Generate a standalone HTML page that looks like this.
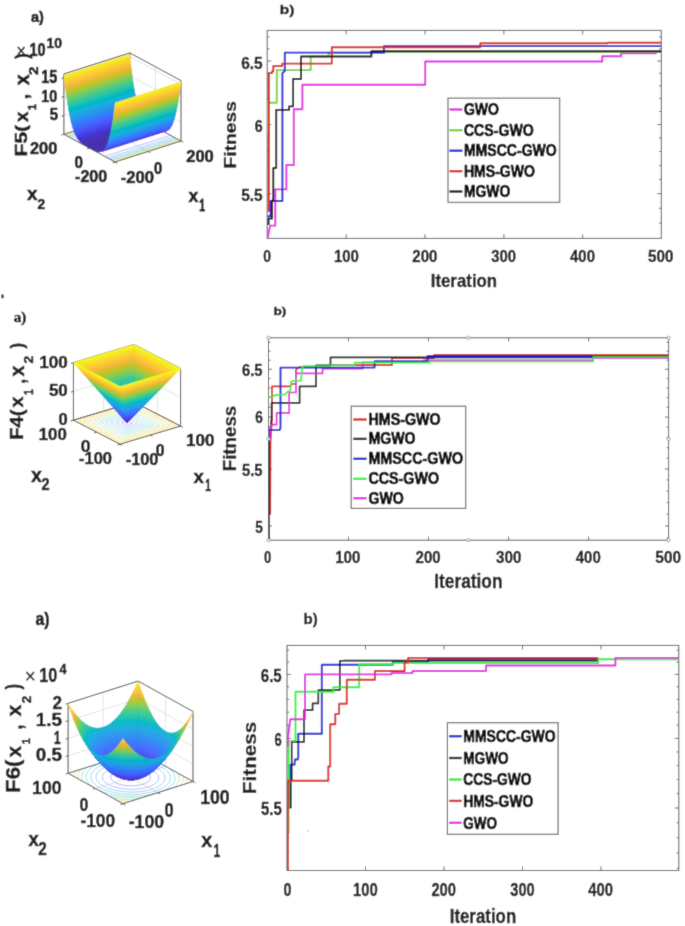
<!DOCTYPE html>
<html><head><meta charset="utf-8"><title>Figure</title>
<style>html,body{margin:0;padding:0;background:#fff}svg{display:block}</style>
</head><body>
<svg width="685" height="926" viewBox="0 0 685 926">
<defs><filter id="soft" filterUnits="userSpaceOnUse" x="0" y="0" width="685" height="926"><feConvolveMatrix order="3" kernelMatrix="0.0169 0.0962 0.0169 0.0962 0.5476 0.0962 0.0169 0.0962 0.0169" edgeMode="duplicate" preserveAlpha="true"/></filter></defs>
<rect width="685" height="926" fill="#fff"/>
<g filter="url(#soft)">
<rect width="685" height="926" fill="#fff"/>
<polygon points="115.1,162.0 181.0,141.0 129.8,113.3 63.9,134.3" fill="#fff"/>
<polygon points="63.9,134.3 129.8,113.3 129.8,52.9 63.9,73.9" fill="#fff"/>
<polygon points="129.8,113.3 181.0,141.0 181.0,80.6 129.8,52.9" fill="#fff"/>
<line x1="148.1" y1="151.5" x2="96.9" y2="123.8" stroke="#dcdcdc" stroke-width="0.8" />
<line x1="96.9" y1="123.8" x2="96.9" y2="63.4" stroke="#dcdcdc" stroke-width="0.8" />
<line x1="89.5" y1="148.2" x2="155.4" y2="127.2" stroke="#dcdcdc" stroke-width="0.8" />
<line x1="155.4" y1="127.2" x2="155.4" y2="66.8" stroke="#dcdcdc" stroke-width="0.8" />
<line x1="63.9" y1="115.4" x2="129.8" y2="94.4" stroke="#dcdcdc" stroke-width="0.8" />
<line x1="129.8" y1="94.4" x2="181.0" y2="122.1" stroke="#dcdcdc" stroke-width="0.8" />
<line x1="63.9" y1="96.6" x2="129.8" y2="75.6" stroke="#dcdcdc" stroke-width="0.8" />
<line x1="129.8" y1="75.6" x2="181.0" y2="103.2" stroke="#dcdcdc" stroke-width="0.8" />
<line x1="63.9" y1="77.7" x2="129.8" y2="56.7" stroke="#dcdcdc" stroke-width="0.8" />
<line x1="129.8" y1="56.7" x2="181.0" y2="84.4" stroke="#dcdcdc" stroke-width="0.8" />
<line x1="63.9" y1="134.3" x2="129.8" y2="113.3" stroke="#4a4a4a" stroke-width="1.0" />
<line x1="129.8" y1="113.3" x2="181.0" y2="141.0" stroke="#4a4a4a" stroke-width="1.0" />
<line x1="129.8" y1="113.3" x2="129.8" y2="52.9" stroke="#4a4a4a" stroke-width="1.0" />
<line x1="63.9" y1="73.9" x2="129.8" y2="52.9" stroke="#4a4a4a" stroke-width="1.0" />
<line x1="129.8" y1="52.9" x2="181.0" y2="80.6" stroke="#4a4a4a" stroke-width="1.0" />
<line x1="181.0" y1="141.0" x2="181.0" y2="80.6" stroke="#4a4a4a" stroke-width="1.0" />
<line x1="63.9" y1="134.3" x2="63.9" y2="73.9" stroke="#4a4a4a" stroke-width="1.0" />
<line x1="104.7" y1="156.4" x2="170.6" y2="135.4" stroke="#484cef" stroke-width="0.7" opacity="0.55"/>
<line x1="74.3" y1="139.9" x2="140.2" y2="118.9" stroke="#484cef" stroke-width="0.7" opacity="0.55"/>
<line x1="107.6" y1="157.9" x2="173.5" y2="136.9" stroke="#347afd" stroke-width="0.7" opacity="0.55"/>
<line x1="71.4" y1="138.4" x2="137.3" y2="117.4" stroke="#347afd" stroke-width="0.7" opacity="0.55"/>
<line x1="109.5" y1="159.0" x2="175.4" y2="138.0" stroke="#21a3e3" stroke-width="0.7" opacity="0.55"/>
<line x1="69.5" y1="137.3" x2="135.4" y2="116.3" stroke="#21a3e3" stroke-width="0.7" opacity="0.55"/>
<line x1="111.0" y1="159.8" x2="176.9" y2="138.8" stroke="#12beb9" stroke-width="0.7" opacity="0.55"/>
<line x1="68.0" y1="136.5" x2="133.9" y2="115.5" stroke="#12beb9" stroke-width="0.7" opacity="0.55"/>
<line x1="112.3" y1="160.5" x2="178.2" y2="139.5" stroke="#5ccc76" stroke-width="0.7" opacity="0.55"/>
<line x1="66.7" y1="135.8" x2="132.6" y2="114.8" stroke="#5ccc76" stroke-width="0.7" opacity="0.55"/>
<line x1="113.3" y1="161.0" x2="179.2" y2="140.0" stroke="#c8c129" stroke-width="0.7" opacity="0.55"/>
<line x1="65.7" y1="135.3" x2="131.6" y2="114.3" stroke="#c8c129" stroke-width="0.7" opacity="0.55"/>
<line x1="114.3" y1="161.5" x2="180.2" y2="140.5" stroke="#feca33" stroke-width="0.7" opacity="0.55"/>
<line x1="64.7" y1="134.8" x2="130.6" y2="113.8" stroke="#feca33" stroke-width="0.7" opacity="0.55"/>
<g stroke-linejoin="round">
<path d="M63.9 75.1L129.8 54.1L130.2 57.6L130.5 61.0L64.6 82.0L64.3 78.6Z" fill="#f5eb23" stroke="#f5eb23" stroke-width="0"/>
<path d="M64.3 78.6L130.2 57.6L130.5 61.0L130.9 64.2L65.0 85.2L64.6 82.0Z" fill="#f9d72c" stroke="#f9d72c" stroke-width="0"/>
<path d="M64.6 82.0L130.5 61.0L130.9 64.2L131.3 67.3L65.4 88.3L65.0 85.2Z" fill="#fec537" stroke="#fec537" stroke-width="0"/>
<path d="M65.0 85.2L130.9 64.2L131.3 67.3L131.6 70.3L65.7 91.3L65.4 88.3Z" fill="#f3ba39" stroke="#f3ba39" stroke-width="0"/>
<path d="M65.4 88.3L131.3 67.3L131.6 70.3L132.0 73.1L66.1 94.1L65.7 91.3Z" fill="#d9be28" stroke="#d9be28" stroke-width="0"/>
<path d="M65.7 91.3L131.6 70.3L132.0 73.1L132.4 75.8L66.5 96.8L66.1 94.1Z" fill="#bac430" stroke="#bac430" stroke-width="0"/>
<path d="M66.1 94.1L132.0 73.1L132.4 75.8L132.7 78.5L66.8 99.5L66.5 96.8Z" fill="#97ca47" stroke="#97ca47" stroke-width="0"/>
<path d="M66.5 96.8L132.4 75.8L132.7 78.5L133.1 80.9L67.2 101.9L66.8 99.5Z" fill="#74cc62" stroke="#74cc62" stroke-width="0"/>
<path d="M66.8 99.5L132.7 78.5L133.1 80.9L133.5 83.3L67.6 104.3L67.2 101.9Z" fill="#55cc7c" stroke="#55cc7c" stroke-width="0"/>
<path d="M67.2 101.9L133.1 80.9L133.5 83.3L133.8 85.6L67.9 106.6L67.6 104.3Z" fill="#3cc992" stroke="#3cc992" stroke-width="0"/>
<path d="M67.6 104.3L133.5 83.3L133.8 85.6L134.2 87.8L68.3 108.8L67.9 106.6Z" fill="#2ec5a3" stroke="#2ec5a3" stroke-width="0"/>
<path d="M67.9 106.6L133.8 85.6L134.2 87.8L134.6 89.8L68.7 110.8L68.3 108.8Z" fill="#1ec0b2" stroke="#1ec0b2" stroke-width="0"/>
<path d="M68.3 108.8L134.2 87.8L134.6 89.8L134.9 91.8L69.0 112.8L68.7 110.8Z" fill="#06bcc0" stroke="#06bcc0" stroke-width="0"/>
<path d="M68.7 110.8L134.6 89.8L134.9 91.8L135.3 93.7L69.4 114.7L69.0 112.8Z" fill="#03b6cc" stroke="#03b6cc" stroke-width="0"/>
<path d="M69.0 112.8L134.9 91.8L135.3 93.7L135.7 95.5L69.8 116.5L69.4 114.7Z" fill="#13b1d7" stroke="#13b1d7" stroke-width="0"/>
<path d="M69.4 114.7L135.3 93.7L135.7 95.5L136.0 97.2L70.1 118.2L69.8 116.5Z" fill="#1caadf" stroke="#1caadf" stroke-width="0"/>
<path d="M69.8 116.5L135.7 95.5L136.0 97.2L136.4 98.8L70.5 119.8L70.1 118.2Z" fill="#21a2e4" stroke="#21a2e4" stroke-width="0"/>
<path d="M70.1 118.2L136.0 97.2L136.4 98.8L136.7 100.4L70.8 121.4L70.5 119.8Z" fill="#259be8" stroke="#259be8" stroke-width="0"/>
<path d="M70.5 119.8L136.4 98.8L136.7 100.4L137.1 101.8L71.2 122.8L70.8 121.4Z" fill="#2994ed" stroke="#2994ed" stroke-width="0"/>
<path d="M70.8 121.4L136.7 100.4L137.1 101.8L137.5 103.2L71.6 124.2L71.2 122.8Z" fill="#2d8df2" stroke="#2d8df2" stroke-width="0"/>
<path d="M71.2 122.8L137.1 101.8L137.5 103.2L137.8 104.6L71.9 125.6L71.6 124.2Z" fill="#2e86f8" stroke="#2e86f8" stroke-width="0"/>
<path d="M71.6 124.2L137.5 103.2L137.8 104.6L138.2 105.8L72.3 126.8L71.9 125.6Z" fill="#307ffb" stroke="#307ffb" stroke-width="0"/>
<path d="M71.9 125.6L137.8 104.6L138.2 105.8L138.6 107.0L72.7 128.0L72.3 126.8Z" fill="#3677fe" stroke="#3677fe" stroke-width="0"/>
<path d="M72.3 126.8L138.2 105.8L138.6 107.0L138.9 108.1L73.0 129.1L72.7 128.0Z" fill="#3d70ff" stroke="#3d70ff" stroke-width="0"/>
<path d="M72.7 128.0L138.6 107.0L138.9 108.1L139.3 109.2L73.4 130.2L73.0 129.1Z" fill="#426afe" stroke="#426afe" stroke-width="0"/>
<path d="M73.0 129.1L138.9 108.1L139.3 109.2L139.7 110.2L73.8 131.2L73.4 130.2Z" fill="#4564fd" stroke="#4564fd" stroke-width="0"/>
<path d="M73.4 130.2L139.3 109.2L139.7 110.2L140.0 111.2L74.1 132.2L73.8 131.2Z" fill="#465efb" stroke="#465efb" stroke-width="0"/>
<path d="M73.8 131.2L139.7 110.2L140.0 111.2L140.4 112.1L74.5 133.1L74.1 132.2Z" fill="#4759f9" stroke="#4759f9" stroke-width="0"/>
<path d="M74.1 132.2L140.0 111.2L140.4 112.1L140.8 112.9L74.9 133.9L74.5 133.1Z" fill="#4755f6" stroke="#4755f6" stroke-width="0"/>
<path d="M74.5 133.1L140.4 112.1L140.8 112.9L141.1 113.7L75.2 134.7L74.9 133.9Z" fill="#4850f3" stroke="#4850f3" stroke-width="0"/>
<path d="M74.9 133.9L140.8 112.9L141.1 113.7L141.5 114.5L75.6 135.5L75.2 134.7Z" fill="#484cf0" stroke="#484cf0" stroke-width="0"/>
<path d="M75.2 134.7L141.1 113.7L141.5 114.5L141.9 115.2L76.0 136.2L75.6 135.5Z" fill="#4848ec" stroke="#4848ec" stroke-width="0"/>
<path d="M75.6 135.5L141.5 114.5L141.9 115.2L142.2 115.9L76.3 136.9L76.0 136.2Z" fill="#4744e8" stroke="#4744e8" stroke-width="0"/>
<path d="M76.0 136.2L141.9 115.2L142.2 115.9L142.6 116.5L76.7 137.5L76.3 136.9Z" fill="#4741e5" stroke="#4741e5" stroke-width="0"/>
<path d="M76.3 136.9L142.2 115.9L142.6 116.5L143.0 117.1L77.1 138.1L76.7 137.5Z" fill="#463ee1" stroke="#463ee1" stroke-width="0"/>
<path d="M76.7 137.5L142.6 116.5L143.0 117.1L143.3 117.7L77.4 138.7L77.1 138.1Z" fill="#463bdd" stroke="#463bdd" stroke-width="0"/>
<path d="M77.1 138.1L143.0 117.1L143.3 117.7L143.7 118.2L77.8 139.2L77.4 138.7Z" fill="#4539d8" stroke="#4539d8" stroke-width="0"/>
<path d="M77.4 138.7L143.3 117.7L143.7 118.2L144.1 118.7L78.2 139.7L77.8 139.2Z" fill="#4536d4" stroke="#4536d4" stroke-width="0"/>
<path d="M77.8 139.2L143.7 118.2L144.1 118.7L144.4 119.2L78.5 140.2L78.2 139.7Z" fill="#4435d0" stroke="#4435d0" stroke-width="0"/>
<path d="M78.2 139.7L144.1 118.7L144.4 119.2L144.8 119.7L78.9 140.7L78.5 140.2Z" fill="#4433cc" stroke="#4433cc" stroke-width="0"/>
<path d="M78.5 140.2L144.4 119.2L144.8 119.7L145.2 120.1L79.3 141.1L78.9 140.7Z" fill="#4331c8" stroke="#4331c8" stroke-width="0"/>
<path d="M78.9 140.7L144.8 119.7L145.2 120.1L145.5 120.5L79.6 141.5L79.3 141.1Z" fill="#4330c4" stroke="#4330c4" stroke-width="0"/>
<path d="M79.3 141.1L145.2 120.1L145.5 120.5L145.9 120.9L80.0 141.9L79.6 141.5Z" fill="#422fc1" stroke="#422fc1" stroke-width="0"/>
<path d="M79.6 141.5L145.5 120.5L145.9 120.9L146.3 121.2L80.4 142.2L80.0 141.9Z" fill="#422ebe" stroke="#422ebe" stroke-width="0"/>
<path d="M80.0 141.9L145.9 120.9L146.3 121.2L146.6 121.6L80.7 142.6L80.4 142.2Z" fill="#412dbb" stroke="#412dbb" stroke-width="0"/>
<path d="M80.4 142.2L146.3 121.2L146.6 121.6L147.0 121.9L81.1 142.9L80.7 142.6Z" fill="#412cb9" stroke="#412cb9" stroke-width="0"/>
<path d="M80.7 142.6L146.6 121.6L147.0 121.9L147.4 122.2L81.5 143.2L81.1 142.9Z" fill="#402bb7" stroke="#402bb7" stroke-width="0"/>
<path d="M81.1 142.9L147.0 121.9L147.4 122.2L147.7 122.5L81.8 143.5L81.5 143.2Z" fill="#402ab5" stroke="#402ab5" stroke-width="0"/>
<path d="M81.5 143.2L147.4 122.2L147.7 122.5L148.1 122.8L82.2 143.8L81.8 143.5Z" fill="#402ab3" stroke="#402ab3" stroke-width="0"/>
<path d="M81.8 143.5L147.7 122.5L148.1 122.8L148.5 123.1L82.6 144.1L82.2 143.8Z" fill="#3f29b1" stroke="#3f29b1" stroke-width="0"/>
<path d="M82.2 143.8L148.1 122.8L148.5 123.1L148.8 123.3L82.9 144.3L82.6 144.1Z" fill="#3f29b0" stroke="#3f29b0" stroke-width="0"/>
<path d="M82.6 144.1L148.5 123.1L148.8 123.3L149.2 123.6L83.3 144.6L82.9 144.3Z" fill="#3f28af" stroke="#3f28af" stroke-width="0"/>
<path d="M82.9 144.3L148.8 123.3L149.2 123.6L149.5 123.8L83.6 144.8L83.3 144.6Z" fill="#3f28ad" stroke="#3f28ad" stroke-width="0"/>
<path d="M83.3 144.6L149.2 123.6L149.5 123.8L149.9 124.1L84.0 145.1L83.6 144.8Z" fill="#3e28ad" stroke="#3e28ad" stroke-width="0"/>
<path d="M83.6 144.8L149.5 123.8L149.9 124.1L150.3 124.3L84.4 145.3L84.0 145.1Z" fill="#3e27ac" stroke="#3e27ac" stroke-width="0"/>
<path d="M84.0 145.1L149.9 124.1L150.3 124.3L150.6 124.5L84.7 145.5L84.4 145.3Z" fill="#3e27ab" stroke="#3e27ab" stroke-width="0"/>
<path d="M84.4 145.3L150.3 124.3L150.6 124.5L151.0 124.7L85.1 145.7L84.7 145.5Z" fill="#3e27aa" stroke="#3e27aa" stroke-width="0"/>
<path d="M84.7 145.5L150.6 124.5L151.0 124.7L151.4 124.9L85.5 145.9L85.1 145.7Z" fill="#3e27aa" stroke="#3e27aa" stroke-width="0"/>
<path d="M85.1 145.7L151.0 124.7L151.4 124.9L151.7 125.1L85.8 146.1L85.5 145.9Z" fill="#3e27aa" stroke="#3e27aa" stroke-width="0"/>
<path d="M85.5 145.9L151.4 124.9L151.7 125.1L152.1 125.4L86.2 146.4L85.8 146.1Z" fill="#3e27a9" stroke="#3e27a9" stroke-width="0"/>
<path d="M85.8 146.1L151.7 125.1L152.1 125.4L152.5 125.6L86.6 146.6L86.2 146.4Z" fill="#3e27a9" stroke="#3e27a9" stroke-width="0"/>
<path d="M86.2 146.4L152.1 125.4L152.5 125.6L152.8 125.8L86.9 146.8L86.6 146.6Z" fill="#3e26a9" stroke="#3e26a9" stroke-width="0"/>
<path d="M86.6 146.6L152.5 125.6L152.8 125.8L153.2 126.0L87.3 147.0L86.9 146.8Z" fill="#3e26a9" stroke="#3e26a9" stroke-width="0"/>
<path d="M86.9 146.8L152.8 125.8L153.2 126.0L153.6 126.2L87.7 147.2L87.3 147.0Z" fill="#3e26a9" stroke="#3e26a9" stroke-width="0"/>
<path d="M87.3 147.0L153.2 126.0L153.6 126.2L153.9 126.4L88.0 147.4L87.7 147.2Z" fill="#3e26a8" stroke="#3e26a8" stroke-width="0"/>
<path d="M87.7 147.2L153.6 126.2L153.9 126.4L154.3 126.6L88.4 147.6L88.0 147.4Z" fill="#3e26a8" stroke="#3e26a8" stroke-width="0"/>
<path d="M88.0 147.4L153.9 126.4L154.3 126.6L154.7 126.8L88.8 147.8L88.4 147.6Z" fill="#3e26a8" stroke="#3e26a8" stroke-width="0"/>
<path d="M88.4 147.6L154.3 126.6L154.7 126.8L155.0 127.0L89.1 148.0L88.8 147.8Z" fill="#3e26a8" stroke="#3e26a8" stroke-width="0"/>
<path d="M88.8 147.8L154.7 126.8L155.0 127.0L155.4 127.2L89.5 148.2L89.1 148.0Z" fill="#3e26a8" stroke="#3e26a8" stroke-width="0"/>
<path d="M89.1 148.0L155.0 127.0L155.4 127.2L155.8 127.3L89.9 148.3L89.5 148.2Z" fill="#3e26a8" stroke="#3e26a8" stroke-width="0"/>
<path d="M89.5 148.2L155.4 127.2L155.8 127.3L156.1 127.5L90.2 148.5L89.9 148.3Z" fill="#3e26a8" stroke="#3e26a8" stroke-width="0"/>
<path d="M89.9 148.3L155.8 127.3L156.1 127.5L156.5 127.7L90.6 148.7L90.2 148.5Z" fill="#3e26a8" stroke="#3e26a8" stroke-width="0"/>
<path d="M90.2 148.5L156.1 127.5L156.5 127.7L156.9 127.9L91.0 148.9L90.6 148.7Z" fill="#3e26a8" stroke="#3e26a8" stroke-width="0"/>
<path d="M90.6 148.7L156.5 127.7L156.9 127.9L157.2 128.1L91.3 149.1L91.0 148.9Z" fill="#3e26a8" stroke="#3e26a8" stroke-width="0"/>
<path d="M91.0 148.9L156.9 127.9L157.2 128.1L157.6 128.3L91.7 149.3L91.3 149.1Z" fill="#3e26a8" stroke="#3e26a8" stroke-width="0"/>
<path d="M91.3 149.1L157.2 128.1L157.6 128.3L158.0 128.5L92.1 149.5L91.7 149.3Z" fill="#3e26a8" stroke="#3e26a8" stroke-width="0"/>
<path d="M91.7 149.3L157.6 128.3L158.0 128.5L158.3 128.7L92.4 149.7L92.1 149.5Z" fill="#3e26a9" stroke="#3e26a9" stroke-width="0"/>
<path d="M92.1 149.5L158.0 128.5L158.3 128.7L158.7 128.9L92.8 149.9L92.4 149.7Z" fill="#3e26a9" stroke="#3e26a9" stroke-width="0"/>
<path d="M92.4 149.7L158.3 128.7L158.7 128.9L159.1 129.1L93.2 150.1L92.8 149.9Z" fill="#3e26a9" stroke="#3e26a9" stroke-width="0"/>
<path d="M92.8 149.9L158.7 128.9L159.1 129.1L159.4 129.3L93.5 150.3L93.2 150.1Z" fill="#3e27a9" stroke="#3e27a9" stroke-width="0"/>
<path d="M93.2 150.1L159.1 129.1L159.4 129.3L159.8 129.5L93.9 150.5L93.5 150.3Z" fill="#3e27a9" stroke="#3e27a9" stroke-width="0"/>
<path d="M93.5 150.3L159.4 129.3L159.8 129.5L160.2 129.7L94.3 150.7L93.9 150.5Z" fill="#3e27aa" stroke="#3e27aa" stroke-width="0"/>
<path d="M93.9 150.5L159.8 129.5L160.2 129.7L160.5 129.8L94.6 150.8L94.3 150.7Z" fill="#3e27aa" stroke="#3e27aa" stroke-width="0"/>
<path d="M94.3 150.7L160.2 129.7L160.5 129.8L160.9 130.0L95.0 151.0L94.6 150.8Z" fill="#3e27aa" stroke="#3e27aa" stroke-width="0"/>
<path d="M94.6 150.8L160.5 129.8L160.9 130.0L161.3 130.2L95.4 151.2L95.0 151.0Z" fill="#3e27ab" stroke="#3e27ab" stroke-width="0"/>
<path d="M95.0 151.0L160.9 130.0L161.3 130.2L161.6 130.3L95.7 151.3L95.4 151.2Z" fill="#3e27ac" stroke="#3e27ac" stroke-width="0"/>
<path d="M95.4 151.2L161.3 130.2L161.6 130.3L162.0 130.5L96.1 151.5L95.7 151.3Z" fill="#3e28ad" stroke="#3e28ad" stroke-width="0"/>
<path d="M95.7 151.3L161.6 130.3L162.0 130.5L162.3 130.6L96.4 151.6L96.1 151.5Z" fill="#3f28ad" stroke="#3f28ad" stroke-width="0"/>
<path d="M96.1 151.5L162.0 130.5L162.3 130.6L162.7 130.7L96.8 151.7L96.4 151.6Z" fill="#3f28af" stroke="#3f28af" stroke-width="0"/>
<path d="M96.4 151.6L162.3 130.6L162.7 130.7L163.1 130.8L97.2 151.8L96.8 151.7Z" fill="#3f29b0" stroke="#3f29b0" stroke-width="0"/>
<path d="M96.8 151.7L162.7 130.7L163.1 130.8L163.4 130.9L97.5 151.9L97.2 151.8Z" fill="#3f29b1" stroke="#3f29b1" stroke-width="0"/>
<path d="M97.2 151.8L163.1 130.8L163.4 130.9L163.8 131.0L97.9 152.0L97.5 151.9Z" fill="#402ab3" stroke="#402ab3" stroke-width="0"/>
<path d="M97.5 151.9L163.4 130.9L163.8 131.0L164.2 131.1L98.3 152.1L97.9 152.0Z" fill="#402ab5" stroke="#402ab5" stroke-width="0"/>
<path d="M97.9 152.0L163.8 131.0L164.2 131.1L164.5 131.1L98.6 152.1L98.3 152.1Z" fill="#402bb7" stroke="#402bb7" stroke-width="0"/>
<path d="M98.3 152.1L164.2 131.1L164.5 131.1L164.9 131.2L99.0 152.2L98.6 152.1Z" fill="#412cb9" stroke="#412cb9" stroke-width="0"/>
<path d="M98.6 152.1L164.5 131.1L164.9 131.2L165.3 131.2L99.4 152.2L99.0 152.2Z" fill="#412dbb" stroke="#412dbb" stroke-width="0"/>
<path d="M99.0 152.2L164.9 131.2L165.3 131.2L165.6 131.2L99.7 152.2L99.4 152.2Z" fill="#422ebe" stroke="#422ebe" stroke-width="0"/>
<path d="M99.4 152.2L165.3 131.2L165.6 131.2L166.0 131.1L100.1 152.1L99.7 152.2Z" fill="#422fc1" stroke="#422fc1" stroke-width="0"/>
<path d="M99.7 152.2L165.6 131.2L166.0 131.1L166.4 131.1L100.5 152.1L100.1 152.1Z" fill="#4330c4" stroke="#4330c4" stroke-width="0"/>
<path d="M100.1 152.1L166.0 131.1L166.4 131.1L166.7 131.0L100.8 152.0L100.5 152.1Z" fill="#4331c8" stroke="#4331c8" stroke-width="0"/>
<path d="M100.5 152.1L166.4 131.1L166.7 131.0L167.1 130.9L101.2 151.9L100.8 152.0Z" fill="#4433cc" stroke="#4433cc" stroke-width="0"/>
<path d="M100.8 152.0L166.7 131.0L167.1 130.9L167.5 130.8L101.6 151.8L101.2 151.9Z" fill="#4435d0" stroke="#4435d0" stroke-width="0"/>
<path d="M101.2 151.9L167.1 130.9L167.5 130.8L167.8 130.6L101.9 151.6L101.6 151.8Z" fill="#4536d4" stroke="#4536d4" stroke-width="0"/>
<path d="M101.6 151.8L167.5 130.8L167.8 130.6L168.2 130.4L102.3 151.4L101.9 151.6Z" fill="#4539d8" stroke="#4539d8" stroke-width="0"/>
<path d="M101.9 151.6L167.8 130.6L168.2 130.4L168.6 130.1L102.7 151.1L102.3 151.4Z" fill="#463bdd" stroke="#463bdd" stroke-width="0"/>
<path d="M102.3 151.4L168.2 130.4L168.6 130.1L168.9 129.9L103.0 150.9L102.7 151.1Z" fill="#463ee1" stroke="#463ee1" stroke-width="0"/>
<path d="M102.7 151.1L168.6 130.1L168.9 129.9L169.3 129.5L103.4 150.5L103.0 150.9Z" fill="#4741e5" stroke="#4741e5" stroke-width="0"/>
<path d="M103.0 150.9L168.9 129.9L169.3 129.5L169.7 129.2L103.8 150.2L103.4 150.5Z" fill="#4744e8" stroke="#4744e8" stroke-width="0"/>
<path d="M103.4 150.5L169.3 129.5L169.7 129.2L170.0 128.8L104.1 149.8L103.8 150.2Z" fill="#4848ec" stroke="#4848ec" stroke-width="0"/>
<path d="M103.8 150.2L169.7 129.2L170.0 128.8L170.4 128.3L104.5 149.3L104.1 149.8Z" fill="#484cf0" stroke="#484cf0" stroke-width="0"/>
<path d="M104.1 149.8L170.0 128.8L170.4 128.3L170.8 127.8L104.9 148.8L104.5 149.3Z" fill="#4850f3" stroke="#4850f3" stroke-width="0"/>
<path d="M104.5 149.3L170.4 128.3L170.8 127.8L171.1 127.2L105.2 148.2L104.9 148.8Z" fill="#4755f6" stroke="#4755f6" stroke-width="0"/>
<path d="M104.9 148.8L170.8 127.8L171.1 127.2L171.5 126.6L105.6 147.6L105.2 148.2Z" fill="#4759f9" stroke="#4759f9" stroke-width="0"/>
<path d="M105.2 148.2L171.1 127.2L171.5 126.6L171.9 125.9L106.0 146.9L105.6 147.6Z" fill="#465efb" stroke="#465efb" stroke-width="0"/>
<path d="M105.6 147.6L171.5 126.6L171.9 125.9L172.2 125.2L106.3 146.2L106.0 146.9Z" fill="#4564fd" stroke="#4564fd" stroke-width="0"/>
<path d="M106.0 146.9L171.9 125.9L172.2 125.2L172.6 124.4L106.7 145.4L106.3 146.2Z" fill="#426afe" stroke="#426afe" stroke-width="0"/>
<path d="M106.3 146.2L172.2 125.2L172.6 124.4L173.0 123.6L107.1 144.6L106.7 145.4Z" fill="#3d70ff" stroke="#3d70ff" stroke-width="0"/>
<path d="M106.7 145.4L172.6 124.4L173.0 123.6L173.3 122.6L107.4 143.6L107.1 144.6Z" fill="#3677fe" stroke="#3677fe" stroke-width="0"/>
<path d="M107.1 144.6L173.0 123.6L173.3 122.6L173.7 121.6L107.8 142.6L107.4 143.6Z" fill="#307ffb" stroke="#307ffb" stroke-width="0"/>
<path d="M107.4 143.6L173.3 122.6L173.7 121.6L174.1 120.6L108.2 141.6L107.8 142.6Z" fill="#2e86f8" stroke="#2e86f8" stroke-width="0"/>
<path d="M107.8 142.6L173.7 121.6L174.1 120.6L174.4 119.4L108.5 140.4L108.2 141.6Z" fill="#2d8df2" stroke="#2d8df2" stroke-width="0"/>
<path d="M108.2 141.6L174.1 120.6L174.4 119.4L174.8 118.2L108.9 139.2L108.5 140.4Z" fill="#2994ed" stroke="#2994ed" stroke-width="0"/>
<path d="M108.5 140.4L174.4 119.4L174.8 118.2L175.1 116.9L109.2 137.9L108.9 139.2Z" fill="#259be8" stroke="#259be8" stroke-width="0"/>
<path d="M108.9 139.2L174.8 118.2L175.1 116.9L175.5 115.5L109.6 136.5L109.2 137.9Z" fill="#21a2e4" stroke="#21a2e4" stroke-width="0"/>
<path d="M109.2 137.9L175.1 116.9L175.5 115.5L175.9 114.0L110.0 135.0L109.6 136.5Z" fill="#1caadf" stroke="#1caadf" stroke-width="0"/>
<path d="M109.6 136.5L175.5 115.5L175.9 114.0L176.2 112.4L110.3 133.4L110.0 135.0Z" fill="#13b1d7" stroke="#13b1d7" stroke-width="0"/>
<path d="M110.0 135.0L175.9 114.0L176.2 112.4L176.6 110.7L110.7 131.7L110.3 133.4Z" fill="#03b6cc" stroke="#03b6cc" stroke-width="0"/>
<path d="M110.3 133.4L176.2 112.4L176.6 110.7L177.0 109.0L111.1 130.0L110.7 131.7Z" fill="#06bcc0" stroke="#06bcc0" stroke-width="0"/>
<path d="M110.7 131.7L176.6 110.7L177.0 109.0L177.3 107.1L111.4 128.1L111.1 130.0Z" fill="#1ec0b2" stroke="#1ec0b2" stroke-width="0"/>
<path d="M111.1 130.0L177.0 109.0L177.3 107.1L177.7 105.1L111.8 126.1L111.4 128.1Z" fill="#2ec5a3" stroke="#2ec5a3" stroke-width="0"/>
<path d="M111.4 128.1L177.3 107.1L177.7 105.1L178.1 103.0L112.2 124.0L111.8 126.1Z" fill="#3cc992" stroke="#3cc992" stroke-width="0"/>
<path d="M111.8 126.1L177.7 105.1L178.1 103.0L178.4 100.8L112.5 121.8L112.2 124.0Z" fill="#55cc7c" stroke="#55cc7c" stroke-width="0"/>
<path d="M112.2 124.0L178.1 103.0L178.4 100.8L178.8 98.5L112.9 119.5L112.5 121.8Z" fill="#74cc62" stroke="#74cc62" stroke-width="0"/>
<path d="M112.5 121.8L178.4 100.8L178.8 98.5L179.2 96.0L113.3 117.0L112.9 119.5Z" fill="#97ca47" stroke="#97ca47" stroke-width="0"/>
<path d="M112.9 119.5L178.8 98.5L179.2 96.0L179.5 93.4L113.6 114.4L113.3 117.0Z" fill="#bac430" stroke="#bac430" stroke-width="0"/>
<path d="M113.3 117.0L179.2 96.0L179.5 93.4L179.9 90.7L114.0 111.7L113.6 114.4Z" fill="#d9be28" stroke="#d9be28" stroke-width="0"/>
<path d="M113.6 114.4L179.5 93.4L179.9 90.7L180.3 87.9L114.4 108.9L114.0 111.7Z" fill="#f3ba39" stroke="#f3ba39" stroke-width="0"/>
<path d="M114.0 111.7L179.9 90.7L180.3 87.9L180.6 84.9L114.7 105.9L114.4 108.9Z" fill="#fec537" stroke="#fec537" stroke-width="0"/>
<path d="M114.4 108.9L180.3 87.9L180.6 84.9L181.0 81.8L115.1 102.8L114.7 105.9Z" fill="#f9d72c" stroke="#f9d72c" stroke-width="0"/>
<path d="M114.7 105.9L180.6 84.9L181.0 81.8L181.0 81.8L115.1 102.8L115.1 102.8Z" fill="#f5eb23" stroke="#f5eb23" stroke-width="0"/>
</g>
<line x1="115.1" y1="162.0" x2="181.0" y2="141.0" stroke="#4a4a4a" stroke-width="1.0" />
<line x1="115.1" y1="162.0" x2="63.9" y2="134.3" stroke="#4a4a4a" stroke-width="1.0" />
<line x1="115.1" y1="162.0" x2="117.4" y2="163.2" stroke="#4a4a4a" stroke-width="0.9" />
<line x1="148.1" y1="151.5" x2="150.3" y2="152.7" stroke="#4a4a4a" stroke-width="0.9" />
<line x1="181.0" y1="141.0" x2="183.3" y2="142.2" stroke="#4a4a4a" stroke-width="0.9" />
<line x1="115.1" y1="162.0" x2="112.6" y2="162.8" stroke="#4a4a4a" stroke-width="0.9" />
<line x1="89.5" y1="148.2" x2="87.0" y2="148.9" stroke="#4a4a4a" stroke-width="0.9" />
<line x1="63.9" y1="134.3" x2="61.4" y2="135.1" stroke="#4a4a4a" stroke-width="0.9" />
<line x1="63.9" y1="115.4" x2="61.4" y2="116.2" stroke="#4a4a4a" stroke-width="0.9" />
<line x1="63.9" y1="96.6" x2="61.4" y2="97.3" stroke="#4a4a4a" stroke-width="0.9" />
<line x1="63.9" y1="77.7" x2="61.4" y2="78.5" stroke="#4a4a4a" stroke-width="0.9" />
<polygon points="120.0,444.2 180.6,426.1 134.0,402.1 73.4,420.2" fill="#fff"/>
<polygon points="73.4,420.2 134.0,402.1 134.0,344.5 73.4,362.6" fill="#fff"/>
<polygon points="134.0,402.1 180.6,426.1 180.6,368.5 134.0,344.5" fill="#fff"/>
<line x1="150.3" y1="435.1" x2="103.7" y2="411.1" stroke="#dcdcdc" stroke-width="0.8" />
<line x1="103.7" y1="411.1" x2="103.7" y2="353.5" stroke="#dcdcdc" stroke-width="0.8" />
<line x1="96.7" y1="432.2" x2="157.3" y2="414.1" stroke="#dcdcdc" stroke-width="0.8" />
<line x1="157.3" y1="414.1" x2="157.3" y2="356.5" stroke="#dcdcdc" stroke-width="0.8" />
<line x1="73.4" y1="391.4" x2="134.0" y2="373.3" stroke="#dcdcdc" stroke-width="0.8" />
<line x1="134.0" y1="373.3" x2="180.6" y2="397.3" stroke="#dcdcdc" stroke-width="0.8" />
<line x1="73.4" y1="420.2" x2="134.0" y2="402.1" stroke="#4a4a4a" stroke-width="1.0" />
<line x1="134.0" y1="402.1" x2="180.6" y2="426.1" stroke="#4a4a4a" stroke-width="1.0" />
<line x1="134.0" y1="402.1" x2="134.0" y2="344.5" stroke="#4a4a4a" stroke-width="1.0" />
<line x1="73.4" y1="362.6" x2="134.0" y2="344.5" stroke="#4a4a4a" stroke-width="1.0" />
<line x1="134.0" y1="344.5" x2="180.6" y2="368.5" stroke="#4a4a4a" stroke-width="1.0" />
<line x1="180.6" y1="426.1" x2="180.6" y2="368.5" stroke="#4a4a4a" stroke-width="1.0" />
<line x1="73.4" y1="420.2" x2="73.4" y2="362.6" stroke="#4a4a4a" stroke-width="1.0" />
<polygon points="120.0,444.2 180.6,426.1 134.0,402.1 73.4,420.2" fill="#fbf9dc"/>
<polygon points="121.1,440.8 172.0,425.6 132.9,405.5 82.0,420.7" fill="#fdfdf4"/>
<polygon points="122.0,438.3 165.6,425.3 132.0,408.0 88.4,421.0" fill="#ffffff"/>
<polygon points="126.3,425.3 132.4,423.4 127.7,421.0 121.6,422.9" fill="none" stroke="#4743e7" stroke-width="0.6" opacity="0.5"/>
<polygon points="125.6,427.4 137.7,423.7 128.4,418.9 116.3,422.6" fill="none" stroke="#4367fd" stroke-width="0.6" opacity="0.5"/>
<polygon points="124.9,429.5 143.1,424.0 129.1,416.8 110.9,422.3" fill="none" stroke="#2d8cf3" stroke-width="0.6" opacity="0.5"/>
<polygon points="124.2,431.6 148.4,424.3 129.8,414.7 105.6,422.0" fill="none" stroke="#1caadf" stroke-width="0.6" opacity="0.5"/>
<polygon points="123.5,433.7 153.8,424.6 130.5,412.6 100.2,421.7" fill="none" stroke="#12beb9" stroke-width="0.6" opacity="0.5"/>
<polygon points="122.8,435.8 159.2,424.9 131.2,410.5 94.8,421.4" fill="none" stroke="#48cb86" stroke-width="0.6" opacity="0.5"/>
<polygon points="122.1,437.9 164.5,425.2 131.9,408.4 89.5,421.1" fill="none" stroke="#9fc942" stroke-width="0.6" opacity="0.5"/>
<polygon points="121.4,440.0 169.9,425.5 132.6,406.3 84.1,420.8" fill="none" stroke="#eaba31" stroke-width="0.6" opacity="0.5"/>
<polygon points="120.7,442.1 175.2,425.8 133.3,404.2 78.8,420.5" fill="none" stroke="#fad42e" stroke-width="0.6" opacity="0.5"/>
<polygon points="120.0,444.2 180.6,426.1 134.0,402.1 73.4,420.2" fill="none" stroke="#f9fb15" stroke-width="0.6" opacity="0.5"/>
<line x1="73.4" y1="420.2" x2="134.0" y2="402.1" stroke="#4a4a4a" stroke-width="1.0" />
<line x1="134.0" y1="402.1" x2="180.6" y2="426.1" stroke="#4a4a4a" stroke-width="1.0" />
<linearGradient id="g2a" gradientUnits="userSpaceOnUse" x1="127.00" y1="423.15" x2="106.01" y2="352.86"><stop offset="0.0000" stop-color="#3e26a8"/><stop offset="0.0312" stop-color="#422ebf"/><stop offset="0.0625" stop-color="#4536d5"/><stop offset="0.0938" stop-color="#4741e5"/><stop offset="0.1250" stop-color="#484cef"/><stop offset="0.1562" stop-color="#4757f7"/><stop offset="0.1875" stop-color="#4562fc"/><stop offset="0.2188" stop-color="#3f6efe"/><stop offset="0.2500" stop-color="#347afd"/><stop offset="0.2812" stop-color="#2e85f8"/><stop offset="0.3125" stop-color="#2c90f0"/><stop offset="0.3438" stop-color="#269ae9"/><stop offset="0.3750" stop-color="#21a3e3"/><stop offset="0.4062" stop-color="#1aacdd"/><stop offset="0.4375" stop-color="#0cb3d3"/><stop offset="0.4688" stop-color="#01b9c6"/><stop offset="0.5000" stop-color="#12beb9"/><stop offset="0.5312" stop-color="#28c2ab"/><stop offset="0.5625" stop-color="#34c79c"/><stop offset="0.5938" stop-color="#44ca8a"/><stop offset="0.6250" stop-color="#5ccc76"/><stop offset="0.6562" stop-color="#77cc60"/><stop offset="0.6875" stop-color="#94ca4a"/><stop offset="0.7188" stop-color="#afc637"/><stop offset="0.7500" stop-color="#c8c129"/><stop offset="0.7812" stop-color="#debc2a"/><stop offset="0.8125" stop-color="#f1ba37"/><stop offset="0.8438" stop-color="#febe3c"/><stop offset="0.8750" stop-color="#feca33"/><stop offset="0.9062" stop-color="#f9d62d"/><stop offset="0.9375" stop-color="#f5e327"/><stop offset="0.9688" stop-color="#f6ef20"/><stop offset="1.0000" stop-color="#f9fb15"/></linearGradient>
<polygon points="127.0,423.1 73.4,362.6 134.0,344.5" fill="url(#g2a)" stroke="url(#g2a)" stroke-width="0.5" stroke-linejoin="round"/>
<linearGradient id="g2b" gradientUnits="userSpaceOnUse" x1="127.00" y1="423.15" x2="160.48" y2="358.14"><stop offset="0.0000" stop-color="#3e26a8"/><stop offset="0.0312" stop-color="#422ebf"/><stop offset="0.0625" stop-color="#4536d5"/><stop offset="0.0938" stop-color="#4741e5"/><stop offset="0.1250" stop-color="#484cef"/><stop offset="0.1562" stop-color="#4757f7"/><stop offset="0.1875" stop-color="#4562fc"/><stop offset="0.2188" stop-color="#3f6efe"/><stop offset="0.2500" stop-color="#347afd"/><stop offset="0.2812" stop-color="#2e85f8"/><stop offset="0.3125" stop-color="#2c90f0"/><stop offset="0.3438" stop-color="#269ae9"/><stop offset="0.3750" stop-color="#21a3e3"/><stop offset="0.4062" stop-color="#1aacdd"/><stop offset="0.4375" stop-color="#0cb3d3"/><stop offset="0.4688" stop-color="#01b9c6"/><stop offset="0.5000" stop-color="#12beb9"/><stop offset="0.5312" stop-color="#28c2ab"/><stop offset="0.5625" stop-color="#34c79c"/><stop offset="0.5938" stop-color="#44ca8a"/><stop offset="0.6250" stop-color="#5ccc76"/><stop offset="0.6562" stop-color="#77cc60"/><stop offset="0.6875" stop-color="#94ca4a"/><stop offset="0.7188" stop-color="#afc637"/><stop offset="0.7500" stop-color="#c8c129"/><stop offset="0.7812" stop-color="#debc2a"/><stop offset="0.8125" stop-color="#f1ba37"/><stop offset="0.8438" stop-color="#febe3c"/><stop offset="0.8750" stop-color="#feca33"/><stop offset="0.9062" stop-color="#f9d62d"/><stop offset="0.9375" stop-color="#f5e327"/><stop offset="0.9688" stop-color="#f6ef20"/><stop offset="1.0000" stop-color="#f9fb15"/></linearGradient>
<polygon points="127.0,423.1 134.0,344.5 180.6,368.5" fill="url(#g2b)" stroke="url(#g2b)" stroke-width="0.5" stroke-linejoin="round"/>
<linearGradient id="g2c" gradientUnits="userSpaceOnUse" x1="127.00" y1="423.15" x2="140.41" y2="397.11"><stop offset="0.0000" stop-color="#3e26a8"/><stop offset="0.0312" stop-color="#422ebf"/><stop offset="0.0625" stop-color="#4536d5"/><stop offset="0.0938" stop-color="#4741e5"/><stop offset="0.1250" stop-color="#484cef"/><stop offset="0.1562" stop-color="#4757f7"/><stop offset="0.1875" stop-color="#4562fc"/><stop offset="0.2188" stop-color="#3f6efe"/><stop offset="0.2500" stop-color="#347afd"/><stop offset="0.2812" stop-color="#2e85f8"/><stop offset="0.3125" stop-color="#2c90f0"/><stop offset="0.3438" stop-color="#269ae9"/><stop offset="0.3750" stop-color="#21a3e3"/><stop offset="0.4062" stop-color="#1aacdd"/><stop offset="0.4375" stop-color="#0cb3d3"/><stop offset="0.4688" stop-color="#01b9c6"/><stop offset="0.5000" stop-color="#12beb9"/><stop offset="0.5312" stop-color="#28c2ab"/><stop offset="0.5625" stop-color="#34c79c"/><stop offset="0.5938" stop-color="#44ca8a"/><stop offset="0.6250" stop-color="#5ccc76"/><stop offset="0.6562" stop-color="#77cc60"/><stop offset="0.6875" stop-color="#94ca4a"/><stop offset="0.7188" stop-color="#afc637"/><stop offset="0.7500" stop-color="#c8c129"/><stop offset="0.7812" stop-color="#debc2a"/><stop offset="0.8125" stop-color="#f1ba37"/><stop offset="0.8438" stop-color="#febe3c"/><stop offset="0.8750" stop-color="#feca33"/><stop offset="0.9062" stop-color="#f9d62d"/><stop offset="0.9375" stop-color="#f5e327"/><stop offset="0.9688" stop-color="#f6ef20"/><stop offset="1.0000" stop-color="#f9fb15"/></linearGradient>
<polygon points="127.0,423.1 73.4,362.6 120.0,386.6" fill="url(#g2c)" stroke="url(#g2c)" stroke-width="0.5" stroke-linejoin="round"/>
<linearGradient id="g2d" gradientUnits="userSpaceOnUse" x1="127.00" y1="423.15" x2="116.40" y2="387.67"><stop offset="0.0000" stop-color="#3e26a8"/><stop offset="0.0312" stop-color="#422ebf"/><stop offset="0.0625" stop-color="#4536d5"/><stop offset="0.0938" stop-color="#4741e5"/><stop offset="0.1250" stop-color="#484cef"/><stop offset="0.1562" stop-color="#4757f7"/><stop offset="0.1875" stop-color="#4562fc"/><stop offset="0.2188" stop-color="#3f6efe"/><stop offset="0.2500" stop-color="#347afd"/><stop offset="0.2812" stop-color="#2e85f8"/><stop offset="0.3125" stop-color="#2c90f0"/><stop offset="0.3438" stop-color="#269ae9"/><stop offset="0.3750" stop-color="#21a3e3"/><stop offset="0.4062" stop-color="#1aacdd"/><stop offset="0.4375" stop-color="#0cb3d3"/><stop offset="0.4688" stop-color="#01b9c6"/><stop offset="0.5000" stop-color="#12beb9"/><stop offset="0.5312" stop-color="#28c2ab"/><stop offset="0.5625" stop-color="#34c79c"/><stop offset="0.5938" stop-color="#44ca8a"/><stop offset="0.6250" stop-color="#5ccc76"/><stop offset="0.6562" stop-color="#77cc60"/><stop offset="0.6875" stop-color="#94ca4a"/><stop offset="0.7188" stop-color="#afc637"/><stop offset="0.7500" stop-color="#c8c129"/><stop offset="0.7812" stop-color="#debc2a"/><stop offset="0.8125" stop-color="#f1ba37"/><stop offset="0.8438" stop-color="#febe3c"/><stop offset="0.8750" stop-color="#feca33"/><stop offset="0.9062" stop-color="#f9d62d"/><stop offset="0.9375" stop-color="#f5e327"/><stop offset="0.9688" stop-color="#f6ef20"/><stop offset="1.0000" stop-color="#f9fb15"/></linearGradient>
<polygon points="127.0,423.1 120.0,386.6 180.6,368.5" fill="url(#g2d)" stroke="url(#g2d)" stroke-width="0.5" stroke-linejoin="round"/>
<line x1="120.0" y1="444.2" x2="180.6" y2="426.1" stroke="#4a4a4a" stroke-width="1.0" />
<line x1="120.0" y1="444.2" x2="73.4" y2="420.2" stroke="#4a4a4a" stroke-width="1.0" />
<line x1="120.0" y1="444.2" x2="122.3" y2="445.4" stroke="#4a4a4a" stroke-width="0.9" />
<line x1="150.3" y1="435.1" x2="152.6" y2="436.3" stroke="#4a4a4a" stroke-width="0.9" />
<line x1="180.6" y1="426.1" x2="182.9" y2="427.3" stroke="#4a4a4a" stroke-width="0.9" />
<line x1="120.0" y1="444.2" x2="117.5" y2="444.9" stroke="#4a4a4a" stroke-width="0.9" />
<line x1="96.7" y1="432.2" x2="94.2" y2="432.9" stroke="#4a4a4a" stroke-width="0.9" />
<line x1="73.4" y1="420.2" x2="70.9" y2="420.9" stroke="#4a4a4a" stroke-width="0.9" />
<line x1="73.4" y1="420.2" x2="70.9" y2="420.9" stroke="#4a4a4a" stroke-width="0.9" />
<line x1="73.4" y1="391.4" x2="70.9" y2="392.1" stroke="#4a4a4a" stroke-width="0.9" />
<line x1="73.4" y1="362.6" x2="70.9" y2="363.3" stroke="#4a4a4a" stroke-width="0.9" />
<polygon points="122.9,803.7 193.0,781.5 138.2,751.1 68.1,773.3" fill="#fff"/>
<polygon points="68.1,773.3 138.2,751.1 138.2,681.1 68.1,703.3" fill="#fff"/>
<polygon points="138.2,751.1 193.0,781.5 193.0,711.5 138.2,681.1" fill="#fff"/>
<line x1="157.9" y1="792.6" x2="103.1" y2="762.2" stroke="#dcdcdc" stroke-width="0.8" />
<line x1="103.1" y1="762.2" x2="103.1" y2="692.2" stroke="#dcdcdc" stroke-width="0.8" />
<line x1="95.5" y1="788.5" x2="165.6" y2="766.3" stroke="#dcdcdc" stroke-width="0.8" />
<line x1="165.6" y1="766.3" x2="165.6" y2="696.3" stroke="#dcdcdc" stroke-width="0.8" />
<line x1="68.1" y1="755.8" x2="138.2" y2="733.6" stroke="#dcdcdc" stroke-width="0.8" />
<line x1="138.2" y1="733.6" x2="193.0" y2="764.0" stroke="#dcdcdc" stroke-width="0.8" />
<line x1="68.1" y1="738.3" x2="138.2" y2="716.1" stroke="#dcdcdc" stroke-width="0.8" />
<line x1="138.2" y1="716.1" x2="193.0" y2="746.5" stroke="#dcdcdc" stroke-width="0.8" />
<line x1="68.1" y1="720.8" x2="138.2" y2="698.6" stroke="#dcdcdc" stroke-width="0.8" />
<line x1="138.2" y1="698.6" x2="193.0" y2="729.0" stroke="#dcdcdc" stroke-width="0.8" />
<line x1="68.1" y1="773.3" x2="138.2" y2="751.1" stroke="#4a4a4a" stroke-width="1.0" />
<line x1="138.2" y1="751.1" x2="193.0" y2="781.5" stroke="#4a4a4a" stroke-width="1.0" />
<line x1="138.2" y1="751.1" x2="138.2" y2="681.1" stroke="#4a4a4a" stroke-width="1.0" />
<line x1="68.1" y1="703.3" x2="138.2" y2="681.1" stroke="#4a4a4a" stroke-width="1.0" />
<line x1="138.2" y1="681.1" x2="193.0" y2="711.5" stroke="#4a4a4a" stroke-width="1.0" />
<line x1="193.0" y1="781.5" x2="193.0" y2="711.5" stroke="#4a4a4a" stroke-width="1.0" />
<line x1="68.1" y1="773.3" x2="68.1" y2="703.3" stroke="#4a4a4a" stroke-width="1.0" />
<polyline points="146.2,772.4 145.6,772.1 144.9,771.8 144.1,771.4 143.3,771.1 142.5,770.8 141.7,770.6 140.8,770.3 139.9,770.1 139.0,769.9 138.0,769.7 137.0,769.5 136.0,769.4 135.0,769.3 134.0,769.2 133.0,769.1 131.9,769.0 130.9,769.0 129.9,769.0 128.8,769.0 127.8,769.0 126.7,769.1 125.7,769.2 124.7,769.3 123.7,769.4 122.8,769.5 121.8,769.7 120.9,769.9 120.0,770.1 119.1,770.4 118.3,770.6 117.5,770.9 116.7,771.2 116.0,771.5 115.3,771.8 114.7,772.1 114.1,772.5 113.5,772.8 113.0,773.2 112.5,773.6 112.1,774.0 111.7,774.4 111.4,774.8 111.2,775.2 111.0,775.7 110.8,776.1 110.7,776.5 110.7,777.0 110.7,777.4 110.7,777.9 110.8,778.3 111.0,778.7 111.2,779.2 111.5,779.6 111.9,780.0 112.2,780.4 112.7,780.8 113.2,781.2 113.7,781.6 114.3,782.0 114.9,782.4 115.5,782.7 116.2,783.0 117.0,783.4 117.8,783.7 118.6,784.0 119.4,784.2 120.3,784.5 121.2,784.7 122.1,784.9 123.1,785.1 124.1,785.3 125.1,785.4 126.1,785.5 127.1,785.6 128.1,785.7 129.2,785.8 130.2,785.8 131.2,785.8 132.3,785.8 133.3,785.8 134.4,785.7 135.4,785.6 136.4,785.5 137.4,785.4 138.3,785.3 139.3,785.1 140.2,784.9 141.1,784.7 142.0,784.4 142.8,784.2 143.6,783.9 144.4,783.6 145.1,783.3 145.8,783.0 146.4,782.7 147.0,782.3 147.6,782.0 148.1,781.6 148.6,781.2 149.0,780.8 149.4,780.4 149.7,780.0 149.9,779.6 150.1,779.1 150.3,778.7 150.4,778.3 150.4,777.8 150.4,777.4 150.4,776.9 150.3,776.5 150.1,776.1 149.9,775.6 149.6,775.2 149.2,774.8 148.9,774.4 148.4,774.0 147.9,773.6 147.4,773.2 146.8,772.8 146.2,772.4" fill="none" stroke="#4743e7" stroke-width="0.6" opacity="0.7"/>
<polyline points="152.7,770.4 151.8,769.9 150.8,769.4 149.7,769.0 148.6,768.5 147.5,768.1 146.3,767.8 145.0,767.4 143.8,767.1 142.4,766.8 141.1,766.5 139.7,766.3 138.3,766.1 136.9,765.9 135.4,765.8 134.0,765.6 132.5,765.6 131.0,765.5 129.6,765.5 128.1,765.5 126.6,765.6 125.2,765.6 123.7,765.8 122.3,765.9 120.9,766.1 119.5,766.3 118.2,766.5 116.9,766.8 115.6,767.1 114.4,767.4 113.2,767.8 112.1,768.2 111.0,768.6 110.0,769.0 109.0,769.5 108.1,769.9 107.2,770.4 106.4,770.9 105.7,771.5 105.0,772.0 104.5,772.6 103.9,773.2 103.5,773.7 103.1,774.3 102.8,775.0 102.6,775.6 102.5,776.2 102.4,776.8 102.4,777.4 102.5,778.1 102.7,778.7 102.9,779.3 103.3,779.9 103.6,780.5 104.1,781.1 104.7,781.7 105.3,782.3 105.9,782.8 106.7,783.4 107.5,783.9 108.4,784.4 109.3,784.9 110.3,785.4 111.4,785.8 112.5,786.3 113.6,786.7 114.8,787.0 116.1,787.4 117.3,787.7 118.7,788.0 120.0,788.3 121.4,788.5 122.8,788.7 124.2,788.9 125.7,789.0 127.1,789.2 128.6,789.2 130.1,789.3 131.5,789.3 133.0,789.3 134.5,789.2 135.9,789.2 137.4,789.0 138.8,788.9 140.2,788.7 141.6,788.5 142.9,788.3 144.2,788.0 145.5,787.7 146.7,787.4 147.9,787.0 149.0,786.6 150.1,786.2 151.1,785.8 152.1,785.3 153.0,784.9 153.9,784.4 154.7,783.9 155.4,783.3 156.1,782.8 156.6,782.2 157.2,781.6 157.6,781.1 158.0,780.5 158.3,779.8 158.5,779.2 158.6,778.6 158.7,778.0 158.7,777.4 158.6,776.7 158.4,776.1 158.2,775.5 157.8,774.9 157.5,774.3 157.0,773.7 156.4,773.1 155.8,772.5 155.2,772.0 154.4,771.4 153.6,770.9 152.7,770.4" fill="none" stroke="#4367fd" stroke-width="0.6" opacity="0.7"/>
<polyline points="157.7,768.8 156.6,768.2 155.3,767.6 154.0,767.1 152.7,766.5 151.3,766.0 149.8,765.6 148.3,765.2 146.7,764.8 145.1,764.4 143.5,764.1 141.8,763.8 140.0,763.5 138.3,763.3 136.5,763.1 134.7,763.0 132.9,762.9 131.1,762.8 129.3,762.8 127.5,762.8 125.7,762.9 124.0,763.0 122.2,763.1 120.5,763.3 118.8,763.5 117.1,763.8 115.4,764.1 113.8,764.4 112.3,764.8 110.8,765.2 109.3,765.6 107.9,766.1 106.6,766.6 105.3,767.1 104.1,767.7 103.0,768.3 102.0,768.9 101.0,769.5 100.1,770.1 99.3,770.8 98.6,771.5 98.0,772.2 97.4,772.9 97.0,773.7 96.6,774.4 96.3,775.2 96.2,775.9 96.1,776.7 96.1,777.4 96.2,778.2 96.4,779.0 96.7,779.7 97.1,780.5 97.6,781.2 98.2,781.9 98.8,782.7 99.6,783.4 100.4,784.1 101.3,784.7 102.3,785.4 103.4,786.0 104.5,786.6 105.8,787.2 107.1,787.7 108.4,788.3 109.8,788.8 111.3,789.2 112.8,789.6 114.4,790.0 116.0,790.4 117.6,790.7 119.3,791.0 121.1,791.3 122.8,791.5 124.6,791.7 126.4,791.8 128.2,791.9 130.0,792.0 131.8,792.0 133.6,792.0 135.4,791.9 137.1,791.8 138.9,791.7 140.6,791.5 142.3,791.3 144.0,791.0 145.7,790.7 147.3,790.4 148.8,790.0 150.3,789.6 151.8,789.2 153.2,788.7 154.5,788.2 155.8,787.7 157.0,787.1 158.1,786.5 159.1,785.9 160.1,785.3 161.0,784.7 161.8,784.0 162.5,783.3 163.1,782.6 163.7,781.9 164.1,781.1 164.5,780.4 164.8,779.6 164.9,778.9 165.0,778.1 165.0,777.4 164.9,776.6 164.7,775.8 164.4,775.1 164.0,774.3 163.5,773.6 162.9,772.9 162.3,772.1 161.5,771.4 160.7,770.7 159.8,770.1 158.8,769.4 157.7,768.8" fill="none" stroke="#2d8cf3" stroke-width="0.6" opacity="0.7"/>
<polyline points="161.9,767.5 160.6,766.8 159.2,766.1 157.7,765.5 156.1,764.9 154.5,764.3 152.8,763.8 151.0,763.3 149.2,762.8 147.4,762.4 145.4,762.0 143.5,761.7 141.5,761.4 139.5,761.1 137.4,760.9 135.4,760.8 133.3,760.7 131.2,760.6 129.2,760.6 127.1,760.6 125.0,760.7 122.9,760.8 120.9,760.9 118.9,761.1 116.9,761.4 115.0,761.7 113.1,762.0 111.2,762.4 109.5,762.8 107.7,763.3 106.0,763.8 104.4,764.3 102.9,764.9 101.4,765.5 100.1,766.2 98.8,766.8 97.6,767.5 96.4,768.3 95.4,769.0 94.5,769.8 93.7,770.6 92.9,771.4 92.3,772.2 91.8,773.1 91.4,773.9 91.1,774.8 90.9,775.7 90.8,776.6 90.8,777.4 90.9,778.3 91.1,779.2 91.5,780.1 91.9,780.9 92.5,781.8 93.2,782.6 93.9,783.5 94.8,784.3 95.8,785.1 96.8,785.9 98.0,786.6 99.2,787.3 100.5,788.0 101.9,788.7 103.4,789.3 105.0,789.9 106.6,790.5 108.3,791.0 110.1,791.5 111.9,792.0 113.7,792.4 115.7,792.8 117.6,793.1 119.6,793.4 121.6,793.7 123.7,793.9 125.7,794.0 127.8,794.1 129.9,794.2 131.9,794.2 134.0,794.2 136.1,794.1 138.2,794.0 140.2,793.9 142.2,793.7 144.2,793.4 146.1,793.1 148.0,792.8 149.9,792.4 151.6,792.0 153.4,791.5 155.1,791.0 156.7,790.5 158.2,789.9 159.7,789.3 161.0,788.6 162.3,788.0 163.5,787.3 164.7,786.5 165.7,785.8 166.6,785.0 167.4,784.2 168.2,783.4 168.8,782.6 169.3,781.7 169.7,780.9 170.0,780.0 170.2,779.1 170.3,778.2 170.3,777.4 170.2,776.5 170.0,775.6 169.6,774.7 169.2,773.9 168.6,773.0 167.9,772.2 167.2,771.3 166.3,770.5 165.3,769.7 164.3,768.9 163.1,768.2 161.9,767.5" fill="none" stroke="#1caadf" stroke-width="0.6" opacity="0.7"/>
<polyline points="165.6,766.3 164.1,765.5 162.5,764.8 160.9,764.1 159.1,763.4 157.3,762.7 155.4,762.1 153.5,761.6 151.4,761.1 149.3,760.6 147.2,760.2 145.0,759.8 142.8,759.5 140.5,759.2 138.3,759.0 136.0,758.8 133.6,758.7 131.3,758.6 129.0,758.6 126.7,758.6 124.3,758.7 122.0,758.8 119.8,759.0 117.5,759.2 115.3,759.5 113.2,759.8 111.0,760.2 109.0,760.7 107.0,761.1 105.0,761.6 103.1,762.2 101.4,762.8 99.6,763.4 98.0,764.1 96.5,764.8 95.0,765.6 93.7,766.4 92.4,767.2 91.3,768.0 90.2,768.9 89.3,769.8 88.5,770.7 87.8,771.6 87.2,772.6 86.7,773.5 86.4,774.5 86.2,775.5 86.1,776.5 86.1,777.4 86.2,778.4 86.5,779.4 86.9,780.4 87.4,781.4 88.0,782.3 88.7,783.3 89.6,784.2 90.6,785.1 91.6,786.0 92.8,786.9 94.1,787.7 95.5,788.5 97.0,789.3 98.6,790.0 100.2,790.7 102.0,791.4 103.8,792.1 105.7,792.7 107.6,793.2 109.7,793.7 111.8,794.2 113.9,794.6 116.1,795.0 118.3,795.3 120.6,795.6 122.8,795.8 125.1,796.0 127.5,796.1 129.8,796.2 132.1,796.2 134.4,796.2 136.8,796.1 139.1,796.0 141.3,795.8 143.6,795.6 145.8,795.3 147.9,795.0 150.1,794.6 152.1,794.1 154.1,793.7 156.1,793.2 157.9,792.6 159.7,792.0 161.5,791.4 163.1,790.7 164.6,790.0 166.1,789.2 167.4,788.4 168.7,787.6 169.8,786.8 170.9,785.9 171.8,785.0 172.6,784.1 173.3,783.2 173.9,782.2 174.4,781.3 174.7,780.3 174.9,779.3 175.0,778.3 175.0,777.4 174.9,776.4 174.6,775.4 174.2,774.4 173.7,773.4 173.1,772.5 172.4,771.5 171.5,770.6 170.5,769.7 169.5,768.8 168.3,767.9 167.0,767.1 165.6,766.3" fill="none" stroke="#12beb9" stroke-width="0.6" opacity="0.7"/>
<polyline points="151.1,759.0 148.8,758.5 146.4,758.1 144.0,757.8 141.5,757.5 139.0,757.2 136.5,757.0 133.9,756.9 131.4,756.8 128.8,756.8 126.3,756.8 123.8,756.9 121.2,757.0" fill="none" stroke="#48cb86" stroke-width="0.6" opacity="0.7"/>
<polyline points="86.4,768.1 85.4,769.1 84.5,770.1 83.7,771.1 83.1,772.1 82.6,773.2 82.2,774.2 81.9,775.3 81.8,776.4 81.8,777.5 82.0,778.5 82.3,779.6 82.7,780.7" fill="none" stroke="#48cb86" stroke-width="0.6" opacity="0.7"/>
<polyline points="110.0,795.8 112.3,796.3 114.7,796.7 117.1,797.0 119.6,797.3 122.1,797.6 124.6,797.8 127.2,797.9 129.7,798.0 132.3,798.0 134.8,798.0 137.3,797.9 139.9,797.8" fill="none" stroke="#48cb86" stroke-width="0.6" opacity="0.7"/>
<polyline points="174.7,786.7 175.7,785.7 176.6,784.7 177.4,783.7 178.0,782.7 178.5,781.6 178.9,780.6 179.2,779.5 179.3,778.4 179.3,777.3 179.1,776.3 178.8,775.2 178.4,774.1" fill="none" stroke="#48cb86" stroke-width="0.6" opacity="0.7"/>
<polyline points="147.7,756.6 145.0,756.2 142.4,755.9 139.7,755.6 137.0,755.4 134.2,755.2 131.5,755.2 128.7,755.1 125.9,755.2" fill="none" stroke="#9fc942" stroke-width="0.6" opacity="0.7"/>
<polyline points="80.8,769.5 79.9,770.6 79.3,771.7 78.7,772.8 78.3,774.0 78.0,775.1 77.9,776.3 77.9,777.5 78.1,778.6" fill="none" stroke="#9fc942" stroke-width="0.6" opacity="0.7"/>
<polyline points="113.4,798.2 116.1,798.6 118.7,798.9 121.4,799.2 124.1,799.4 126.9,799.6 129.6,799.6 132.4,799.7 135.2,799.6" fill="none" stroke="#9fc942" stroke-width="0.6" opacity="0.7"/>
<polyline points="180.3,785.3 181.2,784.2 181.8,783.1 182.4,782.0 182.8,780.8 183.1,779.7 183.2,778.5 183.2,777.3 183.0,776.2" fill="none" stroke="#9fc942" stroke-width="0.6" opacity="0.7"/>
<polyline points="143.2,754.4 140.3,754.1 137.4,753.9 134.5,753.7 131.5,753.6" fill="none" stroke="#eaba31" stroke-width="0.6" opacity="0.7"/>
<polyline points="75.7,771.3 75.1,772.5 74.7,773.7 74.4,775.0 74.3,776.2" fill="none" stroke="#eaba31" stroke-width="0.6" opacity="0.7"/>
<polyline points="117.9,800.4 120.8,800.7 123.7,800.9 126.6,801.1 129.6,801.2" fill="none" stroke="#eaba31" stroke-width="0.6" opacity="0.7"/>
<polyline points="185.4,783.5 186.0,782.3 186.4,781.1 186.7,779.8 186.8,778.6" fill="none" stroke="#eaba31" stroke-width="0.6" opacity="0.7"/>
<polyline points="140.9,752.7 137.8,752.4 134.7,752.3" fill="none" stroke="#fad42e" stroke-width="0.6" opacity="0.7"/>
<polyline points="71.8,772.2 71.3,773.5 71.0,774.8" fill="none" stroke="#fad42e" stroke-width="0.6" opacity="0.7"/>
<polyline points="120.2,802.1 123.3,802.4 126.4,802.5" fill="none" stroke="#fad42e" stroke-width="0.6" opacity="0.7"/>
<polyline points="189.3,782.6 189.8,781.3 190.1,780.0" fill="none" stroke="#fad42e" stroke-width="0.6" opacity="0.7"/>
<g stroke-linejoin="round">
<path d="M137.9 688.5L139.4 684.9L138.2 681.1L136.6 684.7Z" fill="#f5e825" stroke="#f5e825" stroke-width="0.5"/>
<path d="M136.3 692.0L137.9 688.5L136.6 684.7L135.0 688.2Z" fill="#fad42e" stroke="#fad42e" stroke-width="0.5"/>
<path d="M139.1 692.2L140.7 688.6L139.4 684.9L137.9 688.5Z" fill="#fad42e" stroke="#fad42e" stroke-width="0.5"/>
<path d="M134.7 695.3L136.3 692.0L135.0 688.2L133.4 691.5Z" fill="#fec239" stroke="#fec239" stroke-width="0.5"/>
<path d="M137.5 695.6L139.1 692.2L137.9 688.5L136.3 692.0Z" fill="#fec13a" stroke="#fec13a" stroke-width="0.5"/>
<path d="M140.3 695.7L141.9 692.1L140.7 688.6L139.1 692.2Z" fill="#fec239" stroke="#fec239" stroke-width="0.5"/>
<path d="M133.1 698.5L134.7 695.3L133.4 691.5L131.8 694.7Z" fill="#efba35" stroke="#efba35" stroke-width="0.5"/>
<path d="M135.9 699.0L137.5 695.6L136.3 692.0L134.7 695.3Z" fill="#edba33" stroke="#edba33" stroke-width="0.5"/>
<path d="M138.8 699.2L140.3 695.7L139.1 692.2L137.5 695.6Z" fill="#edba33" stroke="#edba33" stroke-width="0.5"/>
<path d="M141.6 699.0L143.2 695.4L141.9 692.1L140.3 695.7Z" fill="#efba35" stroke="#efba35" stroke-width="0.5"/>
<path d="M131.5 701.5L133.1 698.5L131.8 694.7L130.2 697.7Z" fill="#d5be28" stroke="#d5be28" stroke-width="0.5"/>
<path d="M134.3 702.1L135.9 699.0L134.7 695.3L133.1 698.5Z" fill="#d0bf27" stroke="#d0bf27" stroke-width="0.5"/>
<path d="M137.2 702.5L138.8 699.2L137.5 695.6L135.9 699.0Z" fill="#cec028" stroke="#cec028" stroke-width="0.5"/>
<path d="M140.0 702.5L141.6 699.0L140.3 695.7L138.8 699.2Z" fill="#d0bf27" stroke="#d0bf27" stroke-width="0.5"/>
<path d="M142.8 702.3L144.4 698.7L143.2 695.4L141.6 699.0Z" fill="#d5be28" stroke="#d5be28" stroke-width="0.5"/>
<path d="M129.9 704.4L131.5 701.5L130.2 697.7L128.6 700.6Z" fill="#b7c532" stroke="#b7c532" stroke-width="0.5"/>
<path d="M132.7 705.2L134.3 702.1L133.1 698.5L131.5 701.5Z" fill="#b0c636" stroke="#b0c636" stroke-width="0.5"/>
<path d="M135.6 705.7L137.2 702.5L135.9 699.0L134.3 702.1Z" fill="#acc738" stroke="#acc738" stroke-width="0.5"/>
<path d="M138.4 705.8L140.0 702.5L138.8 699.2L137.2 702.5Z" fill="#acc738" stroke="#acc738" stroke-width="0.5"/>
<path d="M141.2 705.7L142.8 702.3L141.6 699.0L140.0 702.5Z" fill="#b0c636" stroke="#b0c636" stroke-width="0.5"/>
<path d="M144.1 705.3L145.7 701.7L144.4 698.7L142.8 702.3Z" fill="#b7c532" stroke="#b7c532" stroke-width="0.5"/>
<path d="M128.3 707.2L129.9 704.4L128.6 700.6L127.0 703.4Z" fill="#98c947" stroke="#98c947" stroke-width="0.5"/>
<path d="M131.1 708.1L132.7 705.2L131.5 701.5L129.9 704.4Z" fill="#8ecb4f" stroke="#8ecb4f" stroke-width="0.5"/>
<path d="M134.0 708.7L135.6 705.7L134.3 702.1L132.7 705.2Z" fill="#87cb54" stroke="#87cb54" stroke-width="0.5"/>
<path d="M136.8 709.0L138.4 705.8L137.2 702.5L135.6 705.7Z" fill="#85cb55" stroke="#85cb55" stroke-width="0.5"/>
<path d="M139.6 709.1L141.2 705.7L140.0 702.5L138.4 705.8Z" fill="#87cb54" stroke="#87cb54" stroke-width="0.5"/>
<path d="M142.5 708.8L144.1 705.3L142.8 702.3L141.2 705.7Z" fill="#8ecb4f" stroke="#8ecb4f" stroke-width="0.5"/>
<path d="M145.3 708.3L146.9 704.7L145.7 701.7L144.1 705.3Z" fill="#98c947" stroke="#98c947" stroke-width="0.5"/>
<path d="M126.7 709.8L128.3 707.2L127.0 703.4L125.5 706.0Z" fill="#79cc5e" stroke="#79cc5e" stroke-width="0.5"/>
<path d="M129.5 710.8L131.1 708.1L129.9 704.4L128.3 707.2Z" fill="#6ccd68" stroke="#6ccd68" stroke-width="0.5"/>
<path d="M132.4 711.6L134.0 708.7L132.7 705.2L131.1 708.1Z" fill="#65cd6e" stroke="#65cd6e" stroke-width="0.5"/>
<path d="M135.2 712.1L136.8 709.0L135.6 705.7L134.0 708.7Z" fill="#61cd71" stroke="#61cd71" stroke-width="0.5"/>
<path d="M138.1 712.2L139.6 709.1L138.4 705.8L136.8 709.0Z" fill="#61cd71" stroke="#61cd71" stroke-width="0.5"/>
<path d="M140.9 712.1L142.5 708.8L141.2 705.7L139.6 709.1Z" fill="#65cd6e" stroke="#65cd6e" stroke-width="0.5"/>
<path d="M143.7 711.7L145.3 708.3L144.1 705.3L142.5 708.8Z" fill="#6ccd68" stroke="#6ccd68" stroke-width="0.5"/>
<path d="M146.6 711.1L148.2 707.5L146.9 704.7L145.3 708.3Z" fill="#79cc5e" stroke="#79cc5e" stroke-width="0.5"/>
<path d="M125.1 712.2L126.7 709.8L125.5 706.0L123.9 708.4Z" fill="#5dcc75" stroke="#5dcc75" stroke-width="0.5"/>
<path d="M127.9 713.4L129.5 710.8L128.3 707.2L126.7 709.8Z" fill="#51cc7f" stroke="#51cc7f" stroke-width="0.5"/>
<path d="M130.8 714.3L132.4 711.6L131.1 708.1L129.5 710.8Z" fill="#48cb86" stroke="#48cb86" stroke-width="0.5"/>
<path d="M133.6 714.9L135.2 712.1L134.0 708.7L132.4 711.6Z" fill="#43ca8a" stroke="#43ca8a" stroke-width="0.5"/>
<path d="M136.5 715.3L138.1 712.2L136.8 709.0L135.2 712.1Z" fill="#42ca8c" stroke="#42ca8c" stroke-width="0.5"/>
<path d="M139.3 715.3L140.9 712.1L139.6 709.1L138.1 712.2Z" fill="#43ca8a" stroke="#43ca8a" stroke-width="0.5"/>
<path d="M142.1 715.1L143.7 711.7L142.5 708.8L140.9 712.1Z" fill="#48cb86" stroke="#48cb86" stroke-width="0.5"/>
<path d="M145.0 714.5L146.6 711.1L145.3 708.3L143.7 711.7Z" fill="#51cc7f" stroke="#51cc7f" stroke-width="0.5"/>
<path d="M147.8 713.7L149.4 710.1L148.2 707.5L146.6 711.1Z" fill="#5dcc75" stroke="#5dcc75" stroke-width="0.5"/>
<path d="M123.5 714.5L125.1 712.2L123.9 708.4L122.3 710.7Z" fill="#46cb87" stroke="#46cb87" stroke-width="0.5"/>
<path d="M126.4 715.9L127.9 713.4L126.7 709.8L125.1 712.2Z" fill="#3bc992" stroke="#3bc992" stroke-width="0.5"/>
<path d="M129.2 716.9L130.8 714.3L129.5 710.8L127.9 713.4Z" fill="#36c799" stroke="#36c799" stroke-width="0.5"/>
<path d="M132.0 717.7L133.6 714.9L132.4 711.6L130.8 714.3Z" fill="#32c69e" stroke="#32c69e" stroke-width="0.5"/>
<path d="M134.9 718.2L136.5 715.3L135.2 712.1L133.6 714.9Z" fill="#31c6a0" stroke="#31c6a0" stroke-width="0.5"/>
<path d="M137.7 718.4L139.3 715.3L138.1 712.2L136.5 715.3Z" fill="#31c6a0" stroke="#31c6a0" stroke-width="0.5"/>
<path d="M140.5 718.3L142.1 715.1L140.9 712.1L139.3 715.3Z" fill="#32c69e" stroke="#32c69e" stroke-width="0.5"/>
<path d="M143.4 717.9L145.0 714.5L143.7 711.7L142.1 715.1Z" fill="#36c799" stroke="#36c799" stroke-width="0.5"/>
<path d="M146.2 717.2L147.8 713.7L146.6 711.1L145.0 714.5Z" fill="#3bc992" stroke="#3bc992" stroke-width="0.5"/>
<path d="M149.1 716.2L150.7 712.6L149.4 710.1L147.8 713.7Z" fill="#46cb87" stroke="#46cb87" stroke-width="0.5"/>
<path d="M121.9 716.7L123.5 714.5L122.3 710.7L120.7 712.9Z" fill="#37c897" stroke="#37c897" stroke-width="0.5"/>
<path d="M124.8 718.2L126.4 715.9L125.1 712.2L123.5 714.5Z" fill="#30c5a1" stroke="#30c5a1" stroke-width="0.5"/>
<path d="M127.6 719.4L129.2 716.9L127.9 713.4L126.4 715.9Z" fill="#2ac3a9" stroke="#2ac3a9" stroke-width="0.5"/>
<path d="M130.4 720.3L132.0 717.7L130.8 714.3L129.2 716.9Z" fill="#25c2ae" stroke="#25c2ae" stroke-width="0.5"/>
<path d="M133.3 720.9L134.9 718.2L133.6 714.9L132.0 717.7Z" fill="#20c1b1" stroke="#20c1b1" stroke-width="0.5"/>
<path d="M136.1 721.2L137.7 718.4L136.5 715.3L134.9 718.2Z" fill="#1fc0b2" stroke="#1fc0b2" stroke-width="0.5"/>
<path d="M139.0 721.3L140.5 718.3L139.3 715.3L137.7 718.4Z" fill="#20c1b1" stroke="#20c1b1" stroke-width="0.5"/>
<path d="M141.8 721.0L143.4 717.9L142.1 715.1L140.5 718.3Z" fill="#25c2ae" stroke="#25c2ae" stroke-width="0.5"/>
<path d="M144.6 720.5L146.2 717.2L145.0 714.5L143.4 717.9Z" fill="#2ac3a9" stroke="#2ac3a9" stroke-width="0.5"/>
<path d="M147.5 719.7L149.1 716.2L147.8 713.7L146.2 717.2Z" fill="#30c5a1" stroke="#30c5a1" stroke-width="0.5"/>
<path d="M150.3 718.6L151.9 714.9L150.7 712.6L149.1 716.2Z" fill="#37c897" stroke="#37c897" stroke-width="0.5"/>
<path d="M120.3 718.7L121.9 716.7L120.7 712.9L119.1 714.9Z" fill="#2ec5a3" stroke="#2ec5a3" stroke-width="0.5"/>
<path d="M123.2 720.4L124.8 718.2L123.5 714.5L121.9 716.7Z" fill="#25c2ae" stroke="#25c2ae" stroke-width="0.5"/>
<path d="M126.0 721.7L127.6 719.4L126.4 715.9L124.8 718.2Z" fill="#18bfb6" stroke="#18bfb6" stroke-width="0.5"/>
<path d="M128.8 722.8L130.4 720.3L129.2 716.9L127.6 719.4Z" fill="#0dbdbb" stroke="#0dbdbb" stroke-width="0.5"/>
<path d="M131.7 723.5L133.3 720.9L132.0 717.7L130.4 720.3Z" fill="#08bcbf" stroke="#08bcbf" stroke-width="0.5"/>
<path d="M134.5 724.0L136.1 721.2L134.9 718.2L133.3 720.9Z" fill="#05bbc1" stroke="#05bbc1" stroke-width="0.5"/>
<path d="M137.4 724.2L139.0 721.3L137.7 718.4L136.1 721.2Z" fill="#05bbc1" stroke="#05bbc1" stroke-width="0.5"/>
<path d="M140.2 724.1L141.8 721.0L140.5 718.3L139.0 721.3Z" fill="#08bcbf" stroke="#08bcbf" stroke-width="0.5"/>
<path d="M143.0 723.7L144.6 720.5L143.4 717.9L141.8 721.0Z" fill="#0dbdbb" stroke="#0dbdbb" stroke-width="0.5"/>
<path d="M145.9 723.0L147.5 719.7L146.2 717.2L144.6 720.5Z" fill="#18bfb6" stroke="#18bfb6" stroke-width="0.5"/>
<path d="M148.7 722.0L150.3 718.6L149.1 716.2L147.5 719.7Z" fill="#25c2ae" stroke="#25c2ae" stroke-width="0.5"/>
<path d="M151.6 720.8L153.1 717.2L151.9 714.9L150.3 718.6Z" fill="#2ec5a3" stroke="#2ec5a3" stroke-width="0.5"/>
<path d="M118.7 720.6L120.3 718.7L119.1 714.9L117.5 716.8Z" fill="#25c2ae" stroke="#25c2ae" stroke-width="0.5"/>
<path d="M121.6 722.4L123.2 720.4L121.9 716.7L120.3 718.7Z" fill="#13beb8" stroke="#13beb8" stroke-width="0.5"/>
<path d="M124.4 723.9L126.0 721.7L124.8 718.2L123.2 720.4Z" fill="#05bbc1" stroke="#05bbc1" stroke-width="0.5"/>
<path d="M127.2 725.1L128.8 722.8L127.6 719.4L126.0 721.7Z" fill="#01b9c7" stroke="#01b9c7" stroke-width="0.5"/>
<path d="M130.1 726.0L131.7 723.5L130.4 720.3L128.8 722.8Z" fill="#03b7cc" stroke="#03b7cc" stroke-width="0.5"/>
<path d="M132.9 726.6L134.5 724.0L133.3 720.9L131.7 723.5Z" fill="#05b6ce" stroke="#05b6ce" stroke-width="0.5"/>
<path d="M135.8 726.9L137.4 724.2L136.1 721.2L134.5 724.0Z" fill="#06b5cf" stroke="#06b5cf" stroke-width="0.5"/>
<path d="M138.6 727.0L140.2 724.1L139.0 721.3L137.4 724.2Z" fill="#05b6ce" stroke="#05b6ce" stroke-width="0.5"/>
<path d="M141.4 726.7L143.0 723.7L141.8 721.0L140.2 724.1Z" fill="#03b7cc" stroke="#03b7cc" stroke-width="0.5"/>
<path d="M144.3 726.2L145.9 723.0L144.6 720.5L143.0 723.7Z" fill="#01b9c7" stroke="#01b9c7" stroke-width="0.5"/>
<path d="M147.1 725.4L148.7 722.0L147.5 719.7L145.9 723.0Z" fill="#05bbc1" stroke="#05bbc1" stroke-width="0.5"/>
<path d="M150.0 724.2L151.6 720.8L150.3 718.6L148.7 722.0Z" fill="#13beb8" stroke="#13beb8" stroke-width="0.5"/>
<path d="M152.8 722.8L154.4 719.2L153.1 717.2L151.6 720.8Z" fill="#25c2ae" stroke="#25c2ae" stroke-width="0.5"/>
<path d="M117.1 722.3L118.7 720.6L117.5 716.8L115.9 718.5Z" fill="#17bfb7" stroke="#17bfb7" stroke-width="0.5"/>
<path d="M120.0 724.3L121.6 722.4L120.3 718.7L118.7 720.6Z" fill="#04bbc2" stroke="#04bbc2" stroke-width="0.5"/>
<path d="M122.8 725.9L124.4 723.9L123.2 720.4L121.6 722.4Z" fill="#02b7cb" stroke="#02b7cb" stroke-width="0.5"/>
<path d="M125.7 727.2L127.2 725.1L126.0 721.7L124.4 723.9Z" fill="#0ab4d1" stroke="#0ab4d1" stroke-width="0.5"/>
<path d="M128.5 728.3L130.1 726.0L128.8 722.8L127.2 725.1Z" fill="#12b1d6" stroke="#12b1d6" stroke-width="0.5"/>
<path d="M131.3 729.1L132.9 726.6L131.7 723.5L130.1 726.0Z" fill="#15afd9" stroke="#15afd9" stroke-width="0.5"/>
<path d="M134.2 729.5L135.8 726.9L134.5 724.0L132.9 726.6Z" fill="#17aeda" stroke="#17aeda" stroke-width="0.5"/>
<path d="M137.0 729.7L138.6 727.0L137.4 724.2L135.8 726.9Z" fill="#17aeda" stroke="#17aeda" stroke-width="0.5"/>
<path d="M139.8 729.6L141.4 726.7L140.2 724.1L138.6 727.0Z" fill="#15afd9" stroke="#15afd9" stroke-width="0.5"/>
<path d="M142.7 729.2L144.3 726.2L143.0 723.7L141.4 726.7Z" fill="#12b1d6" stroke="#12b1d6" stroke-width="0.5"/>
<path d="M145.5 728.5L147.1 725.4L145.9 723.0L144.3 726.2Z" fill="#0ab4d1" stroke="#0ab4d1" stroke-width="0.5"/>
<path d="M148.4 727.6L150.0 724.2L148.7 722.0L147.1 725.4Z" fill="#02b7cb" stroke="#02b7cb" stroke-width="0.5"/>
<path d="M151.2 726.3L152.8 722.8L151.6 720.8L150.0 724.2Z" fill="#04bbc2" stroke="#04bbc2" stroke-width="0.5"/>
<path d="M154.0 724.8L155.6 721.1L154.4 719.2L152.8 722.8Z" fill="#17bfb7" stroke="#17bfb7" stroke-width="0.5"/>
<path d="M115.5 723.9L117.1 722.3L115.9 718.5L114.3 720.1Z" fill="#09bcbe" stroke="#09bcbe" stroke-width="0.5"/>
<path d="M118.4 726.0L120.0 724.3L118.7 720.6L117.1 722.3Z" fill="#01b8ca" stroke="#01b8ca" stroke-width="0.5"/>
<path d="M121.2 727.8L122.8 725.9L121.6 722.4L120.0 724.3Z" fill="#0cb3d3" stroke="#0cb3d3" stroke-width="0.5"/>
<path d="M124.1 729.3L125.7 727.2L124.4 723.9L122.8 725.9Z" fill="#16afda" stroke="#16afda" stroke-width="0.5"/>
<path d="M126.9 730.5L128.5 728.3L127.2 725.1L125.7 727.2Z" fill="#1babde" stroke="#1babde" stroke-width="0.5"/>
<path d="M129.7 731.4L131.3 729.1L130.1 726.0L128.5 728.3Z" fill="#1da8e0" stroke="#1da8e0" stroke-width="0.5"/>
<path d="M132.6 732.0L134.2 729.5L132.9 726.6L131.3 729.1Z" fill="#1fa6e2" stroke="#1fa6e2" stroke-width="0.5"/>
<path d="M135.4 732.3L137.0 729.7L135.8 726.9L134.2 729.5Z" fill="#1fa6e2" stroke="#1fa6e2" stroke-width="0.5"/>
<path d="M138.3 732.4L139.8 729.6L138.6 727.0L137.0 729.7Z" fill="#1fa6e2" stroke="#1fa6e2" stroke-width="0.5"/>
<path d="M141.1 732.1L142.7 729.2L141.4 726.7L139.8 729.6Z" fill="#1da8e0" stroke="#1da8e0" stroke-width="0.5"/>
<path d="M143.9 731.6L145.5 728.5L144.3 726.2L142.7 729.2Z" fill="#1babde" stroke="#1babde" stroke-width="0.5"/>
<path d="M146.8 730.7L148.4 727.6L147.1 725.4L145.5 728.5Z" fill="#16afda" stroke="#16afda" stroke-width="0.5"/>
<path d="M149.6 729.6L151.2 726.3L150.0 724.2L148.4 727.6Z" fill="#0cb3d3" stroke="#0cb3d3" stroke-width="0.5"/>
<path d="M152.4 728.2L154.0 724.8L152.8 722.8L151.2 726.3Z" fill="#01b8ca" stroke="#01b8ca" stroke-width="0.5"/>
<path d="M155.3 726.5L156.9 722.9L155.6 721.1L154.0 724.8Z" fill="#09bcbe" stroke="#09bcbe" stroke-width="0.5"/>
<path d="M114.0 725.4L115.5 723.9L114.3 720.1L112.7 721.6Z" fill="#02bac5" stroke="#02bac5" stroke-width="0.5"/>
<path d="M116.8 727.6L118.4 726.0L117.1 722.3L115.5 723.9Z" fill="#08b4d1" stroke="#08b4d1" stroke-width="0.5"/>
<path d="M119.6 729.5L121.2 727.8L120.0 724.3L118.4 726.0Z" fill="#16afda" stroke="#16afda" stroke-width="0.5"/>
<path d="M122.5 731.1L124.1 729.3L122.8 725.9L121.2 727.8Z" fill="#1ca9e0" stroke="#1ca9e0" stroke-width="0.5"/>
<path d="M125.3 732.5L126.9 730.5L125.7 727.2L124.1 729.3Z" fill="#20a4e3" stroke="#20a4e3" stroke-width="0.5"/>
<path d="M128.1 733.5L129.7 731.4L128.5 728.3L126.9 730.5Z" fill="#23a1e5" stroke="#23a1e5" stroke-width="0.5"/>
<path d="M131.0 734.3L132.6 732.0L131.3 729.1L129.7 731.4Z" fill="#249ee6" stroke="#249ee6" stroke-width="0.5"/>
<path d="M133.8 734.8L135.4 732.3L134.2 729.5L132.6 732.0Z" fill="#259de7" stroke="#259de7" stroke-width="0.5"/>
<path d="M136.7 735.0L138.3 732.4L137.0 729.7L135.4 732.3Z" fill="#259de7" stroke="#259de7" stroke-width="0.5"/>
<path d="M139.5 734.9L141.1 732.1L139.8 729.6L138.3 732.4Z" fill="#249ee6" stroke="#249ee6" stroke-width="0.5"/>
<path d="M142.3 734.5L143.9 731.6L142.7 729.2L141.1 732.1Z" fill="#23a1e5" stroke="#23a1e5" stroke-width="0.5"/>
<path d="M145.2 733.8L146.8 730.7L145.5 728.5L143.9 731.6Z" fill="#20a4e3" stroke="#20a4e3" stroke-width="0.5"/>
<path d="M148.0 732.8L149.6 729.6L148.4 727.6L146.8 730.7Z" fill="#1ca9e0" stroke="#1ca9e0" stroke-width="0.5"/>
<path d="M150.9 731.6L152.4 728.2L151.2 726.3L149.6 729.6Z" fill="#16afda" stroke="#16afda" stroke-width="0.5"/>
<path d="M153.7 730.0L155.3 726.5L154.0 724.8L152.4 728.2Z" fill="#08b4d1" stroke="#08b4d1" stroke-width="0.5"/>
<path d="M156.5 728.2L158.1 724.6L156.9 722.9L155.3 726.5Z" fill="#02bac5" stroke="#02bac5" stroke-width="0.5"/>
<path d="M112.4 726.7L114.0 725.4L112.7 721.6L111.1 722.9Z" fill="#01b8ca" stroke="#01b8ca" stroke-width="0.5"/>
<path d="M115.2 729.0L116.8 727.6L115.5 723.9L114.0 725.4Z" fill="#12b1d6" stroke="#12b1d6" stroke-width="0.5"/>
<path d="M118.0 731.1L119.6 729.5L118.4 726.0L116.8 727.6Z" fill="#1baade" stroke="#1baade" stroke-width="0.5"/>
<path d="M120.9 732.9L122.5 731.1L121.2 727.8L119.6 729.5Z" fill="#21a4e3" stroke="#21a4e3" stroke-width="0.5"/>
<path d="M123.7 734.4L125.3 732.5L124.1 729.3L122.5 731.1Z" fill="#249ee6" stroke="#249ee6" stroke-width="0.5"/>
<path d="M126.6 735.6L128.1 733.5L126.9 730.5L125.3 732.5Z" fill="#269ae9" stroke="#269ae9" stroke-width="0.5"/>
<path d="M129.4 736.5L131.0 734.3L129.7 731.4L128.1 733.5Z" fill="#2797eb" stroke="#2797eb" stroke-width="0.5"/>
<path d="M132.2 737.1L133.8 734.8L132.6 732.0L131.0 734.3Z" fill="#2995ec" stroke="#2995ec" stroke-width="0.5"/>
<path d="M135.1 737.4L136.7 735.0L135.4 732.3L133.8 734.8Z" fill="#2994ed" stroke="#2994ed" stroke-width="0.5"/>
<path d="M137.9 737.5L139.5 734.9L138.3 732.4L136.7 735.0Z" fill="#2995ec" stroke="#2995ec" stroke-width="0.5"/>
<path d="M140.7 737.2L142.3 734.5L141.1 732.1L139.5 734.9Z" fill="#2797eb" stroke="#2797eb" stroke-width="0.5"/>
<path d="M143.6 736.7L145.2 733.8L143.9 731.6L142.3 734.5Z" fill="#269ae9" stroke="#269ae9" stroke-width="0.5"/>
<path d="M146.4 735.8L148.0 732.8L146.8 730.7L145.2 733.8Z" fill="#249ee6" stroke="#249ee6" stroke-width="0.5"/>
<path d="M149.3 734.7L150.9 731.6L149.6 729.6L148.0 732.8Z" fill="#21a4e3" stroke="#21a4e3" stroke-width="0.5"/>
<path d="M152.1 733.3L153.7 730.0L152.4 728.2L150.9 731.6Z" fill="#1baade" stroke="#1baade" stroke-width="0.5"/>
<path d="M154.9 731.6L156.5 728.2L155.3 726.5L153.7 730.0Z" fill="#12b1d6" stroke="#12b1d6" stroke-width="0.5"/>
<path d="M157.8 729.7L159.4 726.0L158.1 724.6L156.5 728.2Z" fill="#01b8ca" stroke="#01b8ca" stroke-width="0.5"/>
<path d="M110.8 727.8L112.4 726.7L111.1 722.9L109.5 724.0Z" fill="#05b6ce" stroke="#05b6ce" stroke-width="0.5"/>
<path d="M113.6 730.3L115.2 729.0L114.0 725.4L112.4 726.7Z" fill="#17aeda" stroke="#17aeda" stroke-width="0.5"/>
<path d="M116.4 732.5L118.0 731.1L116.8 727.6L115.2 729.0Z" fill="#1fa6e2" stroke="#1fa6e2" stroke-width="0.5"/>
<path d="M119.3 734.5L120.9 732.9L119.6 729.5L118.0 731.1Z" fill="#249fe6" stroke="#249fe6" stroke-width="0.5"/>
<path d="M122.1 736.1L123.7 734.4L122.5 731.1L120.9 732.9Z" fill="#2699ea" stroke="#2699ea" stroke-width="0.5"/>
<path d="M125.0 737.4L126.6 735.6L125.3 732.5L123.7 734.4Z" fill="#2a93ed" stroke="#2a93ed" stroke-width="0.5"/>
<path d="M127.8 738.5L129.4 736.5L128.1 733.5L126.6 735.6Z" fill="#2c8ff0" stroke="#2c8ff0" stroke-width="0.5"/>
<path d="M130.6 739.3L132.2 737.1L131.0 734.3L129.4 736.5Z" fill="#2d8df2" stroke="#2d8df2" stroke-width="0.5"/>
<path d="M133.5 739.7L135.1 737.4L133.8 734.8L132.2 737.1Z" fill="#2d8bf3" stroke="#2d8bf3" stroke-width="0.5"/>
<path d="M136.3 739.9L137.9 737.5L136.7 735.0L135.1 737.4Z" fill="#2d8bf3" stroke="#2d8bf3" stroke-width="0.5"/>
<path d="M139.2 739.8L140.7 737.2L139.5 734.9L137.9 737.5Z" fill="#2d8df2" stroke="#2d8df2" stroke-width="0.5"/>
<path d="M142.0 739.4L143.6 736.7L142.3 734.5L140.7 737.2Z" fill="#2c8ff0" stroke="#2c8ff0" stroke-width="0.5"/>
<path d="M144.8 738.7L146.4 735.8L145.2 733.8L143.6 736.7Z" fill="#2a93ed" stroke="#2a93ed" stroke-width="0.5"/>
<path d="M147.7 737.8L149.3 734.7L148.0 732.8L146.4 735.8Z" fill="#2699ea" stroke="#2699ea" stroke-width="0.5"/>
<path d="M150.5 736.5L152.1 733.3L150.9 731.6L149.3 734.7Z" fill="#249fe6" stroke="#249fe6" stroke-width="0.5"/>
<path d="M153.3 735.0L154.9 731.6L153.7 730.0L152.1 733.3Z" fill="#1fa6e2" stroke="#1fa6e2" stroke-width="0.5"/>
<path d="M156.2 733.1L157.8 729.7L156.5 728.2L154.9 731.6Z" fill="#17aeda" stroke="#17aeda" stroke-width="0.5"/>
<path d="M159.0 731.0L160.6 727.4L159.4 726.0L157.8 729.7Z" fill="#05b6ce" stroke="#05b6ce" stroke-width="0.5"/>
<path d="M109.2 728.8L110.8 727.8L109.5 724.0L107.9 725.0Z" fill="#0ab4d1" stroke="#0ab4d1" stroke-width="0.5"/>
<path d="M112.0 731.5L113.6 730.3L112.4 726.7L110.8 727.8Z" fill="#1aabdd" stroke="#1aabdd" stroke-width="0.5"/>
<path d="M114.9 733.8L116.4 732.5L115.2 729.0L113.6 730.3Z" fill="#21a2e4" stroke="#21a2e4" stroke-width="0.5"/>
<path d="M117.7 735.9L119.3 734.5L118.0 731.1L116.4 732.5Z" fill="#269ae8" stroke="#269ae8" stroke-width="0.5"/>
<path d="M120.5 737.7L122.1 736.1L120.9 732.9L119.3 734.5Z" fill="#2a93ed" stroke="#2a93ed" stroke-width="0.5"/>
<path d="M123.4 739.2L125.0 737.4L123.7 734.4L122.1 736.1Z" fill="#2d8df2" stroke="#2d8df2" stroke-width="0.5"/>
<path d="M126.2 740.4L127.8 738.5L126.6 735.6L125.0 737.4Z" fill="#2d89f5" stroke="#2d89f5" stroke-width="0.5"/>
<path d="M129.0 741.3L130.6 739.3L129.4 736.5L127.8 738.5Z" fill="#2e85f8" stroke="#2e85f8" stroke-width="0.5"/>
<path d="M131.9 741.9L133.5 739.7L132.2 737.1L130.6 739.3Z" fill="#2e83f9" stroke="#2e83f9" stroke-width="0.5"/>
<path d="M134.7 742.2L136.3 739.9L135.1 737.4L133.5 739.7Z" fill="#2f82f9" stroke="#2f82f9" stroke-width="0.5"/>
<path d="M137.6 742.3L139.2 739.8L137.9 737.5L136.3 739.9Z" fill="#2e83f9" stroke="#2e83f9" stroke-width="0.5"/>
<path d="M140.4 742.0L142.0 739.4L140.7 737.2L139.2 739.8Z" fill="#2e85f8" stroke="#2e85f8" stroke-width="0.5"/>
<path d="M143.2 741.5L144.8 738.7L143.6 736.7L142.0 739.4Z" fill="#2d89f5" stroke="#2d89f5" stroke-width="0.5"/>
<path d="M146.1 740.7L147.7 737.8L146.4 735.8L144.8 738.7Z" fill="#2d8df2" stroke="#2d8df2" stroke-width="0.5"/>
<path d="M148.9 739.5L150.5 736.5L149.3 734.7L147.7 737.8Z" fill="#2a93ed" stroke="#2a93ed" stroke-width="0.5"/>
<path d="M151.8 738.1L153.3 735.0L152.1 733.3L150.5 736.5Z" fill="#269ae8" stroke="#269ae8" stroke-width="0.5"/>
<path d="M154.6 736.4L156.2 733.1L154.9 731.6L153.3 735.0Z" fill="#21a2e4" stroke="#21a2e4" stroke-width="0.5"/>
<path d="M157.4 734.5L159.0 731.0L157.8 729.7L156.2 733.1Z" fill="#1aabdd" stroke="#1aabdd" stroke-width="0.5"/>
<path d="M160.3 732.2L161.9 728.6L160.6 727.4L159.0 731.0Z" fill="#0ab4d1" stroke="#0ab4d1" stroke-width="0.5"/>
<path d="M107.6 729.7L109.2 728.8L107.9 725.0L106.3 725.9Z" fill="#0eb2d4" stroke="#0eb2d4" stroke-width="0.5"/>
<path d="M110.4 732.5L112.0 731.5L110.8 727.8L109.2 728.8Z" fill="#1ca9e0" stroke="#1ca9e0" stroke-width="0.5"/>
<path d="M113.3 735.0L114.9 733.8L113.6 730.3L112.0 731.5Z" fill="#239fe5" stroke="#239fe5" stroke-width="0.5"/>
<path d="M116.1 737.2L117.7 735.9L116.4 732.5L114.9 733.8Z" fill="#2797eb" stroke="#2797eb" stroke-width="0.5"/>
<path d="M118.9 739.1L120.5 737.7L119.3 734.5L117.7 735.9Z" fill="#2c8ff1" stroke="#2c8ff1" stroke-width="0.5"/>
<path d="M121.8 740.8L123.4 739.2L122.1 736.1L120.5 737.7Z" fill="#2d88f6" stroke="#2d88f6" stroke-width="0.5"/>
<path d="M124.6 742.1L126.2 740.4L125.0 737.4L123.4 739.2Z" fill="#2f82f9" stroke="#2f82f9" stroke-width="0.5"/>
<path d="M127.5 743.2L129.0 741.3L127.8 738.5L126.2 740.4Z" fill="#317efb" stroke="#317efb" stroke-width="0.5"/>
<path d="M130.3 743.9L131.9 741.9L130.6 739.3L129.0 741.3Z" fill="#327bfc" stroke="#327bfc" stroke-width="0.5"/>
<path d="M133.1 744.4L134.7 742.2L133.5 739.7L131.9 741.9Z" fill="#347afd" stroke="#347afd" stroke-width="0.5"/>
<path d="M136.0 744.6L137.6 742.3L136.3 739.9L134.7 742.2Z" fill="#347afd" stroke="#347afd" stroke-width="0.5"/>
<path d="M138.8 744.5L140.4 742.0L139.2 739.8L137.6 742.3Z" fill="#327bfc" stroke="#327bfc" stroke-width="0.5"/>
<path d="M141.6 744.1L143.2 741.5L142.0 739.4L140.4 742.0Z" fill="#317efb" stroke="#317efb" stroke-width="0.5"/>
<path d="M144.5 743.4L146.1 740.7L144.8 738.7L143.2 741.5Z" fill="#2f82f9" stroke="#2f82f9" stroke-width="0.5"/>
<path d="M147.3 742.4L148.9 739.5L147.7 737.8L146.1 740.7Z" fill="#2d88f6" stroke="#2d88f6" stroke-width="0.5"/>
<path d="M150.2 741.2L151.8 738.1L150.5 736.5L148.9 739.5Z" fill="#2c8ff1" stroke="#2c8ff1" stroke-width="0.5"/>
<path d="M153.0 739.6L154.6 736.4L153.3 735.0L151.8 738.1Z" fill="#2797eb" stroke="#2797eb" stroke-width="0.5"/>
<path d="M155.8 737.8L157.4 734.5L156.2 733.1L154.6 736.4Z" fill="#239fe5" stroke="#239fe5" stroke-width="0.5"/>
<path d="M158.7 735.7L160.3 732.2L159.0 731.0L157.4 734.5Z" fill="#1ca9e0" stroke="#1ca9e0" stroke-width="0.5"/>
<path d="M161.5 733.2L163.1 729.6L161.9 728.6L160.3 732.2Z" fill="#0eb2d4" stroke="#0eb2d4" stroke-width="0.5"/>
<path d="M106.0 730.4L107.6 729.7L106.3 725.9L104.7 726.6Z" fill="#10b2d5" stroke="#10b2d5" stroke-width="0.5"/>
<path d="M108.8 733.4L110.4 732.5L109.2 728.8L107.6 729.7Z" fill="#1ea7e1" stroke="#1ea7e1" stroke-width="0.5"/>
<path d="M111.7 736.0L113.3 735.0L112.0 731.5L110.4 732.5Z" fill="#259de7" stroke="#259de7" stroke-width="0.5"/>
<path d="M114.5 738.4L116.1 737.2L114.9 733.8L113.3 735.0Z" fill="#2a93ed" stroke="#2a93ed" stroke-width="0.5"/>
<path d="M117.3 740.4L118.9 739.1L117.7 735.9L116.1 737.2Z" fill="#2d8bf4" stroke="#2d8bf4" stroke-width="0.5"/>
<path d="M120.2 742.2L121.8 740.8L120.5 737.7L118.9 739.1Z" fill="#2e83f9" stroke="#2e83f9" stroke-width="0.5"/>
<path d="M123.0 743.7L124.6 742.1L123.4 739.2L121.8 740.8Z" fill="#317dfc" stroke="#317dfc" stroke-width="0.5"/>
<path d="M125.9 744.9L127.5 743.2L126.2 740.4L124.6 742.1Z" fill="#3677fe" stroke="#3677fe" stroke-width="0.5"/>
<path d="M128.7 745.8L130.3 743.9L129.0 741.3L127.5 743.2Z" fill="#3a73fe" stroke="#3a73fe" stroke-width="0.5"/>
<path d="M131.5 746.4L133.1 744.4L131.9 741.9L130.3 743.9Z" fill="#3c71ff" stroke="#3c71ff" stroke-width="0.5"/>
<path d="M134.4 746.8L136.0 744.6L134.7 742.2L133.1 744.4Z" fill="#3d70ff" stroke="#3d70ff" stroke-width="0.5"/>
<path d="M137.2 746.8L138.8 744.5L137.6 742.3L136.0 744.6Z" fill="#3c71ff" stroke="#3c71ff" stroke-width="0.5"/>
<path d="M140.1 746.5L141.6 744.1L140.4 742.0L138.8 744.5Z" fill="#3a73fe" stroke="#3a73fe" stroke-width="0.5"/>
<path d="M142.9 746.0L144.5 743.4L143.2 741.5L141.6 744.1Z" fill="#3677fe" stroke="#3677fe" stroke-width="0.5"/>
<path d="M145.7 745.2L147.3 742.4L146.1 740.7L144.5 743.4Z" fill="#317dfc" stroke="#317dfc" stroke-width="0.5"/>
<path d="M148.6 744.1L150.2 741.2L148.9 739.5L147.3 742.4Z" fill="#2e83f9" stroke="#2e83f9" stroke-width="0.5"/>
<path d="M151.4 742.7L153.0 739.6L151.8 738.1L150.2 741.2Z" fill="#2d8bf4" stroke="#2d8bf4" stroke-width="0.5"/>
<path d="M154.2 741.0L155.8 737.8L154.6 736.4L153.0 739.6Z" fill="#2a93ed" stroke="#2a93ed" stroke-width="0.5"/>
<path d="M157.1 739.0L158.7 735.7L157.4 734.5L155.8 737.8Z" fill="#259de7" stroke="#259de7" stroke-width="0.5"/>
<path d="M159.9 736.7L161.5 733.2L160.3 732.2L158.7 735.7Z" fill="#1ea7e1" stroke="#1ea7e1" stroke-width="0.5"/>
<path d="M162.8 734.2L164.4 730.5L163.1 729.6L161.5 733.2Z" fill="#10b2d5" stroke="#10b2d5" stroke-width="0.5"/>
<path d="M104.4 731.0L106.0 730.4L104.7 726.6L103.1 727.2Z" fill="#12b1d6" stroke="#12b1d6" stroke-width="0.5"/>
<path d="M107.2 734.1L108.8 733.4L107.6 729.7L106.0 730.4Z" fill="#1fa6e2" stroke="#1fa6e2" stroke-width="0.5"/>
<path d="M110.1 736.9L111.7 736.0L110.4 732.5L108.8 733.4Z" fill="#259be8" stroke="#259be8" stroke-width="0.5"/>
<path d="M112.9 739.4L114.5 738.4L113.3 735.0L111.7 736.0Z" fill="#2b91ef" stroke="#2b91ef" stroke-width="0.5"/>
<path d="M115.7 741.6L117.3 740.4L116.1 737.2L114.5 738.4Z" fill="#2d87f7" stroke="#2d87f7" stroke-width="0.5"/>
<path d="M118.6 743.5L120.2 742.2L118.9 739.1L117.3 740.4Z" fill="#307ffb" stroke="#307ffb" stroke-width="0.5"/>
<path d="M121.4 745.1L123.0 743.7L121.8 740.8L120.2 742.2Z" fill="#3677fe" stroke="#3677fe" stroke-width="0.5"/>
<path d="M124.3 746.5L125.9 744.9L124.6 742.1L123.0 743.7Z" fill="#3c71ff" stroke="#3c71ff" stroke-width="0.5"/>
<path d="M127.1 747.5L128.7 745.8L127.5 743.2L125.9 744.9Z" fill="#406dfe" stroke="#406dfe" stroke-width="0.5"/>
<path d="M129.9 748.3L131.5 746.4L130.3 743.9L128.7 745.8Z" fill="#426afe" stroke="#426afe" stroke-width="0.5"/>
<path d="M132.8 748.8L134.4 746.8L133.1 744.4L131.5 746.4Z" fill="#4368fe" stroke="#4368fe" stroke-width="0.5"/>
<path d="M135.6 749.0L137.2 746.8L136.0 744.6L134.4 746.8Z" fill="#4368fe" stroke="#4368fe" stroke-width="0.5"/>
<path d="M138.5 748.9L140.1 746.5L138.8 744.5L137.2 746.8Z" fill="#426afe" stroke="#426afe" stroke-width="0.5"/>
<path d="M141.3 748.5L142.9 746.0L141.6 744.1L140.1 746.5Z" fill="#406dfe" stroke="#406dfe" stroke-width="0.5"/>
<path d="M144.1 747.8L145.7 745.2L144.5 743.4L142.9 746.0Z" fill="#3c71ff" stroke="#3c71ff" stroke-width="0.5"/>
<path d="M147.0 746.8L148.6 744.1L147.3 742.4L145.7 745.2Z" fill="#3677fe" stroke="#3677fe" stroke-width="0.5"/>
<path d="M149.8 745.6L151.4 742.7L150.2 741.2L148.6 744.1Z" fill="#307ffb" stroke="#307ffb" stroke-width="0.5"/>
<path d="M152.7 744.0L154.2 741.0L153.0 739.6L151.4 742.7Z" fill="#2d87f7" stroke="#2d87f7" stroke-width="0.5"/>
<path d="M155.5 742.2L157.1 739.0L155.8 737.8L154.2 741.0Z" fill="#2b91ef" stroke="#2b91ef" stroke-width="0.5"/>
<path d="M158.3 740.0L159.9 736.7L158.7 735.7L157.1 739.0Z" fill="#259be8" stroke="#259be8" stroke-width="0.5"/>
<path d="M161.2 737.6L162.8 734.2L161.5 733.2L159.9 736.7Z" fill="#1fa6e2" stroke="#1fa6e2" stroke-width="0.5"/>
<path d="M164.0 734.9L165.6 731.3L164.4 730.5L162.8 734.2Z" fill="#12b1d6" stroke="#12b1d6" stroke-width="0.5"/>
<path d="M102.8 731.4L104.4 731.0L103.1 727.2L101.6 727.6Z" fill="#12b1d6" stroke="#12b1d6" stroke-width="0.5"/>
<path d="M105.6 734.7L107.2 734.1L106.0 730.4L104.4 731.0Z" fill="#1fa6e2" stroke="#1fa6e2" stroke-width="0.5"/>
<path d="M108.5 737.6L110.1 736.9L108.8 733.4L107.2 734.1Z" fill="#269ae9" stroke="#269ae9" stroke-width="0.5"/>
<path d="M111.3 740.2L112.9 739.4L111.7 736.0L110.1 736.9Z" fill="#2c8ff1" stroke="#2c8ff1" stroke-width="0.5"/>
<path d="M114.2 742.6L115.7 741.6L114.5 738.4L112.9 739.4Z" fill="#2e85f8" stroke="#2e85f8" stroke-width="0.5"/>
<path d="M117.0 744.7L118.6 743.5L117.3 740.4L115.7 741.6Z" fill="#327bfc" stroke="#327bfc" stroke-width="0.5"/>
<path d="M119.8 746.4L121.4 745.1L120.2 742.2L118.6 743.5Z" fill="#3b73fe" stroke="#3b73fe" stroke-width="0.5"/>
<path d="M122.7 747.9L124.3 746.5L123.0 743.7L121.4 745.1Z" fill="#406cfe" stroke="#406cfe" stroke-width="0.5"/>
<path d="M125.5 749.1L127.1 747.5L125.9 744.9L124.3 746.5Z" fill="#4367fd" stroke="#4367fd" stroke-width="0.5"/>
<path d="M128.3 750.0L129.9 748.3L128.7 745.8L127.1 747.5Z" fill="#4563fd" stroke="#4563fd" stroke-width="0.5"/>
<path d="M131.2 750.7L132.8 748.8L131.5 746.4L129.9 748.3Z" fill="#4561fc" stroke="#4561fc" stroke-width="0.5"/>
<path d="M134.0 751.0L135.6 749.0L134.4 746.8L132.8 748.8Z" fill="#4661fc" stroke="#4661fc" stroke-width="0.5"/>
<path d="M136.9 751.0L138.5 748.9L137.2 746.8L135.6 749.0Z" fill="#4561fc" stroke="#4561fc" stroke-width="0.5"/>
<path d="M139.7 750.8L141.3 748.5L140.1 746.5L138.5 748.9Z" fill="#4563fd" stroke="#4563fd" stroke-width="0.5"/>
<path d="M142.5 750.2L144.1 747.8L142.9 746.0L141.3 748.5Z" fill="#4367fd" stroke="#4367fd" stroke-width="0.5"/>
<path d="M145.4 749.4L147.0 746.8L145.7 745.2L144.1 747.8Z" fill="#406cfe" stroke="#406cfe" stroke-width="0.5"/>
<path d="M148.2 748.3L149.8 745.6L148.6 744.1L147.0 746.8Z" fill="#3b73fe" stroke="#3b73fe" stroke-width="0.5"/>
<path d="M151.1 746.9L152.7 744.0L151.4 742.7L149.8 745.6Z" fill="#327bfc" stroke="#327bfc" stroke-width="0.5"/>
<path d="M153.9 745.2L155.5 742.2L154.2 741.0L152.7 744.0Z" fill="#2e85f8" stroke="#2e85f8" stroke-width="0.5"/>
<path d="M156.7 743.2L158.3 740.0L157.1 739.0L155.5 742.2Z" fill="#2c8ff1" stroke="#2c8ff1" stroke-width="0.5"/>
<path d="M159.6 740.9L161.2 737.6L159.9 736.7L158.3 740.0Z" fill="#269ae9" stroke="#269ae9" stroke-width="0.5"/>
<path d="M162.4 738.4L164.0 734.9L162.8 734.2L161.2 737.6Z" fill="#1fa6e2" stroke="#1fa6e2" stroke-width="0.5"/>
<path d="M165.3 735.5L166.8 731.9L165.6 731.3L164.0 734.9Z" fill="#12b1d6" stroke="#12b1d6" stroke-width="0.5"/>
<path d="M101.2 731.7L102.8 731.4L101.6 727.6L100.0 727.9Z" fill="#10b2d5" stroke="#10b2d5" stroke-width="0.5"/>
<path d="M104.0 735.1L105.6 734.7L104.4 731.0L102.8 731.4Z" fill="#1fa6e2" stroke="#1fa6e2" stroke-width="0.5"/>
<path d="M106.9 738.2L108.5 737.6L107.2 734.1L105.6 734.7Z" fill="#2699e9" stroke="#2699e9" stroke-width="0.5"/>
<path d="M109.7 741.0L111.3 740.2L110.1 736.9L108.5 737.6Z" fill="#2d8df2" stroke="#2d8df2" stroke-width="0.5"/>
<path d="M112.6 743.5L114.2 742.6L112.9 739.4L111.3 740.2Z" fill="#2f82f9" stroke="#2f82f9" stroke-width="0.5"/>
<path d="M115.4 745.7L117.0 744.7L115.7 741.6L114.2 742.6Z" fill="#3678fd" stroke="#3678fd" stroke-width="0.5"/>
<path d="M118.2 747.6L119.8 746.4L118.6 743.5L117.0 744.7Z" fill="#3e6fff" stroke="#3e6fff" stroke-width="0.5"/>
<path d="M121.1 749.2L122.7 747.9L121.4 745.1L119.8 746.4Z" fill="#4368fd" stroke="#4368fd" stroke-width="0.5"/>
<path d="M123.9 750.6L125.5 749.1L124.3 746.5L122.7 747.9Z" fill="#4562fc" stroke="#4562fc" stroke-width="0.5"/>
<path d="M126.8 751.6L128.3 750.0L127.1 747.5L125.5 749.1Z" fill="#465efb" stroke="#465efb" stroke-width="0.5"/>
<path d="M129.6 752.4L131.2 750.7L129.9 748.3L128.3 750.0Z" fill="#475bf9" stroke="#475bf9" stroke-width="0.5"/>
<path d="M132.4 752.9L134.0 751.0L132.8 748.8L131.2 750.7Z" fill="#475af9" stroke="#475af9" stroke-width="0.5"/>
<path d="M135.3 753.0L136.9 751.0L135.6 749.0L134.0 751.0Z" fill="#475af9" stroke="#475af9" stroke-width="0.5"/>
<path d="M138.1 752.9L139.7 750.8L138.5 748.9L136.9 751.0Z" fill="#475bf9" stroke="#475bf9" stroke-width="0.5"/>
<path d="M140.9 752.6L142.5 750.2L141.3 748.5L139.7 750.8Z" fill="#465efb" stroke="#465efb" stroke-width="0.5"/>
<path d="M143.8 751.9L145.4 749.4L144.1 747.8L142.5 750.2Z" fill="#4562fc" stroke="#4562fc" stroke-width="0.5"/>
<path d="M146.6 750.9L148.2 748.3L147.0 746.8L145.4 749.4Z" fill="#4368fd" stroke="#4368fd" stroke-width="0.5"/>
<path d="M149.5 749.6L151.1 746.9L149.8 745.6L148.2 748.3Z" fill="#3e6fff" stroke="#3e6fff" stroke-width="0.5"/>
<path d="M152.3 748.1L153.9 745.2L152.7 744.0L151.1 746.9Z" fill="#3678fd" stroke="#3678fd" stroke-width="0.5"/>
<path d="M155.1 746.3L156.7 743.2L155.5 742.2L153.9 745.2Z" fill="#2f82f9" stroke="#2f82f9" stroke-width="0.5"/>
<path d="M158.0 744.1L159.6 740.9L158.3 740.0L156.7 743.2Z" fill="#2d8df2" stroke="#2d8df2" stroke-width="0.5"/>
<path d="M160.8 741.7L162.4 738.4L161.2 737.6L159.6 740.9Z" fill="#2699e9" stroke="#2699e9" stroke-width="0.5"/>
<path d="M163.7 739.0L165.3 735.5L164.0 734.9L162.4 738.4Z" fill="#1fa6e2" stroke="#1fa6e2" stroke-width="0.5"/>
<path d="M166.5 736.0L168.1 732.4L166.8 731.9L165.3 735.5Z" fill="#10b2d5" stroke="#10b2d5" stroke-width="0.5"/>
<path d="M99.6 731.9L101.2 731.7L100.0 727.9L98.4 728.1Z" fill="#0eb2d4" stroke="#0eb2d4" stroke-width="0.5"/>
<path d="M102.5 735.4L104.0 735.1L102.8 731.4L101.2 731.7Z" fill="#1fa6e2" stroke="#1fa6e2" stroke-width="0.5"/>
<path d="M105.3 738.6L106.9 738.2L105.6 734.7L104.0 735.1Z" fill="#2699e9" stroke="#2699e9" stroke-width="0.5"/>
<path d="M108.1 741.5L109.7 741.0L108.5 737.6L106.9 738.2Z" fill="#2d8df2" stroke="#2d8df2" stroke-width="0.5"/>
<path d="M111.0 744.2L112.6 743.5L111.3 740.2L109.7 741.0Z" fill="#2f81fa" stroke="#2f81fa" stroke-width="0.5"/>
<path d="M113.8 746.5L115.4 745.7L114.2 742.6L112.6 743.5Z" fill="#3876fe" stroke="#3876fe" stroke-width="0.5"/>
<path d="M116.6 748.6L118.2 747.6L117.0 744.7L115.4 745.7Z" fill="#406cfe" stroke="#406cfe" stroke-width="0.5"/>
<path d="M119.5 750.4L121.1 749.2L119.8 746.4L118.2 747.6Z" fill="#4564fd" stroke="#4564fd" stroke-width="0.5"/>
<path d="M122.3 751.9L123.9 750.6L122.7 747.9L121.1 749.2Z" fill="#465efb" stroke="#465efb" stroke-width="0.5"/>
<path d="M125.2 753.1L126.8 751.6L125.5 749.1L123.9 750.6Z" fill="#4759f8" stroke="#4759f8" stroke-width="0.5"/>
<path d="M128.0 754.0L129.6 752.4L128.3 750.0L126.8 751.6Z" fill="#4756f6" stroke="#4756f6" stroke-width="0.5"/>
<path d="M130.8 754.6L132.4 752.9L131.2 750.7L129.6 752.4Z" fill="#4854f5" stroke="#4854f5" stroke-width="0.5"/>
<path d="M133.7 754.9L135.3 753.0L134.0 751.0L132.4 752.9Z" fill="#4853f5" stroke="#4853f5" stroke-width="0.5"/>
<path d="M136.5 755.0L138.1 752.9L136.9 751.0L135.3 753.0Z" fill="#4854f5" stroke="#4854f5" stroke-width="0.5"/>
<path d="M139.4 754.7L140.9 752.6L139.7 750.8L138.1 752.9Z" fill="#4756f6" stroke="#4756f6" stroke-width="0.5"/>
<path d="M142.2 754.2L143.8 751.9L142.5 750.2L140.9 752.6Z" fill="#4759f8" stroke="#4759f8" stroke-width="0.5"/>
<path d="M145.0 753.4L146.6 750.9L145.4 749.4L143.8 751.9Z" fill="#465efb" stroke="#465efb" stroke-width="0.5"/>
<path d="M147.9 752.2L149.5 749.6L148.2 748.3L146.6 750.9Z" fill="#4564fd" stroke="#4564fd" stroke-width="0.5"/>
<path d="M150.7 750.8L152.3 748.1L151.1 746.9L149.5 749.6Z" fill="#406cfe" stroke="#406cfe" stroke-width="0.5"/>
<path d="M153.5 749.1L155.1 746.3L153.9 745.2L152.3 748.1Z" fill="#3876fe" stroke="#3876fe" stroke-width="0.5"/>
<path d="M156.4 747.2L158.0 744.1L156.7 743.2L155.1 746.3Z" fill="#2f81fa" stroke="#2f81fa" stroke-width="0.5"/>
<path d="M159.2 744.9L160.8 741.7L159.6 740.9L158.0 744.1Z" fill="#2d8df2" stroke="#2d8df2" stroke-width="0.5"/>
<path d="M162.1 742.3L163.7 739.0L162.4 738.4L160.8 741.7Z" fill="#2699e9" stroke="#2699e9" stroke-width="0.5"/>
<path d="M164.9 739.5L166.5 736.0L165.3 735.5L163.7 739.0Z" fill="#1fa6e2" stroke="#1fa6e2" stroke-width="0.5"/>
<path d="M167.7 736.3L169.3 732.7L168.1 732.4L166.5 736.0Z" fill="#0eb2d4" stroke="#0eb2d4" stroke-width="0.5"/>
<path d="M98.0 731.9L99.6 731.9L98.4 728.1L96.8 728.1Z" fill="#0ab4d1" stroke="#0ab4d1" stroke-width="0.5"/>
<path d="M100.9 735.5L102.5 735.4L101.2 731.7L99.6 731.9Z" fill="#1ea7e1" stroke="#1ea7e1" stroke-width="0.5"/>
<path d="M103.7 738.9L105.3 738.6L104.0 735.1L102.5 735.4Z" fill="#269ae9" stroke="#269ae9" stroke-width="0.5"/>
<path d="M106.5 742.0L108.1 741.5L106.9 738.2L105.3 738.6Z" fill="#2d8df2" stroke="#2d8df2" stroke-width="0.5"/>
<path d="M109.4 744.8L111.0 744.2L109.7 741.0L108.1 741.5Z" fill="#2f80fa" stroke="#2f80fa" stroke-width="0.5"/>
<path d="M112.2 747.3L113.8 746.5L112.6 743.5L111.0 744.2Z" fill="#3974fe" stroke="#3974fe" stroke-width="0.5"/>
<path d="M115.1 749.5L116.6 748.6L115.4 745.7L113.8 746.5Z" fill="#426afe" stroke="#426afe" stroke-width="0.5"/>
<path d="M117.9 751.4L119.5 750.4L118.2 747.6L116.6 748.6Z" fill="#4561fc" stroke="#4561fc" stroke-width="0.5"/>
<path d="M120.7 753.0L122.3 751.9L121.1 749.2L119.5 750.4Z" fill="#475af9" stroke="#475af9" stroke-width="0.5"/>
<path d="M123.6 754.4L125.2 753.1L123.9 750.6L122.3 751.9Z" fill="#4755f6" stroke="#4755f6" stroke-width="0.5"/>
<path d="M126.4 755.4L128.0 754.0L126.8 751.6L125.2 753.1Z" fill="#4851f3" stroke="#4851f3" stroke-width="0.5"/>
<path d="M129.2 756.2L130.8 754.6L129.6 752.4L128.0 754.0Z" fill="#484ff2" stroke="#484ff2" stroke-width="0.5"/>
<path d="M132.1 756.7L133.7 754.9L132.4 752.9L130.8 754.6Z" fill="#484df1" stroke="#484df1" stroke-width="0.5"/>
<path d="M134.9 756.8L136.5 755.0L135.3 753.0L133.7 754.9Z" fill="#484df1" stroke="#484df1" stroke-width="0.5"/>
<path d="M137.8 756.7L139.4 754.7L138.1 752.9L136.5 755.0Z" fill="#484ff2" stroke="#484ff2" stroke-width="0.5"/>
<path d="M140.6 756.4L142.2 754.2L140.9 752.6L139.4 754.7Z" fill="#4851f3" stroke="#4851f3" stroke-width="0.5"/>
<path d="M143.4 755.7L145.0 753.4L143.8 751.9L142.2 754.2Z" fill="#4755f6" stroke="#4755f6" stroke-width="0.5"/>
<path d="M146.3 754.7L147.9 752.2L146.6 750.9L145.0 753.4Z" fill="#475af9" stroke="#475af9" stroke-width="0.5"/>
<path d="M149.1 753.4L150.7 750.8L149.5 749.6L147.9 752.2Z" fill="#4561fc" stroke="#4561fc" stroke-width="0.5"/>
<path d="M152.0 751.9L153.5 749.1L152.3 748.1L150.7 750.8Z" fill="#426afe" stroke="#426afe" stroke-width="0.5"/>
<path d="M154.8 750.1L156.4 747.2L155.1 746.3L153.5 749.1Z" fill="#3974fe" stroke="#3974fe" stroke-width="0.5"/>
<path d="M157.6 747.9L159.2 744.9L158.0 744.1L156.4 747.2Z" fill="#2f80fa" stroke="#2f80fa" stroke-width="0.5"/>
<path d="M160.5 745.5L162.1 742.3L160.8 741.7L159.2 744.9Z" fill="#2d8df2" stroke="#2d8df2" stroke-width="0.5"/>
<path d="M163.3 742.8L164.9 739.5L163.7 739.0L162.1 742.3Z" fill="#269ae9" stroke="#269ae9" stroke-width="0.5"/>
<path d="M166.2 739.8L167.7 736.3L166.5 736.0L164.9 739.5Z" fill="#1ea7e1" stroke="#1ea7e1" stroke-width="0.5"/>
<path d="M169.0 736.5L170.6 732.9L169.3 732.7L167.7 736.3Z" fill="#0ab4d1" stroke="#0ab4d1" stroke-width="0.5"/>
<path d="M96.4 731.7L98.0 731.9L96.8 728.1L95.2 727.9Z" fill="#05b6ce" stroke="#05b6ce" stroke-width="0.5"/>
<path d="M99.3 735.5L100.9 735.5L99.6 731.9L98.0 731.9Z" fill="#1ca9e0" stroke="#1ca9e0" stroke-width="0.5"/>
<path d="M102.1 739.0L103.7 738.9L102.5 735.4L100.9 735.5Z" fill="#259be8" stroke="#259be8" stroke-width="0.5"/>
<path d="M104.9 742.3L106.5 742.0L105.3 738.6L103.7 738.9Z" fill="#2d8df2" stroke="#2d8df2" stroke-width="0.5"/>
<path d="M107.8 745.2L109.4 744.8L108.1 741.5L106.5 742.0Z" fill="#2f80fa" stroke="#2f80fa" stroke-width="0.5"/>
<path d="M110.6 747.8L112.2 747.3L111.0 744.2L109.4 744.8Z" fill="#3a73fe" stroke="#3a73fe" stroke-width="0.5"/>
<path d="M113.5 750.2L115.1 749.5L113.8 746.5L112.2 747.3Z" fill="#4368fe" stroke="#4368fe" stroke-width="0.5"/>
<path d="M116.3 752.3L117.9 751.4L116.6 748.6L115.1 749.5Z" fill="#465ffb" stroke="#465ffb" stroke-width="0.5"/>
<path d="M119.1 754.0L120.7 753.0L119.5 750.4L117.9 751.4Z" fill="#4758f8" stroke="#4758f8" stroke-width="0.5"/>
<path d="M122.0 755.5L123.6 754.4L122.3 751.9L120.7 753.0Z" fill="#4852f4" stroke="#4852f4" stroke-width="0.5"/>
<path d="M124.8 756.7L126.4 755.4L125.2 753.1L123.6 754.4Z" fill="#484df1" stroke="#484df1" stroke-width="0.5"/>
<path d="M127.7 757.6L129.2 756.2L128.0 754.0L126.4 755.4Z" fill="#484aee" stroke="#484aee" stroke-width="0.5"/>
<path d="M130.5 758.2L132.1 756.7L130.8 754.6L129.2 756.2Z" fill="#4848ec" stroke="#4848ec" stroke-width="0.5"/>
<path d="M133.3 758.6L134.9 756.8L133.7 754.9L132.1 756.7Z" fill="#4848ec" stroke="#4848ec" stroke-width="0.5"/>
<path d="M136.2 758.6L137.8 756.7L136.5 755.0L134.9 756.8Z" fill="#4848ec" stroke="#4848ec" stroke-width="0.5"/>
<path d="M139.0 758.4L140.6 756.4L139.4 754.7L137.8 756.7Z" fill="#484aee" stroke="#484aee" stroke-width="0.5"/>
<path d="M141.8 757.8L143.4 755.7L142.2 754.2L140.6 756.4Z" fill="#484df1" stroke="#484df1" stroke-width="0.5"/>
<path d="M144.7 757.0L146.3 754.7L145.0 753.4L143.4 755.7Z" fill="#4852f4" stroke="#4852f4" stroke-width="0.5"/>
<path d="M147.5 755.9L149.1 753.4L147.9 752.2L146.3 754.7Z" fill="#4758f8" stroke="#4758f8" stroke-width="0.5"/>
<path d="M150.4 754.5L152.0 751.9L150.7 750.8L149.1 753.4Z" fill="#465ffb" stroke="#465ffb" stroke-width="0.5"/>
<path d="M153.2 752.8L154.8 750.1L153.5 749.1L152.0 751.9Z" fill="#4368fe" stroke="#4368fe" stroke-width="0.5"/>
<path d="M156.0 750.8L157.6 747.9L156.4 747.2L154.8 750.1Z" fill="#3a73fe" stroke="#3a73fe" stroke-width="0.5"/>
<path d="M158.9 748.5L160.5 745.5L159.2 744.9L157.6 747.9Z" fill="#2f80fa" stroke="#2f80fa" stroke-width="0.5"/>
<path d="M161.7 746.0L163.3 742.8L162.1 742.3L160.5 745.5Z" fill="#2d8df2" stroke="#2d8df2" stroke-width="0.5"/>
<path d="M164.6 743.1L166.2 739.8L164.9 739.5L163.3 742.8Z" fill="#259be8" stroke="#259be8" stroke-width="0.5"/>
<path d="M167.4 740.0L169.0 736.5L167.7 736.3L166.2 739.8Z" fill="#1ca9e0" stroke="#1ca9e0" stroke-width="0.5"/>
<path d="M170.2 736.6L171.8 732.9L170.6 732.9L169.0 736.5Z" fill="#05b6ce" stroke="#05b6ce" stroke-width="0.5"/>
<path d="M94.8 731.4L96.4 731.7L95.2 727.9L93.6 727.6Z" fill="#01b8ca" stroke="#01b8ca" stroke-width="0.5"/>
<path d="M97.7 735.4L99.3 735.5L98.0 731.9L96.4 731.7Z" fill="#1aabdd" stroke="#1aabdd" stroke-width="0.5"/>
<path d="M100.5 739.0L102.1 739.0L100.9 735.5L99.3 735.5Z" fill="#259de7" stroke="#259de7" stroke-width="0.5"/>
<path d="M103.4 742.4L104.9 742.3L103.7 738.9L102.1 739.0Z" fill="#2c8ff1" stroke="#2c8ff1" stroke-width="0.5"/>
<path d="M106.2 745.5L107.8 745.2L106.5 742.0L104.9 742.3Z" fill="#2f81fa" stroke="#2f81fa" stroke-width="0.5"/>
<path d="M109.0 748.3L110.6 747.8L109.4 744.8L107.8 745.2Z" fill="#3a73fe" stroke="#3a73fe" stroke-width="0.5"/>
<path d="M111.9 750.8L113.5 750.2L112.2 747.3L110.6 747.8Z" fill="#4368fd" stroke="#4368fd" stroke-width="0.5"/>
<path d="M114.7 753.0L116.3 752.3L115.1 749.5L113.5 750.2Z" fill="#465efb" stroke="#465efb" stroke-width="0.5"/>
<path d="M117.5 754.9L119.1 754.0L117.9 751.4L116.3 752.3Z" fill="#4756f6" stroke="#4756f6" stroke-width="0.5"/>
<path d="M120.4 756.5L122.0 755.5L120.7 753.0L119.1 754.0Z" fill="#484ff2" stroke="#484ff2" stroke-width="0.5"/>
<path d="M123.2 757.9L124.8 756.7L123.6 754.4L122.0 755.5Z" fill="#484aee" stroke="#484aee" stroke-width="0.5"/>
<path d="M126.1 758.9L127.7 757.6L126.4 755.4L124.8 756.7Z" fill="#4746ea" stroke="#4746ea" stroke-width="0.5"/>
<path d="M128.9 759.7L130.5 758.2L129.2 756.2L127.7 757.6Z" fill="#4744e8" stroke="#4744e8" stroke-width="0.5"/>
<path d="M131.7 760.2L133.3 758.6L132.1 756.7L130.5 758.2Z" fill="#4742e6" stroke="#4742e6" stroke-width="0.5"/>
<path d="M134.6 760.4L136.2 758.6L134.9 756.8L133.3 758.6Z" fill="#4742e6" stroke="#4742e6" stroke-width="0.5"/>
<path d="M137.4 760.3L139.0 758.4L137.8 756.7L136.2 758.6Z" fill="#4744e8" stroke="#4744e8" stroke-width="0.5"/>
<path d="M140.3 759.9L141.8 757.8L140.6 756.4L139.0 758.4Z" fill="#4746ea" stroke="#4746ea" stroke-width="0.5"/>
<path d="M143.1 759.2L144.7 757.0L143.4 755.7L141.8 757.8Z" fill="#484aee" stroke="#484aee" stroke-width="0.5"/>
<path d="M145.9 758.2L147.5 755.9L146.3 754.7L144.7 757.0Z" fill="#484ff2" stroke="#484ff2" stroke-width="0.5"/>
<path d="M148.8 756.9L150.4 754.5L149.1 753.4L147.5 755.9Z" fill="#4756f6" stroke="#4756f6" stroke-width="0.5"/>
<path d="M151.6 755.4L153.2 752.8L152.0 751.9L150.4 754.5Z" fill="#465efb" stroke="#465efb" stroke-width="0.5"/>
<path d="M154.4 753.6L156.0 750.8L154.8 750.1L153.2 752.8Z" fill="#4368fd" stroke="#4368fd" stroke-width="0.5"/>
<path d="M157.3 751.4L158.9 748.5L157.6 747.9L156.0 750.8Z" fill="#3a73fe" stroke="#3a73fe" stroke-width="0.5"/>
<path d="M160.1 749.0L161.7 746.0L160.5 745.5L158.9 748.5Z" fill="#2f81fa" stroke="#2f81fa" stroke-width="0.5"/>
<path d="M163.0 746.3L164.6 743.1L163.3 742.8L161.7 746.0Z" fill="#2c8ff1" stroke="#2c8ff1" stroke-width="0.5"/>
<path d="M165.8 743.3L167.4 740.0L166.2 739.8L164.6 743.1Z" fill="#259de7" stroke="#259de7" stroke-width="0.5"/>
<path d="M168.6 740.0L170.2 736.6L169.0 736.5L167.4 740.0Z" fill="#1aabdd" stroke="#1aabdd" stroke-width="0.5"/>
<path d="M171.5 736.5L173.1 732.8L171.8 732.9L170.2 736.6Z" fill="#01b8ca" stroke="#01b8ca" stroke-width="0.5"/>
<path d="M93.2 731.0L94.8 731.4L93.6 727.6L92.0 727.2Z" fill="#02bac5" stroke="#02bac5" stroke-width="0.5"/>
<path d="M96.1 735.1L97.7 735.4L96.4 731.7L94.8 731.4Z" fill="#17aeda" stroke="#17aeda" stroke-width="0.5"/>
<path d="M98.9 738.9L100.5 739.0L99.3 735.5L97.7 735.4Z" fill="#239fe5" stroke="#239fe5" stroke-width="0.5"/>
<path d="M101.8 742.4L103.4 742.4L102.1 739.0L100.5 739.0Z" fill="#2b91ef" stroke="#2b91ef" stroke-width="0.5"/>
<path d="M104.6 745.6L106.2 745.5L104.9 742.3L103.4 742.4Z" fill="#2f82f9" stroke="#2f82f9" stroke-width="0.5"/>
<path d="M107.4 748.6L109.0 748.3L107.8 745.2L106.2 745.5Z" fill="#3974fe" stroke="#3974fe" stroke-width="0.5"/>
<path d="M110.3 751.2L111.9 750.8L110.6 747.8L109.0 748.3Z" fill="#4368fd" stroke="#4368fd" stroke-width="0.5"/>
<path d="M113.1 753.6L114.7 753.0L113.5 750.2L111.9 750.8Z" fill="#465dfa" stroke="#465dfa" stroke-width="0.5"/>
<path d="M116.0 755.6L117.5 754.9L116.3 752.3L114.7 753.0Z" fill="#4855f6" stroke="#4855f6" stroke-width="0.5"/>
<path d="M118.8 757.4L120.4 756.5L119.1 754.0L117.5 754.9Z" fill="#484df1" stroke="#484df1" stroke-width="0.5"/>
<path d="M121.6 758.9L123.2 757.9L122.0 755.5L120.4 756.5Z" fill="#4847ec" stroke="#4847ec" stroke-width="0.5"/>
<path d="M124.5 760.1L126.1 758.9L124.8 756.7L123.2 757.9Z" fill="#4743e7" stroke="#4743e7" stroke-width="0.5"/>
<path d="M127.3 761.0L128.9 759.7L127.7 757.6L126.1 758.9Z" fill="#4740e4" stroke="#4740e4" stroke-width="0.5"/>
<path d="M130.1 761.6L131.7 760.2L130.5 758.2L128.9 759.7Z" fill="#473ee1" stroke="#473ee1" stroke-width="0.5"/>
<path d="M133.0 761.9L134.6 760.4L133.3 758.6L131.7 760.2Z" fill="#463ee0" stroke="#463ee0" stroke-width="0.5"/>
<path d="M135.8 762.0L137.4 760.3L136.2 758.6L134.6 760.4Z" fill="#473ee1" stroke="#473ee1" stroke-width="0.5"/>
<path d="M138.7 761.7L140.3 759.9L139.0 758.4L137.4 760.3Z" fill="#4740e4" stroke="#4740e4" stroke-width="0.5"/>
<path d="M141.5 761.2L143.1 759.2L141.8 757.8L140.3 759.9Z" fill="#4743e7" stroke="#4743e7" stroke-width="0.5"/>
<path d="M144.3 760.4L145.9 758.2L144.7 757.0L143.1 759.2Z" fill="#4847ec" stroke="#4847ec" stroke-width="0.5"/>
<path d="M147.2 759.3L148.8 756.9L147.5 755.9L145.9 758.2Z" fill="#484df1" stroke="#484df1" stroke-width="0.5"/>
<path d="M150.0 757.9L151.6 755.4L150.4 754.5L148.8 756.9Z" fill="#4855f6" stroke="#4855f6" stroke-width="0.5"/>
<path d="M152.9 756.2L154.4 753.6L153.2 752.8L151.6 755.4Z" fill="#465dfa" stroke="#465dfa" stroke-width="0.5"/>
<path d="M155.7 754.2L157.3 751.4L156.0 750.8L154.4 753.6Z" fill="#4368fd" stroke="#4368fd" stroke-width="0.5"/>
<path d="M158.5 751.9L160.1 749.0L158.9 748.5L157.3 751.4Z" fill="#3974fe" stroke="#3974fe" stroke-width="0.5"/>
<path d="M161.4 749.3L163.0 746.3L161.7 746.0L160.1 749.0Z" fill="#2f82f9" stroke="#2f82f9" stroke-width="0.5"/>
<path d="M164.2 746.5L165.8 743.3L164.6 743.1L163.0 746.3Z" fill="#2b91ef" stroke="#2b91ef" stroke-width="0.5"/>
<path d="M167.0 743.4L168.6 740.0L167.4 740.0L165.8 743.3Z" fill="#239fe5" stroke="#239fe5" stroke-width="0.5"/>
<path d="M169.9 739.9L171.5 736.5L170.2 736.6L168.6 740.0Z" fill="#17aeda" stroke="#17aeda" stroke-width="0.5"/>
<path d="M172.7 736.2L174.3 732.6L173.1 732.8L171.5 736.5Z" fill="#02bac5" stroke="#02bac5" stroke-width="0.5"/>
<path d="M91.7 730.4L93.2 731.0L92.0 727.2L90.4 726.6Z" fill="#09bcbe" stroke="#09bcbe" stroke-width="0.5"/>
<path d="M94.5 734.6L96.1 735.1L94.8 731.4L93.2 731.0Z" fill="#12b1d6" stroke="#12b1d6" stroke-width="0.5"/>
<path d="M97.3 738.6L98.9 738.9L97.7 735.4L96.1 735.1Z" fill="#21a2e4" stroke="#21a2e4" stroke-width="0.5"/>
<path d="M100.2 742.2L101.8 742.4L100.5 739.0L98.9 738.9Z" fill="#2a93ed" stroke="#2a93ed" stroke-width="0.5"/>
<path d="M103.0 745.6L104.6 745.6L103.4 742.4L101.8 742.4Z" fill="#2e85f8" stroke="#2e85f8" stroke-width="0.5"/>
<path d="M105.8 748.7L107.4 748.6L106.2 745.5L104.6 745.6Z" fill="#3876fe" stroke="#3876fe" stroke-width="0.5"/>
<path d="M108.7 751.5L110.3 751.2L109.0 748.3L107.4 748.6Z" fill="#4368fe" stroke="#4368fe" stroke-width="0.5"/>
<path d="M111.5 754.0L113.1 753.6L111.9 750.8L110.3 751.2Z" fill="#465dfa" stroke="#465dfa" stroke-width="0.5"/>
<path d="M114.4 756.2L116.0 755.6L114.7 753.0L113.1 753.6Z" fill="#4854f5" stroke="#4854f5" stroke-width="0.5"/>
<path d="M117.2 758.1L118.8 757.4L117.5 754.9L116.0 755.6Z" fill="#484cf0" stroke="#484cf0" stroke-width="0.5"/>
<path d="M120.0 759.8L121.6 758.9L120.4 756.5L118.8 757.4Z" fill="#4746ea" stroke="#4746ea" stroke-width="0.5"/>
<path d="M122.9 761.1L124.5 760.1L123.2 757.9L121.6 758.9Z" fill="#4741e4" stroke="#4741e4" stroke-width="0.5"/>
<path d="M125.7 762.2L127.3 761.0L126.1 758.9L124.5 760.1Z" fill="#463de0" stroke="#463de0" stroke-width="0.5"/>
<path d="M128.6 762.9L130.1 761.6L128.9 759.7L127.3 761.0Z" fill="#463bdc" stroke="#463bdc" stroke-width="0.5"/>
<path d="M131.4 763.4L133.0 761.9L131.7 760.2L130.1 761.6Z" fill="#463ada" stroke="#463ada" stroke-width="0.5"/>
<path d="M134.2 763.6L135.8 762.0L134.6 760.4L133.0 761.9Z" fill="#463ada" stroke="#463ada" stroke-width="0.5"/>
<path d="M137.1 763.5L138.7 761.7L137.4 760.3L135.8 762.0Z" fill="#463bdc" stroke="#463bdc" stroke-width="0.5"/>
<path d="M139.9 763.1L141.5 761.2L140.3 759.9L138.7 761.7Z" fill="#463de0" stroke="#463de0" stroke-width="0.5"/>
<path d="M142.7 762.4L144.3 760.4L143.1 759.2L141.5 761.2Z" fill="#4741e4" stroke="#4741e4" stroke-width="0.5"/>
<path d="M145.6 761.4L147.2 759.3L145.9 758.2L144.3 760.4Z" fill="#4746ea" stroke="#4746ea" stroke-width="0.5"/>
<path d="M148.4 760.2L150.0 757.9L148.8 756.9L147.2 759.3Z" fill="#484cf0" stroke="#484cf0" stroke-width="0.5"/>
<path d="M151.3 758.6L152.9 756.2L151.6 755.4L150.0 757.9Z" fill="#4854f5" stroke="#4854f5" stroke-width="0.5"/>
<path d="M154.1 756.8L155.7 754.2L154.4 753.6L152.9 756.2Z" fill="#465dfa" stroke="#465dfa" stroke-width="0.5"/>
<path d="M156.9 754.7L158.5 751.9L157.3 751.4L155.7 754.2Z" fill="#4368fe" stroke="#4368fe" stroke-width="0.5"/>
<path d="M159.8 752.2L161.4 749.3L160.1 749.0L158.5 751.9Z" fill="#3876fe" stroke="#3876fe" stroke-width="0.5"/>
<path d="M162.6 749.5L164.2 746.5L163.0 746.3L161.4 749.3Z" fill="#2e85f8" stroke="#2e85f8" stroke-width="0.5"/>
<path d="M165.5 746.5L167.0 743.4L165.8 743.3L164.2 746.5Z" fill="#2a93ed" stroke="#2a93ed" stroke-width="0.5"/>
<path d="M168.3 743.3L169.9 739.9L168.6 740.0L167.0 743.4Z" fill="#21a2e4" stroke="#21a2e4" stroke-width="0.5"/>
<path d="M171.1 739.7L172.7 736.2L171.5 736.5L169.9 739.9Z" fill="#12b1d6" stroke="#12b1d6" stroke-width="0.5"/>
<path d="M174.0 735.8L175.6 732.2L174.3 732.6L172.7 736.2Z" fill="#09bcbe" stroke="#09bcbe" stroke-width="0.5"/>
<path d="M90.1 729.7L91.7 730.4L90.4 726.6L88.8 725.9Z" fill="#17bfb7" stroke="#17bfb7" stroke-width="0.5"/>
<path d="M92.9 734.1L94.5 734.6L93.2 731.0L91.7 730.4Z" fill="#08b4d1" stroke="#08b4d1" stroke-width="0.5"/>
<path d="M95.7 738.2L97.3 738.6L96.1 735.1L94.5 734.6Z" fill="#1fa6e2" stroke="#1fa6e2" stroke-width="0.5"/>
<path d="M98.6 742.0L100.2 742.2L98.9 738.9L97.3 738.6Z" fill="#2797eb" stroke="#2797eb" stroke-width="0.5"/>
<path d="M101.4 745.5L103.0 745.6L101.8 742.4L100.2 742.2Z" fill="#2d87f7" stroke="#2d87f7" stroke-width="0.5"/>
<path d="M104.2 748.7L105.8 748.7L104.6 745.6L103.0 745.6Z" fill="#3678fd" stroke="#3678fd" stroke-width="0.5"/>
<path d="M107.1 751.6L108.7 751.5L107.4 748.6L105.8 748.7Z" fill="#426afe" stroke="#426afe" stroke-width="0.5"/>
<path d="M109.9 754.3L111.5 754.0L110.3 751.2L108.7 751.5Z" fill="#465efb" stroke="#465efb" stroke-width="0.5"/>
<path d="M112.8 756.6L114.4 756.2L113.1 753.6L111.5 754.0Z" fill="#4854f5" stroke="#4854f5" stroke-width="0.5"/>
<path d="M115.6 758.7L117.2 758.1L116.0 755.6L114.4 756.2Z" fill="#484bef" stroke="#484bef" stroke-width="0.5"/>
<path d="M118.4 760.5L120.0 759.8L118.8 757.4L117.2 758.1Z" fill="#4744e8" stroke="#4744e8" stroke-width="0.5"/>
<path d="M121.3 762.0L122.9 761.1L121.6 758.9L120.0 759.8Z" fill="#473fe2" stroke="#473fe2" stroke-width="0.5"/>
<path d="M124.1 763.2L125.7 762.2L124.5 760.1L122.9 761.1Z" fill="#463bdc" stroke="#463bdc" stroke-width="0.5"/>
<path d="M127.0 764.1L128.6 762.9L127.3 761.0L125.7 762.2Z" fill="#4538d8" stroke="#4538d8" stroke-width="0.5"/>
<path d="M129.8 764.7L131.4 763.4L130.1 761.6L128.6 762.9Z" fill="#4537d5" stroke="#4537d5" stroke-width="0.5"/>
<path d="M132.6 765.0L134.2 763.6L133.0 761.9L131.4 763.4Z" fill="#4536d4" stroke="#4536d4" stroke-width="0.5"/>
<path d="M135.5 765.1L137.1 763.5L135.8 762.0L134.2 763.6Z" fill="#4537d5" stroke="#4537d5" stroke-width="0.5"/>
<path d="M138.3 764.8L139.9 763.1L138.7 761.7L137.1 763.5Z" fill="#4538d8" stroke="#4538d8" stroke-width="0.5"/>
<path d="M141.2 764.3L142.7 762.4L141.5 761.2L139.9 763.1Z" fill="#463bdc" stroke="#463bdc" stroke-width="0.5"/>
<path d="M144.0 763.5L145.6 761.4L144.3 760.4L142.7 762.4Z" fill="#473fe2" stroke="#473fe2" stroke-width="0.5"/>
<path d="M146.8 762.3L148.4 760.2L147.2 759.3L145.6 761.4Z" fill="#4744e8" stroke="#4744e8" stroke-width="0.5"/>
<path d="M149.7 760.9L151.3 758.6L150.0 757.9L148.4 760.2Z" fill="#484bef" stroke="#484bef" stroke-width="0.5"/>
<path d="M152.5 759.2L154.1 756.8L152.9 756.2L151.3 758.6Z" fill="#4854f5" stroke="#4854f5" stroke-width="0.5"/>
<path d="M155.3 757.3L156.9 754.7L155.7 754.2L154.1 756.8Z" fill="#465efb" stroke="#465efb" stroke-width="0.5"/>
<path d="M158.2 755.0L159.8 752.2L158.5 751.9L156.9 754.7Z" fill="#426afe" stroke="#426afe" stroke-width="0.5"/>
<path d="M161.0 752.4L162.6 749.5L161.4 749.3L159.8 752.2Z" fill="#3678fd" stroke="#3678fd" stroke-width="0.5"/>
<path d="M163.9 749.6L165.5 746.5L164.2 746.5L162.6 749.5Z" fill="#2d87f7" stroke="#2d87f7" stroke-width="0.5"/>
<path d="M166.7 746.4L168.3 743.3L167.0 743.4L165.5 746.5Z" fill="#2797eb" stroke="#2797eb" stroke-width="0.5"/>
<path d="M169.5 743.0L171.1 739.7L169.9 739.9L168.3 743.3Z" fill="#1fa6e2" stroke="#1fa6e2" stroke-width="0.5"/>
<path d="M172.4 739.3L174.0 735.8L172.7 736.2L171.1 739.7Z" fill="#08b4d1" stroke="#08b4d1" stroke-width="0.5"/>
<path d="M175.2 735.3L176.8 731.7L175.6 732.2L174.0 735.8Z" fill="#17bfb7" stroke="#17bfb7" stroke-width="0.5"/>
<path d="M88.5 728.8L90.1 729.7L88.8 725.9L87.2 725.0Z" fill="#25c2ae" stroke="#25c2ae" stroke-width="0.5"/>
<path d="M91.3 733.3L92.9 734.1L91.7 730.4L90.1 729.7Z" fill="#01b8ca" stroke="#01b8ca" stroke-width="0.5"/>
<path d="M94.1 737.6L95.7 738.2L94.5 734.6L92.9 734.1Z" fill="#1baade" stroke="#1baade" stroke-width="0.5"/>
<path d="M97.0 741.5L98.6 742.0L97.3 738.6L95.7 738.2Z" fill="#269ae8" stroke="#269ae8" stroke-width="0.5"/>
<path d="M99.8 745.2L101.4 745.5L100.2 742.2L98.6 742.0Z" fill="#2d8bf4" stroke="#2d8bf4" stroke-width="0.5"/>
<path d="M102.7 748.5L104.2 748.7L103.0 745.6L101.4 745.5Z" fill="#327bfc" stroke="#327bfc" stroke-width="0.5"/>
<path d="M105.5 751.6L107.1 751.6L105.8 748.7L104.2 748.7Z" fill="#406cfe" stroke="#406cfe" stroke-width="0.5"/>
<path d="M108.3 754.4L109.9 754.3L108.7 751.5L107.1 751.6Z" fill="#465ffb" stroke="#465ffb" stroke-width="0.5"/>
<path d="M111.2 756.9L112.8 756.6L111.5 754.0L109.9 754.3Z" fill="#4855f6" stroke="#4855f6" stroke-width="0.5"/>
<path d="M114.0 759.1L115.6 758.7L114.4 756.2L112.8 756.6Z" fill="#484bef" stroke="#484bef" stroke-width="0.5"/>
<path d="M116.8 761.1L118.4 760.5L117.2 758.1L115.6 758.7Z" fill="#4744e8" stroke="#4744e8" stroke-width="0.5"/>
<path d="M119.7 762.7L121.3 762.0L120.0 759.8L118.4 760.5Z" fill="#463ee0" stroke="#463ee0" stroke-width="0.5"/>
<path d="M122.5 764.0L124.1 763.2L122.9 761.1L121.3 762.0Z" fill="#4639d9" stroke="#4639d9" stroke-width="0.5"/>
<path d="M125.4 765.1L127.0 764.1L125.7 762.2L124.1 763.2Z" fill="#4536d4" stroke="#4536d4" stroke-width="0.5"/>
<path d="M128.2 765.8L129.8 764.7L128.6 762.9L127.0 764.1Z" fill="#4434cf" stroke="#4434cf" stroke-width="0.5"/>
<path d="M131.0 766.3L132.6 765.0L131.4 763.4L129.8 764.7Z" fill="#4433cd" stroke="#4433cd" stroke-width="0.5"/>
<path d="M133.9 766.5L135.5 765.1L134.2 763.6L132.6 765.0Z" fill="#4433cd" stroke="#4433cd" stroke-width="0.5"/>
<path d="M136.7 766.4L138.3 764.8L137.1 763.5L135.5 765.1Z" fill="#4434cf" stroke="#4434cf" stroke-width="0.5"/>
<path d="M139.6 766.0L141.2 764.3L139.9 763.1L138.3 764.8Z" fill="#4536d4" stroke="#4536d4" stroke-width="0.5"/>
<path d="M142.4 765.3L144.0 763.5L142.7 762.4L141.2 764.3Z" fill="#4639d9" stroke="#4639d9" stroke-width="0.5"/>
<path d="M145.2 764.4L146.8 762.3L145.6 761.4L144.0 763.5Z" fill="#463ee0" stroke="#463ee0" stroke-width="0.5"/>
<path d="M148.1 763.1L149.7 760.9L148.4 760.2L146.8 762.3Z" fill="#4744e8" stroke="#4744e8" stroke-width="0.5"/>
<path d="M150.9 761.6L152.5 759.2L151.3 758.6L149.7 760.9Z" fill="#484bef" stroke="#484bef" stroke-width="0.5"/>
<path d="M153.8 759.7L155.3 757.3L154.1 756.8L152.5 759.2Z" fill="#4855f6" stroke="#4855f6" stroke-width="0.5"/>
<path d="M156.6 757.6L158.2 755.0L156.9 754.7L155.3 757.3Z" fill="#465ffb" stroke="#465ffb" stroke-width="0.5"/>
<path d="M159.4 755.2L161.0 752.4L159.8 752.2L158.2 755.0Z" fill="#406cfe" stroke="#406cfe" stroke-width="0.5"/>
<path d="M162.3 752.5L163.9 749.6L162.6 749.5L161.0 752.4Z" fill="#327bfc" stroke="#327bfc" stroke-width="0.5"/>
<path d="M165.1 749.5L166.7 746.4L165.5 746.5L163.9 749.6Z" fill="#2d8bf4" stroke="#2d8bf4" stroke-width="0.5"/>
<path d="M167.9 746.2L169.5 743.0L168.3 743.3L166.7 746.4Z" fill="#269ae8" stroke="#269ae8" stroke-width="0.5"/>
<path d="M170.8 742.6L172.4 739.3L171.1 739.7L169.5 743.0Z" fill="#1baade" stroke="#1baade" stroke-width="0.5"/>
<path d="M173.6 738.7L175.2 735.3L174.0 735.8L172.4 739.3Z" fill="#01b8ca" stroke="#01b8ca" stroke-width="0.5"/>
<path d="M176.5 734.6L178.1 731.0L176.8 731.7L175.2 735.3Z" fill="#25c2ae" stroke="#25c2ae" stroke-width="0.5"/>
<path d="M86.9 727.8L88.5 728.8L87.2 725.0L85.6 724.0Z" fill="#2ec5a3" stroke="#2ec5a3" stroke-width="0.5"/>
<path d="M89.7 732.5L91.3 733.3L90.1 729.7L88.5 728.8Z" fill="#04bbc2" stroke="#04bbc2" stroke-width="0.5"/>
<path d="M92.5 736.9L94.1 737.6L92.9 734.1L91.3 733.3Z" fill="#16afda" stroke="#16afda" stroke-width="0.5"/>
<path d="M95.4 740.9L97.0 741.5L95.7 738.2L94.1 737.6Z" fill="#249fe6" stroke="#249fe6" stroke-width="0.5"/>
<path d="M98.2 744.7L99.8 745.2L98.6 742.0L97.0 741.5Z" fill="#2c8ff1" stroke="#2c8ff1" stroke-width="0.5"/>
<path d="M101.1 748.3L102.7 748.5L101.4 745.5L99.8 745.2Z" fill="#307ffb" stroke="#307ffb" stroke-width="0.5"/>
<path d="M103.9 751.5L105.5 751.6L104.2 748.7L102.7 748.5Z" fill="#3e6fff" stroke="#3e6fff" stroke-width="0.5"/>
<path d="M106.7 754.4L108.3 754.4L107.1 751.6L105.5 751.6Z" fill="#4561fc" stroke="#4561fc" stroke-width="0.5"/>
<path d="M109.6 757.1L111.2 756.9L109.9 754.3L108.3 754.4Z" fill="#4756f6" stroke="#4756f6" stroke-width="0.5"/>
<path d="M112.4 759.4L114.0 759.1L112.8 756.6L111.2 756.9Z" fill="#484cf0" stroke="#484cf0" stroke-width="0.5"/>
<path d="M115.3 761.5L116.8 761.1L115.6 758.7L114.0 759.1Z" fill="#4744e8" stroke="#4744e8" stroke-width="0.5"/>
<path d="M118.1 763.3L119.7 762.7L118.4 760.5L116.8 761.1Z" fill="#463de0" stroke="#463de0" stroke-width="0.5"/>
<path d="M120.9 764.7L122.5 764.0L121.3 762.0L119.7 762.7Z" fill="#4538d8" stroke="#4538d8" stroke-width="0.5"/>
<path d="M123.8 765.9L125.4 765.1L124.1 763.2L122.5 764.0Z" fill="#4435d0" stroke="#4435d0" stroke-width="0.5"/>
<path d="M126.6 766.9L128.2 765.8L127.0 764.1L125.4 765.1Z" fill="#4433cb" stroke="#4433cb" stroke-width="0.5"/>
<path d="M129.4 767.5L131.0 766.3L129.8 764.7L128.2 765.8Z" fill="#4331c8" stroke="#4331c8" stroke-width="0.5"/>
<path d="M132.3 767.8L133.9 766.5L132.6 765.0L131.0 766.3Z" fill="#4331c7" stroke="#4331c7" stroke-width="0.5"/>
<path d="M135.1 767.8L136.7 766.4L135.5 765.1L133.9 766.5Z" fill="#4331c8" stroke="#4331c8" stroke-width="0.5"/>
<path d="M138.0 767.6L139.6 766.0L138.3 764.8L136.7 766.4Z" fill="#4433cb" stroke="#4433cb" stroke-width="0.5"/>
<path d="M140.8 767.1L142.4 765.3L141.2 764.3L139.6 766.0Z" fill="#4435d0" stroke="#4435d0" stroke-width="0.5"/>
<path d="M143.6 766.2L145.2 764.4L144.0 763.5L142.4 765.3Z" fill="#4538d8" stroke="#4538d8" stroke-width="0.5"/>
<path d="M146.5 765.1L148.1 763.1L146.8 762.3L145.2 764.4Z" fill="#463de0" stroke="#463de0" stroke-width="0.5"/>
<path d="M149.3 763.7L150.9 761.6L149.7 760.9L148.1 763.1Z" fill="#4744e8" stroke="#4744e8" stroke-width="0.5"/>
<path d="M152.2 762.0L153.8 759.7L152.5 759.2L150.9 761.6Z" fill="#484cf0" stroke="#484cf0" stroke-width="0.5"/>
<path d="M155.0 760.0L156.6 757.6L155.3 757.3L153.8 759.7Z" fill="#4756f6" stroke="#4756f6" stroke-width="0.5"/>
<path d="M157.8 757.8L159.4 755.2L158.2 755.0L156.6 757.6Z" fill="#4561fc" stroke="#4561fc" stroke-width="0.5"/>
<path d="M160.7 755.2L162.3 752.5L161.0 752.4L159.4 755.2Z" fill="#3e6fff" stroke="#3e6fff" stroke-width="0.5"/>
<path d="M163.5 752.4L165.1 749.5L163.9 749.6L162.3 752.5Z" fill="#307ffb" stroke="#307ffb" stroke-width="0.5"/>
<path d="M166.4 749.2L167.9 746.2L166.7 746.4L165.1 749.5Z" fill="#2c8ff1" stroke="#2c8ff1" stroke-width="0.5"/>
<path d="M169.2 745.8L170.8 742.6L169.5 743.0L167.9 746.2Z" fill="#249fe6" stroke="#249fe6" stroke-width="0.5"/>
<path d="M172.0 742.1L173.6 738.7L172.4 739.3L170.8 742.6Z" fill="#16afda" stroke="#16afda" stroke-width="0.5"/>
<path d="M174.9 738.1L176.5 734.6L175.2 735.3L173.6 738.7Z" fill="#04bbc2" stroke="#04bbc2" stroke-width="0.5"/>
<path d="M177.7 733.8L179.3 730.1L178.1 731.0L176.5 734.6Z" fill="#2ec5a3" stroke="#2ec5a3" stroke-width="0.5"/>
<path d="M85.3 726.6L86.9 727.8L85.6 724.0L84.0 722.8Z" fill="#37c897" stroke="#37c897" stroke-width="0.5"/>
<path d="M88.1 731.5L89.7 732.5L88.5 728.8L86.9 727.8Z" fill="#13beb8" stroke="#13beb8" stroke-width="0.5"/>
<path d="M91.0 736.0L92.5 736.9L91.3 733.3L89.7 732.5Z" fill="#0cb3d3" stroke="#0cb3d3" stroke-width="0.5"/>
<path d="M93.8 740.2L95.4 740.9L94.1 737.6L92.5 736.9Z" fill="#21a4e3" stroke="#21a4e3" stroke-width="0.5"/>
<path d="M96.6 744.2L98.2 744.7L97.0 741.5L95.4 740.9Z" fill="#2a93ed" stroke="#2a93ed" stroke-width="0.5"/>
<path d="M99.5 747.8L101.1 748.3L99.8 745.2L98.2 744.7Z" fill="#2e83f9" stroke="#2e83f9" stroke-width="0.5"/>
<path d="M102.3 751.2L103.9 751.5L102.7 748.5L101.1 748.3Z" fill="#3b73fe" stroke="#3b73fe" stroke-width="0.5"/>
<path d="M105.1 754.3L106.7 754.4L105.5 751.6L103.9 751.5Z" fill="#4564fd" stroke="#4564fd" stroke-width="0.5"/>
<path d="M108.0 757.1L109.6 757.1L108.3 754.4L106.7 754.4Z" fill="#4758f8" stroke="#4758f8" stroke-width="0.5"/>
<path d="M110.8 759.6L112.4 759.4L111.2 756.9L109.6 757.1Z" fill="#484df1" stroke="#484df1" stroke-width="0.5"/>
<path d="M113.7 761.8L115.3 761.5L114.0 759.1L112.4 759.4Z" fill="#4744e8" stroke="#4744e8" stroke-width="0.5"/>
<path d="M116.5 763.7L118.1 763.3L116.8 761.1L115.3 761.5Z" fill="#463de0" stroke="#463de0" stroke-width="0.5"/>
<path d="M119.3 765.3L120.9 764.7L119.7 762.7L118.1 763.3Z" fill="#4538d7" stroke="#4538d7" stroke-width="0.5"/>
<path d="M122.2 766.7L123.8 765.9L122.5 764.0L120.9 764.7Z" fill="#4434ce" stroke="#4434ce" stroke-width="0.5"/>
<path d="M125.0 767.7L126.6 766.9L125.4 765.1L123.8 765.9Z" fill="#4331c8" stroke="#4331c8" stroke-width="0.5"/>
<path d="M127.9 768.5L129.4 767.5L128.2 765.8L126.6 766.9Z" fill="#4230c3" stroke="#4230c3" stroke-width="0.5"/>
<path d="M130.7 769.0L132.3 767.8L131.0 766.3L129.4 767.5Z" fill="#422fc1" stroke="#422fc1" stroke-width="0.5"/>
<path d="M133.5 769.1L135.1 767.8L133.9 766.5L132.3 767.8Z" fill="#422fc1" stroke="#422fc1" stroke-width="0.5"/>
<path d="M136.4 769.0L138.0 767.6L136.7 766.4L135.1 767.8Z" fill="#4230c3" stroke="#4230c3" stroke-width="0.5"/>
<path d="M139.2 768.7L140.8 767.1L139.6 766.0L138.0 767.6Z" fill="#4331c8" stroke="#4331c8" stroke-width="0.5"/>
<path d="M142.0 768.0L143.6 766.2L142.4 765.3L140.8 767.1Z" fill="#4434ce" stroke="#4434ce" stroke-width="0.5"/>
<path d="M144.9 767.0L146.5 765.1L145.2 764.4L143.6 766.2Z" fill="#4538d7" stroke="#4538d7" stroke-width="0.5"/>
<path d="M147.7 765.7L149.3 763.7L148.1 763.1L146.5 765.1Z" fill="#463de0" stroke="#463de0" stroke-width="0.5"/>
<path d="M150.6 764.2L152.2 762.0L150.9 761.6L149.3 763.7Z" fill="#4744e8" stroke="#4744e8" stroke-width="0.5"/>
<path d="M153.4 762.4L155.0 760.0L153.8 759.7L152.2 762.0Z" fill="#484df1" stroke="#484df1" stroke-width="0.5"/>
<path d="M156.2 760.2L157.8 757.8L156.6 757.6L155.0 760.0Z" fill="#4758f8" stroke="#4758f8" stroke-width="0.5"/>
<path d="M159.1 757.8L160.7 755.2L159.4 755.2L157.8 757.8Z" fill="#4564fd" stroke="#4564fd" stroke-width="0.5"/>
<path d="M161.9 755.1L163.5 752.4L162.3 752.5L160.7 755.2Z" fill="#3b73fe" stroke="#3b73fe" stroke-width="0.5"/>
<path d="M164.8 752.1L166.4 749.2L165.1 749.5L163.5 752.4Z" fill="#2e83f9" stroke="#2e83f9" stroke-width="0.5"/>
<path d="M167.6 748.8L169.2 745.8L167.9 746.2L166.4 749.2Z" fill="#2a93ed" stroke="#2a93ed" stroke-width="0.5"/>
<path d="M170.4 745.2L172.0 742.1L170.8 742.6L169.2 745.8Z" fill="#21a4e3" stroke="#21a4e3" stroke-width="0.5"/>
<path d="M173.3 741.4L174.9 738.1L173.6 738.7L172.0 742.1Z" fill="#0cb3d3" stroke="#0cb3d3" stroke-width="0.5"/>
<path d="M176.1 737.2L177.7 733.8L176.5 734.6L174.9 738.1Z" fill="#13beb8" stroke="#13beb8" stroke-width="0.5"/>
<path d="M179.0 732.8L180.5 729.2L179.3 730.1L177.7 733.8Z" fill="#37c897" stroke="#37c897" stroke-width="0.5"/>
<path d="M83.7 725.3L85.3 726.6L84.0 722.8L82.4 721.5Z" fill="#46cb87" stroke="#46cb87" stroke-width="0.5"/>
<path d="M86.5 730.3L88.1 731.5L86.9 727.8L85.3 726.6Z" fill="#25c2ae" stroke="#25c2ae" stroke-width="0.5"/>
<path d="M89.4 735.0L91.0 736.0L89.7 732.5L88.1 731.5Z" fill="#02b7cb" stroke="#02b7cb" stroke-width="0.5"/>
<path d="M92.2 739.3L93.8 740.2L92.5 736.9L91.0 736.0Z" fill="#1ca9e0" stroke="#1ca9e0" stroke-width="0.5"/>
<path d="M95.0 743.4L96.6 744.2L95.4 740.9L93.8 740.2Z" fill="#2699ea" stroke="#2699ea" stroke-width="0.5"/>
<path d="M97.9 747.2L99.5 747.8L98.2 744.7L96.6 744.2Z" fill="#2d88f6" stroke="#2d88f6" stroke-width="0.5"/>
<path d="M100.7 750.8L102.3 751.2L101.1 748.3L99.5 747.8Z" fill="#3677fe" stroke="#3677fe" stroke-width="0.5"/>
<path d="M103.6 754.0L105.1 754.3L103.9 751.5L102.3 751.2Z" fill="#4368fd" stroke="#4368fd" stroke-width="0.5"/>
<path d="M106.4 756.9L108.0 757.1L106.7 754.4L105.1 754.3Z" fill="#475af9" stroke="#475af9" stroke-width="0.5"/>
<path d="M109.2 759.6L110.8 759.6L109.6 757.1L108.0 757.1Z" fill="#484ff2" stroke="#484ff2" stroke-width="0.5"/>
<path d="M112.1 761.9L113.7 761.8L112.4 759.4L110.8 759.6Z" fill="#4746ea" stroke="#4746ea" stroke-width="0.5"/>
<path d="M114.9 764.0L116.5 763.7L115.3 761.5L113.7 761.8Z" fill="#463ee0" stroke="#463ee0" stroke-width="0.5"/>
<path d="M117.7 765.8L119.3 765.3L118.1 763.3L116.5 763.7Z" fill="#4538d7" stroke="#4538d7" stroke-width="0.5"/>
<path d="M120.6 767.2L122.2 766.7L120.9 764.7L119.3 765.3Z" fill="#4433cd" stroke="#4433cd" stroke-width="0.5"/>
<path d="M123.4 768.4L125.0 767.7L123.8 765.9L122.2 766.7Z" fill="#4330c5" stroke="#4330c5" stroke-width="0.5"/>
<path d="M126.3 769.4L127.9 768.5L126.6 766.9L125.0 767.7Z" fill="#422fc0" stroke="#422fc0" stroke-width="0.5"/>
<path d="M129.1 770.0L130.7 769.0L129.4 767.5L127.9 768.5Z" fill="#412dbd" stroke="#412dbd" stroke-width="0.5"/>
<path d="M131.9 770.3L133.5 769.1L132.3 767.8L130.7 769.0Z" fill="#412dbc" stroke="#412dbc" stroke-width="0.5"/>
<path d="M134.8 770.3L136.4 769.0L135.1 767.8L133.5 769.1Z" fill="#412dbd" stroke="#412dbd" stroke-width="0.5"/>
<path d="M137.6 770.1L139.2 768.7L138.0 767.6L136.4 769.0Z" fill="#422fc0" stroke="#422fc0" stroke-width="0.5"/>
<path d="M140.5 769.6L142.0 768.0L140.8 767.1L139.2 768.7Z" fill="#4330c5" stroke="#4330c5" stroke-width="0.5"/>
<path d="M143.3 768.7L144.9 767.0L143.6 766.2L142.0 768.0Z" fill="#4433cd" stroke="#4433cd" stroke-width="0.5"/>
<path d="M146.1 767.6L147.7 765.7L146.5 765.1L144.9 767.0Z" fill="#4538d7" stroke="#4538d7" stroke-width="0.5"/>
<path d="M149.0 766.2L150.6 764.2L149.3 763.7L147.7 765.7Z" fill="#463ee0" stroke="#463ee0" stroke-width="0.5"/>
<path d="M151.8 764.5L153.4 762.4L152.2 762.0L150.6 764.2Z" fill="#4746ea" stroke="#4746ea" stroke-width="0.5"/>
<path d="M154.6 762.5L156.2 760.2L155.0 760.0L153.4 762.4Z" fill="#484ff2" stroke="#484ff2" stroke-width="0.5"/>
<path d="M157.5 760.3L159.1 757.8L157.8 757.8L156.2 760.2Z" fill="#475af9" stroke="#475af9" stroke-width="0.5"/>
<path d="M160.3 757.7L161.9 755.1L160.7 755.2L159.1 757.8Z" fill="#4368fd" stroke="#4368fd" stroke-width="0.5"/>
<path d="M163.2 754.9L164.8 752.1L163.5 752.4L161.9 755.1Z" fill="#3677fe" stroke="#3677fe" stroke-width="0.5"/>
<path d="M166.0 751.7L167.6 748.8L166.4 749.2L164.8 752.1Z" fill="#2d88f6" stroke="#2d88f6" stroke-width="0.5"/>
<path d="M168.8 748.3L170.4 745.2L169.2 745.8L167.6 748.8Z" fill="#2699ea" stroke="#2699ea" stroke-width="0.5"/>
<path d="M171.7 744.6L173.3 741.4L172.0 742.1L170.4 745.2Z" fill="#1ca9e0" stroke="#1ca9e0" stroke-width="0.5"/>
<path d="M174.5 740.6L176.1 737.2L174.9 738.1L173.3 741.4Z" fill="#02b7cb" stroke="#02b7cb" stroke-width="0.5"/>
<path d="M177.4 736.3L179.0 732.8L177.7 733.8L176.1 737.2Z" fill="#25c2ae" stroke="#25c2ae" stroke-width="0.5"/>
<path d="M180.2 731.7L181.8 728.1L180.5 729.2L179.0 732.8Z" fill="#46cb87" stroke="#46cb87" stroke-width="0.5"/>
<path d="M82.1 723.9L83.7 725.3L82.4 721.5L80.8 720.1Z" fill="#5dcc75" stroke="#5dcc75" stroke-width="0.5"/>
<path d="M84.9 729.0L86.5 730.3L85.3 726.6L83.7 725.3Z" fill="#30c5a1" stroke="#30c5a1" stroke-width="0.5"/>
<path d="M87.8 733.8L89.4 735.0L88.1 731.5L86.5 730.3Z" fill="#05bbc1" stroke="#05bbc1" stroke-width="0.5"/>
<path d="M90.6 738.3L92.2 739.3L91.0 736.0L89.4 735.0Z" fill="#16afda" stroke="#16afda" stroke-width="0.5"/>
<path d="M93.4 742.6L95.0 743.4L93.8 740.2L92.2 739.3Z" fill="#249ee6" stroke="#249ee6" stroke-width="0.5"/>
<path d="M96.3 746.5L97.9 747.2L96.6 744.2L95.0 743.4Z" fill="#2d8df2" stroke="#2d8df2" stroke-width="0.5"/>
<path d="M99.1 750.2L100.7 750.8L99.5 747.8L97.9 747.2Z" fill="#317dfc" stroke="#317dfc" stroke-width="0.5"/>
<path d="M102.0 753.5L103.6 754.0L102.3 751.2L100.7 750.8Z" fill="#406cfe" stroke="#406cfe" stroke-width="0.5"/>
<path d="M104.8 756.6L106.4 756.9L105.1 754.3L103.6 754.0Z" fill="#465efb" stroke="#465efb" stroke-width="0.5"/>
<path d="M107.6 759.4L109.2 759.6L108.0 757.1L106.4 756.9Z" fill="#4852f4" stroke="#4852f4" stroke-width="0.5"/>
<path d="M110.5 761.9L112.1 761.9L110.8 759.6L109.2 759.6Z" fill="#4847ec" stroke="#4847ec" stroke-width="0.5"/>
<path d="M113.3 764.1L114.9 764.0L113.7 761.8L112.1 761.9Z" fill="#473fe2" stroke="#473fe2" stroke-width="0.5"/>
<path d="M116.2 766.0L117.7 765.8L116.5 763.7L114.9 764.0Z" fill="#4538d8" stroke="#4538d8" stroke-width="0.5"/>
<path d="M119.0 767.7L120.6 767.2L119.3 765.3L117.7 765.8Z" fill="#4433cd" stroke="#4433cd" stroke-width="0.5"/>
<path d="M121.8 769.0L123.4 768.4L122.2 766.7L120.6 767.2Z" fill="#4230c4" stroke="#4230c4" stroke-width="0.5"/>
<path d="M124.7 770.1L126.3 769.4L125.0 767.7L123.4 768.4Z" fill="#412ebe" stroke="#412ebe" stroke-width="0.5"/>
<path d="M127.5 770.8L129.1 770.0L127.9 768.5L126.3 769.4Z" fill="#412cba" stroke="#412cba" stroke-width="0.5"/>
<path d="M130.3 771.3L131.9 770.3L130.7 769.0L129.1 770.0Z" fill="#402bb8" stroke="#402bb8" stroke-width="0.5"/>
<path d="M133.2 771.5L134.8 770.3L133.5 769.1L131.9 770.3Z" fill="#402bb8" stroke="#402bb8" stroke-width="0.5"/>
<path d="M136.0 771.4L137.6 770.1L136.4 769.0L134.8 770.3Z" fill="#412cba" stroke="#412cba" stroke-width="0.5"/>
<path d="M138.9 771.0L140.5 769.6L139.2 768.7L137.6 770.1Z" fill="#412ebe" stroke="#412ebe" stroke-width="0.5"/>
<path d="M141.7 770.3L143.3 768.7L142.0 768.0L140.5 769.6Z" fill="#4230c4" stroke="#4230c4" stroke-width="0.5"/>
<path d="M144.5 769.4L146.1 767.6L144.9 767.0L143.3 768.7Z" fill="#4433cd" stroke="#4433cd" stroke-width="0.5"/>
<path d="M147.4 768.1L149.0 766.2L147.7 765.7L146.1 767.6Z" fill="#4538d8" stroke="#4538d8" stroke-width="0.5"/>
<path d="M150.2 766.5L151.8 764.5L150.6 764.2L149.0 766.2Z" fill="#473fe2" stroke="#473fe2" stroke-width="0.5"/>
<path d="M153.1 764.7L154.6 762.5L153.4 762.4L151.8 764.5Z" fill="#4847ec" stroke="#4847ec" stroke-width="0.5"/>
<path d="M155.9 762.6L157.5 760.3L156.2 760.2L154.6 762.5Z" fill="#4852f4" stroke="#4852f4" stroke-width="0.5"/>
<path d="M158.7 760.2L160.3 757.7L159.1 757.8L157.5 760.3Z" fill="#465efb" stroke="#465efb" stroke-width="0.5"/>
<path d="M161.6 757.5L163.2 754.9L161.9 755.1L160.3 757.7Z" fill="#406cfe" stroke="#406cfe" stroke-width="0.5"/>
<path d="M164.4 754.5L166.0 751.7L164.8 752.1L163.2 754.9Z" fill="#317dfc" stroke="#317dfc" stroke-width="0.5"/>
<path d="M167.2 751.2L168.8 748.3L167.6 748.8L166.0 751.7Z" fill="#2d8df2" stroke="#2d8df2" stroke-width="0.5"/>
<path d="M170.1 747.6L171.7 744.6L170.4 745.2L168.8 748.3Z" fill="#249ee6" stroke="#249ee6" stroke-width="0.5"/>
<path d="M172.9 743.7L174.5 740.6L173.3 741.4L171.7 744.6Z" fill="#16afda" stroke="#16afda" stroke-width="0.5"/>
<path d="M175.8 739.6L177.4 736.3L176.1 737.2L174.5 740.6Z" fill="#05bbc1" stroke="#05bbc1" stroke-width="0.5"/>
<path d="M178.6 735.1L180.2 731.7L179.0 732.8L177.4 736.3Z" fill="#30c5a1" stroke="#30c5a1" stroke-width="0.5"/>
<path d="M181.4 730.4L183.0 726.8L181.8 728.1L180.2 731.7Z" fill="#5dcc75" stroke="#5dcc75" stroke-width="0.5"/>
<path d="M80.5 722.3L82.1 723.9L80.8 720.1L79.3 718.5Z" fill="#79cc5e" stroke="#79cc5e" stroke-width="0.5"/>
<path d="M83.3 727.5L84.9 729.0L83.7 725.3L82.1 723.9Z" fill="#3bc992" stroke="#3bc992" stroke-width="0.5"/>
<path d="M86.2 732.5L87.8 733.8L86.5 730.3L84.9 729.0Z" fill="#18bfb6" stroke="#18bfb6" stroke-width="0.5"/>
<path d="M89.0 737.2L90.6 738.3L89.4 735.0L87.8 733.8Z" fill="#0ab4d1" stroke="#0ab4d1" stroke-width="0.5"/>
<path d="M91.9 741.6L93.4 742.6L92.2 739.3L90.6 738.3Z" fill="#20a4e3" stroke="#20a4e3" stroke-width="0.5"/>
<path d="M94.7 745.6L96.3 746.5L95.0 743.4L93.4 742.6Z" fill="#2a93ed" stroke="#2a93ed" stroke-width="0.5"/>
<path d="M97.5 749.5L99.1 750.2L97.9 747.2L96.3 746.5Z" fill="#2f82f9" stroke="#2f82f9" stroke-width="0.5"/>
<path d="M100.4 753.0L102.0 753.5L100.7 750.8L99.1 750.2Z" fill="#3c71ff" stroke="#3c71ff" stroke-width="0.5"/>
<path d="M103.2 756.2L104.8 756.6L103.6 754.0L102.0 753.5Z" fill="#4562fc" stroke="#4562fc" stroke-width="0.5"/>
<path d="M106.0 759.1L107.6 759.4L106.4 756.9L104.8 756.6Z" fill="#4755f6" stroke="#4755f6" stroke-width="0.5"/>
<path d="M108.9 761.8L110.5 761.9L109.2 759.6L107.6 759.4Z" fill="#484aee" stroke="#484aee" stroke-width="0.5"/>
<path d="M111.7 764.1L113.3 764.1L112.1 761.9L110.5 761.9Z" fill="#4741e4" stroke="#4741e4" stroke-width="0.5"/>
<path d="M114.6 766.2L116.2 766.0L114.9 764.0L113.3 764.1Z" fill="#4639d9" stroke="#4639d9" stroke-width="0.5"/>
<path d="M117.4 768.0L119.0 767.7L117.7 765.8L116.2 766.0Z" fill="#4434ce" stroke="#4434ce" stroke-width="0.5"/>
<path d="M120.2 769.5L121.8 769.0L120.6 767.2L119.0 767.7Z" fill="#4230c4" stroke="#4230c4" stroke-width="0.5"/>
<path d="M123.1 770.7L124.7 770.1L123.4 768.4L121.8 769.0Z" fill="#412dbd" stroke="#412dbd" stroke-width="0.5"/>
<path d="M125.9 771.6L127.5 770.8L126.3 769.4L124.7 770.1Z" fill="#402bb8" stroke="#402bb8" stroke-width="0.5"/>
<path d="M128.8 772.2L130.3 771.3L129.1 770.0L127.5 770.8Z" fill="#402ab5" stroke="#402ab5" stroke-width="0.5"/>
<path d="M131.6 772.5L133.2 771.5L131.9 770.3L130.3 771.3Z" fill="#402ab4" stroke="#402ab4" stroke-width="0.5"/>
<path d="M134.4 772.6L136.0 771.4L134.8 770.3L133.2 771.5Z" fill="#402ab5" stroke="#402ab5" stroke-width="0.5"/>
<path d="M137.3 772.3L138.9 771.0L137.6 770.1L136.0 771.4Z" fill="#402bb8" stroke="#402bb8" stroke-width="0.5"/>
<path d="M140.1 771.8L141.7 770.3L140.5 769.6L138.9 771.0Z" fill="#412dbd" stroke="#412dbd" stroke-width="0.5"/>
<path d="M142.9 770.9L144.5 769.4L143.3 768.7L141.7 770.3Z" fill="#4230c4" stroke="#4230c4" stroke-width="0.5"/>
<path d="M145.8 769.8L147.4 768.1L146.1 767.6L144.5 769.4Z" fill="#4434ce" stroke="#4434ce" stroke-width="0.5"/>
<path d="M148.6 768.4L150.2 766.5L149.0 766.2L147.4 768.1Z" fill="#4639d9" stroke="#4639d9" stroke-width="0.5"/>
<path d="M151.5 766.7L153.1 764.7L151.8 764.5L150.2 766.5Z" fill="#4741e4" stroke="#4741e4" stroke-width="0.5"/>
<path d="M154.3 764.7L155.9 762.6L154.6 762.5L153.1 764.7Z" fill="#484aee" stroke="#484aee" stroke-width="0.5"/>
<path d="M157.1 762.5L158.7 760.2L157.5 760.3L155.9 762.6Z" fill="#4755f6" stroke="#4755f6" stroke-width="0.5"/>
<path d="M160.0 759.9L161.6 757.5L160.3 757.7L158.7 760.2Z" fill="#4562fc" stroke="#4562fc" stroke-width="0.5"/>
<path d="M162.8 757.1L164.4 754.5L163.2 754.9L161.6 757.5Z" fill="#3c71ff" stroke="#3c71ff" stroke-width="0.5"/>
<path d="M165.7 753.9L167.2 751.2L166.0 751.7L164.4 754.5Z" fill="#2f82f9" stroke="#2f82f9" stroke-width="0.5"/>
<path d="M168.5 750.5L170.1 747.6L168.8 748.3L167.2 751.2Z" fill="#2a93ed" stroke="#2a93ed" stroke-width="0.5"/>
<path d="M171.3 746.8L172.9 743.7L171.7 744.6L170.1 747.6Z" fill="#20a4e3" stroke="#20a4e3" stroke-width="0.5"/>
<path d="M174.2 742.8L175.8 739.6L174.5 740.6L172.9 743.7Z" fill="#0ab4d1" stroke="#0ab4d1" stroke-width="0.5"/>
<path d="M177.0 738.5L178.6 735.1L177.4 736.3L175.8 739.6Z" fill="#18bfb6" stroke="#18bfb6" stroke-width="0.5"/>
<path d="M179.8 733.9L181.4 730.4L180.2 731.7L178.6 735.1Z" fill="#3bc992" stroke="#3bc992" stroke-width="0.5"/>
<path d="M182.7 729.0L184.3 725.4L183.0 726.8L181.4 730.4Z" fill="#79cc5e" stroke="#79cc5e" stroke-width="0.5"/>
<path d="M78.9 720.6L80.5 722.3L79.3 718.5L77.7 716.8Z" fill="#98c947" stroke="#98c947" stroke-width="0.5"/>
<path d="M81.7 726.0L83.3 727.5L82.1 723.9L80.5 722.3Z" fill="#51cc7f" stroke="#51cc7f" stroke-width="0.5"/>
<path d="M84.6 731.1L86.2 732.5L84.9 729.0L83.3 727.5Z" fill="#2ac3a9" stroke="#2ac3a9" stroke-width="0.5"/>
<path d="M87.4 735.9L89.0 737.2L87.8 733.8L86.2 732.5Z" fill="#01b9c7" stroke="#01b9c7" stroke-width="0.5"/>
<path d="M90.3 740.4L91.9 741.6L90.6 738.3L89.0 737.2Z" fill="#1babde" stroke="#1babde" stroke-width="0.5"/>
<path d="M93.1 744.6L94.7 745.6L93.4 742.6L91.9 741.6Z" fill="#269ae9" stroke="#269ae9" stroke-width="0.5"/>
<path d="M95.9 748.6L97.5 749.5L96.3 746.5L94.7 745.6Z" fill="#2d89f5" stroke="#2d89f5" stroke-width="0.5"/>
<path d="M98.8 752.2L100.4 753.0L99.1 750.2L97.5 749.5Z" fill="#3677fe" stroke="#3677fe" stroke-width="0.5"/>
<path d="M101.6 755.6L103.2 756.2L102.0 753.5L100.4 753.0Z" fill="#4367fd" stroke="#4367fd" stroke-width="0.5"/>
<path d="M104.5 758.7L106.0 759.1L104.8 756.6L103.2 756.2Z" fill="#4759f8" stroke="#4759f8" stroke-width="0.5"/>
<path d="M107.3 761.5L108.9 761.8L107.6 759.4L106.0 759.1Z" fill="#484df1" stroke="#484df1" stroke-width="0.5"/>
<path d="M110.1 764.0L111.7 764.1L110.5 761.9L108.9 761.8Z" fill="#4743e7" stroke="#4743e7" stroke-width="0.5"/>
<path d="M113.0 766.2L114.6 766.2L113.3 764.1L111.7 764.1Z" fill="#463bdc" stroke="#463bdc" stroke-width="0.5"/>
<path d="M115.8 768.1L117.4 768.0L116.2 766.0L114.6 766.2Z" fill="#4435d0" stroke="#4435d0" stroke-width="0.5"/>
<path d="M118.6 769.7L120.2 769.5L119.0 767.7L117.4 768.0Z" fill="#4330c5" stroke="#4330c5" stroke-width="0.5"/>
<path d="M121.5 771.1L123.1 770.7L121.8 769.0L120.2 769.5Z" fill="#412dbd" stroke="#412dbd" stroke-width="0.5"/>
<path d="M124.3 772.1L125.9 771.6L124.7 770.1L123.1 770.7Z" fill="#402bb7" stroke="#402bb7" stroke-width="0.5"/>
<path d="M127.2 772.9L128.8 772.2L127.5 770.8L125.9 771.6Z" fill="#402ab3" stroke="#402ab3" stroke-width="0.5"/>
<path d="M130.0 773.4L131.6 772.5L130.3 771.3L128.8 772.2Z" fill="#3f29b1" stroke="#3f29b1" stroke-width="0.5"/>
<path d="M132.8 773.6L134.4 772.6L133.2 771.5L131.6 772.5Z" fill="#3f29b1" stroke="#3f29b1" stroke-width="0.5"/>
<path d="M135.7 773.5L137.3 772.3L136.0 771.4L134.4 772.6Z" fill="#402ab3" stroke="#402ab3" stroke-width="0.5"/>
<path d="M138.5 773.1L140.1 771.8L138.9 771.0L137.3 772.3Z" fill="#402bb7" stroke="#402bb7" stroke-width="0.5"/>
<path d="M141.4 772.4L142.9 770.9L141.7 770.3L140.1 771.8Z" fill="#412dbd" stroke="#412dbd" stroke-width="0.5"/>
<path d="M144.2 771.4L145.8 769.8L144.5 769.4L142.9 770.9Z" fill="#4330c5" stroke="#4330c5" stroke-width="0.5"/>
<path d="M147.0 770.2L148.6 768.4L147.4 768.1L145.8 769.8Z" fill="#4435d0" stroke="#4435d0" stroke-width="0.5"/>
<path d="M149.9 768.6L151.5 766.7L150.2 766.5L148.6 768.4Z" fill="#463bdc" stroke="#463bdc" stroke-width="0.5"/>
<path d="M152.7 766.8L154.3 764.7L153.1 764.7L151.5 766.7Z" fill="#4743e7" stroke="#4743e7" stroke-width="0.5"/>
<path d="M155.5 764.6L157.1 762.5L155.9 762.6L154.3 764.7Z" fill="#484df1" stroke="#484df1" stroke-width="0.5"/>
<path d="M158.4 762.2L160.0 759.9L158.7 760.2L157.1 762.5Z" fill="#4759f8" stroke="#4759f8" stroke-width="0.5"/>
<path d="M161.2 759.5L162.8 757.1L161.6 757.5L160.0 759.9Z" fill="#4367fd" stroke="#4367fd" stroke-width="0.5"/>
<path d="M164.1 756.5L165.7 753.9L164.4 754.5L162.8 757.1Z" fill="#3677fe" stroke="#3677fe" stroke-width="0.5"/>
<path d="M166.9 753.2L168.5 750.5L167.2 751.2L165.7 753.9Z" fill="#2d89f5" stroke="#2d89f5" stroke-width="0.5"/>
<path d="M169.7 749.7L171.3 746.8L170.1 747.6L168.5 750.5Z" fill="#269ae9" stroke="#269ae9" stroke-width="0.5"/>
<path d="M172.6 745.8L174.2 742.8L172.9 743.7L171.3 746.8Z" fill="#1babde" stroke="#1babde" stroke-width="0.5"/>
<path d="M175.4 741.7L177.0 738.5L175.8 739.6L174.2 742.8Z" fill="#01b9c7" stroke="#01b9c7" stroke-width="0.5"/>
<path d="M178.3 737.2L179.8 733.9L178.6 735.1L177.0 738.5Z" fill="#2ac3a9" stroke="#2ac3a9" stroke-width="0.5"/>
<path d="M181.1 732.5L182.7 729.0L181.4 730.4L179.8 733.9Z" fill="#51cc7f" stroke="#51cc7f" stroke-width="0.5"/>
<path d="M183.9 727.5L185.5 723.8L184.3 725.4L182.7 729.0Z" fill="#98c947" stroke="#98c947" stroke-width="0.5"/>
<path d="M77.3 718.7L78.9 720.6L77.7 716.8L76.1 714.9Z" fill="#b7c532" stroke="#b7c532" stroke-width="0.5"/>
<path d="M80.2 724.2L81.7 726.0L80.5 722.3L78.9 720.6Z" fill="#6ccd68" stroke="#6ccd68" stroke-width="0.5"/>
<path d="M83.0 729.5L84.6 731.1L83.3 727.5L81.7 726.0Z" fill="#36c799" stroke="#36c799" stroke-width="0.5"/>
<path d="M85.8 734.4L87.4 735.9L86.2 732.5L84.6 731.1Z" fill="#0dbdbb" stroke="#0dbdbb" stroke-width="0.5"/>
<path d="M88.7 739.1L90.3 740.4L89.0 737.2L87.4 735.9Z" fill="#12b1d6" stroke="#12b1d6" stroke-width="0.5"/>
<path d="M91.5 743.5L93.1 744.6L91.9 741.6L90.3 740.4Z" fill="#23a1e5" stroke="#23a1e5" stroke-width="0.5"/>
<path d="M94.3 747.6L95.9 748.6L94.7 745.6L93.1 744.6Z" fill="#2c8ff0" stroke="#2c8ff0" stroke-width="0.5"/>
<path d="M97.2 751.4L98.8 752.2L97.5 749.5L95.9 748.6Z" fill="#317efb" stroke="#317efb" stroke-width="0.5"/>
<path d="M100.0 754.9L101.6 755.6L100.4 753.0L98.8 752.2Z" fill="#406dfe" stroke="#406dfe" stroke-width="0.5"/>
<path d="M102.9 758.1L104.5 758.7L103.2 756.2L101.6 755.6Z" fill="#465efb" stroke="#465efb" stroke-width="0.5"/>
<path d="M105.7 761.0L107.3 761.5L106.0 759.1L104.5 758.7Z" fill="#4851f3" stroke="#4851f3" stroke-width="0.5"/>
<path d="M108.5 763.7L110.1 764.0L108.9 761.8L107.3 761.5Z" fill="#4746ea" stroke="#4746ea" stroke-width="0.5"/>
<path d="M111.4 766.0L113.0 766.2L111.7 764.1L110.1 764.0Z" fill="#463de0" stroke="#463de0" stroke-width="0.5"/>
<path d="M114.2 768.1L115.8 768.1L114.6 766.2L113.0 766.2Z" fill="#4536d4" stroke="#4536d4" stroke-width="0.5"/>
<path d="M117.1 769.9L118.6 769.7L117.4 768.0L115.8 768.1Z" fill="#4331c8" stroke="#4331c8" stroke-width="0.5"/>
<path d="M119.9 771.4L121.5 771.1L120.2 769.5L118.6 769.7Z" fill="#412ebe" stroke="#412ebe" stroke-width="0.5"/>
<path d="M122.7 772.6L124.3 772.1L123.1 770.7L121.5 771.1Z" fill="#402bb7" stroke="#402bb7" stroke-width="0.5"/>
<path d="M125.6 773.5L127.2 772.9L125.9 771.6L124.3 772.1Z" fill="#3f29b2" stroke="#3f29b2" stroke-width="0.5"/>
<path d="M128.4 774.1L130.0 773.4L128.8 772.2L127.2 772.9Z" fill="#3f28af" stroke="#3f28af" stroke-width="0.5"/>
<path d="M131.2 774.4L132.8 773.6L131.6 772.5L130.0 773.4Z" fill="#3f28ae" stroke="#3f28ae" stroke-width="0.5"/>
<path d="M134.1 774.5L135.7 773.5L134.4 772.6L132.8 773.6Z" fill="#3f28af" stroke="#3f28af" stroke-width="0.5"/>
<path d="M136.9 774.2L138.5 773.1L137.3 772.3L135.7 773.5Z" fill="#3f29b2" stroke="#3f29b2" stroke-width="0.5"/>
<path d="M139.8 773.7L141.4 772.4L140.1 771.8L138.5 773.1Z" fill="#402bb7" stroke="#402bb7" stroke-width="0.5"/>
<path d="M142.6 772.9L144.2 771.4L142.9 770.9L141.4 772.4Z" fill="#412ebe" stroke="#412ebe" stroke-width="0.5"/>
<path d="M145.4 771.7L147.0 770.2L145.8 769.8L144.2 771.4Z" fill="#4331c8" stroke="#4331c8" stroke-width="0.5"/>
<path d="M148.3 770.3L149.9 768.6L148.6 768.4L147.0 770.2Z" fill="#4536d4" stroke="#4536d4" stroke-width="0.5"/>
<path d="M151.1 768.7L152.7 766.8L151.5 766.7L149.9 768.6Z" fill="#463de0" stroke="#463de0" stroke-width="0.5"/>
<path d="M154.0 766.7L155.5 764.6L154.3 764.7L152.7 766.8Z" fill="#4746ea" stroke="#4746ea" stroke-width="0.5"/>
<path d="M156.8 764.4L158.4 762.2L157.1 762.5L155.5 764.6Z" fill="#4851f3" stroke="#4851f3" stroke-width="0.5"/>
<path d="M159.6 761.8L161.2 759.5L160.0 759.9L158.4 762.2Z" fill="#465efb" stroke="#465efb" stroke-width="0.5"/>
<path d="M162.5 759.0L164.1 756.5L162.8 757.1L161.2 759.5Z" fill="#406dfe" stroke="#406dfe" stroke-width="0.5"/>
<path d="M165.3 755.8L166.9 753.2L165.7 753.9L164.1 756.5Z" fill="#317efb" stroke="#317efb" stroke-width="0.5"/>
<path d="M168.1 752.4L169.7 749.7L168.5 750.5L166.9 753.2Z" fill="#2c8ff0" stroke="#2c8ff0" stroke-width="0.5"/>
<path d="M171.0 748.7L172.6 745.8L171.3 746.8L169.7 749.7Z" fill="#23a1e5" stroke="#23a1e5" stroke-width="0.5"/>
<path d="M173.8 744.7L175.4 741.7L174.2 742.8L172.6 745.8Z" fill="#12b1d6" stroke="#12b1d6" stroke-width="0.5"/>
<path d="M176.7 740.4L178.3 737.2L177.0 738.5L175.4 741.7Z" fill="#0dbdbb" stroke="#0dbdbb" stroke-width="0.5"/>
<path d="M179.5 735.8L181.1 732.5L179.8 733.9L178.3 737.2Z" fill="#36c799" stroke="#36c799" stroke-width="0.5"/>
<path d="M182.3 730.9L183.9 727.5L182.7 729.0L181.1 732.5Z" fill="#6ccd68" stroke="#6ccd68" stroke-width="0.5"/>
<path d="M185.2 725.8L186.8 722.1L185.5 723.8L183.9 727.5Z" fill="#b7c532" stroke="#b7c532" stroke-width="0.5"/>
<path d="M75.7 716.7L77.3 718.7L76.1 714.9L74.5 712.9Z" fill="#d5be28" stroke="#d5be28" stroke-width="0.5"/>
<path d="M78.6 722.3L80.2 724.2L78.9 720.6L77.3 718.7Z" fill="#8ecb4f" stroke="#8ecb4f" stroke-width="0.5"/>
<path d="M81.4 727.7L83.0 729.5L81.7 726.0L80.2 724.2Z" fill="#48cb86" stroke="#48cb86" stroke-width="0.5"/>
<path d="M84.2 732.8L85.8 734.4L84.6 731.1L83.0 729.5Z" fill="#25c2ae" stroke="#25c2ae" stroke-width="0.5"/>
<path d="M87.1 737.6L88.7 739.1L87.4 735.9L85.8 734.4Z" fill="#03b7cc" stroke="#03b7cc" stroke-width="0.5"/>
<path d="M89.9 742.2L91.5 743.5L90.3 740.4L88.7 739.1Z" fill="#1da8e0" stroke="#1da8e0" stroke-width="0.5"/>
<path d="M92.8 746.4L94.3 747.6L93.1 744.6L91.5 743.5Z" fill="#2797eb" stroke="#2797eb" stroke-width="0.5"/>
<path d="M95.6 750.4L97.2 751.4L95.9 748.6L94.3 747.6Z" fill="#2e85f8" stroke="#2e85f8" stroke-width="0.5"/>
<path d="M98.4 754.0L100.0 754.9L98.8 752.2L97.2 751.4Z" fill="#3a73fe" stroke="#3a73fe" stroke-width="0.5"/>
<path d="M101.3 757.4L102.9 758.1L101.6 755.6L100.0 754.9Z" fill="#4563fd" stroke="#4563fd" stroke-width="0.5"/>
<path d="M104.1 760.5L105.7 761.0L104.5 758.7L102.9 758.1Z" fill="#4756f6" stroke="#4756f6" stroke-width="0.5"/>
<path d="M106.9 763.3L108.5 763.7L107.3 761.5L105.7 761.0Z" fill="#484aee" stroke="#484aee" stroke-width="0.5"/>
<path d="M109.8 765.8L111.4 766.0L110.1 764.0L108.5 763.7Z" fill="#4740e4" stroke="#4740e4" stroke-width="0.5"/>
<path d="M112.6 768.0L114.2 768.1L113.0 766.2L111.4 766.0Z" fill="#4538d8" stroke="#4538d8" stroke-width="0.5"/>
<path d="M115.5 769.9L117.1 769.9L115.8 768.1L114.2 768.1Z" fill="#4433cb" stroke="#4433cb" stroke-width="0.5"/>
<path d="M118.3 771.5L119.9 771.4L118.6 769.7L117.1 769.9Z" fill="#422fc0" stroke="#422fc0" stroke-width="0.5"/>
<path d="M121.1 772.9L122.7 772.6L121.5 771.1L119.9 771.4Z" fill="#402bb8" stroke="#402bb8" stroke-width="0.5"/>
<path d="M124.0 773.9L125.6 773.5L124.3 772.1L122.7 772.6Z" fill="#3f29b2" stroke="#3f29b2" stroke-width="0.5"/>
<path d="M126.8 774.7L128.4 774.1L127.2 772.9L125.6 773.5Z" fill="#3f28ae" stroke="#3f28ae" stroke-width="0.5"/>
<path d="M129.7 775.2L131.2 774.4L130.0 773.4L128.4 774.1Z" fill="#3e27ac" stroke="#3e27ac" stroke-width="0.5"/>
<path d="M132.5 775.3L134.1 774.5L132.8 773.6L131.2 774.4Z" fill="#3e27ac" stroke="#3e27ac" stroke-width="0.5"/>
<path d="M135.3 775.2L136.9 774.2L135.7 773.5L134.1 774.5Z" fill="#3f28ae" stroke="#3f28ae" stroke-width="0.5"/>
<path d="M138.2 774.8L139.8 773.7L138.5 773.1L136.9 774.2Z" fill="#3f29b2" stroke="#3f29b2" stroke-width="0.5"/>
<path d="M141.0 774.2L142.6 772.9L141.4 772.4L139.8 773.7Z" fill="#402bb8" stroke="#402bb8" stroke-width="0.5"/>
<path d="M143.8 773.2L145.4 771.7L144.2 771.4L142.6 772.9Z" fill="#422fc0" stroke="#422fc0" stroke-width="0.5"/>
<path d="M146.7 771.9L148.3 770.3L147.0 770.2L145.4 771.7Z" fill="#4433cb" stroke="#4433cb" stroke-width="0.5"/>
<path d="M149.5 770.4L151.1 768.7L149.9 768.6L148.3 770.3Z" fill="#4538d8" stroke="#4538d8" stroke-width="0.5"/>
<path d="M152.4 768.5L154.0 766.7L152.7 766.8L151.1 768.7Z" fill="#4740e4" stroke="#4740e4" stroke-width="0.5"/>
<path d="M155.2 766.4L156.8 764.4L155.5 764.6L154.0 766.7Z" fill="#484aee" stroke="#484aee" stroke-width="0.5"/>
<path d="M158.0 764.0L159.6 761.8L158.4 762.2L156.8 764.4Z" fill="#4756f6" stroke="#4756f6" stroke-width="0.5"/>
<path d="M160.9 761.3L162.5 759.0L161.2 759.5L159.6 761.8Z" fill="#4563fd" stroke="#4563fd" stroke-width="0.5"/>
<path d="M163.7 758.3L165.3 755.8L164.1 756.5L162.5 759.0Z" fill="#3a73fe" stroke="#3a73fe" stroke-width="0.5"/>
<path d="M166.6 755.0L168.1 752.4L166.9 753.2L165.3 755.8Z" fill="#2e85f8" stroke="#2e85f8" stroke-width="0.5"/>
<path d="M169.4 751.4L171.0 748.7L169.7 749.7L168.1 752.4Z" fill="#2797eb" stroke="#2797eb" stroke-width="0.5"/>
<path d="M172.2 747.6L173.8 744.7L172.6 745.8L171.0 748.7Z" fill="#1da8e0" stroke="#1da8e0" stroke-width="0.5"/>
<path d="M175.1 743.4L176.7 740.4L175.4 741.7L173.8 744.7Z" fill="#03b7cc" stroke="#03b7cc" stroke-width="0.5"/>
<path d="M177.9 739.0L179.5 735.8L178.3 737.2L176.7 740.4Z" fill="#25c2ae" stroke="#25c2ae" stroke-width="0.5"/>
<path d="M180.7 734.3L182.3 730.9L181.1 732.5L179.5 735.8Z" fill="#48cb86" stroke="#48cb86" stroke-width="0.5"/>
<path d="M183.6 729.2L185.2 725.8L183.9 727.5L182.3 730.9Z" fill="#8ecb4f" stroke="#8ecb4f" stroke-width="0.5"/>
<path d="M186.4 723.9L188.0 720.3L186.8 722.1L185.2 725.8Z" fill="#d5be28" stroke="#d5be28" stroke-width="0.5"/>
<path d="M74.1 714.5L75.7 716.7L74.5 712.9L72.9 710.7Z" fill="#efba35" stroke="#efba35" stroke-width="0.5"/>
<path d="M77.0 720.3L78.6 722.3L77.3 718.7L75.7 716.7Z" fill="#b0c636" stroke="#b0c636" stroke-width="0.5"/>
<path d="M79.8 725.8L81.4 727.7L80.2 724.2L78.6 722.3Z" fill="#65cd6e" stroke="#65cd6e" stroke-width="0.5"/>
<path d="M82.6 731.1L84.2 732.8L83.0 729.5L81.4 727.7Z" fill="#32c69e" stroke="#32c69e" stroke-width="0.5"/>
<path d="M85.5 736.1L87.1 737.6L85.8 734.4L84.2 732.8Z" fill="#08bcbf" stroke="#08bcbf" stroke-width="0.5"/>
<path d="M88.3 740.7L89.9 742.2L88.7 739.1L87.1 737.6Z" fill="#15afd9" stroke="#15afd9" stroke-width="0.5"/>
<path d="M91.2 745.1L92.8 746.4L91.5 743.5L89.9 742.2Z" fill="#249ee6" stroke="#249ee6" stroke-width="0.5"/>
<path d="M94.0 749.2L95.6 750.4L94.3 747.6L92.8 746.4Z" fill="#2d8df2" stroke="#2d8df2" stroke-width="0.5"/>
<path d="M96.8 753.0L98.4 754.0L97.2 751.4L95.6 750.4Z" fill="#327bfc" stroke="#327bfc" stroke-width="0.5"/>
<path d="M99.7 756.5L101.3 757.4L100.0 754.9L98.4 754.0Z" fill="#426afe" stroke="#426afe" stroke-width="0.5"/>
<path d="M102.5 759.7L104.1 760.5L102.9 758.1L101.3 757.4Z" fill="#475bf9" stroke="#475bf9" stroke-width="0.5"/>
<path d="M105.3 762.7L106.9 763.3L105.7 761.0L104.1 760.5Z" fill="#484ff2" stroke="#484ff2" stroke-width="0.5"/>
<path d="M108.2 765.3L109.8 765.8L108.5 763.7L106.9 763.3Z" fill="#4744e8" stroke="#4744e8" stroke-width="0.5"/>
<path d="M111.0 767.7L112.6 768.0L111.4 766.0L109.8 765.8Z" fill="#463bdc" stroke="#463bdc" stroke-width="0.5"/>
<path d="M113.9 769.7L115.5 769.9L114.2 768.1L112.6 768.0Z" fill="#4434cf" stroke="#4434cf" stroke-width="0.5"/>
<path d="M116.7 771.5L118.3 771.5L117.1 769.9L115.5 769.9Z" fill="#4230c3" stroke="#4230c3" stroke-width="0.5"/>
<path d="M119.5 773.0L121.1 772.9L119.9 771.4L118.3 771.5Z" fill="#412cba" stroke="#412cba" stroke-width="0.5"/>
<path d="M122.4 774.2L124.0 773.9L122.7 772.6L121.1 772.9Z" fill="#402ab3" stroke="#402ab3" stroke-width="0.5"/>
<path d="M125.2 775.1L126.8 774.7L125.6 773.5L124.0 773.9Z" fill="#3f28ae" stroke="#3f28ae" stroke-width="0.5"/>
<path d="M128.1 775.7L129.7 775.2L128.4 774.1L126.8 774.7Z" fill="#3e27ab" stroke="#3e27ab" stroke-width="0.5"/>
<path d="M130.9 776.1L132.5 775.3L131.2 774.4L129.7 775.2Z" fill="#3e27aa" stroke="#3e27aa" stroke-width="0.5"/>
<path d="M133.7 776.1L135.3 775.2L134.1 774.5L132.5 775.3Z" fill="#3e27ab" stroke="#3e27ab" stroke-width="0.5"/>
<path d="M136.6 775.9L138.2 774.8L136.9 774.2L135.3 775.2Z" fill="#3f28ae" stroke="#3f28ae" stroke-width="0.5"/>
<path d="M139.4 775.3L141.0 774.2L139.8 773.7L138.2 774.8Z" fill="#402ab3" stroke="#402ab3" stroke-width="0.5"/>
<path d="M142.3 774.5L143.8 773.2L142.6 772.9L141.0 774.2Z" fill="#412cba" stroke="#412cba" stroke-width="0.5"/>
<path d="M145.1 773.4L146.7 771.9L145.4 771.7L143.8 773.2Z" fill="#4230c3" stroke="#4230c3" stroke-width="0.5"/>
<path d="M147.9 772.0L149.5 770.4L148.3 770.3L146.7 771.9Z" fill="#4434cf" stroke="#4434cf" stroke-width="0.5"/>
<path d="M150.8 770.3L152.4 768.5L151.1 768.7L149.5 770.4Z" fill="#463bdc" stroke="#463bdc" stroke-width="0.5"/>
<path d="M153.6 768.3L155.2 766.4L154.0 766.7L152.4 768.5Z" fill="#4744e8" stroke="#4744e8" stroke-width="0.5"/>
<path d="M156.4 766.0L158.0 764.0L156.8 764.4L155.2 766.4Z" fill="#484ff2" stroke="#484ff2" stroke-width="0.5"/>
<path d="M159.3 763.5L160.9 761.3L159.6 761.8L158.0 764.0Z" fill="#475bf9" stroke="#475bf9" stroke-width="0.5"/>
<path d="M162.1 760.6L163.7 758.3L162.5 759.0L160.9 761.3Z" fill="#426afe" stroke="#426afe" stroke-width="0.5"/>
<path d="M165.0 757.5L166.6 755.0L165.3 755.8L163.7 758.3Z" fill="#327bfc" stroke="#327bfc" stroke-width="0.5"/>
<path d="M167.8 754.0L169.4 751.4L168.1 752.4L166.6 755.0Z" fill="#2d8df2" stroke="#2d8df2" stroke-width="0.5"/>
<path d="M170.6 750.3L172.2 747.6L171.0 748.7L169.4 751.4Z" fill="#249ee6" stroke="#249ee6" stroke-width="0.5"/>
<path d="M173.5 746.3L175.1 743.4L173.8 744.7L172.2 747.6Z" fill="#15afd9" stroke="#15afd9" stroke-width="0.5"/>
<path d="M176.3 742.0L177.9 739.0L176.7 740.4L175.1 743.4Z" fill="#08bcbf" stroke="#08bcbf" stroke-width="0.5"/>
<path d="M179.2 737.4L180.7 734.3L179.5 735.8L177.9 739.0Z" fill="#32c69e" stroke="#32c69e" stroke-width="0.5"/>
<path d="M182.0 732.6L183.6 729.2L182.3 730.9L180.7 734.3Z" fill="#65cd6e" stroke="#65cd6e" stroke-width="0.5"/>
<path d="M184.8 727.4L186.4 723.9L185.2 725.8L183.6 729.2Z" fill="#b0c636" stroke="#b0c636" stroke-width="0.5"/>
<path d="M187.7 721.9L189.3 718.3L188.0 720.3L186.4 723.9Z" fill="#efba35" stroke="#efba35" stroke-width="0.5"/>
<path d="M72.5 712.2L74.1 714.5L72.9 710.7L71.3 708.4Z" fill="#fec239" stroke="#fec239" stroke-width="0.5"/>
<path d="M75.4 718.1L77.0 720.3L75.7 716.7L74.1 714.5Z" fill="#d0bf27" stroke="#d0bf27" stroke-width="0.5"/>
<path d="M78.2 723.8L79.8 725.8L78.6 722.3L77.0 720.3Z" fill="#87cb54" stroke="#87cb54" stroke-width="0.5"/>
<path d="M81.0 729.2L82.6 731.1L81.4 727.7L79.8 725.8Z" fill="#43ca8a" stroke="#43ca8a" stroke-width="0.5"/>
<path d="M83.9 734.3L85.5 736.1L84.2 732.8L82.6 731.1Z" fill="#20c1b1" stroke="#20c1b1" stroke-width="0.5"/>
<path d="M86.7 739.1L88.3 740.7L87.1 737.6L85.5 736.1Z" fill="#05b6ce" stroke="#05b6ce" stroke-width="0.5"/>
<path d="M89.6 743.7L91.2 745.1L89.9 742.2L88.3 740.7Z" fill="#1fa6e2" stroke="#1fa6e2" stroke-width="0.5"/>
<path d="M92.4 747.9L94.0 749.2L92.8 746.4L91.2 745.1Z" fill="#2995ec" stroke="#2995ec" stroke-width="0.5"/>
<path d="M95.2 751.8L96.8 753.0L95.6 750.4L94.0 749.2Z" fill="#2e83f9" stroke="#2e83f9" stroke-width="0.5"/>
<path d="M98.1 755.5L99.7 756.5L98.4 754.0L96.8 753.0Z" fill="#3c71ff" stroke="#3c71ff" stroke-width="0.5"/>
<path d="M100.9 758.9L102.5 759.7L101.3 757.4L99.7 756.5Z" fill="#4561fc" stroke="#4561fc" stroke-width="0.5"/>
<path d="M103.8 761.9L105.3 762.7L104.1 760.5L102.5 759.7Z" fill="#4854f5" stroke="#4854f5" stroke-width="0.5"/>
<path d="M106.6 764.7L108.2 765.3L106.9 763.3L105.3 762.7Z" fill="#4848ec" stroke="#4848ec" stroke-width="0.5"/>
<path d="M109.4 767.2L111.0 767.7L109.8 765.8L108.2 765.3Z" fill="#473ee1" stroke="#473ee1" stroke-width="0.5"/>
<path d="M112.3 769.4L113.9 769.7L112.6 768.0L111.0 767.7Z" fill="#4536d5" stroke="#4536d5" stroke-width="0.5"/>
<path d="M115.1 771.4L116.7 771.5L115.5 769.9L113.9 769.7Z" fill="#4331c8" stroke="#4331c8" stroke-width="0.5"/>
<path d="M118.0 773.0L119.5 773.0L118.3 771.5L116.7 771.5Z" fill="#412dbd" stroke="#412dbd" stroke-width="0.5"/>
<path d="M120.8 774.3L122.4 774.2L121.1 772.9L119.5 773.0Z" fill="#402ab5" stroke="#402ab5" stroke-width="0.5"/>
<path d="M123.6 775.4L125.2 775.1L124.0 773.9L122.4 774.2Z" fill="#3f28af" stroke="#3f28af" stroke-width="0.5"/>
<path d="M126.5 776.2L128.1 775.7L126.8 774.7L125.2 775.1Z" fill="#3e27ab" stroke="#3e27ab" stroke-width="0.5"/>
<path d="M129.3 776.6L130.9 776.1L129.7 775.2L128.1 775.7Z" fill="#3e27a9" stroke="#3e27a9" stroke-width="0.5"/>
<path d="M132.1 776.8L133.7 776.1L132.5 775.3L130.9 776.1Z" fill="#3e27a9" stroke="#3e27a9" stroke-width="0.5"/>
<path d="M135.0 776.7L136.6 775.9L135.3 775.2L133.7 776.1Z" fill="#3e27ab" stroke="#3e27ab" stroke-width="0.5"/>
<path d="M137.8 776.3L139.4 775.3L138.2 774.8L136.6 775.9Z" fill="#3f28af" stroke="#3f28af" stroke-width="0.5"/>
<path d="M140.7 775.6L142.3 774.5L141.0 774.2L139.4 775.3Z" fill="#402ab5" stroke="#402ab5" stroke-width="0.5"/>
<path d="M143.5 774.7L145.1 773.4L143.8 773.2L142.3 774.5Z" fill="#412dbd" stroke="#412dbd" stroke-width="0.5"/>
<path d="M146.3 773.4L147.9 772.0L146.7 771.9L145.1 773.4Z" fill="#4331c8" stroke="#4331c8" stroke-width="0.5"/>
<path d="M149.2 771.9L150.8 770.3L149.5 770.4L147.9 772.0Z" fill="#4536d5" stroke="#4536d5" stroke-width="0.5"/>
<path d="M152.0 770.0L153.6 768.3L152.4 768.5L150.8 770.3Z" fill="#473ee1" stroke="#473ee1" stroke-width="0.5"/>
<path d="M154.9 767.9L156.4 766.0L155.2 766.4L153.6 768.3Z" fill="#4848ec" stroke="#4848ec" stroke-width="0.5"/>
<path d="M157.7 765.5L159.3 763.5L158.0 764.0L156.4 766.0Z" fill="#4854f5" stroke="#4854f5" stroke-width="0.5"/>
<path d="M160.5 762.8L162.1 760.6L160.9 761.3L159.3 763.5Z" fill="#4561fc" stroke="#4561fc" stroke-width="0.5"/>
<path d="M163.4 759.8L165.0 757.5L163.7 758.3L162.1 760.6Z" fill="#3c71ff" stroke="#3c71ff" stroke-width="0.5"/>
<path d="M166.2 756.5L167.8 754.0L166.6 755.0L165.0 757.5Z" fill="#2e83f9" stroke="#2e83f9" stroke-width="0.5"/>
<path d="M169.0 752.9L170.6 750.3L169.4 751.4L167.8 754.0Z" fill="#2995ec" stroke="#2995ec" stroke-width="0.5"/>
<path d="M171.9 749.1L173.5 746.3L172.2 747.6L170.6 750.3Z" fill="#1fa6e2" stroke="#1fa6e2" stroke-width="0.5"/>
<path d="M174.7 744.9L176.3 742.0L175.1 743.4L173.5 746.3Z" fill="#05b6ce" stroke="#05b6ce" stroke-width="0.5"/>
<path d="M177.6 740.5L179.2 737.4L177.9 739.0L176.3 742.0Z" fill="#20c1b1" stroke="#20c1b1" stroke-width="0.5"/>
<path d="M180.4 735.7L182.0 732.6L180.7 734.3L179.2 737.4Z" fill="#43ca8a" stroke="#43ca8a" stroke-width="0.5"/>
<path d="M183.2 730.7L184.8 727.4L183.6 729.2L182.0 732.6Z" fill="#87cb54" stroke="#87cb54" stroke-width="0.5"/>
<path d="M186.1 725.4L187.7 721.9L186.4 723.9L184.8 727.4Z" fill="#d0bf27" stroke="#d0bf27" stroke-width="0.5"/>
<path d="M188.9 719.8L190.5 716.2L189.3 718.3L187.7 721.9Z" fill="#fec239" stroke="#fec239" stroke-width="0.5"/>
<path d="M70.9 709.7L72.5 712.2L71.3 708.4L69.7 705.9Z" fill="#fad42e" stroke="#fad42e" stroke-width="0.5"/>
<path d="M73.8 715.8L75.4 718.1L74.1 714.5L72.5 712.2Z" fill="#edba33" stroke="#edba33" stroke-width="0.5"/>
<path d="M76.6 721.6L78.2 723.8L77.0 720.3L75.4 718.1Z" fill="#acc738" stroke="#acc738" stroke-width="0.5"/>
<path d="M79.5 727.2L81.0 729.2L79.8 725.8L78.2 723.8Z" fill="#61cd71" stroke="#61cd71" stroke-width="0.5"/>
<path d="M82.3 732.4L83.9 734.3L82.6 731.1L81.0 729.2Z" fill="#31c6a0" stroke="#31c6a0" stroke-width="0.5"/>
<path d="M85.1 737.4L86.7 739.1L85.5 736.1L83.9 734.3Z" fill="#05bbc1" stroke="#05bbc1" stroke-width="0.5"/>
<path d="M88.0 742.1L89.6 743.7L88.3 740.7L86.7 739.1Z" fill="#17aeda" stroke="#17aeda" stroke-width="0.5"/>
<path d="M90.8 746.5L92.4 747.9L91.2 745.1L89.6 743.7Z" fill="#259de7" stroke="#259de7" stroke-width="0.5"/>
<path d="M93.6 750.5L95.2 751.8L94.0 749.2L92.4 747.9Z" fill="#2d8bf3" stroke="#2d8bf3" stroke-width="0.5"/>
<path d="M96.5 754.3L98.1 755.5L96.8 753.0L95.2 751.8Z" fill="#347afd" stroke="#347afd" stroke-width="0.5"/>
<path d="M99.3 757.9L100.9 758.9L99.7 756.5L98.1 755.5Z" fill="#4368fe" stroke="#4368fe" stroke-width="0.5"/>
<path d="M102.2 761.1L103.8 761.9L102.5 759.7L100.9 758.9Z" fill="#475af9" stroke="#475af9" stroke-width="0.5"/>
<path d="M105.0 764.0L106.6 764.7L105.3 762.7L103.8 761.9Z" fill="#484df1" stroke="#484df1" stroke-width="0.5"/>
<path d="M107.8 766.7L109.4 767.2L108.2 765.3L106.6 764.7Z" fill="#4742e6" stroke="#4742e6" stroke-width="0.5"/>
<path d="M110.7 769.0L112.3 769.4L111.0 767.7L109.4 767.2Z" fill="#463ada" stroke="#463ada" stroke-width="0.5"/>
<path d="M113.5 771.1L115.1 771.4L113.9 769.7L112.3 769.4Z" fill="#4433cd" stroke="#4433cd" stroke-width="0.5"/>
<path d="M116.4 772.9L118.0 773.0L116.7 771.5L115.1 771.4Z" fill="#422fc1" stroke="#422fc1" stroke-width="0.5"/>
<path d="M119.2 774.3L120.8 774.3L119.5 773.0L118.0 773.0Z" fill="#402bb8" stroke="#402bb8" stroke-width="0.5"/>
<path d="M122.0 775.5L123.6 775.4L122.4 774.2L120.8 774.3Z" fill="#3f29b1" stroke="#3f29b1" stroke-width="0.5"/>
<path d="M124.9 776.4L126.5 776.2L125.2 775.1L123.6 775.4Z" fill="#3e27ac" stroke="#3e27ac" stroke-width="0.5"/>
<path d="M127.7 777.1L129.3 776.6L128.1 775.7L126.5 776.2Z" fill="#3e27a9" stroke="#3e27a9" stroke-width="0.5"/>
<path d="M130.5 777.4L132.1 776.8L130.9 776.1L129.3 776.6Z" fill="#3e26a9" stroke="#3e26a9" stroke-width="0.5"/>
<path d="M133.4 777.4L135.0 776.7L133.7 776.1L132.1 776.8Z" fill="#3e27a9" stroke="#3e27a9" stroke-width="0.5"/>
<path d="M136.2 777.2L137.8 776.3L136.6 775.9L135.0 776.7Z" fill="#3e27ac" stroke="#3e27ac" stroke-width="0.5"/>
<path d="M139.1 776.7L140.7 775.6L139.4 775.3L137.8 776.3Z" fill="#3f29b1" stroke="#3f29b1" stroke-width="0.5"/>
<path d="M141.9 775.8L143.5 774.7L142.3 774.5L140.7 775.6Z" fill="#402bb8" stroke="#402bb8" stroke-width="0.5"/>
<path d="M144.7 774.7L146.3 773.4L145.1 773.4L143.5 774.7Z" fill="#422fc1" stroke="#422fc1" stroke-width="0.5"/>
<path d="M147.6 773.3L149.2 771.9L147.9 772.0L146.3 773.4Z" fill="#4433cd" stroke="#4433cd" stroke-width="0.5"/>
<path d="M150.4 771.6L152.0 770.0L150.8 770.3L149.2 771.9Z" fill="#463ada" stroke="#463ada" stroke-width="0.5"/>
<path d="M153.3 769.6L154.9 767.9L153.6 768.3L152.0 770.0Z" fill="#4742e6" stroke="#4742e6" stroke-width="0.5"/>
<path d="M156.1 767.4L157.7 765.5L156.4 766.0L154.9 767.9Z" fill="#484df1" stroke="#484df1" stroke-width="0.5"/>
<path d="M158.9 764.8L160.5 762.8L159.3 763.5L157.7 765.5Z" fill="#475af9" stroke="#475af9" stroke-width="0.5"/>
<path d="M161.8 762.0L163.4 759.8L162.1 760.6L160.5 762.8Z" fill="#4368fe" stroke="#4368fe" stroke-width="0.5"/>
<path d="M164.6 758.8L166.2 756.5L165.0 757.5L163.4 759.8Z" fill="#347afd" stroke="#347afd" stroke-width="0.5"/>
<path d="M167.5 755.4L169.0 752.9L167.8 754.0L166.2 756.5Z" fill="#2d8bf3" stroke="#2d8bf3" stroke-width="0.5"/>
<path d="M170.3 751.7L171.9 749.1L170.6 750.3L169.0 752.9Z" fill="#259de7" stroke="#259de7" stroke-width="0.5"/>
<path d="M173.1 747.7L174.7 744.9L173.5 746.3L171.9 749.1Z" fill="#17aeda" stroke="#17aeda" stroke-width="0.5"/>
<path d="M176.0 743.4L177.6 740.5L176.3 742.0L174.7 744.9Z" fill="#05bbc1" stroke="#05bbc1" stroke-width="0.5"/>
<path d="M178.8 738.8L180.4 735.7L179.2 737.4L177.6 740.5Z" fill="#31c6a0" stroke="#31c6a0" stroke-width="0.5"/>
<path d="M181.6 733.9L183.2 730.7L182.0 732.6L180.4 735.7Z" fill="#61cd71" stroke="#61cd71" stroke-width="0.5"/>
<path d="M184.5 728.7L186.1 725.4L184.8 727.4L183.2 730.7Z" fill="#acc738" stroke="#acc738" stroke-width="0.5"/>
<path d="M187.3 723.3L188.9 719.8L187.7 721.9L186.1 725.4Z" fill="#edba33" stroke="#edba33" stroke-width="0.5"/>
<path d="M190.2 717.5L191.8 713.9L190.5 716.2L188.9 719.8Z" fill="#fad42e" stroke="#fad42e" stroke-width="0.5"/>
<path d="M69.3 707.1L70.9 709.7L69.7 705.9L68.1 703.3Z" fill="#f5e825" stroke="#f5e825" stroke-width="0.5"/>
<path d="M72.2 713.4L73.8 715.8L72.5 712.2L70.9 709.7Z" fill="#fec13a" stroke="#fec13a" stroke-width="0.5"/>
<path d="M75.0 719.3L76.6 721.6L75.4 718.1L73.8 715.8Z" fill="#cec028" stroke="#cec028" stroke-width="0.5"/>
<path d="M77.9 725.0L79.5 727.2L78.2 723.8L76.6 721.6Z" fill="#85cb55" stroke="#85cb55" stroke-width="0.5"/>
<path d="M80.7 730.4L82.3 732.4L81.0 729.2L79.5 727.2Z" fill="#42ca8c" stroke="#42ca8c" stroke-width="0.5"/>
<path d="M83.5 735.5L85.1 737.4L83.9 734.3L82.3 732.4Z" fill="#1fc0b2" stroke="#1fc0b2" stroke-width="0.5"/>
<path d="M86.4 740.3L88.0 742.1L86.7 739.1L85.1 737.4Z" fill="#06b5cf" stroke="#06b5cf" stroke-width="0.5"/>
<path d="M89.2 744.9L90.8 746.5L89.6 743.7L88.0 742.1Z" fill="#1fa6e2" stroke="#1fa6e2" stroke-width="0.5"/>
<path d="M92.1 749.1L93.6 750.5L92.4 747.9L90.8 746.5Z" fill="#2994ed" stroke="#2994ed" stroke-width="0.5"/>
<path d="M94.9 753.0L96.5 754.3L95.2 751.8L93.6 750.5Z" fill="#2f82f9" stroke="#2f82f9" stroke-width="0.5"/>
<path d="M97.7 756.7L99.3 757.9L98.1 755.5L96.5 754.3Z" fill="#3d70ff" stroke="#3d70ff" stroke-width="0.5"/>
<path d="M100.6 760.1L102.2 761.1L100.9 758.9L99.3 757.9Z" fill="#4660fc" stroke="#4660fc" stroke-width="0.5"/>
<path d="M103.4 763.1L105.0 764.0L103.8 761.9L102.2 761.1Z" fill="#4853f5" stroke="#4853f5" stroke-width="0.5"/>
<path d="M106.2 765.9L107.8 766.7L106.6 764.7L105.0 764.0Z" fill="#4847ec" stroke="#4847ec" stroke-width="0.5"/>
<path d="M109.1 768.4L110.7 769.0L109.4 767.2L107.8 766.7Z" fill="#463ee0" stroke="#463ee0" stroke-width="0.5"/>
<path d="M111.9 770.6L113.5 771.1L112.3 769.4L110.7 769.0Z" fill="#4536d4" stroke="#4536d4" stroke-width="0.5"/>
<path d="M114.8 772.6L116.4 772.9L115.1 771.4L113.5 771.1Z" fill="#4331c7" stroke="#4331c7" stroke-width="0.5"/>
<path d="M117.6 774.2L119.2 774.3L118.0 773.0L116.4 772.9Z" fill="#412dbc" stroke="#412dbc" stroke-width="0.5"/>
<path d="M120.4 775.5L122.0 775.5L120.8 774.3L119.2 774.3Z" fill="#402ab4" stroke="#402ab4" stroke-width="0.5"/>
<path d="M123.3 776.6L124.9 776.4L123.6 775.4L122.0 775.5Z" fill="#3f28ae" stroke="#3f28ae" stroke-width="0.5"/>
<path d="M126.1 777.4L127.7 777.1L126.5 776.2L124.9 776.4Z" fill="#3e27aa" stroke="#3e27aa" stroke-width="0.5"/>
<path d="M129.0 777.8L130.5 777.4L129.3 776.6L127.7 777.1Z" fill="#3e26a9" stroke="#3e26a9" stroke-width="0.5"/>
<path d="M131.8 778.0L133.4 777.4L132.1 776.8L130.5 777.4Z" fill="#3e26a9" stroke="#3e26a9" stroke-width="0.5"/>
<path d="M134.6 777.9L136.2 777.2L135.0 776.7L133.4 777.4Z" fill="#3e27aa" stroke="#3e27aa" stroke-width="0.5"/>
<path d="M137.5 777.5L139.1 776.7L137.8 776.3L136.2 777.2Z" fill="#3f28ae" stroke="#3f28ae" stroke-width="0.5"/>
<path d="M140.3 776.8L141.9 775.8L140.7 775.6L139.1 776.7Z" fill="#402ab4" stroke="#402ab4" stroke-width="0.5"/>
<path d="M143.1 775.9L144.7 774.7L143.5 774.7L141.9 775.8Z" fill="#412dbc" stroke="#412dbc" stroke-width="0.5"/>
<path d="M146.0 774.6L147.6 773.3L146.3 773.4L144.7 774.7Z" fill="#4331c7" stroke="#4331c7" stroke-width="0.5"/>
<path d="M148.8 773.1L150.4 771.6L149.2 771.9L147.6 773.3Z" fill="#4536d4" stroke="#4536d4" stroke-width="0.5"/>
<path d="M151.7 771.2L153.3 769.6L152.0 770.0L150.4 771.6Z" fill="#463ee0" stroke="#463ee0" stroke-width="0.5"/>
<path d="M154.5 769.1L156.1 767.4L154.9 767.9L153.3 769.6Z" fill="#4847ec" stroke="#4847ec" stroke-width="0.5"/>
<path d="M157.3 766.7L158.9 764.8L157.7 765.5L156.1 767.4Z" fill="#4853f5" stroke="#4853f5" stroke-width="0.5"/>
<path d="M160.2 764.0L161.8 762.0L160.5 762.8L158.9 764.8Z" fill="#4660fc" stroke="#4660fc" stroke-width="0.5"/>
<path d="M163.0 761.0L164.6 758.8L163.4 759.8L161.8 762.0Z" fill="#3d70ff" stroke="#3d70ff" stroke-width="0.5"/>
<path d="M165.9 757.7L167.5 755.4L166.2 756.5L164.6 758.8Z" fill="#2f82f9" stroke="#2f82f9" stroke-width="0.5"/>
<path d="M168.7 754.1L170.3 751.7L169.0 752.9L167.5 755.4Z" fill="#2994ed" stroke="#2994ed" stroke-width="0.5"/>
<path d="M171.5 750.3L173.1 747.7L171.9 749.1L170.3 751.7Z" fill="#1fa6e2" stroke="#1fa6e2" stroke-width="0.5"/>
<path d="M174.4 746.1L176.0 743.4L174.7 744.9L173.1 747.7Z" fill="#06b5cf" stroke="#06b5cf" stroke-width="0.5"/>
<path d="M177.2 741.7L178.8 738.8L177.6 740.5L176.0 743.4Z" fill="#1fc0b2" stroke="#1fc0b2" stroke-width="0.5"/>
<path d="M180.1 736.9L181.6 733.9L180.4 735.7L178.8 738.8Z" fill="#42ca8c" stroke="#42ca8c" stroke-width="0.5"/>
<path d="M182.9 731.9L184.5 728.7L183.2 730.7L181.6 733.9Z" fill="#85cb55" stroke="#85cb55" stroke-width="0.5"/>
<path d="M185.7 726.6L187.3 723.3L186.1 725.4L184.5 728.7Z" fill="#cec028" stroke="#cec028" stroke-width="0.5"/>
<path d="M188.6 721.0L190.2 717.5L188.9 719.8L187.3 723.3Z" fill="#fec13a" stroke="#fec13a" stroke-width="0.5"/>
<path d="M191.4 715.1L193.0 711.5L191.8 713.9L190.2 717.5Z" fill="#f5e825" stroke="#f5e825" stroke-width="0.5"/>
<path d="M70.6 710.8L72.2 713.4L70.9 709.7L69.3 707.1Z" fill="#fad42e" stroke="#fad42e" stroke-width="0.5"/>
<path d="M73.4 716.9L75.0 719.3L73.8 715.8L72.2 713.4Z" fill="#edba33" stroke="#edba33" stroke-width="0.5"/>
<path d="M76.3 722.7L77.9 725.0L76.6 721.6L75.0 719.3Z" fill="#acc738" stroke="#acc738" stroke-width="0.5"/>
<path d="M79.1 728.2L80.7 730.4L79.5 727.2L77.9 725.0Z" fill="#61cd71" stroke="#61cd71" stroke-width="0.5"/>
<path d="M81.9 733.5L83.5 735.5L82.3 732.4L80.7 730.4Z" fill="#31c6a0" stroke="#31c6a0" stroke-width="0.5"/>
<path d="M84.8 738.5L86.4 740.3L85.1 737.4L83.5 735.5Z" fill="#05bbc1" stroke="#05bbc1" stroke-width="0.5"/>
<path d="M87.6 743.1L89.2 744.9L88.0 742.1L86.4 740.3Z" fill="#17aeda" stroke="#17aeda" stroke-width="0.5"/>
<path d="M90.5 747.5L92.1 749.1L90.8 746.5L89.2 744.9Z" fill="#259de7" stroke="#259de7" stroke-width="0.5"/>
<path d="M93.3 751.6L94.9 753.0L93.6 750.5L92.1 749.1Z" fill="#2d8bf3" stroke="#2d8bf3" stroke-width="0.5"/>
<path d="M96.1 755.4L97.7 756.7L96.5 754.3L94.9 753.0Z" fill="#347afd" stroke="#347afd" stroke-width="0.5"/>
<path d="M99.0 758.9L100.6 760.1L99.3 757.9L97.7 756.7Z" fill="#4368fe" stroke="#4368fe" stroke-width="0.5"/>
<path d="M101.8 762.1L103.4 763.1L102.2 761.1L100.6 760.1Z" fill="#475af9" stroke="#475af9" stroke-width="0.5"/>
<path d="M104.7 765.1L106.2 765.9L105.0 764.0L103.4 763.1Z" fill="#484df1" stroke="#484df1" stroke-width="0.5"/>
<path d="M107.5 767.7L109.1 768.4L107.8 766.7L106.2 765.9Z" fill="#4742e6" stroke="#4742e6" stroke-width="0.5"/>
<path d="M110.3 770.1L111.9 770.6L110.7 769.0L109.1 768.4Z" fill="#463ada" stroke="#463ada" stroke-width="0.5"/>
<path d="M113.2 772.1L114.8 772.6L113.5 771.1L111.9 770.6Z" fill="#4433cd" stroke="#4433cd" stroke-width="0.5"/>
<path d="M116.0 773.9L117.6 774.2L116.4 772.9L114.8 772.6Z" fill="#422fc1" stroke="#422fc1" stroke-width="0.5"/>
<path d="M118.8 775.4L120.4 775.5L119.2 774.3L117.6 774.2Z" fill="#402bb8" stroke="#402bb8" stroke-width="0.5"/>
<path d="M121.7 776.6L123.3 776.6L122.0 775.5L120.4 775.5Z" fill="#3f29b1" stroke="#3f29b1" stroke-width="0.5"/>
<path d="M124.5 777.5L126.1 777.4L124.9 776.4L123.3 776.6Z" fill="#3e27ac" stroke="#3e27ac" stroke-width="0.5"/>
<path d="M127.4 778.1L129.0 777.8L127.7 777.1L126.1 777.4Z" fill="#3e27a9" stroke="#3e27a9" stroke-width="0.5"/>
<path d="M130.2 778.5L131.8 778.0L130.5 777.4L129.0 777.8Z" fill="#3e26a9" stroke="#3e26a9" stroke-width="0.5"/>
<path d="M133.0 778.5L134.6 777.9L133.4 777.4L131.8 778.0Z" fill="#3e27a9" stroke="#3e27a9" stroke-width="0.5"/>
<path d="M135.9 778.2L137.5 777.5L136.2 777.2L134.6 777.9Z" fill="#3e27ac" stroke="#3e27ac" stroke-width="0.5"/>
<path d="M138.7 777.7L140.3 776.8L139.1 776.7L137.5 777.5Z" fill="#3f29b1" stroke="#3f29b1" stroke-width="0.5"/>
<path d="M141.6 776.9L143.1 775.9L141.9 775.8L140.3 776.8Z" fill="#402bb8" stroke="#402bb8" stroke-width="0.5"/>
<path d="M144.4 775.8L146.0 774.6L144.7 774.7L143.1 775.9Z" fill="#422fc1" stroke="#422fc1" stroke-width="0.5"/>
<path d="M147.2 774.4L148.8 773.1L147.6 773.3L146.0 774.6Z" fill="#4433cd" stroke="#4433cd" stroke-width="0.5"/>
<path d="M150.1 772.7L151.7 771.2L150.4 771.6L148.8 773.1Z" fill="#463ada" stroke="#463ada" stroke-width="0.5"/>
<path d="M152.9 770.7L154.5 769.1L153.3 769.6L151.7 771.2Z" fill="#4742e6" stroke="#4742e6" stroke-width="0.5"/>
<path d="M155.8 768.4L157.3 766.7L156.1 767.4L154.5 769.1Z" fill="#484df1" stroke="#484df1" stroke-width="0.5"/>
<path d="M158.6 765.9L160.2 764.0L158.9 764.8L157.3 766.7Z" fill="#475af9" stroke="#475af9" stroke-width="0.5"/>
<path d="M161.4 763.0L163.0 761.0L161.8 762.0L160.2 764.0Z" fill="#4368fe" stroke="#4368fe" stroke-width="0.5"/>
<path d="M164.3 759.9L165.9 757.7L164.6 758.8L163.0 761.0Z" fill="#347afd" stroke="#347afd" stroke-width="0.5"/>
<path d="M167.1 756.4L168.7 754.1L167.5 755.4L165.9 757.7Z" fill="#2d8bf3" stroke="#2d8bf3" stroke-width="0.5"/>
<path d="M169.9 752.7L171.5 750.3L170.3 751.7L168.7 754.1Z" fill="#259de7" stroke="#259de7" stroke-width="0.5"/>
<path d="M172.8 748.7L174.4 746.1L173.1 747.7L171.5 750.3Z" fill="#17aeda" stroke="#17aeda" stroke-width="0.5"/>
<path d="M175.6 744.4L177.2 741.7L176.0 743.4L174.4 746.1Z" fill="#05bbc1" stroke="#05bbc1" stroke-width="0.5"/>
<path d="M178.5 739.8L180.1 736.9L178.8 738.8L177.2 741.7Z" fill="#31c6a0" stroke="#31c6a0" stroke-width="0.5"/>
<path d="M181.3 734.9L182.9 731.9L181.6 733.9L180.1 736.9Z" fill="#61cd71" stroke="#61cd71" stroke-width="0.5"/>
<path d="M184.1 729.8L185.7 726.6L184.5 728.7L182.9 731.9Z" fill="#acc738" stroke="#acc738" stroke-width="0.5"/>
<path d="M187.0 724.3L188.6 721.0L187.3 723.3L185.7 726.6Z" fill="#edba33" stroke="#edba33" stroke-width="0.5"/>
<path d="M189.8 718.6L191.4 715.1L190.2 717.5L188.6 721.0Z" fill="#fad42e" stroke="#fad42e" stroke-width="0.5"/>
<path d="M71.8 714.3L73.4 716.9L72.2 713.4L70.6 710.8Z" fill="#fec239" stroke="#fec239" stroke-width="0.5"/>
<path d="M74.7 720.2L76.3 722.7L75.0 719.3L73.4 716.9Z" fill="#d0bf27" stroke="#d0bf27" stroke-width="0.5"/>
<path d="M77.5 725.9L79.1 728.2L77.9 725.0L76.3 722.7Z" fill="#87cb54" stroke="#87cb54" stroke-width="0.5"/>
<path d="M80.4 731.3L81.9 733.5L80.7 730.4L79.1 728.2Z" fill="#43ca8a" stroke="#43ca8a" stroke-width="0.5"/>
<path d="M83.2 736.4L84.8 738.5L83.5 735.5L81.9 733.5Z" fill="#20c1b1" stroke="#20c1b1" stroke-width="0.5"/>
<path d="M86.0 741.2L87.6 743.1L86.4 740.3L84.8 738.5Z" fill="#05b6ce" stroke="#05b6ce" stroke-width="0.5"/>
<path d="M88.9 745.8L90.5 747.5L89.2 744.9L87.6 743.1Z" fill="#1fa6e2" stroke="#1fa6e2" stroke-width="0.5"/>
<path d="M91.7 750.0L93.3 751.6L92.1 749.1L90.5 747.5Z" fill="#2995ec" stroke="#2995ec" stroke-width="0.5"/>
<path d="M94.5 754.0L96.1 755.4L94.9 753.0L93.3 751.6Z" fill="#2e83f9" stroke="#2e83f9" stroke-width="0.5"/>
<path d="M97.4 757.6L99.0 758.9L97.7 756.7L96.1 755.4Z" fill="#3c71ff" stroke="#3c71ff" stroke-width="0.5"/>
<path d="M100.2 761.0L101.8 762.1L100.6 760.1L99.0 758.9Z" fill="#4561fc" stroke="#4561fc" stroke-width="0.5"/>
<path d="M103.1 764.1L104.7 765.1L103.4 763.1L101.8 762.1Z" fill="#4854f5" stroke="#4854f5" stroke-width="0.5"/>
<path d="M105.9 766.8L107.5 767.7L106.2 765.9L104.7 765.1Z" fill="#4848ec" stroke="#4848ec" stroke-width="0.5"/>
<path d="M108.7 769.3L110.3 770.1L109.1 768.4L107.5 767.7Z" fill="#473ee1" stroke="#473ee1" stroke-width="0.5"/>
<path d="M111.6 771.6L113.2 772.1L111.9 770.6L110.3 770.1Z" fill="#4536d5" stroke="#4536d5" stroke-width="0.5"/>
<path d="M114.4 773.5L116.0 773.9L114.8 772.6L113.2 772.1Z" fill="#4331c8" stroke="#4331c8" stroke-width="0.5"/>
<path d="M117.3 775.1L118.8 775.4L117.6 774.2L116.0 773.9Z" fill="#412dbd" stroke="#412dbd" stroke-width="0.5"/>
<path d="M120.1 776.4L121.7 776.6L120.4 775.5L118.8 775.4Z" fill="#402ab5" stroke="#402ab5" stroke-width="0.5"/>
<path d="M122.9 777.5L124.5 777.5L123.3 776.6L121.7 776.6Z" fill="#3f28af" stroke="#3f28af" stroke-width="0.5"/>
<path d="M125.8 778.3L127.4 778.1L126.1 777.4L124.5 777.5Z" fill="#3e27ab" stroke="#3e27ab" stroke-width="0.5"/>
<path d="M128.6 778.7L130.2 778.5L129.0 777.8L127.4 778.1Z" fill="#3e27a9" stroke="#3e27a9" stroke-width="0.5"/>
<path d="M131.4 778.9L133.0 778.5L131.8 778.0L130.2 778.5Z" fill="#3e27a9" stroke="#3e27a9" stroke-width="0.5"/>
<path d="M134.3 778.8L135.9 778.2L134.6 777.9L133.0 778.5Z" fill="#3e27ab" stroke="#3e27ab" stroke-width="0.5"/>
<path d="M137.1 778.4L138.7 777.7L137.5 777.5L135.9 778.2Z" fill="#3f28af" stroke="#3f28af" stroke-width="0.5"/>
<path d="M140.0 777.8L141.6 776.9L140.3 776.8L138.7 777.7Z" fill="#402ab5" stroke="#402ab5" stroke-width="0.5"/>
<path d="M142.8 776.8L144.4 775.8L143.1 775.9L141.6 776.9Z" fill="#412dbd" stroke="#412dbd" stroke-width="0.5"/>
<path d="M145.6 775.5L147.2 774.4L146.0 774.6L144.4 775.8Z" fill="#4331c8" stroke="#4331c8" stroke-width="0.5"/>
<path d="M148.5 774.0L150.1 772.7L148.8 773.1L147.2 774.4Z" fill="#4536d5" stroke="#4536d5" stroke-width="0.5"/>
<path d="M151.3 772.1L152.9 770.7L151.7 771.2L150.1 772.7Z" fill="#473ee1" stroke="#473ee1" stroke-width="0.5"/>
<path d="M154.2 770.0L155.8 768.4L154.5 769.1L152.9 770.7Z" fill="#4848ec" stroke="#4848ec" stroke-width="0.5"/>
<path d="M157.0 767.6L158.6 765.9L157.3 766.7L155.8 768.4Z" fill="#4854f5" stroke="#4854f5" stroke-width="0.5"/>
<path d="M159.8 764.9L161.4 763.0L160.2 764.0L158.6 765.9Z" fill="#4561fc" stroke="#4561fc" stroke-width="0.5"/>
<path d="M162.7 761.9L164.3 759.9L163.0 761.0L161.4 763.0Z" fill="#3c71ff" stroke="#3c71ff" stroke-width="0.5"/>
<path d="M165.5 758.6L167.1 756.4L165.9 757.7L164.3 759.9Z" fill="#2e83f9" stroke="#2e83f9" stroke-width="0.5"/>
<path d="M168.3 755.0L169.9 752.7L168.7 754.1L167.1 756.4Z" fill="#2995ec" stroke="#2995ec" stroke-width="0.5"/>
<path d="M171.2 751.2L172.8 748.7L171.5 750.3L169.9 752.7Z" fill="#1fa6e2" stroke="#1fa6e2" stroke-width="0.5"/>
<path d="M174.0 747.0L175.6 744.4L174.4 746.1L172.8 748.7Z" fill="#05b6ce" stroke="#05b6ce" stroke-width="0.5"/>
<path d="M176.9 742.6L178.5 739.8L177.2 741.7L175.6 744.4Z" fill="#20c1b1" stroke="#20c1b1" stroke-width="0.5"/>
<path d="M179.7 737.8L181.3 734.9L180.1 736.9L178.5 739.8Z" fill="#43ca8a" stroke="#43ca8a" stroke-width="0.5"/>
<path d="M182.5 732.8L184.1 729.8L182.9 731.9L181.3 734.9Z" fill="#87cb54" stroke="#87cb54" stroke-width="0.5"/>
<path d="M185.4 727.5L187.0 724.3L185.7 726.6L184.1 729.8Z" fill="#d0bf27" stroke="#d0bf27" stroke-width="0.5"/>
<path d="M188.2 721.9L189.8 718.6L188.6 721.0L187.0 724.3Z" fill="#fec239" stroke="#fec239" stroke-width="0.5"/>
<path d="M73.1 717.6L74.7 720.2L73.4 716.9L71.8 714.3Z" fill="#efba35" stroke="#efba35" stroke-width="0.5"/>
<path d="M75.9 723.5L77.5 725.9L76.3 722.7L74.7 720.2Z" fill="#b0c636" stroke="#b0c636" stroke-width="0.5"/>
<path d="M78.8 729.0L80.4 731.3L79.1 728.2L77.5 725.9Z" fill="#64cd6e" stroke="#64cd6e" stroke-width="0.5"/>
<path d="M81.6 734.3L83.2 736.4L81.9 733.5L80.4 731.3Z" fill="#32c69e" stroke="#32c69e" stroke-width="0.5"/>
<path d="M84.4 739.2L86.0 741.2L84.8 738.5L83.2 736.4Z" fill="#07bcbf" stroke="#07bcbf" stroke-width="0.5"/>
<path d="M87.3 743.9L88.9 745.8L87.6 743.1L86.0 741.2Z" fill="#15afd9" stroke="#15afd9" stroke-width="0.5"/>
<path d="M90.1 748.3L91.7 750.0L90.5 747.5L88.9 745.8Z" fill="#249ee6" stroke="#249ee6" stroke-width="0.5"/>
<path d="M93.0 752.4L94.5 754.0L93.3 751.6L91.7 750.0Z" fill="#2d8df2" stroke="#2d8df2" stroke-width="0.5"/>
<path d="M95.8 756.2L97.4 757.6L96.1 755.4L94.5 754.0Z" fill="#337bfc" stroke="#337bfc" stroke-width="0.5"/>
<path d="M98.6 759.7L100.2 761.0L99.0 758.9L97.4 757.6Z" fill="#426afe" stroke="#426afe" stroke-width="0.5"/>
<path d="M101.5 762.9L103.1 764.1L101.8 762.1L100.2 761.0Z" fill="#475bf9" stroke="#475bf9" stroke-width="0.5"/>
<path d="M104.3 765.8L105.9 766.8L104.7 765.1L103.1 764.1Z" fill="#484ff1" stroke="#484ff1" stroke-width="0.5"/>
<path d="M107.1 768.5L108.7 769.3L107.5 767.7L105.9 766.8Z" fill="#4744e8" stroke="#4744e8" stroke-width="0.5"/>
<path d="M110.0 770.8L111.6 771.6L110.3 770.1L108.7 769.3Z" fill="#463bdc" stroke="#463bdc" stroke-width="0.5"/>
<path d="M112.8 772.9L114.4 773.5L113.2 772.1L111.6 771.6Z" fill="#4434cf" stroke="#4434cf" stroke-width="0.5"/>
<path d="M115.7 774.7L117.3 775.1L116.0 773.9L114.4 773.5Z" fill="#4230c3" stroke="#4230c3" stroke-width="0.5"/>
<path d="M118.5 776.2L120.1 776.4L118.8 775.4L117.3 775.1Z" fill="#412cba" stroke="#412cba" stroke-width="0.5"/>
<path d="M121.3 777.4L122.9 777.5L121.7 776.6L120.1 776.4Z" fill="#402ab3" stroke="#402ab3" stroke-width="0.5"/>
<path d="M124.2 778.3L125.8 778.3L124.5 777.5L122.9 777.5Z" fill="#3f28ae" stroke="#3f28ae" stroke-width="0.5"/>
<path d="M127.0 778.9L128.6 778.7L127.4 778.1L125.8 778.3Z" fill="#3e27ab" stroke="#3e27ab" stroke-width="0.5"/>
<path d="M129.9 779.2L131.4 778.9L130.2 778.5L128.6 778.7Z" fill="#3e27aa" stroke="#3e27aa" stroke-width="0.5"/>
<path d="M132.7 779.3L134.3 778.8L133.0 778.5L131.4 778.9Z" fill="#3e27ab" stroke="#3e27ab" stroke-width="0.5"/>
<path d="M135.5 779.0L137.1 778.4L135.9 778.2L134.3 778.8Z" fill="#3f28ae" stroke="#3f28ae" stroke-width="0.5"/>
<path d="M138.4 778.5L140.0 777.8L138.7 777.7L137.1 778.4Z" fill="#402ab3" stroke="#402ab3" stroke-width="0.5"/>
<path d="M141.2 777.6L142.8 776.8L141.6 776.9L140.0 777.8Z" fill="#412cba" stroke="#412cba" stroke-width="0.5"/>
<path d="M144.0 776.5L145.6 775.5L144.4 775.8L142.8 776.8Z" fill="#4230c3" stroke="#4230c3" stroke-width="0.5"/>
<path d="M146.9 775.1L148.5 774.0L147.2 774.4L145.6 775.5Z" fill="#4434cf" stroke="#4434cf" stroke-width="0.5"/>
<path d="M149.7 773.4L151.3 772.1L150.1 772.7L148.5 774.0Z" fill="#463bdc" stroke="#463bdc" stroke-width="0.5"/>
<path d="M152.6 771.5L154.2 770.0L152.9 770.7L151.3 772.1Z" fill="#4744e8" stroke="#4744e8" stroke-width="0.5"/>
<path d="M155.4 769.2L157.0 767.6L155.8 768.4L154.2 770.0Z" fill="#484ff1" stroke="#484ff1" stroke-width="0.5"/>
<path d="M158.2 766.6L159.8 764.9L158.6 765.9L157.0 767.6Z" fill="#475bf9" stroke="#475bf9" stroke-width="0.5"/>
<path d="M161.1 763.8L162.7 761.9L161.4 763.0L159.8 764.9Z" fill="#426afe" stroke="#426afe" stroke-width="0.5"/>
<path d="M163.9 760.6L165.5 758.6L164.3 759.9L162.7 761.9Z" fill="#337bfc" stroke="#337bfc" stroke-width="0.5"/>
<path d="M166.8 757.2L168.3 755.0L167.1 756.4L165.5 758.6Z" fill="#2d8df2" stroke="#2d8df2" stroke-width="0.5"/>
<path d="M169.6 753.5L171.2 751.2L169.9 752.7L168.3 755.0Z" fill="#249ee6" stroke="#249ee6" stroke-width="0.5"/>
<path d="M172.4 749.5L174.0 747.0L172.8 748.7L171.2 751.2Z" fill="#15afd9" stroke="#15afd9" stroke-width="0.5"/>
<path d="M175.3 745.2L176.9 742.6L175.6 744.4L174.0 747.0Z" fill="#07bcbf" stroke="#07bcbf" stroke-width="0.5"/>
<path d="M178.1 740.6L179.7 737.8L178.5 739.8L176.9 742.6Z" fill="#32c69e" stroke="#32c69e" stroke-width="0.5"/>
<path d="M180.9 735.7L182.5 732.8L181.3 734.9L179.7 737.8Z" fill="#64cd6e" stroke="#64cd6e" stroke-width="0.5"/>
<path d="M183.8 730.5L185.4 727.5L184.1 729.8L182.5 732.8Z" fill="#b0c636" stroke="#b0c636" stroke-width="0.5"/>
<path d="M186.6 725.1L188.2 721.9L187.0 724.3L185.4 727.5Z" fill="#efba35" stroke="#efba35" stroke-width="0.5"/>
<path d="M74.3 720.9L75.9 723.5L74.7 720.2L73.1 717.6Z" fill="#d5be28" stroke="#d5be28" stroke-width="0.5"/>
<path d="M77.2 726.5L78.8 729.0L77.5 725.9L75.9 723.5Z" fill="#8ecb4f" stroke="#8ecb4f" stroke-width="0.5"/>
<path d="M80.0 731.9L81.6 734.3L80.4 731.3L78.8 729.0Z" fill="#48cb86" stroke="#48cb86" stroke-width="0.5"/>
<path d="M82.8 737.0L84.4 739.2L83.2 736.4L81.6 734.3Z" fill="#25c2ae" stroke="#25c2ae" stroke-width="0.5"/>
<path d="M85.7 741.9L87.3 743.9L86.0 741.2L84.4 739.2Z" fill="#03b7cc" stroke="#03b7cc" stroke-width="0.5"/>
<path d="M88.5 746.4L90.1 748.3L88.9 745.8L87.3 743.9Z" fill="#1da8e0" stroke="#1da8e0" stroke-width="0.5"/>
<path d="M91.4 750.6L93.0 752.4L91.7 750.0L90.1 748.3Z" fill="#2797eb" stroke="#2797eb" stroke-width="0.5"/>
<path d="M94.2 754.6L95.8 756.2L94.5 754.0L93.0 752.4Z" fill="#2e85f8" stroke="#2e85f8" stroke-width="0.5"/>
<path d="M97.0 758.2L98.6 759.7L97.4 757.6L95.8 756.2Z" fill="#3a73fe" stroke="#3a73fe" stroke-width="0.5"/>
<path d="M99.9 761.6L101.5 762.9L100.2 761.0L98.6 759.7Z" fill="#4563fd" stroke="#4563fd" stroke-width="0.5"/>
<path d="M102.7 764.7L104.3 765.8L103.1 764.1L101.5 762.9Z" fill="#4756f6" stroke="#4756f6" stroke-width="0.5"/>
<path d="M105.6 767.5L107.1 768.5L105.9 766.8L104.3 765.8Z" fill="#484aee" stroke="#484aee" stroke-width="0.5"/>
<path d="M108.4 770.0L110.0 770.8L108.7 769.3L107.1 768.5Z" fill="#4740e4" stroke="#4740e4" stroke-width="0.5"/>
<path d="M111.2 772.2L112.8 772.9L111.6 771.6L110.0 770.8Z" fill="#4538d8" stroke="#4538d8" stroke-width="0.5"/>
<path d="M114.1 774.1L115.7 774.7L114.4 773.5L112.8 772.9Z" fill="#4433cb" stroke="#4433cb" stroke-width="0.5"/>
<path d="M116.9 775.7L118.5 776.2L117.3 775.1L115.7 774.7Z" fill="#422fc0" stroke="#422fc0" stroke-width="0.5"/>
<path d="M119.7 777.1L121.3 777.4L120.1 776.4L118.5 776.2Z" fill="#402bb8" stroke="#402bb8" stroke-width="0.5"/>
<path d="M122.6 778.1L124.2 778.3L122.9 777.5L121.3 777.4Z" fill="#3f29b2" stroke="#3f29b2" stroke-width="0.5"/>
<path d="M125.4 778.9L127.0 778.9L125.8 778.3L124.2 778.3Z" fill="#3f28ae" stroke="#3f28ae" stroke-width="0.5"/>
<path d="M128.3 779.4L129.9 779.2L128.6 778.7L127.0 778.9Z" fill="#3e27ac" stroke="#3e27ac" stroke-width="0.5"/>
<path d="M131.1 779.5L132.7 779.3L131.4 778.9L129.9 779.2Z" fill="#3e27ac" stroke="#3e27ac" stroke-width="0.5"/>
<path d="M133.9 779.4L135.5 779.0L134.3 778.8L132.7 779.3Z" fill="#3f28ae" stroke="#3f28ae" stroke-width="0.5"/>
<path d="M136.8 779.1L138.4 778.5L137.1 778.4L135.5 779.0Z" fill="#3f29b2" stroke="#3f29b2" stroke-width="0.5"/>
<path d="M139.6 778.4L141.2 777.6L140.0 777.8L138.4 778.5Z" fill="#402bb8" stroke="#402bb8" stroke-width="0.5"/>
<path d="M142.5 777.4L144.0 776.5L142.8 776.8L141.2 777.6Z" fill="#422fc0" stroke="#422fc0" stroke-width="0.5"/>
<path d="M145.3 776.1L146.9 775.1L145.6 775.5L144.0 776.5Z" fill="#4433cb" stroke="#4433cb" stroke-width="0.5"/>
<path d="M148.1 774.6L149.7 773.4L148.5 774.0L146.9 775.1Z" fill="#4538d8" stroke="#4538d8" stroke-width="0.5"/>
<path d="M151.0 772.8L152.6 771.5L151.3 772.1L149.7 773.4Z" fill="#4740e4" stroke="#4740e4" stroke-width="0.5"/>
<path d="M153.8 770.6L155.4 769.2L154.2 770.0L152.6 771.5Z" fill="#484aee" stroke="#484aee" stroke-width="0.5"/>
<path d="M156.6 768.2L158.2 766.6L157.0 767.6L155.4 769.2Z" fill="#4756f6" stroke="#4756f6" stroke-width="0.5"/>
<path d="M159.5 765.5L161.1 763.8L159.8 764.9L158.2 766.6Z" fill="#4563fd" stroke="#4563fd" stroke-width="0.5"/>
<path d="M162.3 762.5L163.9 760.6L162.7 761.9L161.1 763.8Z" fill="#3a73fe" stroke="#3a73fe" stroke-width="0.5"/>
<path d="M165.2 759.2L166.8 757.2L165.5 758.6L163.9 760.6Z" fill="#2e85f8" stroke="#2e85f8" stroke-width="0.5"/>
<path d="M168.0 755.7L169.6 753.5L168.3 755.0L166.8 757.2Z" fill="#2797eb" stroke="#2797eb" stroke-width="0.5"/>
<path d="M170.8 751.8L172.4 749.5L171.2 751.2L169.6 753.5Z" fill="#1da8e0" stroke="#1da8e0" stroke-width="0.5"/>
<path d="M173.7 747.6L175.3 745.2L174.0 747.0L172.4 749.5Z" fill="#03b7cc" stroke="#03b7cc" stroke-width="0.5"/>
<path d="M176.5 743.2L178.1 740.6L176.9 742.6L175.3 745.2Z" fill="#25c2ae" stroke="#25c2ae" stroke-width="0.5"/>
<path d="M179.4 738.5L180.9 735.7L179.7 737.8L178.1 740.6Z" fill="#48cb86" stroke="#48cb86" stroke-width="0.5"/>
<path d="M182.2 733.4L183.8 730.5L182.5 732.8L180.9 735.7Z" fill="#8ecb4f" stroke="#8ecb4f" stroke-width="0.5"/>
<path d="M185.0 728.1L186.6 725.1L185.4 727.5L183.8 730.5Z" fill="#d5be28" stroke="#d5be28" stroke-width="0.5"/>
<path d="M75.6 723.9L77.2 726.5L75.9 723.5L74.3 720.9Z" fill="#b7c532" stroke="#b7c532" stroke-width="0.5"/>
<path d="M78.4 729.5L80.0 731.9L78.8 729.0L77.2 726.5Z" fill="#6ccd68" stroke="#6ccd68" stroke-width="0.5"/>
<path d="M81.2 734.7L82.8 737.0L81.6 734.3L80.0 731.9Z" fill="#35c799" stroke="#35c799" stroke-width="0.5"/>
<path d="M84.1 739.7L85.7 741.9L84.4 739.2L82.8 737.0Z" fill="#0dbdbb" stroke="#0dbdbb" stroke-width="0.5"/>
<path d="M86.9 744.4L88.5 746.4L87.3 743.9L85.7 741.9Z" fill="#12b1d6" stroke="#12b1d6" stroke-width="0.5"/>
<path d="M89.8 748.8L91.4 750.6L90.1 748.3L88.5 746.4Z" fill="#23a1e5" stroke="#23a1e5" stroke-width="0.5"/>
<path d="M92.6 752.8L94.2 754.6L93.0 752.4L91.4 750.6Z" fill="#2c8ff0" stroke="#2c8ff0" stroke-width="0.5"/>
<path d="M95.4 756.6L97.0 758.2L95.8 756.2L94.2 754.6Z" fill="#317efb" stroke="#317efb" stroke-width="0.5"/>
<path d="M98.3 760.2L99.9 761.6L98.6 759.7L97.0 758.2Z" fill="#406dfe" stroke="#406dfe" stroke-width="0.5"/>
<path d="M101.1 763.4L102.7 764.7L101.5 762.9L99.9 761.6Z" fill="#465efb" stroke="#465efb" stroke-width="0.5"/>
<path d="M104.0 766.3L105.6 767.5L104.3 765.8L102.7 764.7Z" fill="#4851f3" stroke="#4851f3" stroke-width="0.5"/>
<path d="M106.8 769.0L108.4 770.0L107.1 768.5L105.6 767.5Z" fill="#4746ea" stroke="#4746ea" stroke-width="0.5"/>
<path d="M109.6 771.3L111.2 772.2L110.0 770.8L108.4 770.0Z" fill="#463de0" stroke="#463de0" stroke-width="0.5"/>
<path d="M112.5 773.4L114.1 774.1L112.8 772.9L111.2 772.2Z" fill="#4536d4" stroke="#4536d4" stroke-width="0.5"/>
<path d="M115.3 775.1L116.9 775.7L115.7 774.7L114.1 774.1Z" fill="#4331c8" stroke="#4331c8" stroke-width="0.5"/>
<path d="M118.2 776.6L119.7 777.1L118.5 776.2L116.9 775.7Z" fill="#412ebe" stroke="#412ebe" stroke-width="0.5"/>
<path d="M121.0 777.8L122.6 778.1L121.3 777.4L119.7 777.1Z" fill="#402bb7" stroke="#402bb7" stroke-width="0.5"/>
<path d="M123.8 778.7L125.4 778.9L124.2 778.3L122.6 778.1Z" fill="#3f29b2" stroke="#3f29b2" stroke-width="0.5"/>
<path d="M126.7 779.4L128.3 779.4L127.0 778.9L125.4 778.9Z" fill="#3f28af" stroke="#3f28af" stroke-width="0.5"/>
<path d="M129.5 779.7L131.1 779.5L129.9 779.2L128.3 779.4Z" fill="#3f28ae" stroke="#3f28ae" stroke-width="0.5"/>
<path d="M132.3 779.7L133.9 779.4L132.7 779.3L131.1 779.5Z" fill="#3f28af" stroke="#3f28af" stroke-width="0.5"/>
<path d="M135.2 779.5L136.8 779.1L135.5 779.0L133.9 779.4Z" fill="#3f29b2" stroke="#3f29b2" stroke-width="0.5"/>
<path d="M138.0 778.9L139.6 778.4L138.4 778.5L136.8 779.1Z" fill="#402bb7" stroke="#402bb7" stroke-width="0.5"/>
<path d="M140.9 778.1L142.5 777.4L141.2 777.6L139.6 778.4Z" fill="#412ebe" stroke="#412ebe" stroke-width="0.5"/>
<path d="M143.7 777.0L145.3 776.1L144.0 776.5L142.5 777.4Z" fill="#4331c8" stroke="#4331c8" stroke-width="0.5"/>
<path d="M146.5 775.6L148.1 774.6L146.9 775.1L145.3 776.1Z" fill="#4536d4" stroke="#4536d4" stroke-width="0.5"/>
<path d="M149.4 773.9L151.0 772.8L149.7 773.4L148.1 774.6Z" fill="#463de0" stroke="#463de0" stroke-width="0.5"/>
<path d="M152.2 771.9L153.8 770.6L152.6 771.5L151.0 772.8Z" fill="#4746ea" stroke="#4746ea" stroke-width="0.5"/>
<path d="M155.1 769.7L156.6 768.2L155.4 769.2L153.8 770.6Z" fill="#4851f3" stroke="#4851f3" stroke-width="0.5"/>
<path d="M157.9 767.1L159.5 765.5L158.2 766.6L156.6 768.2Z" fill="#465efb" stroke="#465efb" stroke-width="0.5"/>
<path d="M160.7 764.3L162.3 762.5L161.1 763.8L159.5 765.5Z" fill="#406dfe" stroke="#406dfe" stroke-width="0.5"/>
<path d="M163.6 761.1L165.2 759.2L163.9 760.6L162.3 762.5Z" fill="#317efb" stroke="#317efb" stroke-width="0.5"/>
<path d="M166.4 757.7L168.0 755.7L166.8 757.2L165.2 759.2Z" fill="#2c8ff0" stroke="#2c8ff0" stroke-width="0.5"/>
<path d="M169.2 754.0L170.8 751.8L169.6 753.5L168.0 755.7Z" fill="#23a1e5" stroke="#23a1e5" stroke-width="0.5"/>
<path d="M172.1 750.0L173.7 747.6L172.4 749.5L170.8 751.8Z" fill="#12b1d6" stroke="#12b1d6" stroke-width="0.5"/>
<path d="M174.9 745.7L176.5 743.2L175.3 745.2L173.7 747.6Z" fill="#0dbdbb" stroke="#0dbdbb" stroke-width="0.5"/>
<path d="M177.8 741.1L179.4 738.5L178.1 740.6L176.5 743.2Z" fill="#35c799" stroke="#35c799" stroke-width="0.5"/>
<path d="M180.6 736.2L182.2 733.4L180.9 735.7L179.4 738.5Z" fill="#6ccd68" stroke="#6ccd68" stroke-width="0.5"/>
<path d="M183.4 731.0L185.0 728.1L183.8 730.5L182.2 733.4Z" fill="#b7c532" stroke="#b7c532" stroke-width="0.5"/>
<path d="M76.8 726.9L78.4 729.5L77.2 726.5L75.6 723.9Z" fill="#98ca47" stroke="#98ca47" stroke-width="0.5"/>
<path d="M79.7 732.3L81.2 734.7L80.0 731.9L78.4 729.5Z" fill="#50cc7f" stroke="#50cc7f" stroke-width="0.5"/>
<path d="M82.5 737.4L84.1 739.7L82.8 737.0L81.2 734.7Z" fill="#2ac3a9" stroke="#2ac3a9" stroke-width="0.5"/>
<path d="M85.3 742.2L86.9 744.4L85.7 741.9L84.1 739.7Z" fill="#01b9c7" stroke="#01b9c7" stroke-width="0.5"/>
<path d="M88.2 746.7L89.8 748.8L88.5 746.4L86.9 744.4Z" fill="#1babde" stroke="#1babde" stroke-width="0.5"/>
<path d="M91.0 751.0L92.6 752.8L91.4 750.6L89.8 748.8Z" fill="#269ae9" stroke="#269ae9" stroke-width="0.5"/>
<path d="M93.8 754.9L95.4 756.6L94.2 754.6L92.6 752.8Z" fill="#2d89f6" stroke="#2d89f6" stroke-width="0.5"/>
<path d="M96.7 758.6L98.3 760.2L97.0 758.2L95.4 756.6Z" fill="#3677fe" stroke="#3677fe" stroke-width="0.5"/>
<path d="M99.5 761.9L101.1 763.4L99.9 761.6L98.3 760.2Z" fill="#4367fd" stroke="#4367fd" stroke-width="0.5"/>
<path d="M102.4 765.0L104.0 766.3L102.7 764.7L101.1 763.4Z" fill="#4759f8" stroke="#4759f8" stroke-width="0.5"/>
<path d="M105.2 767.8L106.8 769.0L105.6 767.5L104.0 766.3Z" fill="#484df1" stroke="#484df1" stroke-width="0.5"/>
<path d="M108.0 770.3L109.6 771.3L108.4 770.0L106.8 769.0Z" fill="#4743e7" stroke="#4743e7" stroke-width="0.5"/>
<path d="M110.9 772.5L112.5 773.4L111.2 772.2L109.6 771.3Z" fill="#463bdc" stroke="#463bdc" stroke-width="0.5"/>
<path d="M113.7 774.4L115.3 775.1L114.1 774.1L112.5 773.4Z" fill="#4435d0" stroke="#4435d0" stroke-width="0.5"/>
<path d="M116.6 776.1L118.2 776.6L116.9 775.7L115.3 775.1Z" fill="#4330c5" stroke="#4330c5" stroke-width="0.5"/>
<path d="M119.4 777.4L121.0 777.8L119.7 777.1L118.2 776.6Z" fill="#412dbd" stroke="#412dbd" stroke-width="0.5"/>
<path d="M122.2 778.4L123.8 778.7L122.6 778.1L121.0 777.8Z" fill="#402bb7" stroke="#402bb7" stroke-width="0.5"/>
<path d="M125.1 779.2L126.7 779.4L125.4 778.9L123.8 778.7Z" fill="#402ab3" stroke="#402ab3" stroke-width="0.5"/>
<path d="M127.9 779.7L129.5 779.7L128.3 779.4L126.7 779.4Z" fill="#3f29b1" stroke="#3f29b1" stroke-width="0.5"/>
<path d="M130.8 779.9L132.3 779.7L131.1 779.5L129.5 779.7Z" fill="#3f29b1" stroke="#3f29b1" stroke-width="0.5"/>
<path d="M133.6 779.8L135.2 779.5L133.9 779.4L132.3 779.7Z" fill="#402ab3" stroke="#402ab3" stroke-width="0.5"/>
<path d="M136.4 779.4L138.0 778.9L136.8 779.1L135.2 779.5Z" fill="#402bb7" stroke="#402bb7" stroke-width="0.5"/>
<path d="M139.3 778.7L140.9 778.1L139.6 778.4L138.0 778.9Z" fill="#412dbd" stroke="#412dbd" stroke-width="0.5"/>
<path d="M142.1 777.7L143.7 777.0L142.5 777.4L140.9 778.1Z" fill="#4330c5" stroke="#4330c5" stroke-width="0.5"/>
<path d="M144.9 776.5L146.5 775.6L145.3 776.1L143.7 777.0Z" fill="#4435d0" stroke="#4435d0" stroke-width="0.5"/>
<path d="M147.8 774.9L149.4 773.9L148.1 774.6L146.5 775.6Z" fill="#463bdc" stroke="#463bdc" stroke-width="0.5"/>
<path d="M150.6 773.1L152.2 771.9L151.0 772.8L149.4 773.9Z" fill="#4743e7" stroke="#4743e7" stroke-width="0.5"/>
<path d="M153.5 771.0L155.1 769.7L153.8 770.6L152.2 771.9Z" fill="#484df1" stroke="#484df1" stroke-width="0.5"/>
<path d="M156.3 768.6L157.9 767.1L156.6 768.2L155.1 769.7Z" fill="#4759f8" stroke="#4759f8" stroke-width="0.5"/>
<path d="M159.1 765.9L160.7 764.3L159.5 765.5L157.9 767.1Z" fill="#4367fd" stroke="#4367fd" stroke-width="0.5"/>
<path d="M162.0 762.9L163.6 761.1L162.3 762.5L160.7 764.3Z" fill="#3677fe" stroke="#3677fe" stroke-width="0.5"/>
<path d="M164.8 759.6L166.4 757.7L165.2 759.2L163.6 761.1Z" fill="#2d89f6" stroke="#2d89f6" stroke-width="0.5"/>
<path d="M167.7 756.0L169.2 754.0L168.0 755.7L166.4 757.7Z" fill="#269ae9" stroke="#269ae9" stroke-width="0.5"/>
<path d="M170.5 752.1L172.1 750.0L170.8 751.8L169.2 754.0Z" fill="#1babde" stroke="#1babde" stroke-width="0.5"/>
<path d="M173.3 748.0L174.9 745.7L173.7 747.6L172.1 750.0Z" fill="#01b9c7" stroke="#01b9c7" stroke-width="0.5"/>
<path d="M176.2 743.5L177.8 741.1L176.5 743.2L174.9 745.7Z" fill="#2ac3a9" stroke="#2ac3a9" stroke-width="0.5"/>
<path d="M179.0 738.8L180.6 736.2L179.4 738.5L177.8 741.1Z" fill="#50cc7f" stroke="#50cc7f" stroke-width="0.5"/>
<path d="M181.8 733.8L183.4 731.0L182.2 733.4L180.6 736.2Z" fill="#98ca47" stroke="#98ca47" stroke-width="0.5"/>
<path d="M78.1 729.7L79.7 732.3L78.4 729.5L76.8 726.9Z" fill="#79cc5f" stroke="#79cc5f" stroke-width="0.5"/>
<path d="M80.9 734.9L82.5 737.4L81.2 734.7L79.7 732.3Z" fill="#3bc992" stroke="#3bc992" stroke-width="0.5"/>
<path d="M83.7 739.9L85.3 742.2L84.1 739.7L82.5 737.4Z" fill="#18bfb6" stroke="#18bfb6" stroke-width="0.5"/>
<path d="M86.6 744.6L88.2 746.7L86.9 744.4L85.3 742.2Z" fill="#0ab4d2" stroke="#0ab4d2" stroke-width="0.5"/>
<path d="M89.4 748.9L91.0 751.0L89.8 748.8L88.2 746.7Z" fill="#20a4e3" stroke="#20a4e3" stroke-width="0.5"/>
<path d="M92.3 753.0L93.8 754.9L92.6 752.8L91.0 751.0Z" fill="#2a93ed" stroke="#2a93ed" stroke-width="0.5"/>
<path d="M95.1 756.8L96.7 758.6L95.4 756.6L93.8 754.9Z" fill="#2f82f9" stroke="#2f82f9" stroke-width="0.5"/>
<path d="M97.9 760.4L99.5 761.9L98.3 760.2L96.7 758.6Z" fill="#3c71ff" stroke="#3c71ff" stroke-width="0.5"/>
<path d="M100.8 763.6L102.4 765.0L101.1 763.4L99.5 761.9Z" fill="#4562fc" stroke="#4562fc" stroke-width="0.5"/>
<path d="M103.6 766.5L105.2 767.8L104.0 766.3L102.4 765.0Z" fill="#4755f6" stroke="#4755f6" stroke-width="0.5"/>
<path d="M106.5 769.1L108.0 770.3L106.8 769.0L105.2 767.8Z" fill="#484aee" stroke="#484aee" stroke-width="0.5"/>
<path d="M109.3 771.5L110.9 772.5L109.6 771.3L108.0 770.3Z" fill="#4740e4" stroke="#4740e4" stroke-width="0.5"/>
<path d="M112.1 773.6L113.7 774.4L112.5 773.4L110.9 772.5Z" fill="#4639d9" stroke="#4639d9" stroke-width="0.5"/>
<path d="M115.0 775.3L116.6 776.1L115.3 775.1L113.7 774.4Z" fill="#4434ce" stroke="#4434ce" stroke-width="0.5"/>
<path d="M117.8 776.8L119.4 777.4L118.2 776.6L116.6 776.1Z" fill="#4230c4" stroke="#4230c4" stroke-width="0.5"/>
<path d="M120.6 778.0L122.2 778.4L121.0 777.8L119.4 777.4Z" fill="#412dbd" stroke="#412dbd" stroke-width="0.5"/>
<path d="M123.5 778.9L125.1 779.2L123.8 778.7L122.2 778.4Z" fill="#402bb8" stroke="#402bb8" stroke-width="0.5"/>
<path d="M126.3 779.5L127.9 779.7L126.7 779.4L125.1 779.2Z" fill="#402ab5" stroke="#402ab5" stroke-width="0.5"/>
<path d="M129.2 779.9L130.8 779.9L129.5 779.7L127.9 779.7Z" fill="#402ab4" stroke="#402ab4" stroke-width="0.5"/>
<path d="M132.0 779.9L133.6 779.8L132.3 779.7L130.8 779.9Z" fill="#402ab5" stroke="#402ab5" stroke-width="0.5"/>
<path d="M134.8 779.7L136.4 779.4L135.2 779.5L133.6 779.8Z" fill="#402bb8" stroke="#402bb8" stroke-width="0.5"/>
<path d="M137.7 779.1L139.3 778.7L138.0 778.9L136.4 779.4Z" fill="#412dbd" stroke="#412dbd" stroke-width="0.5"/>
<path d="M140.5 778.3L142.1 777.7L140.9 778.1L139.3 778.7Z" fill="#4230c4" stroke="#4230c4" stroke-width="0.5"/>
<path d="M143.4 777.2L144.9 776.5L143.7 777.0L142.1 777.7Z" fill="#4434ce" stroke="#4434ce" stroke-width="0.5"/>
<path d="M146.2 775.8L147.8 774.9L146.5 775.6L144.9 776.5Z" fill="#4639d9" stroke="#4639d9" stroke-width="0.5"/>
<path d="M149.0 774.1L150.6 773.1L149.4 773.9L147.8 774.9Z" fill="#4740e4" stroke="#4740e4" stroke-width="0.5"/>
<path d="M151.9 772.1L153.5 771.0L152.2 771.9L150.6 773.1Z" fill="#484aee" stroke="#484aee" stroke-width="0.5"/>
<path d="M154.7 769.9L156.3 768.6L155.1 769.7L153.5 771.0Z" fill="#4755f6" stroke="#4755f6" stroke-width="0.5"/>
<path d="M157.5 767.3L159.1 765.9L157.9 767.1L156.3 768.6Z" fill="#4562fc" stroke="#4562fc" stroke-width="0.5"/>
<path d="M160.4 764.5L162.0 762.9L160.7 764.3L159.1 765.9Z" fill="#3c71ff" stroke="#3c71ff" stroke-width="0.5"/>
<path d="M163.2 761.3L164.8 759.6L163.6 761.1L162.0 762.9Z" fill="#2f82f9" stroke="#2f82f9" stroke-width="0.5"/>
<path d="M166.1 757.9L167.7 756.0L166.4 757.7L164.8 759.6Z" fill="#2a93ed" stroke="#2a93ed" stroke-width="0.5"/>
<path d="M168.9 754.2L170.5 752.1L169.2 754.0L167.7 756.0Z" fill="#20a4e3" stroke="#20a4e3" stroke-width="0.5"/>
<path d="M171.7 750.2L173.3 748.0L172.1 750.0L170.5 752.1Z" fill="#0ab4d2" stroke="#0ab4d2" stroke-width="0.5"/>
<path d="M174.6 745.9L176.2 743.5L174.9 745.7L173.3 748.0Z" fill="#18bfb6" stroke="#18bfb6" stroke-width="0.5"/>
<path d="M177.4 741.3L179.0 738.8L177.8 741.1L176.2 743.5Z" fill="#3bc992" stroke="#3bc992" stroke-width="0.5"/>
<path d="M180.3 736.4L181.8 733.8L180.6 736.2L179.0 738.8Z" fill="#79cc5f" stroke="#79cc5f" stroke-width="0.5"/>
<path d="M79.3 732.3L80.9 734.9L79.7 732.3L78.1 729.7Z" fill="#5dcc75" stroke="#5dcc75" stroke-width="0.5"/>
<path d="M82.1 737.4L83.7 739.9L82.5 737.4L80.9 734.9Z" fill="#30c5a2" stroke="#30c5a2" stroke-width="0.5"/>
<path d="M85.0 742.3L86.6 744.6L85.3 742.2L83.7 739.9Z" fill="#05bbc1" stroke="#05bbc1" stroke-width="0.5"/>
<path d="M87.8 746.8L89.4 748.9L88.2 746.7L86.6 744.6Z" fill="#16aeda" stroke="#16aeda" stroke-width="0.5"/>
<path d="M90.7 751.0L92.3 753.0L91.0 751.0L89.4 748.9Z" fill="#249ee6" stroke="#249ee6" stroke-width="0.5"/>
<path d="M93.5 755.0L95.1 756.8L93.8 754.9L92.3 753.0Z" fill="#2d8df2" stroke="#2d8df2" stroke-width="0.5"/>
<path d="M96.3 758.6L97.9 760.4L96.7 758.6L95.1 756.8Z" fill="#327dfc" stroke="#327dfc" stroke-width="0.5"/>
<path d="M99.2 762.0L100.8 763.6L99.5 761.9L97.9 760.4Z" fill="#416cfe" stroke="#416cfe" stroke-width="0.5"/>
<path d="M102.0 765.1L103.6 766.5L102.4 765.0L100.8 763.6Z" fill="#465efb" stroke="#465efb" stroke-width="0.5"/>
<path d="M104.9 767.8L106.5 769.1L105.2 767.8L103.6 766.5Z" fill="#4852f4" stroke="#4852f4" stroke-width="0.5"/>
<path d="M107.7 770.3L109.3 771.5L108.0 770.3L106.5 769.1Z" fill="#4747ec" stroke="#4747ec" stroke-width="0.5"/>
<path d="M110.5 772.6L112.1 773.6L110.9 772.5L109.3 771.5Z" fill="#473fe2" stroke="#473fe2" stroke-width="0.5"/>
<path d="M113.4 774.5L115.0 775.3L113.7 774.4L112.1 773.6Z" fill="#4538d7" stroke="#4538d7" stroke-width="0.5"/>
<path d="M116.2 776.1L117.8 776.8L116.6 776.1L115.0 775.3Z" fill="#4433cd" stroke="#4433cd" stroke-width="0.5"/>
<path d="M119.1 777.4L120.6 778.0L119.4 777.4L117.8 776.8Z" fill="#4230c4" stroke="#4230c4" stroke-width="0.5"/>
<path d="M121.9 778.5L123.5 778.9L122.2 778.4L120.6 778.0Z" fill="#412ebe" stroke="#412ebe" stroke-width="0.5"/>
<path d="M124.7 779.3L126.3 779.5L125.1 779.2L123.5 778.9Z" fill="#412cba" stroke="#412cba" stroke-width="0.5"/>
<path d="M127.6 779.7L129.2 779.9L127.9 779.7L126.3 779.5Z" fill="#402bb8" stroke="#402bb8" stroke-width="0.5"/>
<path d="M130.4 779.9L132.0 779.9L130.8 779.9L129.2 779.9Z" fill="#402bb8" stroke="#402bb8" stroke-width="0.5"/>
<path d="M133.2 779.8L134.8 779.7L133.6 779.8L132.0 779.9Z" fill="#412cba" stroke="#412cba" stroke-width="0.5"/>
<path d="M136.1 779.4L137.7 779.1L136.4 779.4L134.8 779.7Z" fill="#412ebe" stroke="#412ebe" stroke-width="0.5"/>
<path d="M138.9 778.7L140.5 778.3L139.3 778.7L137.7 779.1Z" fill="#4230c4" stroke="#4230c4" stroke-width="0.5"/>
<path d="M141.8 777.8L143.4 777.2L142.1 777.7L140.5 778.3Z" fill="#4433cd" stroke="#4433cd" stroke-width="0.5"/>
<path d="M144.6 776.5L146.2 775.8L144.9 776.5L143.4 777.2Z" fill="#4538d7" stroke="#4538d7" stroke-width="0.5"/>
<path d="M147.4 775.0L149.0 774.1L147.8 774.9L146.2 775.8Z" fill="#473fe2" stroke="#473fe2" stroke-width="0.5"/>
<path d="M150.3 773.1L151.9 772.1L150.6 773.1L149.0 774.1Z" fill="#4747ec" stroke="#4747ec" stroke-width="0.5"/>
<path d="M153.1 771.0L154.7 769.9L153.5 771.0L151.9 772.1Z" fill="#4852f4" stroke="#4852f4" stroke-width="0.5"/>
<path d="M156.0 768.6L157.5 767.3L156.3 768.6L154.7 769.9Z" fill="#465efb" stroke="#465efb" stroke-width="0.5"/>
<path d="M158.8 765.9L160.4 764.5L159.1 765.9L157.5 767.3Z" fill="#416cfe" stroke="#416cfe" stroke-width="0.5"/>
<path d="M161.6 762.9L163.2 761.3L162.0 762.9L160.4 764.5Z" fill="#327dfc" stroke="#327dfc" stroke-width="0.5"/>
<path d="M164.5 759.6L166.1 757.9L164.8 759.6L163.2 761.3Z" fill="#2d8df2" stroke="#2d8df2" stroke-width="0.5"/>
<path d="M167.3 756.0L168.9 754.2L167.7 756.0L166.1 757.9Z" fill="#249ee6" stroke="#249ee6" stroke-width="0.5"/>
<path d="M170.1 752.2L171.7 750.2L170.5 752.1L168.9 754.2Z" fill="#16aeda" stroke="#16aeda" stroke-width="0.5"/>
<path d="M173.0 748.0L174.6 745.9L173.3 748.0L171.7 750.2Z" fill="#05bbc1" stroke="#05bbc1" stroke-width="0.5"/>
<path d="M175.8 743.6L177.4 741.3L176.2 743.5L174.6 745.9Z" fill="#30c5a2" stroke="#30c5a2" stroke-width="0.5"/>
<path d="M178.7 738.8L180.3 736.4L179.0 738.8L177.4 741.3Z" fill="#5dcc75" stroke="#5dcc75" stroke-width="0.5"/>
<path d="M80.6 734.8L82.1 737.4L80.9 734.9L79.3 732.3Z" fill="#46cb88" stroke="#46cb88" stroke-width="0.5"/>
<path d="M83.4 739.8L85.0 742.3L83.7 739.9L82.1 737.4Z" fill="#24c2ae" stroke="#24c2ae" stroke-width="0.5"/>
<path d="M86.2 744.5L87.8 746.8L86.6 744.6L85.0 742.3Z" fill="#02b7cb" stroke="#02b7cb" stroke-width="0.5"/>
<path d="M89.1 748.9L90.7 751.0L89.4 748.9L87.8 746.8Z" fill="#1da9e0" stroke="#1da9e0" stroke-width="0.5"/>
<path d="M91.9 752.9L93.5 755.0L92.3 753.0L90.7 751.0Z" fill="#2698ea" stroke="#2698ea" stroke-width="0.5"/>
<path d="M94.7 756.7L96.3 758.6L95.1 756.8L93.5 755.0Z" fill="#2d88f6" stroke="#2d88f6" stroke-width="0.5"/>
<path d="M97.6 760.3L99.2 762.0L97.9 760.4L96.3 758.6Z" fill="#3777fe" stroke="#3777fe" stroke-width="0.5"/>
<path d="M100.4 763.5L102.0 765.1L100.8 763.6L99.2 762.0Z" fill="#4367fd" stroke="#4367fd" stroke-width="0.5"/>
<path d="M103.3 766.4L104.9 767.8L103.6 766.5L102.0 765.1Z" fill="#475af9" stroke="#475af9" stroke-width="0.5"/>
<path d="M106.1 769.1L107.7 770.3L106.5 769.1L104.9 767.8Z" fill="#484ff2" stroke="#484ff2" stroke-width="0.5"/>
<path d="M108.9 771.4L110.5 772.6L109.3 771.5L107.7 770.3Z" fill="#4745ea" stroke="#4745ea" stroke-width="0.5"/>
<path d="M111.8 773.5L113.4 774.5L112.1 773.6L110.5 772.6Z" fill="#463de0" stroke="#463de0" stroke-width="0.5"/>
<path d="M114.6 775.2L116.2 776.1L115.0 775.3L113.4 774.5Z" fill="#4537d7" stroke="#4537d7" stroke-width="0.5"/>
<path d="M117.5 776.7L119.1 777.4L117.8 776.8L116.2 776.1Z" fill="#4433cd" stroke="#4433cd" stroke-width="0.5"/>
<path d="M120.3 777.9L121.9 778.5L120.6 778.0L119.1 777.4Z" fill="#4330c5" stroke="#4330c5" stroke-width="0.5"/>
<path d="M123.1 778.8L124.7 779.3L123.5 778.9L121.9 778.5Z" fill="#422ec0" stroke="#422ec0" stroke-width="0.5"/>
<path d="M126.0 779.4L127.6 779.7L126.3 779.5L124.7 779.3Z" fill="#412dbd" stroke="#412dbd" stroke-width="0.5"/>
<path d="M128.8 779.8L130.4 779.9L129.2 779.9L127.6 779.7Z" fill="#412dbc" stroke="#412dbc" stroke-width="0.5"/>
<path d="M131.7 779.8L133.2 779.8L132.0 779.9L130.4 779.9Z" fill="#412dbd" stroke="#412dbd" stroke-width="0.5"/>
<path d="M134.5 779.6L136.1 779.4L134.8 779.7L133.2 779.8Z" fill="#422ec0" stroke="#422ec0" stroke-width="0.5"/>
<path d="M137.3 779.0L138.9 778.7L137.7 779.1L136.1 779.4Z" fill="#4330c5" stroke="#4330c5" stroke-width="0.5"/>
<path d="M140.2 778.2L141.8 777.8L140.5 778.3L138.9 778.7Z" fill="#4433cd" stroke="#4433cd" stroke-width="0.5"/>
<path d="M143.0 777.1L144.6 776.5L143.4 777.2L141.8 777.8Z" fill="#4537d7" stroke="#4537d7" stroke-width="0.5"/>
<path d="M145.8 775.7L147.4 775.0L146.2 775.8L144.6 776.5Z" fill="#463de0" stroke="#463de0" stroke-width="0.5"/>
<path d="M148.7 774.0L150.3 773.1L149.0 774.1L147.4 775.0Z" fill="#4745ea" stroke="#4745ea" stroke-width="0.5"/>
<path d="M151.5 772.0L153.1 771.0L151.9 772.1L150.3 773.1Z" fill="#484ff2" stroke="#484ff2" stroke-width="0.5"/>
<path d="M154.4 769.8L156.0 768.6L154.7 769.9L153.1 771.0Z" fill="#475af9" stroke="#475af9" stroke-width="0.5"/>
<path d="M157.2 767.2L158.8 765.9L157.5 767.3L156.0 768.6Z" fill="#4367fd" stroke="#4367fd" stroke-width="0.5"/>
<path d="M160.0 764.4L161.6 762.9L160.4 764.5L158.8 765.9Z" fill="#3777fe" stroke="#3777fe" stroke-width="0.5"/>
<path d="M162.9 761.2L164.5 759.6L163.2 761.3L161.6 762.9Z" fill="#2d88f6" stroke="#2d88f6" stroke-width="0.5"/>
<path d="M165.7 757.8L167.3 756.0L166.1 757.9L164.5 759.6Z" fill="#2698ea" stroke="#2698ea" stroke-width="0.5"/>
<path d="M168.6 754.1L170.1 752.2L168.9 754.2L167.3 756.0Z" fill="#1da9e0" stroke="#1da9e0" stroke-width="0.5"/>
<path d="M171.4 750.1L173.0 748.0L171.7 750.2L170.1 752.2Z" fill="#02b7cb" stroke="#02b7cb" stroke-width="0.5"/>
<path d="M174.2 745.8L175.8 743.6L174.6 745.9L173.0 748.0Z" fill="#24c2ae" stroke="#24c2ae" stroke-width="0.5"/>
<path d="M177.1 741.2L178.7 738.8L177.4 741.3L175.8 743.6Z" fill="#46cb88" stroke="#46cb88" stroke-width="0.5"/>
<path d="M81.8 737.2L83.4 739.8L82.1 737.4L80.6 734.8Z" fill="#37c897" stroke="#37c897" stroke-width="0.5"/>
<path d="M84.6 742.0L86.2 744.5L85.0 742.3L83.4 739.8Z" fill="#12beb9" stroke="#12beb9" stroke-width="0.5"/>
<path d="M87.5 746.5L89.1 748.9L87.8 746.8L86.2 744.5Z" fill="#0db3d3" stroke="#0db3d3" stroke-width="0.5"/>
<path d="M90.3 750.8L91.9 752.9L90.7 751.0L89.1 748.9Z" fill="#21a4e3" stroke="#21a4e3" stroke-width="0.5"/>
<path d="M93.2 754.7L94.7 756.7L93.5 755.0L91.9 752.9Z" fill="#2a93ed" stroke="#2a93ed" stroke-width="0.5"/>
<path d="M96.0 758.4L97.6 760.3L96.3 758.6L94.7 756.7Z" fill="#2e83f9" stroke="#2e83f9" stroke-width="0.5"/>
<path d="M98.8 761.8L100.4 763.5L99.2 762.0L97.6 760.3Z" fill="#3b72fe" stroke="#3b72fe" stroke-width="0.5"/>
<path d="M101.7 764.8L103.3 766.4L102.0 765.1L100.4 763.5Z" fill="#4564fd" stroke="#4564fd" stroke-width="0.5"/>
<path d="M104.5 767.6L106.1 769.1L104.9 767.8L103.3 766.4Z" fill="#4758f8" stroke="#4758f8" stroke-width="0.5"/>
<path d="M107.3 770.1L108.9 771.4L107.7 770.3L106.1 769.1Z" fill="#484df0" stroke="#484df0" stroke-width="0.5"/>
<path d="M110.2 772.3L111.8 773.5L110.5 772.6L108.9 771.4Z" fill="#4744e8" stroke="#4744e8" stroke-width="0.5"/>
<path d="M113.0 774.2L114.6 775.2L113.4 774.5L111.8 773.5Z" fill="#463de0" stroke="#463de0" stroke-width="0.5"/>
<path d="M115.9 775.9L117.5 776.7L116.2 776.1L114.6 775.2Z" fill="#4537d6" stroke="#4537d6" stroke-width="0.5"/>
<path d="M118.7 777.2L120.3 777.9L119.1 777.4L117.5 776.7Z" fill="#4434ce" stroke="#4434ce" stroke-width="0.5"/>
<path d="M121.5 778.3L123.1 778.8L121.9 778.5L120.3 777.9Z" fill="#4331c8" stroke="#4331c8" stroke-width="0.5"/>
<path d="M124.4 779.0L126.0 779.4L124.7 779.3L123.1 778.8Z" fill="#4230c3" stroke="#4230c3" stroke-width="0.5"/>
<path d="M127.2 779.5L128.8 779.8L127.6 779.7L126.0 779.4Z" fill="#422fc1" stroke="#422fc1" stroke-width="0.5"/>
<path d="M130.1 779.7L131.7 779.8L130.4 779.9L128.8 779.8Z" fill="#422fc1" stroke="#422fc1" stroke-width="0.5"/>
<path d="M132.9 779.6L134.5 779.6L133.2 779.8L131.7 779.8Z" fill="#4230c3" stroke="#4230c3" stroke-width="0.5"/>
<path d="M135.7 779.2L137.3 779.0L136.1 779.4L134.5 779.6Z" fill="#4331c8" stroke="#4331c8" stroke-width="0.5"/>
<path d="M138.6 778.5L140.2 778.2L138.9 778.7L137.3 779.0Z" fill="#4434ce" stroke="#4434ce" stroke-width="0.5"/>
<path d="M141.4 777.5L143.0 777.1L141.8 777.8L140.2 778.2Z" fill="#4537d6" stroke="#4537d6" stroke-width="0.5"/>
<path d="M144.2 776.3L145.8 775.7L144.6 776.5L143.0 777.1Z" fill="#463de0" stroke="#463de0" stroke-width="0.5"/>
<path d="M147.1 774.7L148.7 774.0L147.4 775.0L145.8 775.7Z" fill="#4744e8" stroke="#4744e8" stroke-width="0.5"/>
<path d="M149.9 772.9L151.5 772.0L150.3 773.1L148.7 774.0Z" fill="#484df0" stroke="#484df0" stroke-width="0.5"/>
<path d="M152.8 770.8L154.4 769.8L153.1 771.0L151.5 772.0Z" fill="#4758f8" stroke="#4758f8" stroke-width="0.5"/>
<path d="M155.6 768.4L157.2 767.2L156.0 768.6L154.4 769.8Z" fill="#4564fd" stroke="#4564fd" stroke-width="0.5"/>
<path d="M158.4 765.7L160.0 764.4L158.8 765.9L157.2 767.2Z" fill="#3b72fe" stroke="#3b72fe" stroke-width="0.5"/>
<path d="M161.3 762.7L162.9 761.2L161.6 762.9L160.0 764.4Z" fill="#2e83f9" stroke="#2e83f9" stroke-width="0.5"/>
<path d="M164.1 759.4L165.7 757.8L164.5 759.6L162.9 761.2Z" fill="#2a93ed" stroke="#2a93ed" stroke-width="0.5"/>
<path d="M167.0 755.8L168.6 754.1L167.3 756.0L165.7 757.8Z" fill="#21a4e3" stroke="#21a4e3" stroke-width="0.5"/>
<path d="M169.8 751.9L171.4 750.1L170.1 752.2L168.6 754.1Z" fill="#0db3d3" stroke="#0db3d3" stroke-width="0.5"/>
<path d="M172.6 747.8L174.2 745.8L173.0 748.0L171.4 750.1Z" fill="#12beb9" stroke="#12beb9" stroke-width="0.5"/>
<path d="M175.5 743.3L177.1 741.2L175.8 743.6L174.2 745.8Z" fill="#37c897" stroke="#37c897" stroke-width="0.5"/>
<path d="M83.0 739.4L84.6 742.0L83.4 739.8L81.8 737.2Z" fill="#2ec5a4" stroke="#2ec5a4" stroke-width="0.5"/>
<path d="M85.9 744.1L87.5 746.5L86.2 744.5L84.6 742.0Z" fill="#03bbc2" stroke="#03bbc2" stroke-width="0.5"/>
<path d="M88.7 748.5L90.3 750.8L89.1 748.9L87.5 746.5Z" fill="#17aeda" stroke="#17aeda" stroke-width="0.5"/>
<path d="M91.6 752.6L93.2 754.7L91.9 752.9L90.3 750.8Z" fill="#249fe6" stroke="#249fe6" stroke-width="0.5"/>
<path d="M94.4 756.4L96.0 758.4L94.7 756.7L93.2 754.7Z" fill="#2c8ff1" stroke="#2c8ff1" stroke-width="0.5"/>
<path d="M97.2 759.9L98.8 761.8L97.6 760.3L96.0 758.4Z" fill="#307ffb" stroke="#307ffb" stroke-width="0.5"/>
<path d="M100.1 763.1L101.7 764.8L100.4 763.5L98.8 761.8Z" fill="#3f6fff" stroke="#3f6fff" stroke-width="0.5"/>
<path d="M102.9 766.0L104.5 767.6L103.3 766.4L101.7 764.8Z" fill="#4561fc" stroke="#4561fc" stroke-width="0.5"/>
<path d="M105.8 768.7L107.3 770.1L106.1 769.1L104.5 767.6Z" fill="#4756f6" stroke="#4756f6" stroke-width="0.5"/>
<path d="M108.6 771.0L110.2 772.3L108.9 771.4L107.3 770.1Z" fill="#484cef" stroke="#484cef" stroke-width="0.5"/>
<path d="M111.4 773.1L113.0 774.2L111.8 773.5L110.2 772.3Z" fill="#4744e8" stroke="#4744e8" stroke-width="0.5"/>
<path d="M114.3 774.9L115.9 775.9L114.6 775.2L113.0 774.2Z" fill="#463de0" stroke="#463de0" stroke-width="0.5"/>
<path d="M117.1 776.3L118.7 777.2L117.5 776.7L115.9 775.9Z" fill="#4538d7" stroke="#4538d7" stroke-width="0.5"/>
<path d="M119.9 777.5L121.5 778.3L120.3 777.9L118.7 777.2Z" fill="#4435d0" stroke="#4435d0" stroke-width="0.5"/>
<path d="M122.8 778.4L124.4 779.0L123.1 778.8L121.5 778.3Z" fill="#4432cb" stroke="#4432cb" stroke-width="0.5"/>
<path d="M125.6 779.1L127.2 779.5L126.0 779.4L124.4 779.0Z" fill="#4331c7" stroke="#4331c7" stroke-width="0.5"/>
<path d="M128.5 779.4L130.1 779.7L128.8 779.8L127.2 779.5Z" fill="#4331c6" stroke="#4331c6" stroke-width="0.5"/>
<path d="M131.3 779.4L132.9 779.6L131.7 779.8L130.1 779.7Z" fill="#4331c7" stroke="#4331c7" stroke-width="0.5"/>
<path d="M134.1 779.2L135.7 779.2L134.5 779.6L132.9 779.6Z" fill="#4432cb" stroke="#4432cb" stroke-width="0.5"/>
<path d="M137.0 778.7L138.6 778.5L137.3 779.0L135.7 779.2Z" fill="#4435d0" stroke="#4435d0" stroke-width="0.5"/>
<path d="M139.8 777.8L141.4 777.5L140.2 778.2L138.6 778.5Z" fill="#4538d7" stroke="#4538d7" stroke-width="0.5"/>
<path d="M142.7 776.7L144.2 776.3L143.0 777.1L141.4 777.5Z" fill="#463de0" stroke="#463de0" stroke-width="0.5"/>
<path d="M145.5 775.3L147.1 774.7L145.8 775.7L144.2 776.3Z" fill="#4744e8" stroke="#4744e8" stroke-width="0.5"/>
<path d="M148.3 773.6L149.9 772.9L148.7 774.0L147.1 774.7Z" fill="#484cef" stroke="#484cef" stroke-width="0.5"/>
<path d="M151.2 771.7L152.8 770.8L151.5 772.0L149.9 772.9Z" fill="#4756f6" stroke="#4756f6" stroke-width="0.5"/>
<path d="M154.0 769.4L155.6 768.4L154.4 769.8L152.8 770.8Z" fill="#4561fc" stroke="#4561fc" stroke-width="0.5"/>
<path d="M156.8 766.8L158.4 765.7L157.2 767.2L155.6 768.4Z" fill="#3f6fff" stroke="#3f6fff" stroke-width="0.5"/>
<path d="M159.7 764.0L161.3 762.7L160.0 764.4L158.4 765.7Z" fill="#307ffb" stroke="#307ffb" stroke-width="0.5"/>
<path d="M162.5 760.8L164.1 759.4L162.9 761.2L161.3 762.7Z" fill="#2c8ff1" stroke="#2c8ff1" stroke-width="0.5"/>
<path d="M165.4 757.4L167.0 755.8L165.7 757.8L164.1 759.4Z" fill="#249fe6" stroke="#249fe6" stroke-width="0.5"/>
<path d="M168.2 753.7L169.8 751.9L168.6 754.1L167.0 755.8Z" fill="#17aeda" stroke="#17aeda" stroke-width="0.5"/>
<path d="M171.0 749.7L172.6 747.8L171.4 750.1L169.8 751.9Z" fill="#03bbc2" stroke="#03bbc2" stroke-width="0.5"/>
<path d="M173.9 745.4L175.5 743.3L174.2 745.8L172.6 747.8Z" fill="#2ec5a4" stroke="#2ec5a4" stroke-width="0.5"/>
<path d="M84.3 741.5L85.9 744.1L84.6 742.0L83.0 739.4Z" fill="#24c1ae" stroke="#24c1ae" stroke-width="0.5"/>
<path d="M87.1 746.0L88.7 748.5L87.5 746.5L85.9 744.1Z" fill="#01b7ca" stroke="#01b7ca" stroke-width="0.5"/>
<path d="M90.0 750.3L91.6 752.6L90.3 750.8L88.7 748.5Z" fill="#1caadf" stroke="#1caadf" stroke-width="0.5"/>
<path d="M92.8 754.2L94.4 756.4L93.2 754.7L91.6 752.6Z" fill="#269ae8" stroke="#269ae8" stroke-width="0.5"/>
<path d="M95.6 757.9L97.2 759.9L96.0 758.4L94.4 756.4Z" fill="#2d8af4" stroke="#2d8af4" stroke-width="0.5"/>
<path d="M98.5 761.2L100.1 763.1L98.8 761.8L97.2 759.9Z" fill="#337bfc" stroke="#337bfc" stroke-width="0.5"/>
<path d="M101.3 764.3L102.9 766.0L101.7 764.8L100.1 763.1Z" fill="#416cfe" stroke="#416cfe" stroke-width="0.5"/>
<path d="M104.2 767.1L105.8 768.7L104.5 767.6L102.9 766.0Z" fill="#465ffb" stroke="#465ffb" stroke-width="0.5"/>
<path d="M107.0 769.6L108.6 771.0L107.3 770.1L105.8 768.7Z" fill="#4854f6" stroke="#4854f6" stroke-width="0.5"/>
<path d="M109.8 771.8L111.4 773.1L110.2 772.3L108.6 771.0Z" fill="#484bef" stroke="#484bef" stroke-width="0.5"/>
<path d="M112.7 773.7L114.3 774.9L113.0 774.2L111.4 773.1Z" fill="#4744e8" stroke="#4744e8" stroke-width="0.5"/>
<path d="M115.5 775.3L117.1 776.3L115.9 775.9L114.3 774.9Z" fill="#463de0" stroke="#463de0" stroke-width="0.5"/>
<path d="M118.4 776.7L119.9 777.5L118.7 777.2L117.1 776.3Z" fill="#4639d9" stroke="#4639d9" stroke-width="0.5"/>
<path d="M121.2 777.7L122.8 778.4L121.5 778.3L119.9 777.5Z" fill="#4536d3" stroke="#4536d3" stroke-width="0.5"/>
<path d="M124.0 778.5L125.6 779.1L124.4 779.0L122.8 778.4Z" fill="#4434cf" stroke="#4434cf" stroke-width="0.5"/>
<path d="M126.9 779.0L128.5 779.4L127.2 779.5L125.6 779.1Z" fill="#4433cd" stroke="#4433cd" stroke-width="0.5"/>
<path d="M129.7 779.1L131.3 779.4L130.1 779.7L128.5 779.4Z" fill="#4433cd" stroke="#4433cd" stroke-width="0.5"/>
<path d="M132.5 779.0L134.1 779.2L132.9 779.6L131.3 779.4Z" fill="#4434cf" stroke="#4434cf" stroke-width="0.5"/>
<path d="M135.4 778.7L137.0 778.7L135.7 779.2L134.1 779.2Z" fill="#4536d3" stroke="#4536d3" stroke-width="0.5"/>
<path d="M138.2 778.0L139.8 777.8L138.6 778.5L137.0 778.7Z" fill="#4639d9" stroke="#4639d9" stroke-width="0.5"/>
<path d="M141.1 777.0L142.7 776.7L141.4 777.5L139.8 777.8Z" fill="#463de0" stroke="#463de0" stroke-width="0.5"/>
<path d="M143.9 775.8L145.5 775.3L144.2 776.3L142.7 776.7Z" fill="#4744e8" stroke="#4744e8" stroke-width="0.5"/>
<path d="M146.7 774.2L148.3 773.6L147.1 774.7L145.5 775.3Z" fill="#484bef" stroke="#484bef" stroke-width="0.5"/>
<path d="M149.6 772.4L151.2 771.7L149.9 772.9L148.3 773.6Z" fill="#4854f6" stroke="#4854f6" stroke-width="0.5"/>
<path d="M152.4 770.3L154.0 769.4L152.8 770.8L151.2 771.7Z" fill="#465ffb" stroke="#465ffb" stroke-width="0.5"/>
<path d="M155.3 767.8L156.8 766.8L155.6 768.4L154.0 769.4Z" fill="#416cfe" stroke="#416cfe" stroke-width="0.5"/>
<path d="M158.1 765.1L159.7 764.0L158.4 765.7L156.8 766.8Z" fill="#337bfc" stroke="#337bfc" stroke-width="0.5"/>
<path d="M160.9 762.2L162.5 760.8L161.3 762.7L159.7 764.0Z" fill="#2d8af4" stroke="#2d8af4" stroke-width="0.5"/>
<path d="M163.8 758.9L165.4 757.4L164.1 759.4L162.5 760.8Z" fill="#269ae8" stroke="#269ae8" stroke-width="0.5"/>
<path d="M166.6 755.3L168.2 753.7L167.0 755.8L165.4 757.4Z" fill="#1caadf" stroke="#1caadf" stroke-width="0.5"/>
<path d="M169.4 751.4L171.0 749.7L169.8 751.9L168.2 753.7Z" fill="#01b7ca" stroke="#01b7ca" stroke-width="0.5"/>
<path d="M172.3 747.3L173.9 745.4L172.6 747.8L171.0 749.7Z" fill="#24c1ae" stroke="#24c1ae" stroke-width="0.5"/>
<path d="M85.5 743.4L87.1 746.0L85.9 744.1L84.3 741.5Z" fill="#16bfb7" stroke="#16bfb7" stroke-width="0.5"/>
<path d="M88.4 747.8L90.0 750.3L88.7 748.5L87.1 746.0Z" fill="#09b4d1" stroke="#09b4d1" stroke-width="0.5"/>
<path d="M91.2 751.9L92.8 754.2L91.6 752.6L90.0 750.3Z" fill="#1fa6e2" stroke="#1fa6e2" stroke-width="0.5"/>
<path d="M94.1 755.7L95.6 757.9L94.4 756.4L92.8 754.2Z" fill="#2796eb" stroke="#2796eb" stroke-width="0.5"/>
<path d="M96.9 759.2L98.5 761.2L97.2 759.9L95.6 757.9Z" fill="#2e87f7" stroke="#2e87f7" stroke-width="0.5"/>
<path d="M99.7 762.4L101.3 764.3L100.1 763.1L98.5 761.2Z" fill="#3678fe" stroke="#3678fe" stroke-width="0.5"/>
<path d="M102.6 765.4L104.2 767.1L102.9 766.0L101.3 764.3Z" fill="#4269fe" stroke="#4269fe" stroke-width="0.5"/>
<path d="M105.4 768.0L107.0 769.6L105.8 768.7L104.2 767.1Z" fill="#465dfb" stroke="#465dfb" stroke-width="0.5"/>
<path d="M108.2 770.4L109.8 771.8L108.6 771.0L107.0 769.6Z" fill="#4854f5" stroke="#4854f5" stroke-width="0.5"/>
<path d="M111.1 772.4L112.7 773.7L111.4 773.1L109.8 771.8Z" fill="#484bef" stroke="#484bef" stroke-width="0.5"/>
<path d="M113.9 774.2L115.5 775.3L114.3 774.9L112.7 773.7Z" fill="#4744e8" stroke="#4744e8" stroke-width="0.5"/>
<path d="M116.8 775.7L118.4 776.7L117.1 776.3L115.5 775.3Z" fill="#473fe2" stroke="#473fe2" stroke-width="0.5"/>
<path d="M119.6 776.9L121.2 777.7L119.9 777.5L118.4 776.7Z" fill="#463bdc" stroke="#463bdc" stroke-width="0.5"/>
<path d="M122.4 777.8L124.0 778.5L122.8 778.4L121.2 777.7Z" fill="#4538d7" stroke="#4538d7" stroke-width="0.5"/>
<path d="M125.3 778.4L126.9 779.0L125.6 779.1L124.0 778.5Z" fill="#4536d4" stroke="#4536d4" stroke-width="0.5"/>
<path d="M128.1 778.7L129.7 779.1L128.5 779.4L126.9 779.0Z" fill="#4536d3" stroke="#4536d3" stroke-width="0.5"/>
<path d="M131.0 778.8L132.5 779.0L131.3 779.4L129.7 779.1Z" fill="#4536d4" stroke="#4536d4" stroke-width="0.5"/>
<path d="M133.8 778.5L135.4 778.7L134.1 779.2L132.5 779.0Z" fill="#4538d7" stroke="#4538d7" stroke-width="0.5"/>
<path d="M136.6 778.0L138.2 778.0L137.0 778.7L135.4 778.7Z" fill="#463bdc" stroke="#463bdc" stroke-width="0.5"/>
<path d="M139.5 777.2L141.1 777.0L139.8 777.8L138.2 778.0Z" fill="#473fe2" stroke="#473fe2" stroke-width="0.5"/>
<path d="M142.3 776.1L143.9 775.8L142.7 776.7L141.1 777.0Z" fill="#4744e8" stroke="#4744e8" stroke-width="0.5"/>
<path d="M145.1 774.7L146.7 774.2L145.5 775.3L143.9 775.8Z" fill="#484bef" stroke="#484bef" stroke-width="0.5"/>
<path d="M148.0 773.0L149.6 772.4L148.3 773.6L146.7 774.2Z" fill="#4854f5" stroke="#4854f5" stroke-width="0.5"/>
<path d="M150.8 771.0L152.4 770.3L151.2 771.7L149.6 772.4Z" fill="#465dfb" stroke="#465dfb" stroke-width="0.5"/>
<path d="M153.7 768.7L155.3 767.8L154.0 769.4L152.4 770.3Z" fill="#4269fe" stroke="#4269fe" stroke-width="0.5"/>
<path d="M156.5 766.2L158.1 765.1L156.8 766.8L155.3 767.8Z" fill="#3678fe" stroke="#3678fe" stroke-width="0.5"/>
<path d="M159.3 763.3L160.9 762.2L159.7 764.0L158.1 765.1Z" fill="#2e87f7" stroke="#2e87f7" stroke-width="0.5"/>
<path d="M162.2 760.2L163.8 758.9L162.5 760.8L160.9 762.2Z" fill="#2796eb" stroke="#2796eb" stroke-width="0.5"/>
<path d="M165.0 756.8L166.6 755.3L165.4 757.4L163.8 758.9Z" fill="#1fa6e2" stroke="#1fa6e2" stroke-width="0.5"/>
<path d="M167.9 753.0L169.4 751.4L168.2 753.7L166.6 755.3Z" fill="#09b4d1" stroke="#09b4d1" stroke-width="0.5"/>
<path d="M170.7 749.0L172.3 747.3L171.0 749.7L169.4 751.4Z" fill="#16bfb7" stroke="#16bfb7" stroke-width="0.5"/>
<path d="M86.8 745.2L88.4 747.8L87.1 746.0L85.5 743.4Z" fill="#08bcbf" stroke="#08bcbf" stroke-width="0.5"/>
<path d="M89.6 749.5L91.2 751.9L90.0 750.3L88.4 747.8Z" fill="#12b1d7" stroke="#12b1d7" stroke-width="0.5"/>
<path d="M92.5 753.4L94.1 755.7L92.8 754.2L91.2 751.9Z" fill="#22a2e4" stroke="#22a2e4" stroke-width="0.5"/>
<path d="M95.3 757.1L96.9 759.2L95.6 757.9L94.1 755.7Z" fill="#2a93ee" stroke="#2a93ee" stroke-width="0.5"/>
<path d="M98.1 760.4L99.7 762.4L98.5 761.2L96.9 759.2Z" fill="#2e84f8" stroke="#2e84f8" stroke-width="0.5"/>
<path d="M101.0 763.5L102.6 765.4L101.3 764.3L99.7 762.4Z" fill="#3875fe" stroke="#3875fe" stroke-width="0.5"/>
<path d="M103.8 766.3L105.4 768.0L104.2 767.1L102.6 765.4Z" fill="#4368fe" stroke="#4368fe" stroke-width="0.5"/>
<path d="M106.7 768.8L108.2 770.4L107.0 769.6L105.4 768.0Z" fill="#465dfa" stroke="#465dfa" stroke-width="0.5"/>
<path d="M109.5 771.0L111.1 772.4L109.8 771.8L108.2 770.4Z" fill="#4854f5" stroke="#4854f5" stroke-width="0.5"/>
<path d="M112.3 772.9L113.9 774.2L112.7 773.7L111.1 772.4Z" fill="#484cef" stroke="#484cef" stroke-width="0.5"/>
<path d="M115.2 774.5L116.8 775.7L115.5 775.3L113.9 774.2Z" fill="#4745e9" stroke="#4745e9" stroke-width="0.5"/>
<path d="M118.0 775.9L119.6 776.9L118.4 776.7L116.8 775.7Z" fill="#4740e4" stroke="#4740e4" stroke-width="0.5"/>
<path d="M120.8 776.9L122.4 777.8L121.2 777.7L119.6 776.9Z" fill="#463ddf" stroke="#463ddf" stroke-width="0.5"/>
<path d="M123.7 777.7L125.3 778.4L124.0 778.5L122.4 777.8Z" fill="#463bdc" stroke="#463bdc" stroke-width="0.5"/>
<path d="M126.5 778.2L128.1 778.7L126.9 779.0L125.3 778.4Z" fill="#4639da" stroke="#4639da" stroke-width="0.5"/>
<path d="M129.4 778.3L131.0 778.8L129.7 779.1L128.1 778.7Z" fill="#4639da" stroke="#4639da" stroke-width="0.5"/>
<path d="M132.2 778.2L133.8 778.5L132.5 779.0L131.0 778.8Z" fill="#463bdc" stroke="#463bdc" stroke-width="0.5"/>
<path d="M135.0 777.8L136.6 778.0L135.4 778.7L133.8 778.5Z" fill="#463ddf" stroke="#463ddf" stroke-width="0.5"/>
<path d="M137.9 777.2L139.5 777.2L138.2 778.0L136.6 778.0Z" fill="#4740e4" stroke="#4740e4" stroke-width="0.5"/>
<path d="M140.7 776.2L142.3 776.1L141.1 777.0L139.5 777.2Z" fill="#4745e9" stroke="#4745e9" stroke-width="0.5"/>
<path d="M143.6 775.0L145.1 774.7L143.9 775.8L142.3 776.1Z" fill="#484cef" stroke="#484cef" stroke-width="0.5"/>
<path d="M146.4 773.4L148.0 773.0L146.7 774.2L145.1 774.7Z" fill="#4854f5" stroke="#4854f5" stroke-width="0.5"/>
<path d="M149.2 771.6L150.8 771.0L149.6 772.4L148.0 773.0Z" fill="#465dfa" stroke="#465dfa" stroke-width="0.5"/>
<path d="M152.1 769.5L153.7 768.7L152.4 770.3L150.8 771.0Z" fill="#4368fe" stroke="#4368fe" stroke-width="0.5"/>
<path d="M154.9 767.0L156.5 766.2L155.3 767.8L153.7 768.7Z" fill="#3875fe" stroke="#3875fe" stroke-width="0.5"/>
<path d="M157.7 764.3L159.3 763.3L158.1 765.1L156.5 766.2Z" fill="#2e84f8" stroke="#2e84f8" stroke-width="0.5"/>
<path d="M160.6 761.4L162.2 760.2L160.9 762.2L159.3 763.3Z" fill="#2a93ee" stroke="#2a93ee" stroke-width="0.5"/>
<path d="M163.4 758.1L165.0 756.8L163.8 758.9L162.2 760.2Z" fill="#22a2e4" stroke="#22a2e4" stroke-width="0.5"/>
<path d="M166.3 754.5L167.9 753.0L166.6 755.3L165.0 756.8Z" fill="#12b1d7" stroke="#12b1d7" stroke-width="0.5"/>
<path d="M169.1 750.6L170.7 749.0L169.4 751.4L167.9 753.0Z" fill="#08bcbf" stroke="#08bcbf" stroke-width="0.5"/>
<path d="M88.0 746.9L89.6 749.5L88.4 747.8L86.8 745.2Z" fill="#01bac5" stroke="#01bac5" stroke-width="0.5"/>
<path d="M90.9 751.0L92.5 753.4L91.2 751.9L89.6 749.5Z" fill="#18aedb" stroke="#18aedb" stroke-width="0.5"/>
<path d="M93.7 754.8L95.3 757.1L94.1 755.7L92.5 753.4Z" fill="#249fe5" stroke="#249fe5" stroke-width="0.5"/>
<path d="M96.5 758.3L98.1 760.4L96.9 759.2L95.3 757.1Z" fill="#2b90f0" stroke="#2b90f0" stroke-width="0.5"/>
<path d="M99.4 761.5L101.0 763.5L99.7 762.4L98.1 760.4Z" fill="#2f82fa" stroke="#2f82fa" stroke-width="0.5"/>
<path d="M102.2 764.4L103.8 766.3L102.6 765.4L101.0 763.5Z" fill="#3a74fe" stroke="#3a74fe" stroke-width="0.5"/>
<path d="M105.1 767.1L106.7 768.8L105.4 768.0L103.8 766.3Z" fill="#4367fd" stroke="#4367fd" stroke-width="0.5"/>
<path d="M107.9 769.4L109.5 771.0L108.2 770.4L106.7 768.8Z" fill="#475dfa" stroke="#475dfa" stroke-width="0.5"/>
<path d="M110.7 771.5L112.3 772.9L111.1 772.4L109.5 771.0Z" fill="#4854f5" stroke="#4854f5" stroke-width="0.5"/>
<path d="M113.6 773.2L115.2 774.5L113.9 774.2L112.3 772.9Z" fill="#484df0" stroke="#484df0" stroke-width="0.5"/>
<path d="M116.4 774.7L118.0 775.9L116.8 775.7L115.2 774.5Z" fill="#4747eb" stroke="#4747eb" stroke-width="0.5"/>
<path d="M119.3 775.9L120.8 776.9L119.6 776.9L118.0 775.9Z" fill="#4743e7" stroke="#4743e7" stroke-width="0.5"/>
<path d="M122.1 776.8L123.7 777.7L122.4 777.8L120.8 776.9Z" fill="#4740e3" stroke="#4740e3" stroke-width="0.5"/>
<path d="M124.9 777.4L126.5 778.2L125.3 778.4L123.7 777.7Z" fill="#463ee1" stroke="#463ee1" stroke-width="0.5"/>
<path d="M127.8 777.8L129.4 778.3L128.1 778.7L126.5 778.2Z" fill="#463de0" stroke="#463de0" stroke-width="0.5"/>
<path d="M130.6 777.8L132.2 778.2L131.0 778.8L129.4 778.3Z" fill="#463ee1" stroke="#463ee1" stroke-width="0.5"/>
<path d="M133.4 777.6L135.0 777.8L133.8 778.5L132.2 778.2Z" fill="#4740e3" stroke="#4740e3" stroke-width="0.5"/>
<path d="M136.3 777.0L137.9 777.2L136.6 778.0L135.0 777.8Z" fill="#4743e7" stroke="#4743e7" stroke-width="0.5"/>
<path d="M139.1 776.2L140.7 776.2L139.5 777.2L137.9 777.2Z" fill="#4747eb" stroke="#4747eb" stroke-width="0.5"/>
<path d="M142.0 775.1L143.6 775.0L142.3 776.1L140.7 776.2Z" fill="#484df0" stroke="#484df0" stroke-width="0.5"/>
<path d="M144.8 773.7L146.4 773.4L145.1 774.7L143.6 775.0Z" fill="#4854f5" stroke="#4854f5" stroke-width="0.5"/>
<path d="M147.6 772.0L149.2 771.6L148.0 773.0L146.4 773.4Z" fill="#475dfa" stroke="#475dfa" stroke-width="0.5"/>
<path d="M150.5 770.0L152.1 769.5L150.8 771.0L149.2 771.6Z" fill="#4367fd" stroke="#4367fd" stroke-width="0.5"/>
<path d="M153.3 767.8L154.9 767.0L153.7 768.7L152.1 769.5Z" fill="#3a74fe" stroke="#3a74fe" stroke-width="0.5"/>
<path d="M156.2 765.2L157.7 764.3L156.5 766.2L154.9 767.0Z" fill="#2f82fa" stroke="#2f82fa" stroke-width="0.5"/>
<path d="M159.0 762.4L160.6 761.4L159.3 763.3L157.7 764.3Z" fill="#2b90f0" stroke="#2b90f0" stroke-width="0.5"/>
<path d="M161.8 759.2L163.4 758.1L162.2 760.2L160.6 761.4Z" fill="#249fe5" stroke="#249fe5" stroke-width="0.5"/>
<path d="M164.7 755.8L166.3 754.5L165.0 756.8L163.4 758.1Z" fill="#18aedb" stroke="#18aedb" stroke-width="0.5"/>
<path d="M167.5 752.1L169.1 750.6L167.9 753.0L166.3 754.5Z" fill="#01bac5" stroke="#01bac5" stroke-width="0.5"/>
<path d="M89.3 748.4L90.9 751.0L89.6 749.5L88.0 746.9Z" fill="#02b7cb" stroke="#02b7cb" stroke-width="0.5"/>
<path d="M92.1 752.3L93.7 754.8L92.5 753.4L90.9 751.0Z" fill="#1babde" stroke="#1babde" stroke-width="0.5"/>
<path d="M94.9 756.0L96.5 758.3L95.3 757.1L93.7 754.8Z" fill="#259ce7" stroke="#259ce7" stroke-width="0.5"/>
<path d="M97.8 759.4L99.4 761.5L98.1 760.4L96.5 758.3Z" fill="#2c8ef1" stroke="#2c8ef1" stroke-width="0.5"/>
<path d="M100.6 762.4L102.2 764.4L101.0 763.5L99.4 761.5Z" fill="#2f80fa" stroke="#2f80fa" stroke-width="0.5"/>
<path d="M103.5 765.2L105.1 767.1L103.8 766.3L102.2 764.4Z" fill="#3b73fe" stroke="#3b73fe" stroke-width="0.5"/>
<path d="M106.3 767.7L107.9 769.4L106.7 768.8L105.1 767.1Z" fill="#4367fd" stroke="#4367fd" stroke-width="0.5"/>
<path d="M109.1 769.9L110.7 771.5L109.5 771.0L107.9 769.4Z" fill="#465dfb" stroke="#465dfb" stroke-width="0.5"/>
<path d="M112.0 771.8L113.6 773.2L112.3 772.9L110.7 771.5Z" fill="#4755f6" stroke="#4755f6" stroke-width="0.5"/>
<path d="M114.8 773.4L116.4 774.7L115.2 774.5L113.6 773.2Z" fill="#484ff2" stroke="#484ff2" stroke-width="0.5"/>
<path d="M117.7 774.8L119.3 775.9L118.0 775.9L116.4 774.7Z" fill="#484aee" stroke="#484aee" stroke-width="0.5"/>
<path d="M120.5 775.8L122.1 776.8L120.8 776.9L119.3 775.9Z" fill="#4746ea" stroke="#4746ea" stroke-width="0.5"/>
<path d="M123.3 776.6L124.9 777.4L123.7 777.7L122.1 776.8Z" fill="#4743e7" stroke="#4743e7" stroke-width="0.5"/>
<path d="M126.2 777.1L127.8 777.8L126.5 778.2L124.9 777.4Z" fill="#4742e6" stroke="#4742e6" stroke-width="0.5"/>
<path d="M129.0 777.3L130.6 777.8L129.4 778.3L127.8 777.8Z" fill="#4742e6" stroke="#4742e6" stroke-width="0.5"/>
<path d="M131.9 777.1L133.4 777.6L132.2 778.2L130.6 777.8Z" fill="#4743e7" stroke="#4743e7" stroke-width="0.5"/>
<path d="M134.7 776.8L136.3 777.0L135.0 777.8L133.4 777.6Z" fill="#4746ea" stroke="#4746ea" stroke-width="0.5"/>
<path d="M137.5 776.1L139.1 776.2L137.9 777.2L136.3 777.0Z" fill="#484aee" stroke="#484aee" stroke-width="0.5"/>
<path d="M140.4 775.1L142.0 775.1L140.7 776.2L139.1 776.2Z" fill="#484ff2" stroke="#484ff2" stroke-width="0.5"/>
<path d="M143.2 773.9L144.8 773.7L143.6 775.0L142.0 775.1Z" fill="#4755f6" stroke="#4755f6" stroke-width="0.5"/>
<path d="M146.0 772.3L147.6 772.0L146.4 773.4L144.8 773.7Z" fill="#465dfb" stroke="#465dfb" stroke-width="0.5"/>
<path d="M148.9 770.5L150.5 770.0L149.2 771.6L147.6 772.0Z" fill="#4367fd" stroke="#4367fd" stroke-width="0.5"/>
<path d="M151.7 768.4L153.3 767.8L152.1 769.5L150.5 770.0Z" fill="#3b73fe" stroke="#3b73fe" stroke-width="0.5"/>
<path d="M154.6 766.0L156.2 765.2L154.9 767.0L153.3 767.8Z" fill="#2f80fa" stroke="#2f80fa" stroke-width="0.5"/>
<path d="M157.4 763.3L159.0 762.4L157.7 764.3L156.2 765.2Z" fill="#2c8ef1" stroke="#2c8ef1" stroke-width="0.5"/>
<path d="M160.2 760.3L161.8 759.2L160.6 761.4L159.0 762.4Z" fill="#259ce7" stroke="#259ce7" stroke-width="0.5"/>
<path d="M163.1 757.0L164.7 755.8L163.4 758.1L161.8 759.2Z" fill="#1babde" stroke="#1babde" stroke-width="0.5"/>
<path d="M165.9 753.4L167.5 752.1L166.3 754.5L164.7 755.8Z" fill="#02b7cb" stroke="#02b7cb" stroke-width="0.5"/>
<path d="M90.5 749.8L92.1 752.3L90.9 751.0L89.3 748.4Z" fill="#06b5cf" stroke="#06b5cf" stroke-width="0.5"/>
<path d="M93.4 753.6L94.9 756.0L93.7 754.8L92.1 752.3Z" fill="#1da8e0" stroke="#1da8e0" stroke-width="0.5"/>
<path d="M96.2 757.1L97.8 759.4L96.5 758.3L94.9 756.0Z" fill="#269ae8" stroke="#269ae8" stroke-width="0.5"/>
<path d="M99.0 760.3L100.6 762.4L99.4 761.5L97.8 759.4Z" fill="#2d8df2" stroke="#2d8df2" stroke-width="0.5"/>
<path d="M101.9 763.2L103.5 765.2L102.2 764.4L100.6 762.4Z" fill="#3080fb" stroke="#3080fb" stroke-width="0.5"/>
<path d="M104.7 765.8L106.3 767.7L105.1 767.1L103.5 765.2Z" fill="#3b73fe" stroke="#3b73fe" stroke-width="0.5"/>
<path d="M107.5 768.2L109.1 769.9L107.9 769.4L106.3 767.7Z" fill="#4368fd" stroke="#4368fd" stroke-width="0.5"/>
<path d="M110.4 770.2L112.0 771.8L110.7 771.5L109.1 769.9Z" fill="#465ffb" stroke="#465ffb" stroke-width="0.5"/>
<path d="M113.2 772.0L114.8 773.4L113.6 773.2L112.0 771.8Z" fill="#4757f7" stroke="#4757f7" stroke-width="0.5"/>
<path d="M116.1 773.5L117.7 774.8L116.4 774.7L114.8 773.4Z" fill="#4851f4" stroke="#4851f4" stroke-width="0.5"/>
<path d="M118.9 774.7L120.5 775.8L119.3 775.9L117.7 774.8Z" fill="#484df0" stroke="#484df0" stroke-width="0.5"/>
<path d="M121.7 775.6L123.3 776.6L122.1 776.8L120.5 775.8Z" fill="#484aee" stroke="#484aee" stroke-width="0.5"/>
<path d="M124.6 776.2L126.2 777.1L124.9 777.4L123.3 776.6Z" fill="#4848ec" stroke="#4848ec" stroke-width="0.5"/>
<path d="M127.4 776.5L129.0 777.3L127.8 777.8L126.2 777.1Z" fill="#4747eb" stroke="#4747eb" stroke-width="0.5"/>
<path d="M130.3 776.6L131.9 777.1L130.6 777.8L129.0 777.3Z" fill="#4848ec" stroke="#4848ec" stroke-width="0.5"/>
<path d="M133.1 776.3L134.7 776.8L133.4 777.6L131.9 777.1Z" fill="#484aee" stroke="#484aee" stroke-width="0.5"/>
<path d="M135.9 775.8L137.5 776.1L136.3 777.0L134.7 776.8Z" fill="#484df0" stroke="#484df0" stroke-width="0.5"/>
<path d="M138.8 775.0L140.4 775.1L139.1 776.2L137.5 776.1Z" fill="#4851f4" stroke="#4851f4" stroke-width="0.5"/>
<path d="M141.6 773.9L143.2 773.9L142.0 775.1L140.4 775.1Z" fill="#4757f7" stroke="#4757f7" stroke-width="0.5"/>
<path d="M144.5 772.5L146.0 772.3L144.8 773.7L143.2 773.9Z" fill="#465ffb" stroke="#465ffb" stroke-width="0.5"/>
<path d="M147.3 770.8L148.9 770.5L147.6 772.0L146.0 772.3Z" fill="#4368fd" stroke="#4368fd" stroke-width="0.5"/>
<path d="M150.1 768.8L151.7 768.4L150.5 770.0L148.9 770.5Z" fill="#3b73fe" stroke="#3b73fe" stroke-width="0.5"/>
<path d="M153.0 766.6L154.6 766.0L153.3 767.8L151.7 768.4Z" fill="#3080fb" stroke="#3080fb" stroke-width="0.5"/>
<path d="M155.8 764.0L157.4 763.3L156.2 765.2L154.6 766.0Z" fill="#2d8df2" stroke="#2d8df2" stroke-width="0.5"/>
<path d="M158.6 761.2L160.2 760.3L159.0 762.4L157.4 763.3Z" fill="#269ae8" stroke="#269ae8" stroke-width="0.5"/>
<path d="M161.5 758.0L163.1 757.0L161.8 759.2L160.2 760.3Z" fill="#1da8e0" stroke="#1da8e0" stroke-width="0.5"/>
<path d="M164.3 754.6L165.9 753.4L164.7 755.8L163.1 757.0Z" fill="#06b5cf" stroke="#06b5cf" stroke-width="0.5"/>
<path d="M91.8 751.0L93.4 753.6L92.1 752.3L90.5 749.8Z" fill="#0bb3d2" stroke="#0bb3d2" stroke-width="0.5"/>
<path d="M94.6 754.6L96.2 757.1L94.9 756.0L93.4 753.6Z" fill="#1ea7e1" stroke="#1ea7e1" stroke-width="0.5"/>
<path d="M97.4 758.0L99.0 760.3L97.8 759.4L96.2 757.1Z" fill="#2699e9" stroke="#2699e9" stroke-width="0.5"/>
<path d="M100.3 761.1L101.9 763.2L100.6 762.4L99.0 760.3Z" fill="#2d8cf3" stroke="#2d8cf3" stroke-width="0.5"/>
<path d="M103.1 763.8L104.7 765.8L103.5 765.2L101.9 763.2Z" fill="#3080fb" stroke="#3080fb" stroke-width="0.5"/>
<path d="M106.0 766.3L107.5 768.2L106.3 767.7L104.7 765.8Z" fill="#3a73fe" stroke="#3a73fe" stroke-width="0.5"/>
<path d="M108.8 768.5L110.4 770.2L109.1 769.9L107.5 768.2Z" fill="#4269fe" stroke="#4269fe" stroke-width="0.5"/>
<path d="M111.6 770.5L113.2 772.0L112.0 771.8L110.4 770.2Z" fill="#4661fc" stroke="#4661fc" stroke-width="0.5"/>
<path d="M114.5 772.1L116.1 773.5L114.8 773.4L113.2 772.0Z" fill="#475af9" stroke="#475af9" stroke-width="0.5"/>
<path d="M117.3 773.4L118.9 774.7L117.7 774.8L116.1 773.5Z" fill="#4755f6" stroke="#4755f6" stroke-width="0.5"/>
<path d="M120.2 774.5L121.7 775.6L120.5 775.8L118.9 774.7Z" fill="#4851f3" stroke="#4851f3" stroke-width="0.5"/>
<path d="M123.0 775.2L124.6 776.2L123.3 776.6L121.7 775.6Z" fill="#484ef1" stroke="#484ef1" stroke-width="0.5"/>
<path d="M125.8 775.7L127.4 776.5L126.2 777.1L124.6 776.2Z" fill="#484df0" stroke="#484df0" stroke-width="0.5"/>
<path d="M128.7 775.9L130.3 776.6L129.0 777.3L127.4 776.5Z" fill="#484df0" stroke="#484df0" stroke-width="0.5"/>
<path d="M131.5 775.8L133.1 776.3L131.9 777.1L130.3 776.6Z" fill="#484ef1" stroke="#484ef1" stroke-width="0.5"/>
<path d="M134.3 775.4L135.9 775.8L134.7 776.8L133.1 776.3Z" fill="#4851f3" stroke="#4851f3" stroke-width="0.5"/>
<path d="M137.2 774.7L138.8 775.0L137.5 776.1L135.9 775.8Z" fill="#4755f6" stroke="#4755f6" stroke-width="0.5"/>
<path d="M140.0 773.8L141.6 773.9L140.4 775.1L138.8 775.0Z" fill="#475af9" stroke="#475af9" stroke-width="0.5"/>
<path d="M142.9 772.5L144.5 772.5L143.2 773.9L141.6 773.9Z" fill="#4661fc" stroke="#4661fc" stroke-width="0.5"/>
<path d="M145.7 771.0L147.3 770.8L146.0 772.3L144.5 772.5Z" fill="#4269fe" stroke="#4269fe" stroke-width="0.5"/>
<path d="M148.5 769.1L150.1 768.8L148.9 770.5L147.3 770.8Z" fill="#3a73fe" stroke="#3a73fe" stroke-width="0.5"/>
<path d="M151.4 767.0L153.0 766.6L151.7 768.4L150.1 768.8Z" fill="#3080fb" stroke="#3080fb" stroke-width="0.5"/>
<path d="M154.2 764.6L155.8 764.0L154.6 766.0L153.0 766.6Z" fill="#2d8cf3" stroke="#2d8cf3" stroke-width="0.5"/>
<path d="M157.1 761.9L158.6 761.2L157.4 763.3L155.8 764.0Z" fill="#2699e9" stroke="#2699e9" stroke-width="0.5"/>
<path d="M159.9 758.9L161.5 758.0L160.2 760.3L158.6 761.2Z" fill="#1ea7e1" stroke="#1ea7e1" stroke-width="0.5"/>
<path d="M162.7 755.6L164.3 754.6L163.1 757.0L161.5 758.0Z" fill="#0bb3d2" stroke="#0bb3d2" stroke-width="0.5"/>
<path d="M93.0 752.1L94.6 754.6L93.4 753.6L91.8 751.0Z" fill="#10b2d5" stroke="#10b2d5" stroke-width="0.5"/>
<path d="M95.8 755.6L97.4 758.0L96.2 757.1L94.6 754.6Z" fill="#1fa5e2" stroke="#1fa5e2" stroke-width="0.5"/>
<path d="M98.7 758.8L100.3 761.1L99.0 760.3L97.4 758.0Z" fill="#2698ea" stroke="#2698ea" stroke-width="0.5"/>
<path d="M101.5 761.7L103.1 763.8L101.9 763.2L100.3 761.1Z" fill="#2d8cf3" stroke="#2d8cf3" stroke-width="0.5"/>
<path d="M104.4 764.3L106.0 766.3L104.7 765.8L103.1 763.8Z" fill="#2f80fa" stroke="#2f80fa" stroke-width="0.5"/>
<path d="M107.2 766.7L108.8 768.5L107.5 768.2L106.0 766.3Z" fill="#3975fe" stroke="#3975fe" stroke-width="0.5"/>
<path d="M110.0 768.7L111.6 770.5L110.4 770.2L108.8 768.5Z" fill="#416bfe" stroke="#416bfe" stroke-width="0.5"/>
<path d="M112.9 770.5L114.5 772.1L113.2 772.0L111.6 770.5Z" fill="#4563fd" stroke="#4563fd" stroke-width="0.5"/>
<path d="M115.7 772.0L117.3 773.4L116.1 773.5L114.5 772.1Z" fill="#465dfa" stroke="#465dfa" stroke-width="0.5"/>
<path d="M118.6 773.2L120.2 774.5L118.9 774.7L117.3 773.4Z" fill="#4759f8" stroke="#4759f8" stroke-width="0.5"/>
<path d="M121.4 774.1L123.0 775.2L121.7 775.6L120.2 774.5Z" fill="#4755f6" stroke="#4755f6" stroke-width="0.5"/>
<path d="M124.2 774.7L125.8 775.7L124.6 776.2L123.0 775.2Z" fill="#4853f5" stroke="#4853f5" stroke-width="0.5"/>
<path d="M127.1 775.0L128.7 775.9L127.4 776.5L125.8 775.7Z" fill="#4853f4" stroke="#4853f4" stroke-width="0.5"/>
<path d="M129.9 775.1L131.5 775.8L130.3 776.6L128.7 775.9Z" fill="#4853f5" stroke="#4853f5" stroke-width="0.5"/>
<path d="M132.8 774.8L134.3 775.4L133.1 776.3L131.5 775.8Z" fill="#4755f6" stroke="#4755f6" stroke-width="0.5"/>
<path d="M135.6 774.3L137.2 774.7L135.9 775.8L134.3 775.4Z" fill="#4759f8" stroke="#4759f8" stroke-width="0.5"/>
<path d="M138.4 773.5L140.0 773.8L138.8 775.0L137.2 774.7Z" fill="#465dfa" stroke="#465dfa" stroke-width="0.5"/>
<path d="M141.3 772.4L142.9 772.5L141.6 773.9L140.0 773.8Z" fill="#4563fd" stroke="#4563fd" stroke-width="0.5"/>
<path d="M144.1 771.0L145.7 771.0L144.5 772.5L142.9 772.5Z" fill="#416bfe" stroke="#416bfe" stroke-width="0.5"/>
<path d="M146.9 769.3L148.5 769.1L147.3 770.8L145.7 771.0Z" fill="#3975fe" stroke="#3975fe" stroke-width="0.5"/>
<path d="M149.8 767.3L151.4 767.0L150.1 768.8L148.5 769.1Z" fill="#2f80fa" stroke="#2f80fa" stroke-width="0.5"/>
<path d="M152.6 765.1L154.2 764.6L153.0 766.6L151.4 767.0Z" fill="#2d8cf3" stroke="#2d8cf3" stroke-width="0.5"/>
<path d="M155.5 762.5L157.1 761.9L155.8 764.0L154.2 764.6Z" fill="#2698ea" stroke="#2698ea" stroke-width="0.5"/>
<path d="M158.3 759.7L159.9 758.9L158.6 761.2L157.1 761.9Z" fill="#1fa5e2" stroke="#1fa5e2" stroke-width="0.5"/>
<path d="M161.1 756.5L162.7 755.6L161.5 758.0L159.9 758.9Z" fill="#10b2d5" stroke="#10b2d5" stroke-width="0.5"/>
<path d="M94.3 753.0L95.8 755.6L94.6 754.6L93.0 752.1Z" fill="#12b1d7" stroke="#12b1d7" stroke-width="0.5"/>
<path d="M97.1 756.4L98.7 758.8L97.4 758.0L95.8 755.6Z" fill="#20a5e3" stroke="#20a5e3" stroke-width="0.5"/>
<path d="M99.9 759.4L101.5 761.7L100.3 761.1L98.7 758.8Z" fill="#2798ea" stroke="#2798ea" stroke-width="0.5"/>
<path d="M102.8 762.2L104.4 764.3L103.1 763.8L101.5 761.7Z" fill="#2d8cf3" stroke="#2d8cf3" stroke-width="0.5"/>
<path d="M105.6 764.7L107.2 766.7L106.0 766.3L104.4 764.3Z" fill="#2f82fa" stroke="#2f82fa" stroke-width="0.5"/>
<path d="M108.4 766.9L110.0 768.7L108.8 768.5L107.2 766.7Z" fill="#3777fe" stroke="#3777fe" stroke-width="0.5"/>
<path d="M111.3 768.8L112.9 770.5L111.6 770.5L110.0 768.7Z" fill="#3f6eff" stroke="#3f6eff" stroke-width="0.5"/>
<path d="M114.1 770.4L115.7 772.0L114.5 772.1L112.9 770.5Z" fill="#4367fd" stroke="#4367fd" stroke-width="0.5"/>
<path d="M117.0 771.8L118.6 773.2L117.3 773.4L115.7 772.0Z" fill="#4561fc" stroke="#4561fc" stroke-width="0.5"/>
<path d="M119.8 772.8L121.4 774.1L120.2 774.5L118.6 773.2Z" fill="#465dfa" stroke="#465dfa" stroke-width="0.5"/>
<path d="M122.6 773.6L124.2 774.7L123.0 775.2L121.4 774.1Z" fill="#475af9" stroke="#475af9" stroke-width="0.5"/>
<path d="M125.5 774.1L127.1 775.0L125.8 775.7L124.2 774.7Z" fill="#4759f8" stroke="#4759f8" stroke-width="0.5"/>
<path d="M128.3 774.2L129.9 775.1L128.7 775.9L127.1 775.0Z" fill="#4759f8" stroke="#4759f8" stroke-width="0.5"/>
<path d="M131.2 774.1L132.8 774.8L131.5 775.8L129.9 775.1Z" fill="#475af9" stroke="#475af9" stroke-width="0.5"/>
<path d="M134.0 773.8L135.6 774.3L134.3 775.4L132.8 774.8Z" fill="#465dfa" stroke="#465dfa" stroke-width="0.5"/>
<path d="M136.8 773.1L138.4 773.5L137.2 774.7L135.6 774.3Z" fill="#4561fc" stroke="#4561fc" stroke-width="0.5"/>
<path d="M139.7 772.1L141.3 772.4L140.0 773.8L138.4 773.5Z" fill="#4367fd" stroke="#4367fd" stroke-width="0.5"/>
<path d="M142.5 770.9L144.1 771.0L142.9 772.5L141.3 772.4Z" fill="#3f6eff" stroke="#3f6eff" stroke-width="0.5"/>
<path d="M145.4 769.3L146.9 769.3L145.7 771.0L144.1 771.0Z" fill="#3777fe" stroke="#3777fe" stroke-width="0.5"/>
<path d="M148.2 767.5L149.8 767.3L148.5 769.1L146.9 769.3Z" fill="#2f82fa" stroke="#2f82fa" stroke-width="0.5"/>
<path d="M151.0 765.4L152.6 765.1L151.4 767.0L149.8 767.3Z" fill="#2d8cf3" stroke="#2d8cf3" stroke-width="0.5"/>
<path d="M153.9 763.0L155.5 762.5L154.2 764.6L152.6 765.1Z" fill="#2798ea" stroke="#2798ea" stroke-width="0.5"/>
<path d="M156.7 760.3L158.3 759.7L157.1 761.9L155.5 762.5Z" fill="#20a5e3" stroke="#20a5e3" stroke-width="0.5"/>
<path d="M159.5 757.3L161.1 756.5L159.9 758.9L158.3 759.7Z" fill="#12b1d7" stroke="#12b1d7" stroke-width="0.5"/>
<path d="M95.5 753.8L97.1 756.4L95.8 755.6L94.3 753.0Z" fill="#13b0d7" stroke="#13b0d7" stroke-width="0.5"/>
<path d="M98.3 757.0L99.9 759.4L98.7 758.8L97.1 756.4Z" fill="#20a4e3" stroke="#20a4e3" stroke-width="0.5"/>
<path d="M101.2 759.9L102.8 762.2L101.5 761.7L99.9 759.4Z" fill="#2699e9" stroke="#2699e9" stroke-width="0.5"/>
<path d="M104.0 762.6L105.6 764.7L104.4 764.3L102.8 762.2Z" fill="#2c8ef2" stroke="#2c8ef2" stroke-width="0.5"/>
<path d="M106.9 764.9L108.4 766.9L107.2 766.7L105.6 764.7Z" fill="#2e83f9" stroke="#2e83f9" stroke-width="0.5"/>
<path d="M109.7 767.0L111.3 768.8L110.0 768.7L108.4 766.9Z" fill="#347afd" stroke="#347afd" stroke-width="0.5"/>
<path d="M112.5 768.7L114.1 770.4L112.9 770.5L111.3 768.8Z" fill="#3c72ff" stroke="#3c72ff" stroke-width="0.5"/>
<path d="M115.4 770.2L117.0 771.8L115.7 772.0L114.1 770.4Z" fill="#416bfe" stroke="#416bfe" stroke-width="0.5"/>
<path d="M118.2 771.4L119.8 772.8L118.6 773.2L117.0 771.8Z" fill="#4466fd" stroke="#4466fd" stroke-width="0.5"/>
<path d="M121.0 772.3L122.6 773.6L121.4 774.1L119.8 772.8Z" fill="#4562fc" stroke="#4562fc" stroke-width="0.5"/>
<path d="M123.9 772.9L125.5 774.1L124.2 774.7L122.6 773.6Z" fill="#4660fc" stroke="#4660fc" stroke-width="0.5"/>
<path d="M126.7 773.3L128.3 774.2L127.1 775.0L125.5 774.1Z" fill="#4660fb" stroke="#4660fb" stroke-width="0.5"/>
<path d="M129.6 773.3L131.2 774.1L129.9 775.1L128.3 774.2Z" fill="#4660fc" stroke="#4660fc" stroke-width="0.5"/>
<path d="M132.4 773.1L134.0 773.8L132.8 774.8L131.2 774.1Z" fill="#4562fc" stroke="#4562fc" stroke-width="0.5"/>
<path d="M135.2 772.5L136.8 773.1L135.6 774.3L134.0 773.8Z" fill="#4466fd" stroke="#4466fd" stroke-width="0.5"/>
<path d="M138.1 771.7L139.7 772.1L138.4 773.5L136.8 773.1Z" fill="#416bfe" stroke="#416bfe" stroke-width="0.5"/>
<path d="M140.9 770.6L142.5 770.9L141.3 772.4L139.7 772.1Z" fill="#3c72ff" stroke="#3c72ff" stroke-width="0.5"/>
<path d="M143.8 769.2L145.4 769.3L144.1 771.0L142.5 770.9Z" fill="#347afd" stroke="#347afd" stroke-width="0.5"/>
<path d="M146.6 767.5L148.2 767.5L146.9 769.3L145.4 769.3Z" fill="#2e83f9" stroke="#2e83f9" stroke-width="0.5"/>
<path d="M149.4 765.6L151.0 765.4L149.8 767.3L148.2 767.5Z" fill="#2c8ef2" stroke="#2c8ef2" stroke-width="0.5"/>
<path d="M152.3 763.3L153.9 763.0L152.6 765.1L151.0 765.4Z" fill="#2699e9" stroke="#2699e9" stroke-width="0.5"/>
<path d="M155.1 760.7L156.7 760.3L155.5 762.5L153.9 763.0Z" fill="#20a4e3" stroke="#20a4e3" stroke-width="0.5"/>
<path d="M157.9 757.9L159.5 757.3L158.3 759.7L156.7 760.3Z" fill="#13b0d7" stroke="#13b0d7" stroke-width="0.5"/>
<path d="M96.7 754.5L98.3 757.0L97.1 756.4L95.5 753.8Z" fill="#14b0d8" stroke="#14b0d8" stroke-width="0.5"/>
<path d="M99.6 757.5L101.2 759.9L99.9 759.4L98.3 757.0Z" fill="#20a5e2" stroke="#20a5e2" stroke-width="0.5"/>
<path d="M102.4 760.3L104.0 762.6L102.8 762.2L101.2 759.9Z" fill="#269ae9" stroke="#269ae9" stroke-width="0.5"/>
<path d="M105.3 762.8L106.9 764.9L105.6 764.7L104.0 762.6Z" fill="#2c90f0" stroke="#2c90f0" stroke-width="0.5"/>
<path d="M108.1 765.0L109.7 767.0L108.4 766.9L106.9 764.9Z" fill="#2e86f7" stroke="#2e86f7" stroke-width="0.5"/>
<path d="M110.9 766.9L112.5 768.7L111.3 768.8L109.7 767.0Z" fill="#317efb" stroke="#317efb" stroke-width="0.5"/>
<path d="M113.8 768.5L115.4 770.2L114.1 770.4L112.5 768.7Z" fill="#3876fe" stroke="#3876fe" stroke-width="0.5"/>
<path d="M116.6 769.9L118.2 771.4L117.0 771.8L115.4 770.2Z" fill="#3d70ff" stroke="#3d70ff" stroke-width="0.5"/>
<path d="M119.5 770.9L121.0 772.3L119.8 772.8L118.2 771.4Z" fill="#416bfe" stroke="#416bfe" stroke-width="0.5"/>
<path d="M122.3 771.7L123.9 772.9L122.6 773.6L121.0 772.3Z" fill="#4369fe" stroke="#4369fe" stroke-width="0.5"/>
<path d="M125.1 772.2L126.7 773.3L125.5 774.1L123.9 772.9Z" fill="#4367fd" stroke="#4367fd" stroke-width="0.5"/>
<path d="M128.0 772.3L129.6 773.3L128.3 774.2L126.7 773.3Z" fill="#4367fd" stroke="#4367fd" stroke-width="0.5"/>
<path d="M130.8 772.2L132.4 773.1L131.2 774.1L129.6 773.3Z" fill="#4369fe" stroke="#4369fe" stroke-width="0.5"/>
<path d="M133.6 771.9L135.2 772.5L134.0 773.8L132.4 773.1Z" fill="#416bfe" stroke="#416bfe" stroke-width="0.5"/>
<path d="M136.5 771.2L138.1 771.7L136.8 773.1L135.2 772.5Z" fill="#3d70ff" stroke="#3d70ff" stroke-width="0.5"/>
<path d="M139.3 770.2L140.9 770.6L139.7 772.1L138.1 771.7Z" fill="#3876fe" stroke="#3876fe" stroke-width="0.5"/>
<path d="M142.2 769.0L143.8 769.2L142.5 770.9L140.9 770.6Z" fill="#317efb" stroke="#317efb" stroke-width="0.5"/>
<path d="M145.0 767.4L146.6 767.5L145.4 769.3L143.8 769.2Z" fill="#2e86f7" stroke="#2e86f7" stroke-width="0.5"/>
<path d="M147.8 765.6L149.4 765.6L148.2 767.5L146.6 767.5Z" fill="#2c90f0" stroke="#2c90f0" stroke-width="0.5"/>
<path d="M150.7 763.5L152.3 763.3L151.0 765.4L149.4 765.6Z" fill="#269ae9" stroke="#269ae9" stroke-width="0.5"/>
<path d="M153.5 761.1L155.1 760.7L153.9 763.0L152.3 763.3Z" fill="#20a5e2" stroke="#20a5e2" stroke-width="0.5"/>
<path d="M156.4 758.4L157.9 757.9L156.7 760.3L155.1 760.7Z" fill="#14b0d8" stroke="#14b0d8" stroke-width="0.5"/>
<path d="M98.0 755.0L99.6 757.5L98.3 757.0L96.7 754.5Z" fill="#13b0d7" stroke="#13b0d7" stroke-width="0.5"/>
<path d="M100.8 757.9L102.4 760.3L101.2 759.9L99.6 757.5Z" fill="#1fa6e2" stroke="#1fa6e2" stroke-width="0.5"/>
<path d="M103.7 760.5L105.3 762.8L104.0 762.6L102.4 760.3Z" fill="#259ce7" stroke="#259ce7" stroke-width="0.5"/>
<path d="M106.5 762.9L108.1 765.0L106.9 764.9L105.3 762.8Z" fill="#2b92ee" stroke="#2b92ee" stroke-width="0.5"/>
<path d="M109.3 764.9L110.9 766.9L109.7 767.0L108.1 765.0Z" fill="#2d89f5" stroke="#2d89f5" stroke-width="0.5"/>
<path d="M112.2 766.7L113.8 768.5L112.5 768.7L110.9 766.9Z" fill="#2f82fa" stroke="#2f82fa" stroke-width="0.5"/>
<path d="M115.0 768.2L116.6 769.9L115.4 770.2L113.8 768.5Z" fill="#327bfc" stroke="#327bfc" stroke-width="0.5"/>
<path d="M117.9 769.4L119.5 770.9L118.2 771.4L116.6 769.9Z" fill="#3876fe" stroke="#3876fe" stroke-width="0.5"/>
<path d="M120.7 770.3L122.3 771.7L121.0 772.3L119.5 770.9Z" fill="#3b72ff" stroke="#3b72ff" stroke-width="0.5"/>
<path d="M123.5 770.9L125.1 772.2L123.9 772.9L122.3 771.7Z" fill="#3e70ff" stroke="#3e70ff" stroke-width="0.5"/>
<path d="M126.4 771.2L128.0 772.3L126.7 773.3L125.1 772.2Z" fill="#3e6fff" stroke="#3e6fff" stroke-width="0.5"/>
<path d="M129.2 771.3L130.8 772.2L129.6 773.3L128.0 772.3Z" fill="#3e70ff" stroke="#3e70ff" stroke-width="0.5"/>
<path d="M132.1 771.0L133.6 771.9L132.4 773.1L130.8 772.2Z" fill="#3b72ff" stroke="#3b72ff" stroke-width="0.5"/>
<path d="M134.9 770.5L136.5 771.2L135.2 772.5L133.6 771.9Z" fill="#3876fe" stroke="#3876fe" stroke-width="0.5"/>
<path d="M137.7 769.7L139.3 770.2L138.1 771.7L136.5 771.2Z" fill="#327bfc" stroke="#327bfc" stroke-width="0.5"/>
<path d="M140.6 768.6L142.2 769.0L140.9 770.6L139.3 770.2Z" fill="#2f82fa" stroke="#2f82fa" stroke-width="0.5"/>
<path d="M143.4 767.2L145.0 767.4L143.8 769.2L142.2 769.0Z" fill="#2d89f5" stroke="#2d89f5" stroke-width="0.5"/>
<path d="M146.2 765.5L147.8 765.6L146.6 767.5L145.0 767.4Z" fill="#2b92ee" stroke="#2b92ee" stroke-width="0.5"/>
<path d="M149.1 763.5L150.7 763.5L149.4 765.6L147.8 765.6Z" fill="#259ce7" stroke="#259ce7" stroke-width="0.5"/>
<path d="M151.9 761.3L153.5 761.1L152.3 763.3L150.7 763.5Z" fill="#1fa6e2" stroke="#1fa6e2" stroke-width="0.5"/>
<path d="M154.8 758.7L156.4 758.4L155.1 760.7L153.5 761.1Z" fill="#13b0d7" stroke="#13b0d7" stroke-width="0.5"/>
<path d="M99.2 755.4L100.8 757.9L99.6 757.5L98.0 755.0Z" fill="#11b1d6" stroke="#11b1d6" stroke-width="0.5"/>
<path d="M102.1 758.2L103.7 760.5L102.4 760.3L100.8 757.9Z" fill="#1ea8e1" stroke="#1ea8e1" stroke-width="0.5"/>
<path d="M104.9 760.6L106.5 762.9L105.3 762.8L103.7 760.5Z" fill="#249ee6" stroke="#249ee6" stroke-width="0.5"/>
<path d="M107.8 762.8L109.3 764.9L108.1 765.0L106.5 762.9Z" fill="#2895ec" stroke="#2895ec" stroke-width="0.5"/>
<path d="M110.6 764.8L112.2 766.7L110.9 766.9L109.3 764.9Z" fill="#2d8df2" stroke="#2d8df2" stroke-width="0.5"/>
<path d="M113.4 766.4L115.0 768.2L113.8 768.5L112.2 766.7Z" fill="#2e86f7" stroke="#2e86f7" stroke-width="0.5"/>
<path d="M116.3 767.7L117.9 769.4L116.6 769.9L115.0 768.2Z" fill="#2f81fa" stroke="#2f81fa" stroke-width="0.5"/>
<path d="M119.1 768.8L120.7 770.3L119.5 770.9L117.9 769.4Z" fill="#327dfc" stroke="#327dfc" stroke-width="0.5"/>
<path d="M121.9 769.5L123.5 770.9L122.3 771.7L120.7 770.3Z" fill="#347afd" stroke="#347afd" stroke-width="0.5"/>
<path d="M124.8 770.0L126.4 771.2L125.1 772.2L123.5 770.9Z" fill="#3678fd" stroke="#3678fd" stroke-width="0.5"/>
<path d="M127.6 770.2L129.2 771.3L128.0 772.3L126.4 771.2Z" fill="#3678fd" stroke="#3678fd" stroke-width="0.5"/>
<path d="M130.5 770.1L132.1 771.0L130.8 772.2L129.2 771.3Z" fill="#347afd" stroke="#347afd" stroke-width="0.5"/>
<path d="M133.3 769.7L134.9 770.5L133.6 771.9L132.1 771.0Z" fill="#327dfc" stroke="#327dfc" stroke-width="0.5"/>
<path d="M136.1 769.0L137.7 769.7L136.5 771.2L134.9 770.5Z" fill="#2f81fa" stroke="#2f81fa" stroke-width="0.5"/>
<path d="M139.0 768.0L140.6 768.6L139.3 770.2L137.7 769.7Z" fill="#2e86f7" stroke="#2e86f7" stroke-width="0.5"/>
<path d="M141.8 766.8L143.4 767.2L142.2 769.0L140.6 768.6Z" fill="#2d8df2" stroke="#2d8df2" stroke-width="0.5"/>
<path d="M144.7 765.3L146.2 765.5L145.0 767.4L143.4 767.2Z" fill="#2895ec" stroke="#2895ec" stroke-width="0.5"/>
<path d="M147.5 763.4L149.1 763.5L147.8 765.6L146.2 765.5Z" fill="#249ee6" stroke="#249ee6" stroke-width="0.5"/>
<path d="M150.3 761.3L151.9 761.3L150.7 763.5L149.1 763.5Z" fill="#1ea8e1" stroke="#1ea8e1" stroke-width="0.5"/>
<path d="M153.2 758.9L154.8 758.7L153.5 761.1L151.9 761.3Z" fill="#11b1d6" stroke="#11b1d6" stroke-width="0.5"/>
<path d="M100.5 755.6L102.1 758.2L100.8 757.9L99.2 755.4Z" fill="#0eb2d4" stroke="#0eb2d4" stroke-width="0.5"/>
<path d="M103.3 758.3L104.9 760.6L103.7 760.5L102.1 758.2Z" fill="#1caadf" stroke="#1caadf" stroke-width="0.5"/>
<path d="M106.2 760.6L107.8 762.8L106.5 762.9L104.9 760.6Z" fill="#23a1e5" stroke="#23a1e5" stroke-width="0.5"/>
<path d="M109.0 762.7L110.6 764.8L109.3 764.9L107.8 762.8Z" fill="#2699e9" stroke="#2699e9" stroke-width="0.5"/>
<path d="M111.8 764.4L113.4 766.4L112.2 766.7L110.6 764.8Z" fill="#2b92ef" stroke="#2b92ef" stroke-width="0.5"/>
<path d="M114.7 765.9L116.3 767.7L115.0 768.2L113.4 766.4Z" fill="#2d8cf3" stroke="#2d8cf3" stroke-width="0.5"/>
<path d="M117.5 767.1L119.1 768.8L117.9 769.4L116.3 767.7Z" fill="#2e87f7" stroke="#2e87f7" stroke-width="0.5"/>
<path d="M120.4 768.0L121.9 769.5L120.7 770.3L119.1 768.8Z" fill="#2e83f9" stroke="#2e83f9" stroke-width="0.5"/>
<path d="M123.2 768.6L124.8 770.0L123.5 770.9L121.9 769.5Z" fill="#2f81fa" stroke="#2f81fa" stroke-width="0.5"/>
<path d="M126.0 768.9L127.6 770.2L126.4 771.2L124.8 770.0Z" fill="#2f81fa" stroke="#2f81fa" stroke-width="0.5"/>
<path d="M128.9 769.0L130.5 770.1L129.2 771.3L127.6 770.2Z" fill="#2f81fa" stroke="#2f81fa" stroke-width="0.5"/>
<path d="M131.7 768.7L133.3 769.7L132.1 771.0L130.5 770.1Z" fill="#2e83f9" stroke="#2e83f9" stroke-width="0.5"/>
<path d="M134.5 768.2L136.1 769.0L134.9 770.5L133.3 769.7Z" fill="#2e87f7" stroke="#2e87f7" stroke-width="0.5"/>
<path d="M137.4 767.4L139.0 768.0L137.7 769.7L136.1 769.0Z" fill="#2d8cf3" stroke="#2d8cf3" stroke-width="0.5"/>
<path d="M140.2 766.3L141.8 766.8L140.6 768.6L139.0 768.0Z" fill="#2b92ef" stroke="#2b92ef" stroke-width="0.5"/>
<path d="M143.1 764.9L144.7 765.3L143.4 767.2L141.8 766.8Z" fill="#2699e9" stroke="#2699e9" stroke-width="0.5"/>
<path d="M145.9 763.2L147.5 763.4L146.2 765.5L144.7 765.3Z" fill="#23a1e5" stroke="#23a1e5" stroke-width="0.5"/>
<path d="M148.7 761.2L150.3 761.3L149.1 763.5L147.5 763.4Z" fill="#1caadf" stroke="#1caadf" stroke-width="0.5"/>
<path d="M151.6 759.0L153.2 758.9L151.9 761.3L150.3 761.3Z" fill="#0eb2d4" stroke="#0eb2d4" stroke-width="0.5"/>
<path d="M101.7 755.7L103.3 758.3L102.1 758.2L100.5 755.6Z" fill="#09b4d1" stroke="#09b4d1" stroke-width="0.5"/>
<path d="M104.6 758.2L106.2 760.6L104.9 760.6L103.3 758.3Z" fill="#19acdc" stroke="#19acdc" stroke-width="0.5"/>
<path d="M107.4 760.4L109.0 762.7L107.8 762.8L106.2 760.6Z" fill="#20a4e3" stroke="#20a4e3" stroke-width="0.5"/>
<path d="M110.2 762.3L111.8 764.4L110.6 764.8L109.0 762.7Z" fill="#259de7" stroke="#259de7" stroke-width="0.5"/>
<path d="M113.1 764.0L114.7 765.9L113.4 766.4L111.8 764.4Z" fill="#2797eb" stroke="#2797eb" stroke-width="0.5"/>
<path d="M115.9 765.3L117.5 767.1L116.3 767.7L114.7 765.9Z" fill="#2b91ef" stroke="#2b91ef" stroke-width="0.5"/>
<path d="M118.8 766.3L120.4 768.0L119.1 768.8L117.5 767.1Z" fill="#2d8df2" stroke="#2d8df2" stroke-width="0.5"/>
<path d="M121.6 767.1L123.2 768.6L121.9 769.5L120.4 768.0Z" fill="#2d8bf4" stroke="#2d8bf4" stroke-width="0.5"/>
<path d="M124.4 767.6L126.0 768.9L124.8 770.0L123.2 768.6Z" fill="#2d89f5" stroke="#2d89f5" stroke-width="0.5"/>
<path d="M127.3 767.7L128.9 769.0L127.6 770.2L126.0 768.9Z" fill="#2d89f5" stroke="#2d89f5" stroke-width="0.5"/>
<path d="M130.1 767.6L131.7 768.7L130.5 770.1L128.9 769.0Z" fill="#2d8bf4" stroke="#2d8bf4" stroke-width="0.5"/>
<path d="M133.0 767.3L134.5 768.2L133.3 769.7L131.7 768.7Z" fill="#2d8df2" stroke="#2d8df2" stroke-width="0.5"/>
<path d="M135.8 766.6L137.4 767.4L136.1 769.0L134.5 768.2Z" fill="#2b91ef" stroke="#2b91ef" stroke-width="0.5"/>
<path d="M138.6 765.6L140.2 766.3L139.0 768.0L137.4 767.4Z" fill="#2797eb" stroke="#2797eb" stroke-width="0.5"/>
<path d="M141.5 764.4L143.1 764.9L141.8 766.8L140.2 766.3Z" fill="#259de7" stroke="#259de7" stroke-width="0.5"/>
<path d="M144.3 762.8L145.9 763.2L144.7 765.3L143.1 764.9Z" fill="#20a4e3" stroke="#20a4e3" stroke-width="0.5"/>
<path d="M147.1 761.0L148.7 761.2L147.5 763.4L145.9 763.2Z" fill="#19acdc" stroke="#19acdc" stroke-width="0.5"/>
<path d="M150.0 758.9L151.6 759.0L150.3 761.3L148.7 761.2Z" fill="#09b4d1" stroke="#09b4d1" stroke-width="0.5"/>
<path d="M103.0 755.7L104.6 758.2L103.3 758.3L101.7 755.7Z" fill="#05b6cd" stroke="#05b6cd" stroke-width="0.5"/>
<path d="M105.8 758.1L107.4 760.4L106.2 760.6L104.6 758.2Z" fill="#15afd9" stroke="#15afd9" stroke-width="0.5"/>
<path d="M108.7 760.1L110.2 762.3L109.0 762.7L107.4 760.4Z" fill="#1da8e0" stroke="#1da8e0" stroke-width="0.5"/>
<path d="M111.5 761.9L113.1 764.0L111.8 764.4L110.2 762.3Z" fill="#22a1e4" stroke="#22a1e4" stroke-width="0.5"/>
<path d="M114.3 763.4L115.9 765.3L114.7 765.9L113.1 764.0Z" fill="#259ce7" stroke="#259ce7" stroke-width="0.5"/>
<path d="M117.2 764.5L118.8 766.3L117.5 767.1L115.9 765.3Z" fill="#2798ea" stroke="#2798ea" stroke-width="0.5"/>
<path d="M120.0 765.4L121.6 767.1L120.4 768.0L118.8 766.3Z" fill="#2994ed" stroke="#2994ed" stroke-width="0.5"/>
<path d="M122.8 766.1L124.4 767.6L123.2 768.6L121.6 767.1Z" fill="#2a92ee" stroke="#2a92ee" stroke-width="0.5"/>
<path d="M125.7 766.4L127.3 767.7L126.0 768.9L124.4 767.6Z" fill="#2b92ee" stroke="#2b92ee" stroke-width="0.5"/>
<path d="M128.5 766.4L130.1 767.6L128.9 769.0L127.3 767.7Z" fill="#2a92ee" stroke="#2a92ee" stroke-width="0.5"/>
<path d="M131.4 766.2L133.0 767.3L131.7 768.7L130.1 767.6Z" fill="#2994ed" stroke="#2994ed" stroke-width="0.5"/>
<path d="M134.2 765.7L135.8 766.6L134.5 768.2L133.0 767.3Z" fill="#2798ea" stroke="#2798ea" stroke-width="0.5"/>
<path d="M137.0 764.8L138.6 765.6L137.4 767.4L135.8 766.6Z" fill="#259ce7" stroke="#259ce7" stroke-width="0.5"/>
<path d="M139.9 763.7L141.5 764.4L140.2 766.3L138.6 765.6Z" fill="#22a1e4" stroke="#22a1e4" stroke-width="0.5"/>
<path d="M142.7 762.3L144.3 762.8L143.1 764.9L141.5 764.4Z" fill="#1da8e0" stroke="#1da8e0" stroke-width="0.5"/>
<path d="M145.6 760.7L147.1 761.0L145.9 763.2L144.3 762.8Z" fill="#15afd9" stroke="#15afd9" stroke-width="0.5"/>
<path d="M148.4 758.7L150.0 758.9L148.7 761.2L147.1 761.0Z" fill="#05b6cd" stroke="#05b6cd" stroke-width="0.5"/>
<path d="M104.2 755.6L105.8 758.1L104.6 758.2L103.0 755.7Z" fill="#01b8c9" stroke="#01b8c9" stroke-width="0.5"/>
<path d="M107.1 757.8L108.7 760.1L107.4 760.4L105.8 758.1Z" fill="#0fb2d4" stroke="#0fb2d4" stroke-width="0.5"/>
<path d="M109.9 759.7L111.5 761.9L110.2 762.3L108.7 760.1Z" fill="#19acdc" stroke="#19acdc" stroke-width="0.5"/>
<path d="M112.7 761.3L114.3 763.4L113.1 764.0L111.5 761.9Z" fill="#1ea7e1" stroke="#1ea7e1" stroke-width="0.5"/>
<path d="M115.6 762.6L117.2 764.5L115.9 765.3L114.3 763.4Z" fill="#22a2e4" stroke="#22a2e4" stroke-width="0.5"/>
<path d="M118.4 763.7L120.0 765.4L118.8 766.3L117.2 764.5Z" fill="#249ee6" stroke="#249ee6" stroke-width="0.5"/>
<path d="M121.2 764.4L122.8 766.1L121.6 767.1L120.0 765.4Z" fill="#259ce7" stroke="#259ce7" stroke-width="0.5"/>
<path d="M124.1 764.9L125.7 766.4L124.4 767.6L122.8 766.1Z" fill="#269ae8" stroke="#269ae8" stroke-width="0.5"/>
<path d="M126.9 765.1L128.5 766.4L127.3 767.7L125.7 766.4Z" fill="#269ae8" stroke="#269ae8" stroke-width="0.5"/>
<path d="M129.8 765.0L131.4 766.2L130.1 767.6L128.5 766.4Z" fill="#259ce7" stroke="#259ce7" stroke-width="0.5"/>
<path d="M132.6 764.6L134.2 765.7L133.0 767.3L131.4 766.2Z" fill="#249ee6" stroke="#249ee6" stroke-width="0.5"/>
<path d="M135.4 763.9L137.0 764.8L135.8 766.6L134.2 765.7Z" fill="#22a2e4" stroke="#22a2e4" stroke-width="0.5"/>
<path d="M138.3 763.0L139.9 763.7L138.6 765.6L137.0 764.8Z" fill="#1ea7e1" stroke="#1ea7e1" stroke-width="0.5"/>
<path d="M141.1 761.7L142.7 762.3L141.5 764.4L139.9 763.7Z" fill="#19acdc" stroke="#19acdc" stroke-width="0.5"/>
<path d="M144.0 760.2L145.6 760.7L144.3 762.8L142.7 762.3Z" fill="#0fb2d4" stroke="#0fb2d4" stroke-width="0.5"/>
<path d="M146.8 758.4L148.4 758.7L147.1 761.0L145.6 760.7Z" fill="#01b8c9" stroke="#01b8c9" stroke-width="0.5"/>
<path d="M105.5 755.3L107.1 757.8L105.8 758.1L104.2 755.6Z" fill="#02bbc3" stroke="#02bbc3" stroke-width="0.5"/>
<path d="M108.3 757.3L109.9 759.7L108.7 760.1L107.1 757.8Z" fill="#06b6ce" stroke="#06b6ce" stroke-width="0.5"/>
<path d="M111.1 759.1L112.7 761.3L111.5 761.9L109.9 759.7Z" fill="#13b1d7" stroke="#13b1d7" stroke-width="0.5"/>
<path d="M114.0 760.6L115.6 762.6L114.3 763.4L112.7 761.3Z" fill="#1aacdd" stroke="#1aacdd" stroke-width="0.5"/>
<path d="M116.8 761.8L118.4 763.7L117.2 764.5L115.6 762.6Z" fill="#1da8e0" stroke="#1da8e0" stroke-width="0.5"/>
<path d="M119.7 762.7L121.2 764.4L120.0 765.4L118.4 763.7Z" fill="#20a5e2" stroke="#20a5e2" stroke-width="0.5"/>
<path d="M122.5 763.3L124.1 764.9L122.8 766.1L121.2 764.4Z" fill="#21a3e3" stroke="#21a3e3" stroke-width="0.5"/>
<path d="M125.3 763.6L126.9 765.1L125.7 766.4L124.1 764.9Z" fill="#21a3e4" stroke="#21a3e4" stroke-width="0.5"/>
<path d="M128.2 763.6L129.8 765.0L128.5 766.4L126.9 765.1Z" fill="#21a3e3" stroke="#21a3e3" stroke-width="0.5"/>
<path d="M131.0 763.4L132.6 764.6L131.4 766.2L129.8 765.0Z" fill="#20a5e2" stroke="#20a5e2" stroke-width="0.5"/>
<path d="M133.9 762.9L135.4 763.9L134.2 765.7L132.6 764.6Z" fill="#1da8e0" stroke="#1da8e0" stroke-width="0.5"/>
<path d="M136.7 762.1L138.3 763.0L137.0 764.8L135.4 763.9Z" fill="#1aacdd" stroke="#1aacdd" stroke-width="0.5"/>
<path d="M139.5 761.0L141.1 761.7L139.9 763.7L138.3 763.0Z" fill="#13b1d7" stroke="#13b1d7" stroke-width="0.5"/>
<path d="M142.4 759.6L144.0 760.2L142.7 762.3L141.1 761.7Z" fill="#06b6ce" stroke="#06b6ce" stroke-width="0.5"/>
<path d="M145.2 757.9L146.8 758.4L145.6 760.7L144.0 760.2Z" fill="#02bbc3" stroke="#02bbc3" stroke-width="0.5"/>
<path d="M106.7 754.9L108.3 757.3L107.1 757.8L105.5 755.3Z" fill="#0bbdbc" stroke="#0bbdbc" stroke-width="0.5"/>
<path d="M109.5 756.8L111.1 759.1L109.9 759.7L108.3 757.3Z" fill="#01b9c7" stroke="#01b9c7" stroke-width="0.5"/>
<path d="M112.4 758.4L114.0 760.6L112.7 761.3L111.1 759.1Z" fill="#07b5d0" stroke="#07b5d0" stroke-width="0.5"/>
<path d="M115.2 759.7L116.8 761.8L115.6 762.6L114.0 760.6Z" fill="#11b1d6" stroke="#11b1d6" stroke-width="0.5"/>
<path d="M118.1 760.8L119.7 762.7L118.4 763.7L116.8 761.8Z" fill="#17aeda" stroke="#17aeda" stroke-width="0.5"/>
<path d="M120.9 761.5L122.5 763.3L121.2 764.4L119.7 762.7Z" fill="#1aacdd" stroke="#1aacdd" stroke-width="0.5"/>
<path d="M123.7 762.0L125.3 763.6L124.1 764.9L122.5 763.3Z" fill="#1babde" stroke="#1babde" stroke-width="0.5"/>
<path d="M126.6 762.2L128.2 763.6L126.9 765.1L125.3 763.6Z" fill="#1babde" stroke="#1babde" stroke-width="0.5"/>
<path d="M129.4 762.1L131.0 763.4L129.8 765.0L128.2 763.6Z" fill="#1aacdd" stroke="#1aacdd" stroke-width="0.5"/>
<path d="M132.3 761.7L133.9 762.9L132.6 764.6L131.0 763.4Z" fill="#17aeda" stroke="#17aeda" stroke-width="0.5"/>
<path d="M135.1 761.0L136.7 762.1L135.4 763.9L133.9 762.9Z" fill="#11b1d6" stroke="#11b1d6" stroke-width="0.5"/>
<path d="M137.9 760.1L139.5 761.0L138.3 763.0L136.7 762.1Z" fill="#07b5d0" stroke="#07b5d0" stroke-width="0.5"/>
<path d="M140.8 758.8L142.4 759.6L141.1 761.7L139.5 761.0Z" fill="#01b9c7" stroke="#01b9c7" stroke-width="0.5"/>
<path d="M143.6 757.3L145.2 757.9L144.0 760.2L142.4 759.6Z" fill="#0bbdbc" stroke="#0bbdbc" stroke-width="0.5"/>
<path d="M108.0 754.3L109.5 756.8L108.3 757.3L106.7 754.9Z" fill="#1ac0b5" stroke="#1ac0b5" stroke-width="0.5"/>
<path d="M110.8 756.1L112.4 758.4L111.1 759.1L109.5 756.8Z" fill="#08bcbf" stroke="#08bcbf" stroke-width="0.5"/>
<path d="M113.6 757.5L115.2 759.7L114.0 760.6L112.4 758.4Z" fill="#01b9c7" stroke="#01b9c7" stroke-width="0.5"/>
<path d="M116.5 758.7L118.1 760.8L116.8 761.8L115.2 759.7Z" fill="#04b6cd" stroke="#04b6cd" stroke-width="0.5"/>
<path d="M119.3 759.6L120.9 761.5L119.7 762.7L118.1 760.8Z" fill="#09b4d1" stroke="#09b4d1" stroke-width="0.5"/>
<path d="M122.1 760.2L123.7 762.0L122.5 763.3L120.9 761.5Z" fill="#0db3d3" stroke="#0db3d3" stroke-width="0.5"/>
<path d="M125.0 760.6L126.6 762.2L125.3 763.6L123.7 762.0Z" fill="#0eb2d4" stroke="#0eb2d4" stroke-width="0.5"/>
<path d="M127.8 760.6L129.4 762.1L128.2 763.6L126.6 762.2Z" fill="#0db3d3" stroke="#0db3d3" stroke-width="0.5"/>
<path d="M130.7 760.4L132.3 761.7L131.0 763.4L129.4 762.1Z" fill="#09b4d1" stroke="#09b4d1" stroke-width="0.5"/>
<path d="M133.5 759.9L135.1 761.0L133.9 762.9L132.3 761.7Z" fill="#04b6cd" stroke="#04b6cd" stroke-width="0.5"/>
<path d="M136.3 759.0L137.9 760.1L136.7 762.1L135.1 761.0Z" fill="#01b9c7" stroke="#01b9c7" stroke-width="0.5"/>
<path d="M139.2 757.9L140.8 758.8L139.5 761.0L137.9 760.1Z" fill="#08bcbf" stroke="#08bcbf" stroke-width="0.5"/>
<path d="M142.0 756.6L143.6 757.3L142.4 759.6L140.8 758.8Z" fill="#1ac0b5" stroke="#1ac0b5" stroke-width="0.5"/>
<path d="M109.2 753.6L110.8 756.1L109.5 756.8L108.0 754.3Z" fill="#27c2ac" stroke="#27c2ac" stroke-width="0.5"/>
<path d="M112.0 755.3L113.6 757.5L112.4 758.4L110.8 756.1Z" fill="#19bfb5" stroke="#19bfb5" stroke-width="0.5"/>
<path d="M114.9 756.6L116.5 758.7L115.2 759.7L113.6 757.5Z" fill="#0bbdbd" stroke="#0bbdbd" stroke-width="0.5"/>
<path d="M117.7 757.6L119.3 759.6L118.1 760.8L116.5 758.7Z" fill="#03bbc2" stroke="#03bbc2" stroke-width="0.5"/>
<path d="M120.6 758.4L122.1 760.2L120.9 761.5L119.3 759.6Z" fill="#01b9c6" stroke="#01b9c6" stroke-width="0.5"/>
<path d="M123.4 758.9L125.0 760.6L123.7 762.0L122.1 760.2Z" fill="#01b9c8" stroke="#01b9c8" stroke-width="0.5"/>
<path d="M126.2 759.0L127.8 760.6L126.6 762.2L125.0 760.6Z" fill="#01b9c8" stroke="#01b9c8" stroke-width="0.5"/>
<path d="M129.1 758.9L130.7 760.4L129.4 762.1L127.8 760.6Z" fill="#01b9c6" stroke="#01b9c6" stroke-width="0.5"/>
<path d="M131.9 758.6L133.5 759.9L132.3 761.7L130.7 760.4Z" fill="#03bbc2" stroke="#03bbc2" stroke-width="0.5"/>
<path d="M134.7 757.9L136.3 759.0L135.1 761.0L133.5 759.9Z" fill="#0bbdbd" stroke="#0bbdbd" stroke-width="0.5"/>
<path d="M137.6 756.9L139.2 757.9L137.9 760.1L136.3 759.0Z" fill="#19bfb5" stroke="#19bfb5" stroke-width="0.5"/>
<path d="M140.4 755.7L142.0 756.6L140.8 758.8L139.2 757.9Z" fill="#27c2ac" stroke="#27c2ac" stroke-width="0.5"/>
<path d="M110.4 752.8L112.0 755.3L110.8 756.1L109.2 753.6Z" fill="#30c5a1" stroke="#30c5a1" stroke-width="0.5"/>
<path d="M113.3 754.3L114.9 756.6L113.6 757.5L112.0 755.3Z" fill="#28c3ab" stroke="#28c3ab" stroke-width="0.5"/>
<path d="M116.1 755.5L117.7 757.6L116.5 758.7L114.9 756.6Z" fill="#1fc0b1" stroke="#1fc0b1" stroke-width="0.5"/>
<path d="M119.0 756.4L120.6 758.4L119.3 759.6L117.7 757.6Z" fill="#17bfb6" stroke="#17bfb6" stroke-width="0.5"/>
<path d="M121.8 757.0L123.4 758.9L122.1 760.2L120.6 758.4Z" fill="#12beb9" stroke="#12beb9" stroke-width="0.5"/>
<path d="M124.6 757.3L126.2 759.0L125.0 760.6L123.4 758.9Z" fill="#10beba" stroke="#10beba" stroke-width="0.5"/>
<path d="M127.5 757.4L129.1 758.9L127.8 760.6L126.2 759.0Z" fill="#12beb9" stroke="#12beb9" stroke-width="0.5"/>
<path d="M130.3 757.1L131.9 758.6L130.7 760.4L129.1 758.9Z" fill="#17bfb6" stroke="#17bfb6" stroke-width="0.5"/>
<path d="M133.2 756.6L134.7 757.9L133.5 759.9L131.9 758.6Z" fill="#1fc0b1" stroke="#1fc0b1" stroke-width="0.5"/>
<path d="M136.0 755.8L137.6 756.9L136.3 759.0L134.7 757.9Z" fill="#28c3ab" stroke="#28c3ab" stroke-width="0.5"/>
<path d="M138.8 754.7L140.4 755.7L139.2 757.9L137.6 756.9Z" fill="#30c5a1" stroke="#30c5a1" stroke-width="0.5"/>
<path d="M111.7 751.9L113.3 754.3L112.0 755.3L110.4 752.8Z" fill="#39c895" stroke="#39c895" stroke-width="0.5"/>
<path d="M114.5 753.3L116.1 755.5L114.9 756.6L113.3 754.3Z" fill="#32c69e" stroke="#32c69e" stroke-width="0.5"/>
<path d="M117.4 754.3L119.0 756.4L117.7 757.6L116.1 755.5Z" fill="#2ec4a4" stroke="#2ec4a4" stroke-width="0.5"/>
<path d="M120.2 755.1L121.8 757.0L120.6 758.4L119.0 756.4Z" fill="#2ac3a9" stroke="#2ac3a9" stroke-width="0.5"/>
<path d="M123.0 755.5L124.6 757.3L123.4 758.9L121.8 757.0Z" fill="#28c3ab" stroke="#28c3ab" stroke-width="0.5"/>
<path d="M125.9 755.7L127.5 757.4L126.2 759.0L124.6 757.3Z" fill="#28c3ab" stroke="#28c3ab" stroke-width="0.5"/>
<path d="M128.7 755.6L130.3 757.1L129.1 758.9L127.5 757.4Z" fill="#2ac3a9" stroke="#2ac3a9" stroke-width="0.5"/>
<path d="M131.6 755.2L133.2 756.6L131.9 758.6L130.3 757.1Z" fill="#2ec4a4" stroke="#2ec4a4" stroke-width="0.5"/>
<path d="M134.4 754.6L136.0 755.8L134.7 757.9L133.2 756.6Z" fill="#32c69e" stroke="#32c69e" stroke-width="0.5"/>
<path d="M137.2 753.6L138.8 754.7L137.6 756.9L136.0 755.8Z" fill="#39c895" stroke="#39c895" stroke-width="0.5"/>
<path d="M112.9 750.9L114.5 753.3L113.3 754.3L111.7 751.9Z" fill="#49cb85" stroke="#49cb85" stroke-width="0.5"/>
<path d="M115.8 752.1L117.4 754.3L116.1 755.5L114.5 753.3Z" fill="#3eca8f" stroke="#3eca8f" stroke-width="0.5"/>
<path d="M118.6 753.0L120.2 755.1L119.0 756.4L117.4 754.3Z" fill="#39c895" stroke="#39c895" stroke-width="0.5"/>
<path d="M121.5 753.6L123.0 755.5L121.8 757.0L120.2 755.1Z" fill="#36c899" stroke="#36c899" stroke-width="0.5"/>
<path d="M124.3 753.9L125.9 755.7L124.6 757.3L123.0 755.5Z" fill="#35c79a" stroke="#35c79a" stroke-width="0.5"/>
<path d="M127.1 754.0L128.7 755.6L127.5 757.4L125.9 755.7Z" fill="#36c899" stroke="#36c899" stroke-width="0.5"/>
<path d="M130.0 753.7L131.6 755.2L130.3 757.1L128.7 755.6Z" fill="#39c895" stroke="#39c895" stroke-width="0.5"/>
<path d="M132.8 753.2L134.4 754.6L133.2 756.6L131.6 755.2Z" fill="#3eca8f" stroke="#3eca8f" stroke-width="0.5"/>
<path d="M135.6 752.4L137.2 753.6L136.0 755.8L134.4 754.6Z" fill="#49cb85" stroke="#49cb85" stroke-width="0.5"/>
<path d="M114.2 749.7L115.8 752.1L114.5 753.3L112.9 750.9Z" fill="#5fcd73" stroke="#5fcd73" stroke-width="0.5"/>
<path d="M117.0 750.8L118.6 753.0L117.4 754.3L115.8 752.1Z" fill="#54cc7c" stroke="#54cc7c" stroke-width="0.5"/>
<path d="M119.9 751.5L121.5 753.6L120.2 755.1L118.6 753.0Z" fill="#4dcc82" stroke="#4dcc82" stroke-width="0.5"/>
<path d="M122.7 752.0L124.3 753.9L123.0 755.5L121.5 753.6Z" fill="#4acb85" stroke="#4acb85" stroke-width="0.5"/>
<path d="M125.5 752.2L127.1 754.0L125.9 755.7L124.3 753.9Z" fill="#4acb85" stroke="#4acb85" stroke-width="0.5"/>
<path d="M128.4 752.1L130.0 753.7L128.7 755.6L127.1 754.0Z" fill="#4dcc82" stroke="#4dcc82" stroke-width="0.5"/>
<path d="M131.2 751.7L132.8 753.2L131.6 755.2L130.0 753.7Z" fill="#54cc7c" stroke="#54cc7c" stroke-width="0.5"/>
<path d="M134.1 751.0L135.6 752.4L134.4 754.6L132.8 753.2Z" fill="#5fcd73" stroke="#5fcd73" stroke-width="0.5"/>
<path d="M115.4 748.5L117.0 750.8L115.8 752.1L114.2 749.7Z" fill="#79cc5e" stroke="#79cc5e" stroke-width="0.5"/>
<path d="M118.3 749.4L119.9 751.5L118.6 753.0L117.0 750.8Z" fill="#6fcd66" stroke="#6fcd66" stroke-width="0.5"/>
<path d="M121.1 750.0L122.7 752.0L121.5 753.6L119.9 751.5Z" fill="#69cd6b" stroke="#69cd6b" stroke-width="0.5"/>
<path d="M123.9 750.3L125.5 752.2L124.3 753.9L122.7 752.0Z" fill="#67cd6c" stroke="#67cd6c" stroke-width="0.5"/>
<path d="M126.8 750.3L128.4 752.1L127.1 754.0L125.5 752.2Z" fill="#69cd6b" stroke="#69cd6b" stroke-width="0.5"/>
<path d="M129.6 750.1L131.2 751.7L130.0 753.7L128.4 752.1Z" fill="#6fcd66" stroke="#6fcd66" stroke-width="0.5"/>
<path d="M132.5 749.6L134.1 751.0L132.8 753.2L131.2 751.7Z" fill="#79cc5e" stroke="#79cc5e" stroke-width="0.5"/>
<path d="M116.7 747.1L118.3 749.4L117.0 750.8L115.4 748.5Z" fill="#96ca48" stroke="#96ca48" stroke-width="0.5"/>
<path d="M119.5 747.8L121.1 750.0L119.9 751.5L118.3 749.4Z" fill="#8ecb4e" stroke="#8ecb4e" stroke-width="0.5"/>
<path d="M122.4 748.3L123.9 750.3L122.7 752.0L121.1 750.0Z" fill="#8acb51" stroke="#8acb51" stroke-width="0.5"/>
<path d="M125.2 748.5L126.8 750.3L125.5 752.2L123.9 750.3Z" fill="#8acb51" stroke="#8acb51" stroke-width="0.5"/>
<path d="M128.0 748.4L129.6 750.1L128.4 752.1L126.8 750.3Z" fill="#8ecb4e" stroke="#8ecb4e" stroke-width="0.5"/>
<path d="M130.9 748.0L132.5 749.6L131.2 751.7L129.6 750.1Z" fill="#96ca48" stroke="#96ca48" stroke-width="0.5"/>
<path d="M117.9 745.6L119.5 747.8L118.3 749.4L116.7 747.1Z" fill="#b4c534" stroke="#b4c534" stroke-width="0.5"/>
<path d="M120.8 746.2L122.4 748.3L121.1 750.0L119.5 747.8Z" fill="#aec637" stroke="#aec637" stroke-width="0.5"/>
<path d="M123.6 746.5L125.2 748.5L123.9 750.3L122.4 748.3Z" fill="#acc738" stroke="#acc738" stroke-width="0.5"/>
<path d="M126.4 746.6L128.0 748.4L126.8 750.3L125.2 748.5Z" fill="#aec637" stroke="#aec637" stroke-width="0.5"/>
<path d="M129.3 746.3L130.9 748.0L129.6 750.1L128.0 748.4Z" fill="#b4c534" stroke="#b4c534" stroke-width="0.5"/>
<path d="M119.2 744.0L120.8 746.2L119.5 747.8L117.9 745.6Z" fill="#d0c027" stroke="#d0c027" stroke-width="0.5"/>
<path d="M122.0 744.5L123.6 746.5L122.4 748.3L120.8 746.2Z" fill="#ccc028" stroke="#ccc028" stroke-width="0.5"/>
<path d="M124.8 744.6L126.4 746.6L125.2 748.5L123.6 746.5Z" fill="#ccc028" stroke="#ccc028" stroke-width="0.5"/>
<path d="M127.7 744.5L129.3 746.3L128.0 748.4L126.4 746.6Z" fill="#d0c027" stroke="#d0c027" stroke-width="0.5"/>
<path d="M120.4 742.3L122.0 744.5L120.8 746.2L119.2 744.0Z" fill="#e9bb2f" stroke="#e9bb2f" stroke-width="0.5"/>
<path d="M123.2 742.6L124.8 744.6L123.6 746.5L122.0 744.5Z" fill="#e7bb2e" stroke="#e7bb2e" stroke-width="0.5"/>
<path d="M126.1 742.7L127.7 744.5L126.4 746.6L124.8 744.6Z" fill="#e9bb2f" stroke="#e9bb2f" stroke-width="0.5"/>
<path d="M121.7 740.5L123.2 742.6L122.0 744.5L120.4 742.3Z" fill="#fcbd3d" stroke="#fcbd3d" stroke-width="0.5"/>
<path d="M124.5 740.7L126.1 742.7L124.8 744.6L123.2 742.6Z" fill="#fcbd3d" stroke="#fcbd3d" stroke-width="0.5"/>
<path d="M122.9 738.6L124.5 740.7L123.2 742.6L121.7 740.5Z" fill="#fdcb33" stroke="#fdcb33" stroke-width="0.5"/>
</g>
<line x1="122.9" y1="803.7" x2="193.0" y2="781.5" stroke="#4a4a4a" stroke-width="1.0" />
<line x1="122.9" y1="803.7" x2="68.1" y2="773.3" stroke="#4a4a4a" stroke-width="1.0" />
<line x1="122.9" y1="803.7" x2="125.2" y2="805.0" stroke="#4a4a4a" stroke-width="0.9" />
<line x1="157.9" y1="792.6" x2="160.2" y2="793.9" stroke="#4a4a4a" stroke-width="0.9" />
<line x1="193.0" y1="781.5" x2="195.3" y2="782.8" stroke="#4a4a4a" stroke-width="0.9" />
<line x1="122.9" y1="803.7" x2="120.4" y2="804.5" stroke="#4a4a4a" stroke-width="0.9" />
<line x1="95.5" y1="788.5" x2="93.0" y2="789.3" stroke="#4a4a4a" stroke-width="0.9" />
<line x1="68.1" y1="773.3" x2="65.6" y2="774.1" stroke="#4a4a4a" stroke-width="0.9" />
<line x1="68.1" y1="755.8" x2="65.6" y2="756.6" stroke="#4a4a4a" stroke-width="0.9" />
<line x1="68.1" y1="738.3" x2="65.6" y2="739.1" stroke="#4a4a4a" stroke-width="0.9" />
<line x1="68.1" y1="720.8" x2="65.6" y2="721.6" stroke="#4a4a4a" stroke-width="0.9" />
<line x1="68.1" y1="703.3" x2="65.6" y2="704.1" stroke="#4a4a4a" stroke-width="0.9" />
<rect x="267.2" y="30.4" width="394.09999999999997" height="208.0" fill="#fff" stroke="#5a5a5a" stroke-width="1.0"/>
<path d="M346.2,238.4v-4.0M346.2,30.4v4.0M425.0,238.4v-4.0M425.0,30.4v4.0M503.9,238.4v-4.0M503.9,30.4v4.0M582.7,238.4v-4.0M582.7,30.4v4.0M267.2,193.7h4.0M661.3,193.7h-4.0M267.2,124.6h4.0M661.3,124.6h-4.0M267.2,61.0h4.0M661.3,61.0h-4.0M267.2,223.2h2.2M661.3,223.2h-2.2M267.2,208.3h2.2M661.3,208.3h-2.2M267.2,179.4h2.2M661.3,179.4h-2.2M267.2,165.4h2.2M661.3,165.4h-2.2M267.2,151.5h2.2M661.3,151.5h-2.2M267.2,138.0h2.2M661.3,138.0h-2.2M267.2,111.5h2.2M661.3,111.5h-2.2M267.2,98.5h2.2M661.3,98.5h-2.2M267.2,85.8h2.2M661.3,85.8h-2.2M267.2,73.3h2.2M661.3,73.3h-2.2M267.2,48.9h2.2M661.3,48.9h-2.2M267.2,36.9h2.2M661.3,36.9h-2.2" stroke="#5a5a5a" stroke-width="0.9" fill="none"/>
<clipPath id="cp1"><rect x="267.2" y="30.4" width="394.09999999999997" height="208.0"/></clipPath>
<g clip-path="url(#cp1)">
<polyline points="267.7,238.0 270.1,225.6 275.3,225.6 275.3,189.4 286.4,189.4 286.4,165.0 293.8,165.0 293.8,109.3 302.4,109.3 302.4,84.8 425.2,84.8 425.2,61.5 602.3,61.5 602.3,56.3 621.2,56.3 621.2,53.3 655.7,53.3 655.7,51.9 661.3,51.9" fill="none" stroke="#e224e2" stroke-width="1.9" stroke-linejoin="round" />
<polyline points="268.0,131.4 268.0,102.8 276.8,102.8 276.8,70.1 310.7,70.1 310.7,56.5 328.5,56.5 328.5,52.6 385.0,52.6 385.0,51.9 661.3,51.9" fill="none" stroke="#78d238" stroke-width="1.9" stroke-linejoin="round" />
<polyline points="267.7,216.1 270.6,216.1 270.6,201.0 282.4,201.0 282.4,73.1 284.8,71.0 284.8,52.6 383.9,52.6 383.9,46.1 661.3,46.1" fill="none" stroke="#1a22d2" stroke-width="1.9" stroke-linejoin="round" />
<polyline points="268.9,212.0 268.9,73.1 272.1,73.1 272.1,71.3 273.3,71.3 273.3,66.0 282.2,66.0 282.2,63.6 331.8,63.6 331.8,47.3 480.3,47.3 480.3,43.3 607.6,43.3 607.6,42.8 661.3,42.8" fill="none" stroke="#d92521" stroke-width="1.9" stroke-linejoin="round" />
<polyline points="268.5,225.0 268.5,218.5 272.1,218.5 272.1,201.3 273.3,199.0 273.3,168.0 276.2,168.0 276.2,109.9 289.1,109.9 289.1,106.4 293.1,106.4 293.1,79.0 301.0,79.0 301.0,56.5 371.4,56.5 371.4,51.2 661.3,51.2" fill="none" stroke="#141414" stroke-width="1.9" stroke-linejoin="round" />
</g>
<rect x="448.0" y="98.2" width="111.6" height="104.2" fill="#fff" stroke="#8c8c8c" stroke-width="1.5"/>
<line x1="449.5" y1="109.5" x2="462.4" y2="109.5" stroke="#e224e2" stroke-width="2.3"/>
<text transform="translate(463.88,114.96) scale(0.7028,0.7915)" font-family='"Liberation Sans", sans-serif' font-weight="bold" font-size="20" fill="#000"  stroke="#000" stroke-width="0.80" stroke-linejoin="round">GWO</text>
<line x1="449.5" y1="130.2" x2="462.4" y2="130.2" stroke="#78d238" stroke-width="2.3"/>
<text transform="translate(463.88,135.66) scale(0.7072,0.7915)" font-family='"Liberation Sans", sans-serif' font-weight="bold" font-size="20" fill="#000"  stroke="#000" stroke-width="0.80" stroke-linejoin="round">CCS-GWO</text>
<line x1="449.5" y1="150.7" x2="462.4" y2="150.7" stroke="#1a22d2" stroke-width="2.3"/>
<text transform="translate(463.88,156.16) scale(0.7030,0.7915)" font-family='"Liberation Sans", sans-serif' font-weight="bold" font-size="20" fill="#000"  stroke="#000" stroke-width="0.80" stroke-linejoin="round">MMSCC-GWO</text>
<line x1="449.5" y1="171.2" x2="462.4" y2="171.2" stroke="#d92521" stroke-width="2.3"/>
<text transform="translate(463.88,176.66) scale(0.7037,0.7915)" font-family='"Liberation Sans", sans-serif' font-weight="bold" font-size="20" fill="#000"  stroke="#000" stroke-width="0.80" stroke-linejoin="round">HMS-GWO</text>
<line x1="449.5" y1="191.5" x2="462.4" y2="191.5" stroke="#141414" stroke-width="2.3"/>
<text transform="translate(463.88,196.96) scale(0.6978,0.7915)" font-family='"Liberation Sans", sans-serif' font-weight="bold" font-size="20" fill="#000"  stroke="#000" stroke-width="0.81" stroke-linejoin="round">MGWO</text>
<rect x="268.5" y="337.8" width="400.1" height="202.40000000000003" fill="#fff" stroke="#5a5a5a" stroke-width="1.0"/>
<path d="M348.5,540.2v-3.6M348.5,337.8v3.6M428.5,540.2v-3.6M428.5,337.8v3.6M508.6,540.2v-3.6M508.6,337.8v3.6M588.6,540.2v-3.6M588.6,337.8v3.6M268.5,525.9h3.6M668.6,525.9h-3.6M268.5,469.0h3.6M668.6,469.0h-3.6M268.5,417.1h3.6M668.6,417.1h-3.6M268.5,369.3h3.6M668.6,369.3h-3.6M268.5,537.9h2.0M668.6,537.9h-2.0M268.5,514.1h2.0M668.6,514.1h-2.0M268.5,502.5h2.0M668.6,502.5h-2.0M268.5,491.1h2.0M668.6,491.1h-2.0M268.5,479.9h2.0M668.6,479.9h-2.0M268.5,458.2h2.0M668.6,458.2h-2.0M268.5,447.7h2.0M668.6,447.7h-2.0M268.5,437.3h2.0M668.6,437.3h-2.0M268.5,427.1h2.0M668.6,427.1h-2.0M268.5,407.2h2.0M668.6,407.2h-2.0M268.5,397.5h2.0M668.6,397.5h-2.0M268.5,388.0h2.0M668.6,388.0h-2.0M268.5,378.6h2.0M668.6,378.6h-2.0M268.5,360.2h2.0M668.6,360.2h-2.0M268.5,351.2h2.0M668.6,351.2h-2.0M268.5,342.4h2.0M668.6,342.4h-2.0" stroke="#5a5a5a" stroke-width="0.9" fill="none"/>
<clipPath id="cp2"><rect x="268.5" y="337.8" width="400.1" height="202.4"/></clipPath>
<g clip-path="url(#cp2)">
<polyline points="270.3,514.5 270.5,442.0 272.0,420.0 272.0,386.3 290.2,386.3 291.2,384.0 295.1,384.0 295.9,383.0 295.9,370.0 297.5,368.3 299.9,367.0 330.0,367.0 330.0,365.2 392.0,365.2 392.0,358.1 434.0,358.1 434.0,354.9 668.6,354.9" fill="none" stroke="#d92521" stroke-width="1.7" stroke-linejoin="round" />
<polyline points="268.9,540.2 269.0,442.0 271.6,418.0 271.6,402.9 299.6,402.9 299.6,386.4 316.0,386.4 316.0,365.4 330.5,365.4 330.5,357.4 593.2,357.4 593.2,356.3 668.6,356.3" fill="none" stroke="#141414" stroke-width="1.7" stroke-linejoin="round" />
<polyline points="269.3,440.6 271.2,424.6 276.6,424.6 276.6,412.9 289.2,412.9 289.2,392.5 296.0,392.5 296.0,373.3 322.6,373.3 322.6,368.6 362.7,368.6 362.7,362.3 374.9,362.3 374.9,361.3 423.5,361.3 423.5,360.3 593.2,360.3 593.2,358.2 668.6,358.2" fill="none" stroke="#e224e2" stroke-width="1.7" stroke-linejoin="round" />
<polyline points="268.5,430.1 279.5,430.1 280.5,428.0 280.5,367.6 374.6,367.6 374.6,361.5 427.5,361.5 427.5,356.0 593.2,356.0" fill="none" stroke="#1a22d2" stroke-width="1.9" stroke-linejoin="round" />
<polyline points="268.3,397.0 271.7,396.8 276.6,394.9 285.3,394.4 287.8,391.5 290.2,391.0 291.2,381.8 293.1,380.8 300.9,380.6 302.3,367.6 303.5,366.0 330.0,366.0 330.0,365.4 354.6,365.4 354.8,362.7 430.0,362.7 430.0,361.5 593.2,361.5 593.2,357.0 668.6,357.0" fill="none" stroke="#2cf03c" stroke-width="1.7" stroke-linejoin="round" />
</g>
<rect x="351.2" y="406.2" width="114.5" height="102.2" fill="#fff" stroke="#6e6e6e" stroke-width="1.2"/>
<line x1="353.3" y1="419.5" x2="366.6" y2="419.5" stroke="#d92521" stroke-width="2.3"/>
<text transform="translate(368.38,425.01) scale(0.7165,0.7986)" font-family='"Liberation Sans", sans-serif' font-weight="bold" font-size="20" fill="#000"  stroke="#000" stroke-width="0.79" stroke-linejoin="round">HMS-GWO</text>
<line x1="353.3" y1="438.9" x2="366.6" y2="438.9" stroke="#141414" stroke-width="2.3"/>
<text transform="translate(368.38,444.41) scale(0.7082,0.7986)" font-family='"Liberation Sans", sans-serif' font-weight="bold" font-size="20" fill="#000"  stroke="#000" stroke-width="0.80" stroke-linejoin="round">MGWO</text>
<line x1="353.3" y1="458.8" x2="366.6" y2="458.8" stroke="#1a22d2" stroke-width="2.3"/>
<text transform="translate(368.38,464.31) scale(0.7174,0.7986)" font-family='"Liberation Sans", sans-serif' font-weight="bold" font-size="20" fill="#000"  stroke="#000" stroke-width="0.79" stroke-linejoin="round">MMSCC-GWO</text>
<line x1="353.3" y1="478.8" x2="366.6" y2="478.8" stroke="#2cf03c" stroke-width="2.3"/>
<text transform="translate(368.38,484.31) scale(0.7153,0.7986)" font-family='"Liberation Sans", sans-serif' font-weight="bold" font-size="20" fill="#000"  stroke="#000" stroke-width="0.79" stroke-linejoin="round">CCS-GWO</text>
<line x1="353.3" y1="498.2" x2="366.6" y2="498.2" stroke="#e224e2" stroke-width="2.3"/>
<text transform="translate(368.38,503.71) scale(0.7088,0.7986)" font-family='"Liberation Sans", sans-serif' font-weight="bold" font-size="20" fill="#000"  stroke="#000" stroke-width="0.80" stroke-linejoin="round">GWO</text>
<circle cx="268.5" cy="337.8" r="1.6" fill="#fff" stroke="#5b8fc9" stroke-width="0.8"/>
<circle cx="468.5" cy="337.8" r="1.6" fill="#fff" stroke="#5b8fc9" stroke-width="0.8"/>
<circle cx="668.6" cy="337.8" r="1.6" fill="#fff" stroke="#5b8fc9" stroke-width="0.8"/>
<circle cx="268.5" cy="439.0" r="1.6" fill="#fff" stroke="#5b8fc9" stroke-width="0.8"/>
<circle cx="668.6" cy="439.0" r="1.6" fill="#fff" stroke="#5b8fc9" stroke-width="0.8"/>
<circle cx="268.5" cy="540.2" r="1.6" fill="#fff" stroke="#5b8fc9" stroke-width="0.8"/>
<circle cx="468.5" cy="540.2" r="1.6" fill="#fff" stroke="#5b8fc9" stroke-width="0.8"/>
<circle cx="668.6" cy="540.2" r="1.6" fill="#fff" stroke="#5b8fc9" stroke-width="0.8"/>
<rect x="287.0" y="645.4" width="391.79999999999995" height="225.10000000000002" fill="#fff" stroke="#5a5a5a" stroke-width="1.0"/>
<path d="M365.5,870.5v-4.0M365.5,645.4v4.0M444.0,870.5v-4.0M444.0,645.4v4.0M522.5,870.5v-4.0M522.5,645.4v4.0M601.0,870.5v-4.0M601.0,645.4v4.0M287.0,808.0h4.0M678.8,808.0h-4.0M287.0,738.4h4.0M678.8,738.4h-4.0M287.0,674.4h4.0M678.8,674.4h-4.0M287.0,868.4h2.2M678.8,868.4h-2.2M287.0,852.9h2.2M678.8,852.9h-2.2M287.0,837.7h2.2M678.8,837.7h-2.2M287.0,822.7h2.2M678.8,822.7h-2.2M287.0,793.6h2.2M678.8,793.6h-2.2M287.0,779.5h2.2M678.8,779.5h-2.2M287.0,765.6h2.2M678.8,765.6h-2.2M287.0,751.9h2.2M678.8,751.9h-2.2M287.0,725.2h2.2M678.8,725.2h-2.2M287.0,712.2h2.2M678.8,712.2h-2.2M287.0,699.4h2.2M678.8,699.4h-2.2M287.0,686.8h2.2M678.8,686.8h-2.2M287.0,662.2h2.2M678.8,662.2h-2.2M287.0,650.2h2.2M678.8,650.2h-2.2" stroke="#5a5a5a" stroke-width="0.9" fill="none"/>
<clipPath id="cp3"><rect x="287.0" y="645.4" width="391.8" height="225.1"/></clipPath>
<g clip-path="url(#cp3)">
<polyline points="290.4,808.0 290.4,764.6 294.5,764.6 295.0,759.5 297.8,759.5 298.3,757.0 298.3,733.7 321.8,733.7 321.8,664.7 392.8,664.7 392.8,661.5 428.3,661.5 428.3,658.9 598.3,658.9" fill="none" stroke="#1a22d2" stroke-width="1.9" stroke-linejoin="round" />
<polyline points="290.6,808.3 290.6,780.0 291.7,780.0 291.7,741.8 304.0,741.8 304.0,710.1 312.6,710.1 312.6,703.4 318.3,703.4 318.3,690.1 339.8,690.1 339.8,661.0 345.0,660.6 598.3,660.6" fill="none" stroke="#141414" stroke-width="1.7" stroke-linejoin="round" />
<polyline points="288.5,834.0 288.5,740.9 295.5,740.9 295.5,691.7 333.4,691.7 333.4,687.3 359.2,687.3 359.2,664.2 392.8,664.2 392.8,663.1 598.3,663.1 598.3,659.2 678.8,659.2" fill="none" stroke="#2cf03c" stroke-width="1.9" stroke-linejoin="round" />
<polyline points="287.9,870.5 287.9,780.7 328.3,780.7 328.3,766.5 330.2,766.5 330.2,724.3 335.3,724.3 335.3,713.9 339.1,713.9 339.1,703.8 346.8,703.8 346.8,679.8 374.9,679.8 374.9,671.0 404.6,671.0 404.6,662.3 408.0,662.3 408.0,657.9 598.3,657.9" fill="none" stroke="#d92521" stroke-width="1.9" stroke-linejoin="round" />
<polyline points="287.7,746.6 288.2,735.0 290.4,719.2 305.0,719.2 305.0,674.4 391.5,674.4 391.5,673.1 412.5,673.1 412.5,671.0 486.1,671.0 486.1,665.5 615.4,665.5 615.4,657.9 678.8,657.9" fill="none" stroke="#e224e2" stroke-width="1.9" stroke-linejoin="round" />
</g>
<rect x="447.4" y="722.7" width="110.7" height="111.6" fill="#fff" stroke="#5c5c5c" stroke-width="1.1"/>
<line x1="449.0" y1="736.2" x2="461.7" y2="736.2" stroke="#1a22d2" stroke-width="2.3"/>
<text transform="translate(463.28,742.15) scale(0.6992,0.8620)" font-family='"Liberation Sans", sans-serif' font-weight="bold" font-size="20" fill="#000"  stroke="#000" stroke-width="0.77" stroke-linejoin="round">MMSCC-GWO</text>
<line x1="449.0" y1="758.0" x2="461.7" y2="758.0" stroke="#141414" stroke-width="2.3"/>
<text transform="translate(463.28,763.95) scale(0.6813,0.8620)" font-family='"Liberation Sans", sans-serif' font-weight="bold" font-size="20" fill="#000"  stroke="#000" stroke-width="0.78" stroke-linejoin="round">MGWO</text>
<line x1="449.0" y1="779.5" x2="461.7" y2="779.5" stroke="#2cf03c" stroke-width="2.3"/>
<text transform="translate(463.28,785.45) scale(0.6910,0.8620)" font-family='"Liberation Sans", sans-serif' font-weight="bold" font-size="20" fill="#000"  stroke="#000" stroke-width="0.78" stroke-linejoin="round">CCS-GWO</text>
<line x1="449.0" y1="800.9" x2="461.7" y2="800.9" stroke="#d92521" stroke-width="2.3"/>
<text transform="translate(463.28,806.85) scale(0.6918,0.8620)" font-family='"Liberation Sans", sans-serif' font-weight="bold" font-size="20" fill="#000"  stroke="#000" stroke-width="0.78" stroke-linejoin="round">HMS-GWO</text>
<line x1="449.0" y1="822.8" x2="461.7" y2="822.8" stroke="#e224e2" stroke-width="2.3"/>
<text transform="translate(463.28,828.75) scale(0.6748,0.8620)" font-family='"Liberation Sans", sans-serif' font-weight="bold" font-size="20" fill="#000"  stroke="#000" stroke-width="0.79" stroke-linejoin="round">GWO</text>
<circle cx="308.4" cy="831" r="0.6" fill="#6a6ae0"/>
<text transform="translate(279.80,14.30) scale(1.1700,1)" font-family='"Liberation Sans", sans-serif' font-weight="bold" font-size="13.2" fill="#1a1a1a" stroke="#1a1a1a" stroke-width="0.40">b)</text>
<text transform="translate(241.20,68.74) scale(0.7732,0.8025)" font-family='"Liberation Sans", sans-serif' font-weight="bold" font-size="20" fill="#1e1e1e"  stroke="#1e1e1e" stroke-width="0.43" stroke-linejoin="round">6.5</text>
<text transform="translate(254.80,131.94) scale(0.7114,0.8096)" font-family='"Liberation Sans", sans-serif' font-weight="bold" font-size="20" fill="#1e1e1e"  stroke="#1e1e1e" stroke-width="0.45" stroke-linejoin="round">6</text>
<text transform="translate(241.20,200.93) scale(0.7732,0.8211)" font-family='"Liberation Sans", sans-serif' font-weight="bold" font-size="20" fill="#1e1e1e"  stroke="#1e1e1e" stroke-width="0.43" stroke-linejoin="round">5.5</text>
<text transform="translate(235.93,168.40) rotate(-90) scale(0.9614,0.8501)" font-family='"Liberation Sans", sans-serif' font-weight="bold" font-size="20" fill="#1e1e1e"  stroke="#1e1e1e" stroke-width="0.38" stroke-linejoin="round">Fitness</text>
<text transform="translate(263.30,262.33) scale(0.7023,0.8166)" font-family='"Liberation Sans", sans-serif' font-weight="bold" font-size="20" fill="#1e1e1e"  stroke="#1e1e1e" stroke-width="0.45" stroke-linejoin="round">0</text>
<text transform="translate(333.90,262.33) scale(0.7514,0.8166)" font-family='"Liberation Sans", sans-serif' font-weight="bold" font-size="20" fill="#1e1e1e"  stroke="#1e1e1e" stroke-width="0.43" stroke-linejoin="round">100</text>
<text transform="translate(412.30,262.33) scale(0.7544,0.8166)" font-family='"Liberation Sans", sans-serif' font-weight="bold" font-size="20" fill="#1e1e1e"  stroke="#1e1e1e" stroke-width="0.43" stroke-linejoin="round">200</text>
<text transform="translate(491.20,262.33) scale(0.7454,0.8166)" font-family='"Liberation Sans", sans-serif' font-weight="bold" font-size="20" fill="#1e1e1e"  stroke="#1e1e1e" stroke-width="0.44" stroke-linejoin="round">300</text>
<text transform="translate(570.00,262.33) scale(0.7484,0.8166)" font-family='"Liberation Sans", sans-serif' font-weight="bold" font-size="20" fill="#1e1e1e"  stroke="#1e1e1e" stroke-width="0.43" stroke-linejoin="round">400</text>
<text transform="translate(648.10,262.33) scale(0.7604,0.8166)" font-family='"Liberation Sans", sans-serif' font-weight="bold" font-size="20" fill="#1e1e1e"  stroke="#1e1e1e" stroke-width="0.43" stroke-linejoin="round">500</text>
<text transform="translate(430.70,287.01) scale(0.8428,0.9521)" font-family='"Liberation Sans", sans-serif' font-weight="bold" font-size="20" fill="#1e1e1e"  stroke="#1e1e1e" stroke-width="0.38" stroke-linejoin="round">Iteration</text>
<text transform="translate(273.50,315.20) scale(1.1600,1)" font-family='"Liberation Sans", sans-serif' font-weight="bold" font-size="11.8" fill="#1a1a1a" stroke="#1a1a1a" stroke-width="0.40">b)</text>
<text transform="translate(242.00,375.83) scale(0.7409,0.8166)" font-family='"Liberation Sans", sans-serif' font-weight="bold" font-size="20" fill="#1e1e1e"  stroke="#1e1e1e" stroke-width="0.44" stroke-linejoin="round">6.5</text>
<text transform="translate(255.20,423.33) scale(0.6843,0.8166)" font-family='"Liberation Sans", sans-serif' font-weight="bold" font-size="20" fill="#1e1e1e"  stroke="#1e1e1e" stroke-width="0.45" stroke-linejoin="round">6</text>
<text transform="translate(242.00,476.23) scale(0.7409,0.8426)" font-family='"Liberation Sans", sans-serif' font-weight="bold" font-size="20" fill="#1e1e1e"  stroke="#1e1e1e" stroke-width="0.43" stroke-linejoin="round">5.5</text>
<text transform="translate(255.20,532.83) scale(0.6843,0.8283)" font-family='"Liberation Sans", sans-serif' font-weight="bold" font-size="20" fill="#1e1e1e"  stroke="#1e1e1e" stroke-width="0.45" stroke-linejoin="round">5</text>
<text transform="translate(236.32,471.30) rotate(-90) scale(0.9371,0.9045)" font-family='"Liberation Sans", sans-serif' font-weight="bold" font-size="20" fill="#1e1e1e"  stroke="#1e1e1e" stroke-width="0.37" stroke-linejoin="round">Fitness</text>
<text transform="translate(263.90,563.33) scale(0.6573,0.8448)" font-family='"Liberation Sans", sans-serif' font-weight="bold" font-size="20" fill="#1e1e1e"  stroke="#1e1e1e" stroke-width="0.46" stroke-linejoin="round">0</text>
<text transform="translate(335.20,563.33) scale(0.7544,0.8448)" font-family='"Liberation Sans", sans-serif' font-weight="bold" font-size="20" fill="#1e1e1e"  stroke="#1e1e1e" stroke-width="0.43" stroke-linejoin="round">100</text>
<text transform="translate(415.50,563.33) scale(0.7544,0.8448)" font-family='"Liberation Sans", sans-serif' font-weight="bold" font-size="20" fill="#1e1e1e"  stroke="#1e1e1e" stroke-width="0.43" stroke-linejoin="round">200</text>
<text transform="translate(496.10,563.33) scale(0.7604,0.8448)" font-family='"Liberation Sans", sans-serif' font-weight="bold" font-size="20" fill="#1e1e1e"  stroke="#1e1e1e" stroke-width="0.42" stroke-linejoin="round">300</text>
<text transform="translate(575.80,563.33) scale(0.7484,0.8448)" font-family='"Liberation Sans", sans-serif' font-weight="bold" font-size="20" fill="#1e1e1e"  stroke="#1e1e1e" stroke-width="0.43" stroke-linejoin="round">400</text>
<text transform="translate(655.30,563.33) scale(0.7723,0.8448)" font-family='"Liberation Sans", sans-serif' font-weight="bold" font-size="20" fill="#1e1e1e"  stroke="#1e1e1e" stroke-width="0.42" stroke-linejoin="round">500</text>
<text transform="translate(434.20,587.90) scale(0.8656,0.9861)" font-family='"Liberation Sans", sans-serif' font-weight="bold" font-size="20" fill="#1e1e1e"  stroke="#1e1e1e" stroke-width="0.37" stroke-linejoin="round">Iteration</text>
<text transform="translate(303.60,623.50) scale(0.9800,1)" font-family='"Liberation Sans", sans-serif' font-weight="bold" font-size="15.4" fill="#1a1a1a" stroke="#1a1a1a" stroke-width="0.30">b)</text>
<text transform="translate(260.80,681.52) scale(0.7517,0.8800)" font-family='"Liberation Sans", sans-serif' font-weight="bold" font-size="20" fill="#1e1e1e"  stroke="#1e1e1e" stroke-width="0.42" stroke-linejoin="round">6.5</text>
<text transform="translate(274.50,745.52) scale(0.6483,0.8800)" font-family='"Liberation Sans", sans-serif' font-weight="bold" font-size="20" fill="#1e1e1e"  stroke="#1e1e1e" stroke-width="0.45" stroke-linejoin="round">6</text>
<text transform="translate(261.00,814.82) scale(0.7445,0.8926)" font-family='"Liberation Sans", sans-serif' font-weight="bold" font-size="20" fill="#1e1e1e"  stroke="#1e1e1e" stroke-width="0.42" stroke-linejoin="round">5.5</text>
<text transform="translate(255.82,794.20) rotate(-90) scale(1.0371,0.9113)" font-family='"Liberation Sans", sans-serif' font-weight="bold" font-size="20" fill="#1e1e1e"  stroke="#1e1e1e" stroke-width="0.35" stroke-linejoin="round">Fitness</text>
<text transform="translate(283.60,895.61) scale(0.7204,0.9363)" font-family='"Liberation Sans", sans-serif' font-weight="bold" font-size="20" fill="#1e1e1e"  stroke="#1e1e1e" stroke-width="0.41" stroke-linejoin="round">0</text>
<text transform="translate(353.10,895.61) scale(0.7424,0.9363)" font-family='"Liberation Sans", sans-serif' font-weight="bold" font-size="20" fill="#1e1e1e"  stroke="#1e1e1e" stroke-width="0.41" stroke-linejoin="round">100</text>
<text transform="translate(431.40,895.61) scale(0.7364,0.9363)" font-family='"Liberation Sans", sans-serif' font-weight="bold" font-size="20" fill="#1e1e1e"  stroke="#1e1e1e" stroke-width="0.41" stroke-linejoin="round">200</text>
<text transform="translate(510.30,895.61) scale(0.7304,0.9363)" font-family='"Liberation Sans", sans-serif' font-weight="bold" font-size="20" fill="#1e1e1e"  stroke="#1e1e1e" stroke-width="0.41" stroke-linejoin="round">300</text>
<text transform="translate(588.20,895.61) scale(0.7394,0.9363)" font-family='"Liberation Sans", sans-serif' font-weight="bold" font-size="20" fill="#1e1e1e"  stroke="#1e1e1e" stroke-width="0.41" stroke-linejoin="round">400</text>
<text transform="translate(449.70,922.50) scale(0.8428,0.9997)" font-family='"Liberation Sans", sans-serif' font-weight="bold" font-size="20" fill="#1e1e1e"  stroke="#1e1e1e" stroke-width="0.37" stroke-linejoin="round">Iteration</text>
<text transform="translate(31.00,21.70) scale(1.0000,1)" font-family='"Liberation Sans", sans-serif' font-weight="bold" font-size="14.5" fill="#1a1a1a" stroke="#1a1a1a" stroke-width="0.60">a)</text>
<text transform="translate(16.29,56.71) scale(0.8393,0.8847)" font-family='"Liberation Sans", sans-serif' font-weight="normal" font-size="20" fill="#1e1e1e"  stroke="#1e1e1e" stroke-width="0.35" stroke-linejoin="round">×</text>
<text transform="translate(29.49,56.23) scale(0.7214,0.8744)" font-family='"Liberation Sans", sans-serif' font-weight="bold" font-size="20" fill="#1e1e1e"  stroke="#1e1e1e" stroke-width="0.81" stroke-linejoin="round">10</text>
<text transform="translate(46.39,47.95) scale(0.7034,0.7758)" font-family='"Liberation Sans", sans-serif' font-weight="bold" font-size="20" fill="#1e1e1e"  stroke="#1e1e1e" stroke-width="0.87" stroke-linejoin="round">10</text>
<text transform="translate(41.19,82.73) scale(0.7214,0.8869)" font-family='"Liberation Sans", sans-serif' font-weight="bold" font-size="20" fill="#1e1e1e"  stroke="#1e1e1e" stroke-width="0.80" stroke-linejoin="round">15</text>
<text transform="translate(41.19,102.04) scale(0.7214,0.8251)" font-family='"Liberation Sans", sans-serif' font-weight="bold" font-size="20" fill="#1e1e1e"  stroke="#1e1e1e" stroke-width="0.83" stroke-linejoin="round">10</text>
<text transform="translate(49.79,119.64) scale(0.7492,0.8154)" font-family='"Liberation Sans", sans-serif' font-weight="bold" font-size="20" fill="#1e1e1e"  stroke="#1e1e1e" stroke-width="0.82" stroke-linejoin="round">5</text>
<text transform="translate(29.99,153.75) scale(0.8178,0.7969)" font-family='"Liberation Sans", sans-serif' font-weight="bold" font-size="20" fill="#1e1e1e"  stroke="#1e1e1e" stroke-width="0.79" stroke-linejoin="round">200</text>
<text transform="translate(74.59,168.04) scale(0.7582,0.8180)" font-family='"Liberation Sans", sans-serif' font-weight="bold" font-size="20" fill="#1e1e1e"  stroke="#1e1e1e" stroke-width="0.81" stroke-linejoin="round">0</text>
<text transform="translate(75.09,181.64) scale(0.7979,0.8251)" font-family='"Liberation Sans", sans-serif' font-weight="bold" font-size="20" fill="#1e1e1e"  stroke="#1e1e1e" stroke-width="0.79" stroke-linejoin="round">-200</text>
<text transform="translate(120.69,183.24) scale(0.8329,0.8532)" font-family='"Liberation Sans", sans-serif' font-weight="bold" font-size="20" fill="#1e1e1e"  stroke="#1e1e1e" stroke-width="0.76" stroke-linejoin="round">-200</text>
<text transform="translate(153.99,173.64) scale(0.7312,0.8603)" font-family='"Liberation Sans", sans-serif' font-weight="bold" font-size="20" fill="#1e1e1e"  stroke="#1e1e1e" stroke-width="0.81" stroke-linejoin="round">0</text>
<text transform="translate(186.19,161.94) scale(0.8268,0.8532)" font-family='"Liberation Sans", sans-serif' font-weight="bold" font-size="20" fill="#1e1e1e"  stroke="#1e1e1e" stroke-width="0.76" stroke-linejoin="round">200</text>
<text transform="translate(26.99,199.61) scale(0.9474,0.9449)" font-family='"Liberation Sans", sans-serif' font-weight="bold" font-size="20" fill="#1e1e1e"  stroke="#1e1e1e" stroke-width="0.68" stroke-linejoin="round">x</text>
<text transform="translate(37.59,209.31) scale(0.6861,0.7511)" font-family='"Liberation Sans", sans-serif' font-weight="bold" font-size="20" fill="#1e1e1e"  stroke="#1e1e1e" stroke-width="0.89" stroke-linejoin="round">2</text>
<text transform="translate(188.39,201.91) scale(0.8843,0.9355)" font-family='"Liberation Sans", sans-serif' font-weight="bold" font-size="20" fill="#1e1e1e"  stroke="#1e1e1e" stroke-width="0.70" stroke-linejoin="round">x</text>
<text transform="translate(199.19,211.21) scale(0.5240,0.8055)" font-family='"Liberation Sans", sans-serif' font-weight="bold" font-size="20" fill="#1e1e1e"  stroke="#1e1e1e" stroke-width="0.99" stroke-linejoin="round">1</text>
<text transform="translate(27.03,156.41) rotate(-90) scale(1.0472,0.8511)" font-family='"Liberation Sans", sans-serif' font-weight="bold" font-size="20" fill="#1e1e1e"  stroke="#1e1e1e" stroke-width="0.68" stroke-linejoin="round">F5(</text>
<text transform="translate(27.91,122.01) rotate(-90) scale(0.9384,0.8789)" font-family='"Liberation Sans", sans-serif' font-weight="bold" font-size="20" fill="#1e1e1e"  stroke="#1e1e1e" stroke-width="0.70" stroke-linejoin="round">x</text>
<text transform="translate(36.31,110.31) rotate(-90) scale(0.5690,0.5809)" font-family='"Liberation Sans", sans-serif' font-weight="bold" font-size="20" fill="#1e1e1e"  stroke="#1e1e1e" stroke-width="1.11" stroke-linejoin="round">1</text>
<text transform="translate(28.10,99.21) rotate(-90) scale(0.9671,0.9370)" font-family='"Liberation Sans", sans-serif' font-weight="bold" font-size="20" fill="#1e1e1e"  stroke="#1e1e1e" stroke-width="0.67" stroke-linejoin="round">,</text>
<text transform="translate(29.11,85.31) rotate(-90) scale(0.9744,1.0204)" font-family='"Liberation Sans", sans-serif' font-weight="bold" font-size="20" fill="#1e1e1e"  stroke="#1e1e1e" stroke-width="0.64" stroke-linejoin="round">x</text>
<text transform="translate(37.91,74.91) rotate(-90) scale(0.7672,0.6011)" font-family='"Liberation Sans", sans-serif' font-weight="bold" font-size="20" fill="#1e1e1e"  stroke="#1e1e1e" stroke-width="0.94" stroke-linejoin="round">2</text>
<text transform="translate(28.26,58.81) rotate(-90) scale(0.7785,0.9634)" font-family='"Liberation Sans", sans-serif' font-weight="bold" font-size="20" fill="#1e1e1e"  stroke="#1e1e1e" stroke-width="0.74" stroke-linejoin="round">)</text>
<text transform="translate(13.80,321.90) scale(1.0000,1)" font-family='"Liberation Serif", serif' font-weight="bold" font-size="14.8" fill="#1a1a1a" stroke="#1a1a1a" stroke-width="0.56">a)</text>
<text transform="translate(39.20,367.53) scale(0.8533,0.8310)" font-family='"Liberation Sans", sans-serif' font-weight="bold" font-size="20" fill="#1e1e1e"  stroke="#1e1e1e" stroke-width="0.59" stroke-linejoin="round">100</text>
<text transform="translate(48.90,396.24) scale(0.8468,0.8028)" font-family='"Liberation Sans", sans-serif' font-weight="bold" font-size="20" fill="#1e1e1e"  stroke="#1e1e1e" stroke-width="0.61" stroke-linejoin="round">50</text>
<text transform="translate(58.50,424.73) scale(0.8288,0.8310)" font-family='"Liberation Sans", sans-serif' font-weight="bold" font-size="20" fill="#1e1e1e"  stroke="#1e1e1e" stroke-width="0.60" stroke-linejoin="round">0</text>
<text transform="translate(38.70,439.63) scale(0.8413,0.8310)" font-family='"Liberation Sans", sans-serif' font-weight="bold" font-size="20" fill="#1e1e1e"  stroke="#1e1e1e" stroke-width="0.60" stroke-linejoin="round">100</text>
<text transform="translate(80.70,451.83) scale(0.8739,0.8310)" font-family='"Liberation Sans", sans-serif' font-weight="bold" font-size="20" fill="#1e1e1e"  stroke="#1e1e1e" stroke-width="0.59" stroke-linejoin="round">0</text>
<text transform="translate(79.00,463.73) scale(0.8250,0.8662)" font-family='"Liberation Sans", sans-serif' font-weight="bold" font-size="20" fill="#1e1e1e"  stroke="#1e1e1e" stroke-width="0.59" stroke-linejoin="round">-100</text>
<text transform="translate(125.90,464.53) scale(0.8125,0.8662)" font-family='"Liberation Sans", sans-serif' font-weight="bold" font-size="20" fill="#1e1e1e"  stroke="#1e1e1e" stroke-width="0.60" stroke-linejoin="round">-100</text>
<text transform="translate(155.70,455.73) scale(0.7928,0.8662)" font-family='"Liberation Sans", sans-serif' font-weight="bold" font-size="20" fill="#1e1e1e"  stroke="#1e1e1e" stroke-width="0.60" stroke-linejoin="round">0</text>
<text transform="translate(186.00,446.43) scale(0.8503,0.8310)" font-family='"Liberation Sans", sans-serif' font-weight="bold" font-size="20" fill="#1e1e1e"  stroke="#1e1e1e" stroke-width="0.59" stroke-linejoin="round">100</text>
<text transform="translate(31.00,481.50) scale(0.9820,1.0000)" font-family='"Liberation Sans", sans-serif' font-weight="bold" font-size="20" fill="#1e1e1e"  stroke="#1e1e1e" stroke-width="0.50" stroke-linejoin="round">x</text>
<text transform="translate(41.50,490.20) scale(0.7297,0.8143)" font-family='"Liberation Sans", sans-serif' font-weight="bold" font-size="20" fill="#1e1e1e"  stroke="#1e1e1e" stroke-width="0.65" stroke-linejoin="round">2</text>
<text transform="translate(193.50,482.50) scale(0.9369,0.9434)" font-family='"Liberation Sans", sans-serif' font-weight="bold" font-size="20" fill="#1e1e1e"  stroke="#1e1e1e" stroke-width="0.53" stroke-linejoin="round">x</text>
<text transform="translate(205.30,491.30) scale(0.5045,0.7899)" font-family='"Liberation Sans", sans-serif' font-weight="bold" font-size="20" fill="#1e1e1e"  stroke="#1e1e1e" stroke-width="0.79" stroke-linejoin="round">1</text>
<text transform="translate(22.90,439.80) rotate(-90) scale(1.0067,0.9519)" font-family='"Liberation Sans", sans-serif' font-weight="bold" font-size="20" fill="#1e1e1e"  stroke="#1e1e1e" stroke-width="0.51" stroke-linejoin="round">F4(</text>
<text transform="translate(23.00,407.40) rotate(-90) scale(0.9910,0.9528)" font-family='"Liberation Sans", sans-serif' font-weight="bold" font-size="20" fill="#1e1e1e"  stroke="#1e1e1e" stroke-width="0.51" stroke-linejoin="round">x</text>
<text transform="translate(32.60,395.10) rotate(-90) scale(0.5135,0.6014)" font-family='"Liberation Sans", sans-serif' font-weight="bold" font-size="20" fill="#1e1e1e"  stroke="#1e1e1e" stroke-width="0.90" stroke-linejoin="round">1</text>
<text transform="translate(24.80,383.70) rotate(-90) scale(0.9107,1.0000)" font-family='"Liberation Sans", sans-serif' font-weight="bold" font-size="20" fill="#1e1e1e"  stroke="#1e1e1e" stroke-width="0.52" stroke-linejoin="round">,</text>
<text transform="translate(23.90,376.40) rotate(-90) scale(0.9820,1.0377)" font-family='"Liberation Sans", sans-serif' font-weight="bold" font-size="20" fill="#1e1e1e"  stroke="#1e1e1e" stroke-width="0.50" stroke-linejoin="round">x</text>
<text transform="translate(32.60,363.60) rotate(-90) scale(0.6937,0.5929)" font-family='"Liberation Sans", sans-serif' font-weight="bold" font-size="20" fill="#1e1e1e"  stroke="#1e1e1e" stroke-width="0.78" stroke-linejoin="round">2</text>
<text transform="translate(23.36,348.40) rotate(-90) scale(0.8507,0.9626)" font-family='"Liberation Sans", sans-serif' font-weight="bold" font-size="20" fill="#1e1e1e"  stroke="#1e1e1e" stroke-width="0.55" stroke-linejoin="round">)</text>
<text transform="translate(35.50,624.50) scale(0.9000,1)" font-family='"Liberation Sans", sans-serif' font-weight="bold" font-size="17.5" fill="#1a1a1a" stroke="#1a1a1a" stroke-width="0.60">a)</text>
<text transform="translate(24.66,682.94) scale(0.9470,0.9982)" font-family='"Liberation Sans", sans-serif' font-weight="normal" font-size="20" fill="#1e1e1e"  stroke="#1e1e1e" stroke-width="0.21" stroke-linejoin="round">×</text>
<text transform="translate(39.18,682.02) scale(0.8079,0.9673)" font-family='"Liberation Sans", sans-serif' font-weight="bold" font-size="20" fill="#1e1e1e"  stroke="#1e1e1e" stroke-width="0.50" stroke-linejoin="round">10</text>
<text transform="translate(59.38,673.82) scale(0.6339,0.7707)" font-family='"Liberation Sans", sans-serif' font-weight="bold" font-size="20" fill="#1e1e1e"  stroke="#1e1e1e" stroke-width="0.63" stroke-linejoin="round">4</text>
<text transform="translate(52.38,708.62) scale(0.8591,0.9097)" font-family='"Liberation Sans", sans-serif' font-weight="bold" font-size="20" fill="#1e1e1e"  stroke="#1e1e1e" stroke-width="0.50" stroke-linejoin="round">2</text>
<text transform="translate(35.68,725.94) scale(0.9437,0.9026)" font-family='"Liberation Sans", sans-serif' font-weight="bold" font-size="20" fill="#1e1e1e"  stroke="#1e1e1e" stroke-width="0.48" stroke-linejoin="round">1.5</text>
<text transform="translate(54.08,743.62) scale(0.5888,0.9157)" font-family='"Liberation Sans", sans-serif' font-weight="bold" font-size="20" fill="#1e1e1e"  stroke="#1e1e1e" stroke-width="0.60" stroke-linejoin="round">1</text>
<text transform="translate(35.68,761.04) scale(0.9437,0.8969)" font-family='"Liberation Sans", sans-serif' font-weight="bold" font-size="20" fill="#1e1e1e"  stroke="#1e1e1e" stroke-width="0.48" stroke-linejoin="round">0.5</text>
<text transform="translate(32.08,794.33) scale(0.8813,0.9603)" font-family='"Liberation Sans", sans-serif' font-weight="bold" font-size="20" fill="#1e1e1e"  stroke="#1e1e1e" stroke-width="0.48" stroke-linejoin="round">100</text>
<text transform="translate(79.58,810.53) scale(0.7960,0.9251)" font-family='"Liberation Sans", sans-serif' font-weight="bold" font-size="20" fill="#1e1e1e"  stroke="#1e1e1e" stroke-width="0.51" stroke-linejoin="round">0</text>
<text transform="translate(80.38,826.83) scale(0.8684,0.9462)" font-family='"Liberation Sans", sans-serif' font-weight="bold" font-size="20" fill="#1e1e1e"  stroke="#1e1e1e" stroke-width="0.49" stroke-linejoin="round">-100</text>
<text transform="translate(128.68,827.83) scale(0.8884,0.9462)" font-family='"Liberation Sans", sans-serif' font-weight="bold" font-size="20" fill="#1e1e1e"  stroke="#1e1e1e" stroke-width="0.48" stroke-linejoin="round">-100</text>
<text transform="translate(164.48,817.32) scale(0.8231,0.9673)" font-family='"Liberation Sans", sans-serif' font-weight="bold" font-size="20" fill="#1e1e1e"  stroke="#1e1e1e" stroke-width="0.49" stroke-linejoin="round">0</text>
<text transform="translate(200.18,804.02) scale(0.8843,0.9955)" font-family='"Liberation Sans", sans-serif' font-weight="bold" font-size="20" fill="#1e1e1e"  stroke="#1e1e1e" stroke-width="0.47" stroke-linejoin="round">100</text>
<text transform="translate(28.48,845.52) scale(0.9222,1.0317)" font-family='"Liberation Sans", sans-serif' font-weight="bold" font-size="20" fill="#1e1e1e"  stroke="#1e1e1e" stroke-width="0.45" stroke-linejoin="round">x</text>
<text transform="translate(38.28,855.32) scale(0.7690,0.9026)" font-family='"Liberation Sans", sans-serif' font-weight="bold" font-size="20" fill="#1e1e1e"  stroke="#1e1e1e" stroke-width="0.53" stroke-linejoin="round">2</text>
<text transform="translate(201.28,846.62) scale(0.9852,1.0317)" font-family='"Liberation Sans", sans-serif' font-weight="bold" font-size="20" fill="#1e1e1e"  stroke="#1e1e1e" stroke-width="0.44" stroke-linejoin="round">x</text>
<text transform="translate(213.48,857.12) scale(0.6068,0.9446)" font-family='"Liberation Sans", sans-serif' font-weight="bold" font-size="20" fill="#1e1e1e"  stroke="#1e1e1e" stroke-width="0.58" stroke-linejoin="round">1</text>
<text transform="translate(20.17,792.72) rotate(-90) scale(1.0979,0.9645)" font-family='"Liberation Sans", sans-serif' font-weight="bold" font-size="20" fill="#1e1e1e"  stroke="#1e1e1e" stroke-width="0.43" stroke-linejoin="round">F6(</text>
<text transform="translate(20.92,757.62) rotate(-90) scale(1.0573,0.9657)" font-family='"Liberation Sans", sans-serif' font-weight="bold" font-size="20" fill="#1e1e1e"  stroke="#1e1e1e" stroke-width="0.44" stroke-linejoin="round">x</text>
<text transform="translate(30.32,744.52) rotate(-90) scale(0.5888,0.5606)" font-family='"Liberation Sans", sans-serif' font-weight="bold" font-size="20" fill="#1e1e1e"  stroke="#1e1e1e" stroke-width="0.77" stroke-linejoin="round">1</text>
<text transform="translate(21.64,729.42) rotate(-90) scale(0.9171,1.1207)" font-family='"Liberation Sans", sans-serif' font-weight="bold" font-size="20" fill="#1e1e1e"  stroke="#1e1e1e" stroke-width="0.43" stroke-linejoin="round">,</text>
<text transform="translate(21.22,716.52) rotate(-90) scale(1.0663,0.9940)" font-family='"Liberation Sans", sans-serif' font-weight="bold" font-size="20" fill="#1e1e1e"  stroke="#1e1e1e" stroke-width="0.43" stroke-linejoin="round">x</text>
<text transform="translate(30.92,703.32) rotate(-90) scale(0.6699,0.5954)" font-family='"Liberation Sans", sans-serif' font-weight="bold" font-size="20" fill="#1e1e1e"  stroke="#1e1e1e" stroke-width="0.70" stroke-linejoin="round">2</text>
<text transform="translate(20.49,689.52) rotate(-90) scale(0.8561,1.0073)" font-family='"Liberation Sans", sans-serif' font-weight="bold" font-size="20" fill="#1e1e1e"  stroke="#1e1e1e" stroke-width="0.47" stroke-linejoin="round">)</text>
<text transform="translate(1.05,298.45) scale(0.5536,1.0333)" font-family='"Liberation Sans", sans-serif' font-weight="bold" font-size="20" fill="#111"  stroke="#111" stroke-width="0.66" stroke-linejoin="round">.</text>
</g>
</svg>
</body></html>
